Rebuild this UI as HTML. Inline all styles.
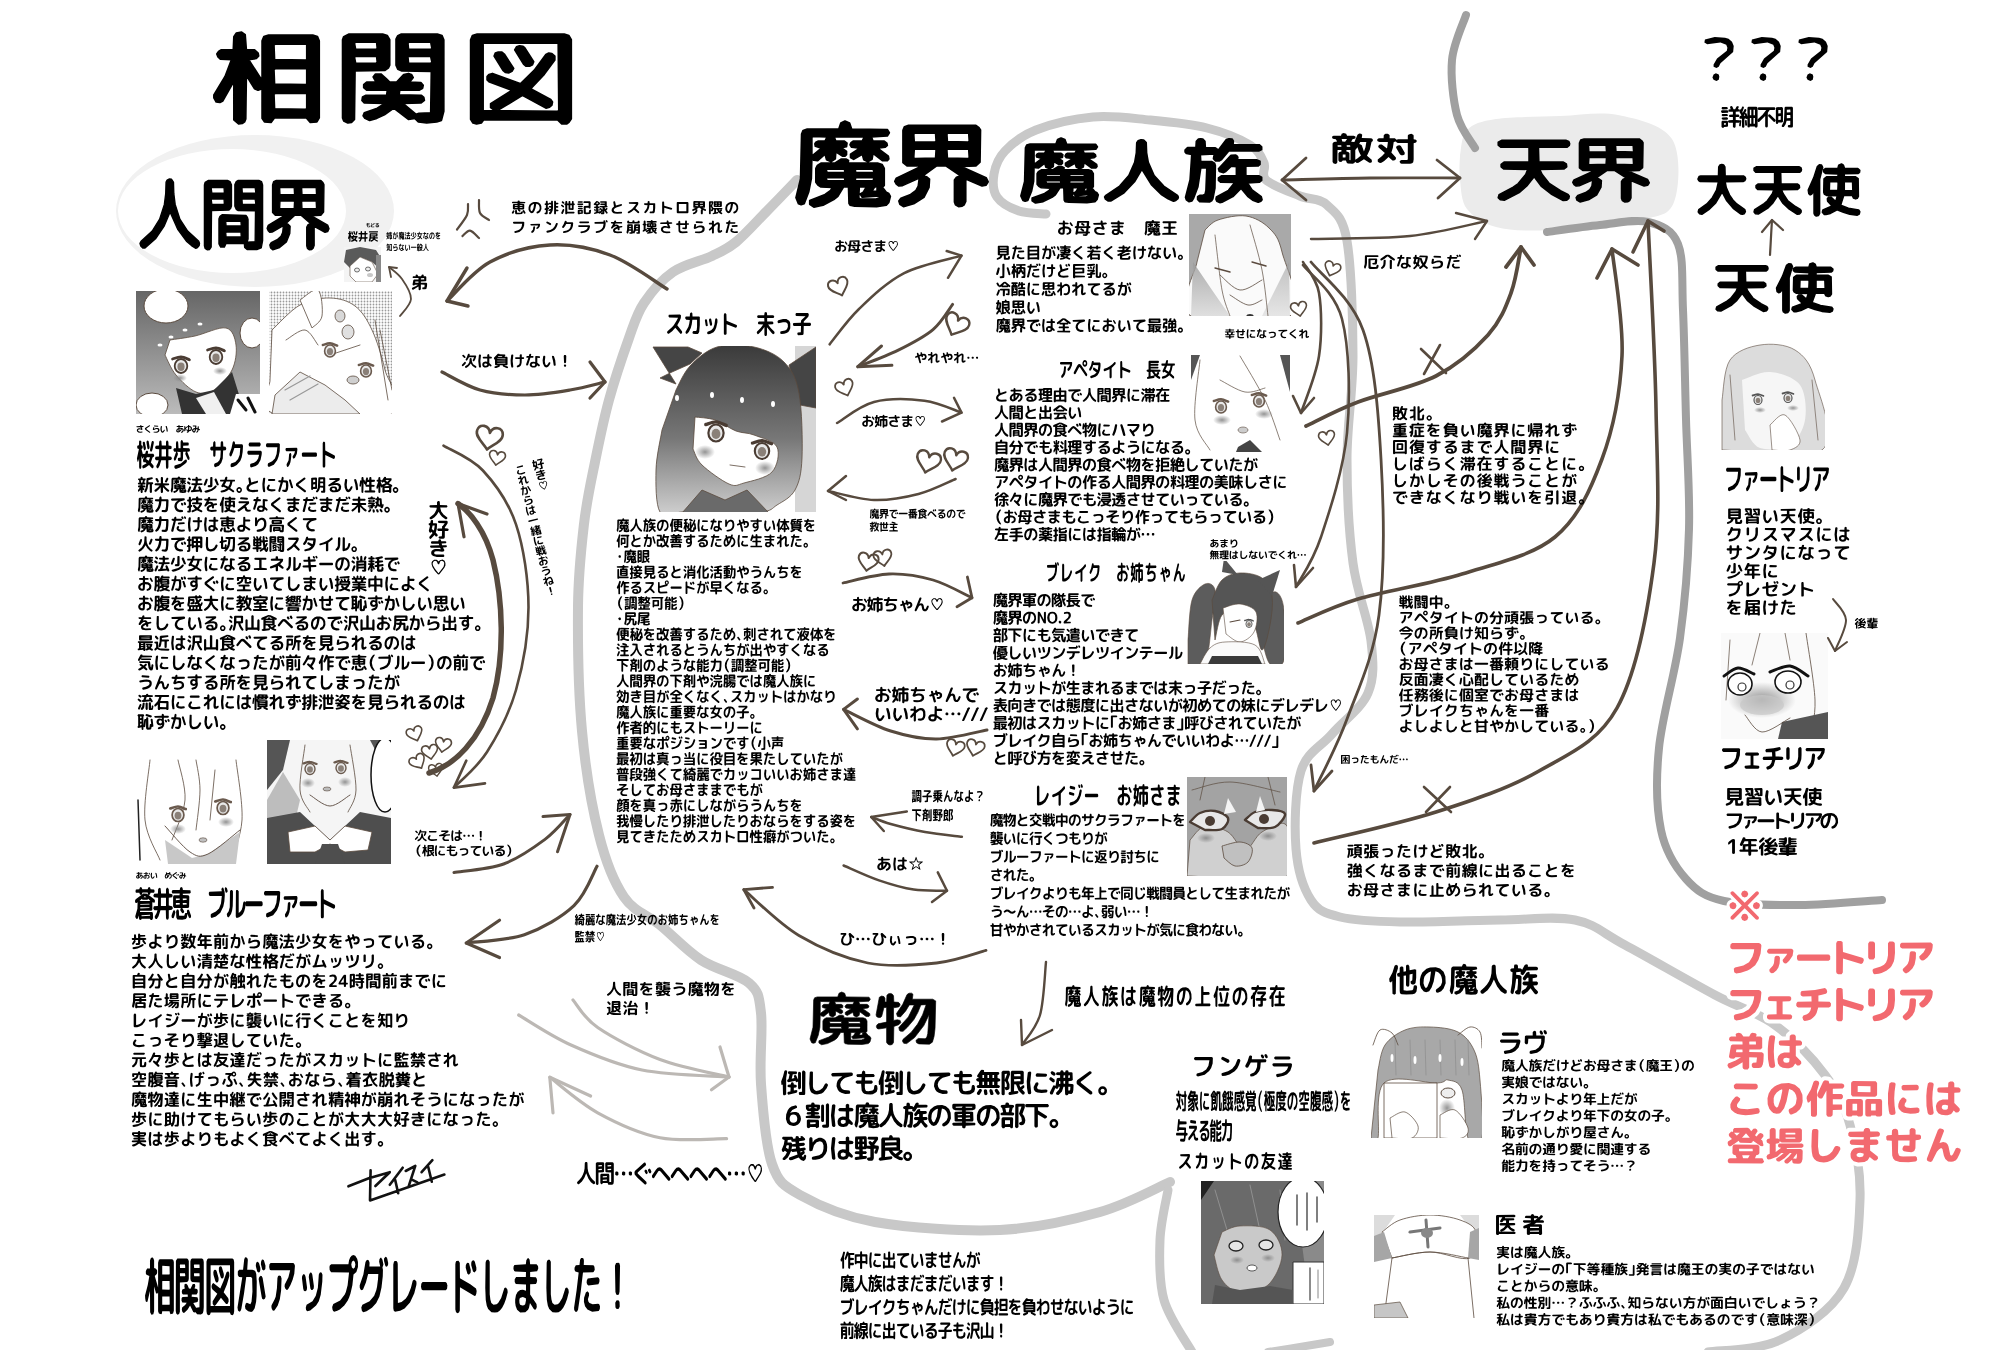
<!DOCTYPE html>
<html><head><meta charset="utf-8"><style>
html,body{margin:0;padding:0;background:#fff;width:2000px;height:1350px;overflow:hidden}
svg{display:block}
body{font-family:"Liberation Sans",sans-serif}
</style></head><body>
<svg width="2000" height="1350" viewBox="0 0 2000 1350">
<defs><path id="a" d="m27 145-5 3-6-1-4-8 0-6 19-36 11-33-19-1-4-4-2-6 3-5 4-3 21 0 1-26 4-7 9-2 6 5 2 30 14 0 6 6 1 6-4 5-13 2 23 41 0-78 3-8 8-3 75 0 8 3 3 8 0 151-4 8-11 1-7-9-54 0-6 9-11-1-4-7 0-58-7 3-6-3-14-26-1 85-2 6-4 3-6 1-8-8 0-76zm87-109 1 28 54 1 1-2 0-29-54 0zm0 48 1 28 54 1 1-2 0-29-54 0zm0 48 1 28 54 1 1-2 0-29-54 0z"/><path id="b" d="m14 178 0-153 2-6 9-5 57 0 8 3 4 8 0 50-2 5-6 5-51 1-1 95-5 6-6 1-7-4zm20-146 2 12 35 0 2-2-1-12-36 0zm0 27 2 12 35 0 2-2-1-11-36 0zm141-45 8 3 3 8 0 140-4 18-8 3-17 2-14-2-6-7-11 2-25-22-16 13-13 7-12 4-8-4-3-5 2-6 22-9 12-9-34-1-4-5 1-7 5-3 36 0 1-9-2-1-33 0-5-5 0-6 5-5 16 0-5-10 4-6 9 0 9 9 6 7 12 0 12-15 8-2 5 2 3 6-6 9 19 1 4 5-1 6-6 4-33 0-1 9 38 1 4 4 1 6-6 5-30 1 22 21 5-2 20-1 1-81-51-1-6-3-3-8 0-51 3-7 6-3zm-9 55-2-11-37 0-2 1 1 12 38 0zm0-27-2-12-37 0-2 2 1 12 38 0z"/><path id="c" d="m25 190-6-2-4-7 0-156 3-8 8-3 148 0 8 3 4 8 0 155-4 7-4 3-8 0-7-8-126 0-4 6zm11-157 0 131 127 1 2-2-1-131-127 0zm34 52-15-28 2-6 5-2 6 0 4 4 16 28-3 6-5 3-6-1zm35-12-15-28 3-6 5-2 6 1 3 3 15 27-2 6-5 3-6 0zm-58 35-4-4 0-7 3-4 6-2 48 20 23-26 20-31 5-3 5 1 5 5 0 8-18 28-23 28 34 21 3 5-1 6-4 4-6 2-40-25-40 28-8 1-6-5 0-8 36-26z"/><path id="d" d="m15 178-2-6 3-5 33-26 22-30 14-37 4-27 1-29 3-5 7-3 6 1 6 7 1 29 4 27 14 37 23 30 33 26 2 5-1 5-5 5-5 2-13-7-15-11-25-29-23-44-18 36-25 31-31 23-7 0z"/><path id="e" d="m14 178 0-153 2-6 9-5 57 0 8 3 4 8 0 53-2 5-6 5-51 1-1 92-5 6-6 1-7-4zm20-145 2 13 35 0 2-2-1-13-36 0zm0 28 2 13 35 0 2-2-1-12-36 0zm141-47 8 3 3 8 0 140-4 18-13 4-29 0-7-5-1-10-54 0-5 9-11 0-5-8 0-63 3-6 7-4 70 2 4 4 2 6 0 49-3 8 24-1 1-78-51-1-6-3-4-8 0-54 4-7 6-3zm-52 141-1-12-43 0-2 2 1 11 43 0zm0-28-1-11-43 0-2 2 1 10 43 0zm43-55-2-12-37 0-2 1 1 13 38 0zm0-28-2-13-37 0-2 2 1 13 38 0z"/><path id="f" d="m25 143-7 1-5-4-3-6 3-7 50-26-29 0-8-7 0-69 3-8 8-3 132 0 6 5 3 5-1 69-8 8-29 1 49 24 4 9-4 7-8 2-32-15 0 48-3 7-4 3-7 1-6-4-2-6 0-47 4-6 8-3-29-21-18 0-27 21 7 2 6 5-1 18-10 21-20 14-20 6-7-5-2-7 4-6 19-8 10-8 5-10 2-17zm87-110 1 16 41 1 2-2-1-17-41 0zm0 34 1 17 41 1 2-2-1-18-41 0zm-65-34 1 17 41 0 2-2-1-17-41 0zm0 50 2 2 41-1 1-17-2-2-41 0z"/><path id="g" d="m16 182-5-13 9-41 2-95 3-8 8-3 62 0 4-13 8-4 9 4 4 13 70 1 4 7-4 7-31 2 3 9 22 0 5 4 1 5-4 4-15 2 21 17 1 6-3 4-9 0-19-16-2 13-8 5-8-4-3-12-17 11-6-4 0-7 18-13-16-2-3-5 2-5 4-3 18 0 4-9-59 0 3 9 17 0 5 4-1 8-10 2 10 8 0 7-3 3-5 0-13-9-1 15-8 6-9-4-3-12-15 14-7-1-4-4-1 43-5 28-9 26-6 2zm28-144-2 2 0 40 19-17-12-4-1-5 2-4 4-2 14 0 4-9zm144 119 5 3 3 6-3 13-5 6-19 3-43-1-9-2-2-4-1-35-10 0-11 20-8 7-21 12-18 4-8-6 0-8 30-13 11-9 3-6-22-1-6-4-4-6 0-30 3-6 7-5 27 0 13-9 9 0 5 3-1 6 59 0 8 3 4 8 0 37-4 3zm-81-26-1-5-34 0-2 2 2 5 33 0zm0-18-1-5-34 0-2 1 2 6 33 0zm20-4 1 6 34 0 2-2-2-5-33 0zm0 22 2 2 33 0 2-5-2-2-34 0zm50 37-2-3-34 3-4-7 6-4 6-11-14 0-1 23 3 3 30 0zm0-22-12 0-5 9 10 0 0-6z"/><path id="h" d="m94 66-5 4-9 0-5-6 1-8 30-47 6-2 7 1 3 5 0 6-1 5 63 0 6 6 0 8-7 4-72 0zm1 121-5 1-7-4-2-6 1-6 29-19 15-22-34-1-5-5 0-7 7-6 36 0 0-26-13-1-13 15-5 3-10-3-2-8 30-38 11-1 4 4 1 4-2 6 48 0 7 4 0 9-4 4-30 1 0 25 2 2 29 0 7 4 0 9-5 5-29 2 11 20 22 19 2 9-3 4-6 3-13-6-12-11-16-23-20 24zm-45-20 5-3 2-11 2-61-1-2-14 0-7 54-10 31-4 8-7 2-6-5-2-7 11-50 4-71-13-3-3-4 0-6 6-7 20 0 1-18 5-6 5-1 5 1 5 6 1 18 24 1 4 3 1 5-1 6-5 3-35 2 1 20 27 0 6 4 2 7-1 64-5 30-3 6-5 3-23-1-5-6 0-8 5-4z"/><path id="i" d="m113 37-2 2 1 39 59 0 7 5 1 8-7 6-58 1 6 14 17 25 27 20 18 10 3 5-1 6-5 5-8 1-29-18-24-22-17-26-18 26-17 17-36 22-10-1-5-6 2-8 34-21 12-10 18-25 5-14-58-1-6-6 0-7 7-6 60 0 0-39-2-2-66 0-6-6 0-8 8-5 155 0 6 3 2 6-1 5-5 5z"/><path id="j" d="m17 40-5-1-4-5 0-7 3-5 5-2 33 0 3-11 9-5 12 4 4 12 31 0 8 5 0 10-5 4-9 2-6 16 15 2 14-44 8-8 9 1 5 6-2 20 40 1 7 2 4 6 0 10-6 5-8 47-13 36 22 24 1 12-4 6-8 0-25-21-25 21-8 1-8-7-3 8-8 4-23-1-5-6-3-13-15 0-5 8-9 1-6-8 0-44 5-7 9-3 0-9-17-1-1 1-1 75-6 8-11-2-5-9 0-112 6-8 15-3-6-15zm116 30 7 3 5 5 10 37 7-25 4-32-28 0zm-14 30-4 6 0 59 11-9 15-16-9-23-7-27zm-49 49 0-16-12 0-1 1 0 17 12 0zm23 14 0-56-19-1 0 10 9 3 5 7 0 41 4 1zm-2-85-16 0 1 9 16 0zm-39-38 3 16 13 1 9-17zm-19 39 1 8 16 0 1-1-1-8-16 0z"/><path id="k" d="m128 138-8 0-6-4-18-41 1-8 7-6 8-1 6 4 18 41-1 10zm-109-80-6-2-4-4 0-11 7-5 22-1 1-19 8-8 10 0 6 5 3 5 0 17 24 1 8 9 7-3 45-1 0-22 4-6 12-4 9 5 2 5 0 22 11 3 4 9-4 9-11 4 0 98-2 16-5 6-9 3-39 0-5-2-4-7-1-5 4-6 5-2 25 0 4-3 0-99-46-1-5-3-4-6-10 3-4 35-7 29 21 30 0 10-8 8-8 0-18-22-20 24-13 11-6 1-6-3-5-6 0-11 20-21 13-18-29-33-2-10 7-8 10-1 24 24 4-37-1-2z"/><path id="l" d="m186 60-3 6-5 3-66 1 4 21 12 26 12 17 14 14 29 20 2 7-4 7-7 2-5-1-28-20-23-26-17-31-23 38-25 24-25 16-8-2-5-6 2-8 29-20 20-22 15-26 7-30-67-1-4-3-3-5 4-9 6-2 64 0 1-32 4-6 7-2 7 2 4 6 1 32 66 0 6 4z"/><path id="m" d="m140 42-1 1 0 10 41 0 9 6 1 62-4 7-6 2-8-3-4-9-31 0-11 34 28 11 37 6 4 6-2 8-7 4-27-3-23-7-23-9-24 13-16 4-6 0-7-8 2-8 33-14-16-17-1-8 5-6 8 0 17 16 6-21-39-1-8-5-2-6 1-47 9-7 41 0 1-10-46-2-6-5 0-8 7-4 44 0 3-12 10-4 7 4 4 12 48 0 7 6-1 7-5 4zm-23 34-1-6-30 0-1 31 31 0zm23-6-1 1 0 30 29 1 2-2-1-30zm-110 110 0-78-9 12-5 2-5-4-2-13 20-43 13-39 7-6 8 1 4 8-11 42 0 119-4 7-8 2-6-4z"/><path id="n" d="m15 94-5-3-2-6 10-62 7-4 7 2 3 6 0 13 5 0 1-24 5-5 6-1 5 2 4 6 1 22 14 1 5 6-1 6-3 4-16 3 0 44 12-2 8 2 2 8-6 7-15 6-1 56-4 7-7 2-6-3-4-6 0-51-24 4-5-2-2-6 1-5 4-5 26-6 0-51-8 0-7 31-4 4zm142 74 5-5 3-13 4-66-16 38-28 42-24 21-9-1-4-8 2-6 25-25 19-28 15-32 11-36-16 1-9 26-12 25-20 27-13 14-7 0-4-3-2-10 29-37 18-42-15 0-11 21-16 21-9-2-3-10 19-32 13-34 6-5 8 0 4 4-2 17 62 0 9 6-2 96-3 28-5 20-9 7-32-1-7-4-2-8 7-7z"/><path id="o" d="m7 56-1-9 11-19 7-20 5-3 6 3 0 8-6 17-1 59-5 3-6-3-1-39-4 5zm87 10 4 2 1 5-2 12-5 6-8 2-21 1-16-1-5-3-1-7 0-42-7-1-2-7 2-3 7-2 0-14 4-4 5 0 3 2 1 14 8-2 0-16 3-3 5 0 3 4 1 12 17-3 5 2 0 24-2 15-2 3-4 2-6 0-4-3-1-6 6-4 1-19-10 2-1 33-3 4-5-1-3-4 0-29-8 1 0 43 11 2 18-2 3-3 2-10 3-2z"/><path id="p" d="m44 25-7 2-9 6-6 8-2 7-1 12 3 9 5 6 5-4 8-18zm-16 62-8-2-9-10-4-11 0-15 3-11 5-10 14-11 12-4 19-1 14 4 12 10 6 14 1 20-7 16-8 8-11 5-6-2-1-6 2-3 7-4 8-7 4-10 0-7-2-9-4-8-7-6-9-3-6 31-7 18-8 11z"/><path id="q" d="m9 91-4-8 4-19 1-48 2-4 4-2 30 0 2-5 4-3 7 2 2 6 33 1 3 4-2 4-14 2 1 3 10 0 3 2-1 6-7 1 9 7 1 3-2 2-5 1-7-7-2 5-3 2-5-1-2-5-6 4-4 0-2-2 0-3 9-6-5-1-3-2 1-4 2-2 8 0 1-3-27 0 1 3 8 0 3 2-1 5-4 2 3 3 0 3-4 2-5-3-1 6-5 2-4-2-2-4-5 5-4 1-2-3 0-3 8-7-5-2-1-4 3-3 7 0 1-3-14 0-2 51-5 19-3 2zm67 4-18-2-2-20-3 1-5 9-8 7-13 5-6-3 0-6 14-5 5-7-10-1-4-3 0-20 4-2 13-1 4-2 11-1 1 3 29 0 4 3 1 23 2 5 4 3-1 8-2 3-4 2zm11-12-18 1 13 2zm-18-6 3 1 2-5-5 0zm12 0 5 0 1-2 3-2-7 0zm-16-22 1 2 14-1-1-2zm0 9 1 2 14-1-1-2zm-12 1-1-2-14 1 1 2zm0-9-1-2-14 1 1 2z"/><path id="r" d="m8 90-2-4 1-3 12-10 9-9 7-10 5-11 3-13 1-21 2-3 3-1 5 0 3 3 1 22 3 13 5 11 7 10 9 9 12 9 0 6-2 3-5 1-13-8-12-14-11-21-9 17-12 15-15 11-3 0z"/><path id="s" d="m91 11 4 1 2 3-1 4-2 2-36 1-8 11-4 3-7-3 0-7-15 1 0 8 13 1 5 4-1 37-3 15-4 2-9-1-5-4 1-5 7-4 2-18 0-15-6 0-4 26-5 18-5 2-5-6 5-26 2-34-6-2-2-5 4-4 9-1 0-7 2-4 8 0 3 4 0 7 10 1 4 4 8-14 5-3 6 2 0 6zm-46 71 11-6 6-9-13-1-4-4 1-4 3-3 16 0 0-11-4 0-7 8-5-1-3-4 1-4 12-15 7-2 3 2 0 5 21 0 4 3 0 4-2 3-13 2 0 10 14 0 4 4-1 4-3 3-12 1 5 8 10 9 1 4-3 4-4 2-5-3-13-16-10 11-13 8-4-1-3-4 0-4z"/><path id="t" d="m31 24-5-3 1-5 17-4 18 1 6 2 6 5 3 7-1 10-22 19-3 6-4 2-5-2 0-4 6-10 17-13 1-5-2-5-10-4zm15 49 5 2 1 4-1 5-4 2-5-2-2-4 2-5z"/><path id="u" d="m68 95-3-1-3-3 0-17-20 0-4-4 0 17-3 4-17 1-3 4-5-1-4-3 0-22 3-4 24-1 5 4 1-4 3-2 20-1 0-12-16 0-4-4 1-3 3-3 16-1 0-11-18 0-4-4 0-4 2-2 9-1-3-8 2-4 6-1 4 3 5 10 8 0 7-11 8-2 3 4-4 8 6 2 3 3-1 3-3 3-16 1 0 11 14 0 4 6-1 3-3 2-14 0 0 12 18 1 3 3 0 4-5 4-16 0-1 18-3 3zm-57-77-5-4 1-3 2-3 23 0 5 3 0 3-3 3zm-2 15-3-2-2-2 0-4 3-3 28 0 5 4 0 3-3 3zm3 14-5-4 0-3 3-3 23 0 5 4-1 3-2 2zm0 14-5-4 0-3 3-2 23-1 5 4-1 3-2 3zm15 21 0-7-9 1 0 6z"/><path id="v" d="m4 85 3-21 4-2 4 4-3 22-6 1zm35 1-3 0-2-3-1-18 4-4 4 2 2 19-1 3zm50-79 4 2 2 4 0 76-3 5-8 0-3-4-24 0-3 4-7-1-2-4 0-32-5 1-3-2-7 1 0 35-4 3-5 0-3-5 0-33-10 0-3-4 2-6 8-3 0-2-9-13-1-5 3-7 5 1 7-12 5 0 3 4-8 19 2 3 9-15 4-1 3 1 2 5-6 11 7 2 4 13 0-35 1-4 4-2zm-55 38-2-8-5 8zm30 33 0-24-7 0 0 24zm0-36 0-23-7 0 0 23zm18 36 0-24-7 0 0 24zm0-36 0-23-7 0 0 23z"/><path id="w" d="m68 39 27 22 1 5-3 3-4 2-3-1-27-23-1-4 3-4 3-1zm-61 30-2-5 1-4 25-20 18-19-38-1-4-5 2-5 4-1 76 0 3 1 2 4-1 3-3 3-24 0-9 12 0 57-2 4-7 1-4-4 0-44-30 25-4 0z"/><path id="x" d="m87 7 3 1 2 4 0 76-1 4-3 2-17 0-4-3 0-5 3-3 5 0 4-1 0-16-18-1-5 15-9 12-7 0-3-2 0-4 8-13 3-9 3-54 4-3zm-7 47-1-13-17 0 0 9 0 5zm0-24-1-12-17 1 0 12zm-67 49-3-1-2-4 0-62 4-3 26-1 3 2 2 3 0 57-5 3-18 0-2 5zm7-58 0 14 12-1 0-14zm0 26 0 15 12-1 0-15z"/><path id="y" d="m8 71-3-9 11-30-8-1-2-6 3-4 7-1 1-12 3-3 3 0 6 3 0 12 6 1 2 4-1 5-6 2 7 16 13-1 4-8 6-2 6 3-2 7 30 0 4 3 1 3-1 3-8 3-9 16 14 9 1 5-4 4-5 0-16-10-19 8-14 3-4-5 2-5 22-7-9-4-5 2-4-2-2-6 5-8-3-1-3 4-3 0-5-8 0 36-2 4-5 1-3-1-2-4 0-28-5 10-2 1zm47-7 14 5 5-7 2-4-17 0zm-14-55 4 0 3 2 6 17-1 5-5 3-3 0-3-3-5-17 0-5zm21-4 4 1 3 2 5 18-1 5-4 2-4 0-3-3-5-18 1-4zm31 2 4 2 0 4-7 21-4 6-7 0-2-2-1-3 9-25 3-3z"/><path id="z" d="m10 68-3-2-3-3 3-6 19-1 1-23-18-1-4-3 0-3 4-4 17-1 1-12 3-3 5-1 4 2 2 14 23 0 0-12 4-4 4 0 5 4 1 12 15 2 2 4-2 5-16 1 0 22 15 2 3 3 1 3-5 4-14 1 0 22-3 4-6 1-4-4-1-23-25 0-9 17-8 8-5 0-4-3-1-4 9-10 4-8zm30-34 0 22 24 0 0-23-23 0z"/><path id="A" d="m10 41-4-3-1-5 4-3 10 0 0-17 3-5 6 0 3 4 2 18 11 0 0-21 4-5 7 1 3 7 28 0 3 4-2 5-29 1 0 7 32 1 4 2 1 5-3 3-12 1 13 19-1 5-4 2-5-2-13-16 0-4 4-4-16 0-1 21-2 6-6 3-17-1-3-4 1-5 14-2 0-17-20-1 5 4 0 5-12 18-6 1-3-3-1-4 13-21zm59 25 6-1 4 4-2 5-8 5-28 12-23 4-7-3-1-4 2-4 34-6z"/><path id="B" d="m12 37-5-3 0-6 4-3 11-1 1-12 5-4 4 0 3 3 1 14 27 0 1-14 4-3 6 0 3 4 1 12 12 1 4 5-1 4-3 2-13 1-2 25-8 14-13 9-20 5-6-3 0-6 3-3 16-4 10-6 5-10 2-21-28 0-1 16-2 3-5 1-3-1-2-3 0-16z"/><path id="C" d="m14 54-2-3 0-4 11-17 7-19 3-3 8 1 2 8 39 0 4 5-2 20-5 16-8 12-19 13-17 5-12 2-4-2-1-5 3-5 23-5 15-9 9-14 3-21-32 0-7 13-9 12-4 2z"/><path id="D" d="m16 50-4-2-2-4 1-4 4-2 68 0 4 1 2 4-1 7-6 17-13 13-13 6-26 5-4-3-1-6 3-3 19-3 13-6 9-8 5-12zm7-38 55 0 4 3 1 4-3 4-3 1-55 0-4-3-1-4 3-4z"/><path id="E" d="m18 27-4-2-2-4 1-4 4-3 66 0 5 3-1 22-6 17-8 12-18 14-27 7-6-3 0-6 2-3 22-6 15-9 9-14 4-21z"/><path id="F" d="m24 39-3-1-2-4 1-3 3-2 57-1 3 2 1 4-3 13-10 13-8 3-4-3-1-4 9-9 4-8zm20 6 5 1 2 4-2 14-3 10-5 8-7 6-5 1-3-3-1-6 11-12 3-20z"/><path id="G" d="m14 57-4-2-1-4 0-5 5-3 72 0 4 2 1 4 0 5-5 3z"/><path id="H" d="m28 91-4-1-1-4 0-72 3-5 6 0 4 3 1 25 51 16 2 3-1 5-3 2-3 1-46-13 0 36-3 4z"/><path id="I" d="m69 25-4-1-2-6-24 0-3 6-4 1-5-1-3-5-16 0-2-4 2-5 16-1 2-4 4-2 5 1 3 5 25 0 3-5 5-1 4 2 2 4 16 1 3 4-3 5-16 0-3 5zm-58 23-4 0-3-3 0-4 3-4 36-16 17 1 34 15 3 3 0 4-2 3-10-1 0 21-4 3-53 0-1 3 56 0 3 1 2 4 0 13-4 5-7 0-3-4-39 0-2 3-7 1-4-5 0-8-6 9-5 1-5-4-1-4 10-21 1-18zm23 34 1 3 40-1-1-3zm38-20-1-2-43 0 1 3zm0-10-1-2-43 1 1 2zm-28-20 13 0-3-2-4-2zm-19 10 51 0-11-6-2 3-24 0-3-3z"/><path id="J" d="m42 26 1-5-34 0-3-3 0-4 4-3 33 0 2-6 6-2 5 2 2 6 35 1 2 6-4 3-34 1 1 3 25 1 4 2 1 3-1 28-4 3-28 0 9 9-2 4-4 2-4-1-8-7 0-4 3-3-32 0-5-4 0-27 2-4 4-1zm1 26 0-4-18 0 0 5zm0-13 0-4-18 0 0 5zm14-4 1 5 18-1-1-4zm0 13 1 5 18-1-1-4zm-50 42-2-3 0-5 8-13 6-1 4 6-4 9-5 8zm89-7 0 5-5 3-5-2-7-11-2 10-5 5-17 2-23-1-5-5-1-18 4-5 6 0 3 4 1 12 1 2 23 0 5-8 8 0 0-7 5-3 5 2z"/><path id="K" d="m14 28-3-1-2-4 0-4 3-3 58-1-2-5 1-3 4-3 4 1 6 11 1 9-2 18-5 15-14 17-21 11-20 4-4-3 0-7 3-2 21-6 15-9 9-14 4-21zm80-22 3 7 0 3-4 3-5-1-4-8 0-4 4-3z"/><path id="L" d="m55 90-3-1-2-4 1-71 2-3 6 0 5 4 0 61 8-4 6-5 4-8 3-12 4-4 6 2 2 4-3 13-4 9-6 8-8 5-10 4zm-45-4-2-7 9-8 5-11 1-45 4-4 6 0 4 4 0 16-1 25-3 14-5 9-8 7-5 3z"/><path id="M" d="m13 84-1-3 2-4 23-15 9-8 15-18 7-10-45-1-4-5 2-6 57-1 5 4-1 10-6 11-12 16 24 23 1 5-3 4-4 2-3-2-25-22-16 13-17 10-4 0z"/><path id="N" d="m17 33-5-4 0-6 4-2 19 0 1-11 5-4 4 0 3 3 1 12 33 0 4 2 0 30-3 26-3 5-4 4-14 0-11-1-2-3 0-4 4-4 13 0 4-3 2-13 0-27-24 0-3 18-5 14-10 15-10 8-6-3-1-5 15-20 4-11 3-15z"/><path id="O" d="m78 28 5 4 0 11-6 20-6 10-8 8-18 7-10 1-3-2-2-3 3-5 18-6 11-8 6-13 4-21 2-2zm-55 26-4-19 5-4 4 1 2 3 4 20-2 2-4 1-3-1zm28 2-3 0-3-3-5-17 1-5 4-2 3 0 3 2 5 18-1 5z"/><path id="P" d="m7 86-2-4 2-4 18-13 13-13-24-1-3-4 1-4 4-3 28 0-1-13-32 0-4-4 1-5 4-2 31 0 2-10 7-2 5 3 1 9 31 0 5 4-1 4-3 3-32 0 0 13 27 0 4 3 1 5-4 3-23 1 13 13 18 13 2 5-2 4-6 2-7-5-24-22 0 28-3 5-7 0-3-4 0-30-14 14-16 13-4 1z"/><path id="Q" d="m18 42 1-4 3-3 24-4 17 0 14 6 4 5 2 6 0 18-4 7-6 7-9 4-12 3-14 1-6-2 0-7 4-2 21-3 9-4 5-10-1-10-5-5-7-2-12 0-23 4-3-2z"/><path id="R" d="m10 57-4-1-2-4 0-3 3-3 37-1 2-10 22-15-47-1-3-2-1-3 1-4 3-2 58 0 3 1 3 5-3 8-23 18 0 5 33 0 3 3 1 4-2 3-3 2-32 0-1 29-1 4-4 2-22 1-3-2-2-3 1-4 2-2 15-1 1-24z"/><path id="S" d="m34 55-9 5-5 6 1 8 7 4 4 0 3-2zm-3 35-9-2-8-4-5-7-2-8 2-9 5-7 9-6 12-4 0-14-20-1-3-3 0-5 4-2 19 0 1-10 3-2 4-1 4 4 1 8 18 1 4 4-1 4-4 2-17 0 0 12 19 2 13 8 6 11-2 16-8 8-12 5-5 0-2-4 0-4 14-8 2-6 0-6-3-4-6-4-16-1-2 30-5 5zm54-72 10 16-1 4-3 2-6-3-10-16 4-5 3 0z"/><path id="T" d="m8 50-4-2-1-5 3-4 8-1 3-25 3-4 66-1 3 5-2 25 7 2 3 4-3 5-9 2-2 19 9 2 1 4-1 4-10 2-4 11-8 4-16-1-4-5 3-4 14-1 1-4-47 0-3 6-8 1-3-5 6-33zm22-31-2 20 45 0 2-21zm-4 32-3 20 47-1 2-20zm17-21-3-6 6-4 3 0 11 7 2 6-5 5-3-1zm-4 31-3-3 0-3 6-4 15 9 2 6-5 4-4-1z"/><path id="U" d="m15 30-3-1-2-3 0-4 3-2 40-2 1-10 2-2 5 0 4 3 1 9 19-1 5 4 0 5-4 2-18 2 9 21 0 4-3 3-6 2-17-6-13 1-8 4-2 6 3 8 8 5 14 2 22-1 3 5-2 5-23 2-21-3-10-7-6-9-1-11 3-8 7-6 10-4 12 0 14 3-6-16z"/><path id="V" d="m39 81 9-3 3-6-1-3-10-2-7 1-4 4 3 7zm-22-54-4-1-2-3 0-4 3-3 36 0 1-7 5-3 6 2 2 8 23 1 2 5-4 5-22 0 1 9 17 0 3 2 1 3-1 4-3 2-17 0 0 16 20 15 0 4-2 4-6 1-13-11-6 11-9 4-16 0-10-4-4-6-2-5 3-12 5-5 8-3 18 1 1-10-32 0-4-4 0-4 4-3 31 0 1-8z"/><path id="W" d="m12 90-4-1-2-3 1-4 3-3 33-1 0-24-24-1-3-2-1-3 1-4 3-2 24 0 0-20-31-1-4-4 2-6 4-1 72 0 4 1 2 3-1 4-3 3-31 1 0 20 24 0 3 2 1 4-1 3-3 2-24 1 0 24 33 1 4 4-2 6-4 1z"/><path id="X" d="m17 25-3-1-3-4 1-4 4-3 71 0 4 2 1 3-2 12-11 18-9 7-3 1-5-2-2-7 12-11 6-11zm26 8 5 1 3 4-2 19-4 13-7 10-10 8-4 1-4-3-1-6 13-14 4-13 2-16 2-3z"/><path id="Y" d="m7 69-2-2 1-5 22-31 8-7 7-1 6 1 6 5 39 41 1 5-4 6-6-1-38-40-5-3-25 33-5 2zm67-44 5 2 5-2 2-5-2-5-5-2-5 2-2 5zm-6-16 5-4 6-1 6 1 6 4 3 5 1 6-1 6-3 5-6 4-6 1-6-1-5-4-4-5-1-6 1-6z"/><path id="Z" d="m13 54-2-3 0-4 12-17 6-19 3-3 8 0 1 8 41 0 4 4 0 12-3 18-7 15-10 11-13 8-28 7-4-1-2-3-1-4 2-3 25-7 15-10-22-12-2-3 0-3 3-5 4 0 25 11 4-22-35-1-6 14-9 11-4 2z"/><path id="ab" d="m10 53 0-4 3-3 20-5 17-7 16-9 16-12 4 0 3 3 0 7-26 19 0 44-4 5-7 0-3-4 0-39-32 9-5-1z"/><path id="bb" d="m10 60-5-2-1-5 3-3 10-1 0-37 2-4 3-1 60 0 4 4 0 4-4 3-51 0 0 4 49 0 3 4-3 5-49 0 0 5 49 0 3 4-3 4-49 0 0 5 62 1 3 3 0 4-4 3-10 0 5 4 0 4-8 10 15 7 0 6-5 3-13-5-19-10 0 6-4 4-44 5-2-4 0-4 10-4 0-21zm45 0 12 12 11-12zm-25 1 1 20 24-4-16-17z"/><path id="cb" d="m10 31-3-1-2-3 2-6 25-1 5-13 4-3 5 0 3 3-2 13 46 1 2 4-2 5-13 1-6 21-8 15 23 16 1 6-3 3-5 0-24-16-12 8-14 6-17 3-4-1-3-4 3-5 21-5 14-9-20-9-6 3-6-2-1-6 15-24zm56 0-23 0-11 19 22 10 8-12z"/><path id="db" d="m23 90-4-2-2-4 0-68 3-5 7-1 5 5 0 61 11-1 14-6 7-5 9-11 6-11 4-3 6 3 1 6-7 13-13 15-17 9-14 4z"/><path id="eb" d="m8 31-4-3-1-4 3-4 6-1 1-11 4-3 5 0 2 3 0 12 11 0 2-4 3-3 20 0 1-6 5-3 6 2 1 7 19 0 4 3 1 4-3 4-21 2 0 9 17 0 4 4 1 37-2 8-5 3-15 0-2 8-4 1-5-1-2-4 0-45-8 1-1 37-2 3-5 0-3-2-1-3 0-43 5-4 15 0 0-10-21 0-2 21-5 19 6 11 0 5-3 4-4 0-5-7-9 11-7 5-4-1-1-7 14-19-4-5-3 3-3 0-4-6 5-28zm65 16 0 28 9 0 0-28zm-55 1 5 6 2-4 2-19-5 0z"/><path id="fb" d="m15 29-5-3 1-6 4-2 16 0 3-9 4-3 4 0 3 3 0 9 41 0 3 2 1 4-1 3-3 2-44 1-6 16 14-4 11 0 11 3 10 8 3 12-1 8-3 6-10 7-12 4-14 1-17-2-4-5 2-5 26 1 9-2 9-7 1-10-3-5-12-3-11 2-14 5-8-1-3-6 9-23z"/><path id="gb" d="m22 59-5-1-2-5 2-3 11-5-3-12 2-4 4-2 4 2 5 12 9-3-1-10 3-3 4-1 4 3 2 7 10 0 7 2 6 5 3 6 0 11-4 7-8 6-9 2-7-1-2-6 3-4 9-1 5-3 1-9-5-4-6 0 1 7-4 4-6-2-3-6-9 3 10 34-1 4-3 2-4 1-4-3-9-33z"/><path id="hb" d="m13 90-3-3 0-5 28-70 3-3 7 0 2 5-12 31 10-3 9 3 5 8 4 21 4 4 2 0 4-4 6-14 2-3 5-1 3 3 1 4-6 16-10 10-12 1-7-5-4-7-4-20-5-4-5 2-5 5-15 27-3 2z"/><path id="ib" d="m87 26 3 2 1 4-5 17-8 14-9 10-13 8-24 8-12 1-3-2-2-4 1-3 3-3 24-5 17-9 11-14 8-22 3-2zm-8-6-5 0-4-7-1-4 3-3 6 1 4 7 0 4zm15-13 4 7-1 3-4 3-4-1-5-8 1-4 4-3zm-78 40-3-2-2-3 2-4 3-3 24 5 4 1 1 4-1 4-3 2zm30-32 3 2 2 3-2 5-2 2-26-4-3-2-2-4 2-4 3-2z"/><path id="jb" d="m77 10 3 1 2 4 0 23-1 15-7 17-7 9-17 9-16 3-4-2-1-4 2-5 19-6 7-5 6-6 3-8 2-11 0-29 4-4zm-54 45-3-1-2-4 0-34 3-5 5-1 3 1 3 4 0 35-3 5z"/><path id="kb" d="m24 87-5-4 0-4 2-3 23-1 0-34-20-1-3-4 1-4 4-3 48 0 5 4 0 4-3 3-20 1 0 34 22 1 3 4-1 4-4 3z"/><path id="lb" d="m13 56-4-1-2-4 1-4 3-3 36-1-1-15-25 0-3-5 3-6 31-3 26-4 4 3 0 6-15 6-7 1 1 17 28 1 4 3 0 5-5 4-28 0-7 20-11 10-14 5-4-3-2-5 2-3 10-4 6-5 4-6 2-9z"/><path id="mb" d="m19 25-3-2 0-4 2-4 4-2 24 11 2 3 1 4-3 4-4 2zm69-3 3 2 2 4-6 17-7 13-10 11-21 12-16 5-12 1-3-2-1-4 0-4 3-2 23-6 17-10 12-14 9-21 3-2z"/><path id="nb" d="m72 5 6 1 4 6 0 5-3 3-5-1-4-7-1-4zm22 1 3 7 0 3-4 3-4-1-5-8 0-4 5-3zm-85 47-2-3 0-3 9-17 6-18 3-4 5 0 4 3-1 12 56 0 3 5-3 6-20 1-2 22-4 11-10 12-14 8-10 1-2-2-1-5 2-3 14-6 7-8 5-13 1-17-26 0-11 19-5 1z"/><path id="ob" d="m16 55-3-1-3-4 1-24 4-3 26 0 0-12 4-4 5-1 4 3 1 14 28 0 4 2 1 4-1 18-5 19-12 13-12 7-24 5-5-3 0-5 3-4 20-4 12-8 8-11 2-10 0-11-50 0-1 16-3 4zm54-50 6 1 4 6 1 5-3 3-6-1-4-7 0-4zm23 1 3 7 0 3-4 3-5-1-4-8 0-4 4-3z"/><path id="pb" d="m14 95-4-1-2-4 0-78 3-5 77-1 5 4 0 4-4 3-42 0 1 5 36 0 4 2 0 4-2 3-21 1 0 10 23 1 4 2 0 5-3 2-22 1 7 10 15 8 1 3-1 4-6 2-7-3-7-5-10-11-15 14-12 5-5-2-1-5 16-10 8-10-23 0-3-3 0-4 4-3 24-1 0-10-10 0-7 7-7 0-2-2 0-4 10-16-15 0 0 63 69 1 3 2 1 4-4 4-69 0-2 4z"/><path id="qb" d="m9 41-5-4 0-3 3-3 32-1-1-8-23-1-3-3 2-5 3-2 21 0 2-5 4-3 7 2 2 6 16 1 4 6 9-9 5 0 4 3 0 4-14 14 15 1 4 4 0 4-3 2-30 0-10 7 30 0 4 3 1 39-2 3-3 2-7 0-2-4-39 0-3 4-9-1-2-4 0-26-12 3-3-3-1-5 3-4 32-14zm65 40 0-6-40 1 1 5zm-22-59 1 8 4 1 11-9zm22 37-39 0 0 6 39 0z"/><path id="rb" d="m15 147-3-8-1-10 17-33 10-28-18-4-4-4 0-8 8-8 18 0 0-25 5-7 9-3 8 4 4 6 0 24 12 2 7 6 0 6-2 5-13 6 21 36 0-78 5-9 7-2 77 0 7 3 3 6 0 153-5 9-15 2-4-3-3-6-46 0-2 7-4 2-15-2-5-7 0-59-6 4-7-2-12-21 0 78-5 9-12 2-8-8-1-67-16 34-6 1zm104-109 0 25 45 0 2-2-1-24-45-1zm0 48 0 24 45 1 2-2-1-25-45 0zm0 47 0 25 45 0 2-1-1-25-45 0z"/><path id="sb" d="m23 190-8-4-3-8 1-158 9-7 61 0 6 2 5 6 0 55-2 6-8 5-46 1 0 92-5 7zm15-156 1 9 31 0 2-2-2-9-31 0zm0 27 1 8 31 0 2-2-2-8-31 0zm139-48 8 3 3 8 0 142-2 12-4 7-12 4-24-1-9-6-8 1-7-2-20-20-15 12-19 10-6 1-8-3-4-7 2-7 19-8 10-7-28-1-5-6 1-8 6-3 33-1-1-7-30 0-6-4-1-6 3-6 16-3-3-6 2-8 10-1 8 4 9 11 10 1 14-15 13 0 3 6-5 8 16 2 4 4 0 7-7 6-30 0-1 7 36 2 5 7-4 8-27 3 18 15 21-2 1-78-48-1-8-5-2-6 0-54 3-6 7-3zm-15 54-1-8-33 0-2 2 2 8 33 0zm0-26-1-9-33 0-2 2 2 9 33 0z"/><path id="tb" d="m24 191-8-4-3-8 0-157 5-7 6-2 152 0 8 3 3 8 0 155-3 8-7 4-11-1-6-7-120 0-5 7zm15-156 0 127 121 0 1-1 0-127-121 0zm29 48-11-19-1-8 3-5 6-3 8 1 4 4 12 21 0 7-3 5-7 3-7-2zm34-12-11-19 0-9 3-4 7-2 7 2 4 5 10 18 0 7-4 5-5 2-7-1zm-51 39-5-4-1-7 4-6 7-3 44 17 20-23 19-28 10-3 7 5 1 10-16 27-20 24 17 11 11 7 3 5 0 7-7 7-9 0-32-20-34 24-9 2-9-6 0-9 29-23z"/><path id="ub" d="m132 39-1-5 2-6 4-4 6-1 8 4 8 14 1 6-2 6-4 3-6 1-8-3zm37-22 6-1 7 2 10 18-1 10-9 5-10-3-9-17 1-8zm-142 54-5-2-4-4 0-11 8-6 25 0 7-32 5-6 6-1 8 2 4 6-4 31 32 0 14 3 6 3 5 8 3 23-1 45-3 19-9 20-12 10-10 2-19-2-17-7-3-9 5-9 7-2 22 5 7-8 6-32-2-42-7-4-30 0-14 52-17 49-5 6-7 2-9-4-3-9 30-95zm147 3 19 58-4 7-8 3-9-2-4-6-19-57 4-6 9-4 7 2z"/><path id="vb" d="m34 50-7-2-4-8 2-9 7-4 143 0 6 3 4 6-4 25-10 18-14 17-16 14-8 2-9-5-4-6 1-6 23-23 11-22zm52 16 10 2 5 8-3 38-8 27-13 20-21 15-9 1-7-5-3-7 1-5 19-18 7-9 8-27 3-32 4-6z"/><path id="wb" d="m155 56 6 2 5 6-1 21-10 42-12 20-17 14-37 15-19 3-7-4-2-7 5-10 37-11 21-17 13-25 6-42 5-5zm-110 52-8-33 1-6 5-5 6-2 7 3 4 6 9 33-1 6-5 5-7 1-7-2zm58 4-7 0-6-5-10-36 2-8 7-6 8 1 5 5 10 36-1 8z"/><path id="xb" d="m159 41 9 4 9-4 4-9-4-9-9-4-9 4-4 9zm9-39 12 2 12 10 5 10 0 16-10 15-18 8-7 34-12 26-8 12-9 10-22 16-28 12-16 4-19 3-7-2-4-5-2-8 7-9 43-11 29-19 7-8 11-21 9-40-113-1-9-7-1-9 2-5 9-4 108 0 4-13 7-8 9-6z"/><path id="yb" d="m189 13 6 14-1 6-7 6-9-2-9-16 0-8 9-6 7 2zm-168 97-5-6 0-7 23-34 13-38 5-6 11-2 6 3 4 6-1 12 68 0-7-15 2-8 5-4 5-1 9 7 6 15-6 9 3 7-1 21-8 35-13 28-20 21-27 15-34 11-20 3-9-4-4-11 7-9 45-11 29-17 13-17 5-11 6-24 2-16-64 0-14 26-18 22-8 3z"/><path id="zb" d="m46 180-8-3-3-8 0-137 4-9 5-2 11 0 6 4 2 5 1 123 23-3 27-11 14-11 18-23 11-22 9-4 13 5 2 6-1 6-13 26-27 29-34 19-28 7z"/><path id="Ab" d="m29 113-8-3-4-8 2-10 8-5 144 0 8 3 4 8-2 10-8 5z"/><path id="Bb" d="m114 27 6-1 7 2 11 21-1 9-11 6-9-3-11-19 1-9zm50-3 9 17 0 9-11 7-10-3-11-20 0-8 4-5 8-3 7 2zm-111 161-8-4-4-8 0-142 2-6 4-4 14-1 8 6 1 49 65 19 36 13 4 8-2 8-4 6-7 2-92-28-1 73-5 7z"/><path id="Cb" d="m97 183-21-1-21-10-9-11-6-18-3-37 2-80 3-6 7-3 9 0 7 6 0 102 4 17 6 11 14 5 19-1 10-4 19-16 20-31 10-2 9 6 2 9-11 21-11 15-13 13-14 8-15 6z"/><path id="Db" d="m78 161 11-1 7-3 5-13-1-6-19-4-15 2-5 3-2 5 1 9 4 5zm-45-107-6-2-5-6 1-8 5-5 72-2 3-13 8-6 7 0 6 5 3 14 40 0 6 3 4 4 1 6-7 9-44 2 0 16 36 1 5 4 3 6-3 7-5 4-36 1 0 32 40 30 2 9-6 8-11 0-26-20-6 15-6 6-17 8-32 1-20-9-9-12-3-10 0-10 5-14 10-10 16-6 18-1 19 3 0-19-64-2-7-6 0-9 9-7 61 0 1-16z"/><path id="Eb" d="m109 98-7-3-4-6 1-7 6-6 63-4 7 2 4 6-1 7-6 7zm61 57 7 2 5 6-1 9-7 6-41 2-30-7-15-10-7-14 1-13 11-16 10-4 10 5 0 8-7 12 3 7 7 5 20 4zm-143 25-7-5-1-7 16-55 13-56-21-3-5-5 0-7 8-8 23-1 4-16 6-6 10 0 6 3 2 6-1 13 61 1 6 5 2 9-5 6-5 2-64 1-14 60-17 57-7 6z"/><path id="Fb" d="m99 128-7-2-5-8-3-82 7-9 15-1 6 2 4 8-3 81-4 9zm5 16 5 2 4 4 1 14-6 7-11 1-6-2-4-4-1-14 7-7z"/><path id="Gb" d="m55 65-6 1-3 2-1 4 1 4 3 3 6 1 8-3 1-9zm1 26-10-1-8-4-4-6-1-11 4-9 6-4 9-3 12 1 0-19-24-1-4-3 0-4 5-4 23 0 0-11 2-3 6-2 5 4 0 11 12 1 4 4 0 3-3 4-13 1 0 27 13 13 1 5-2 3-4 1-9-6-7 10zm-37 0-4-1-3-4-4-36 4-37 3-3 5-1 3 2 2 3-4 36 4 36-2 4z"/><path id="Hb" d="m3 41 4-29 4-3 4 1 2 3 0 6 2 1 1-11 4-4 7 1 1 4 0 9 6 1 3 3-2 6-7 2 0 22 7 0 3 5 11-14 8-18-6 0-12 20-4 0-3-4 0-5 15-32 5-1 4 1 2 3-2 7 33 0 3 5-3 55-2 15-5 4-18 0-4-6 3-5 10 0 2-2 3-30-13 23-10 13-10 6-4-1-2-4 1-4 12-12 9-13 8-16 6-17-6 0-11 24-14 19-6 1-4-7-6 2 0 25-4 5-5 0-3-4-1-23-11 2-4-4 3-6 12-4 0-25-3 0-2 13-3 3-5 0z"/><path id="Ib" d="m11 92-4-1-2-4 1-4 3-2 31-1 0-68 2-5 7-1 4 4 1 22 30 0 3 1 3 4-1 4-3 2-33 1 0 36 38 0 4 5-2 6-4 1z"/><path id="Jb" d="m6 56-2-10 11-18 6-20 6-3 5 3 0 7-5 17-1 60-5 3-6-3-1-40-5 6zm60-53 5 4 1 8 23 1 2 5-2 4-3 1-53 0-4-1-2-3 2-6 23-1 1-9 3-3zm-22 29 3 1 3 3 7 32-1 5-5 2-3 0-3-4-7-32 1-5zm49 49 4 2 1 4-1 4-4 2-58 0-3-3-1-4 2-4 4-1 28 0 8-21 6-25 5-3 6 2 2 4-6 22-7 21z"/><path id="Kb" d="m58 83 3-2 0-12-24 0-4-4 0-4 5-4 23 0 2-7 13-9-31 0-4-4 1-5 4-2 44 0 3 4 0 5-9 9-9 7 0 2 18 1 3 4-1 5-4 2-16 0 0 19-3 5-13 1-9-1-3-4 1-4 3-2zm-53-23-1-5 2-5 9-8 2-7 8-2 7-10-22-1-3-4 1-5 3-2 26 0 3-6 4-3 6 1 2 3 0 5 39 0 4 4-2 5-4 2-43 0-17 26 0 42-3 5-7 0-3-4 0-32-7 3z"/><path id="Lb" d="m5 60-1-5 2-5 9-8 2-7 8-2 6-10-21 0-3-4 1-5 3-2 26 0 3-7 4-3 6 1 2 3 0 6 40 0 3 4-2 5-4 2-43 0-17 25 0 42-3 5-7 0-3-4 0-32-7 3zm53 20 0-23-18 0-3-4 1-5 3-2 17 0 1-14 2-3 3-1 4 1 3 3 1 14 19 1 2 5-3 4-18 1 0 23 21 1 3 4-2 5-4 2-53 0-4-5 2-6z"/><path id="Mb" d="m64 69-4 0-3-2-9-21 1-4 3-3 4 0 3 2 9 21-1 5zm-55-40-4-3 0-5 3-3 11-1 1-9 4-4 5 0 3 2 1 12 12 0 4 4 4-1 22 0 0-11 2-4 6-1 4 2 2 13 5 2 2 4-2 5-5 2-2 57-2 3-4 1-20 1-5-5 2-6 17-2 0-50-23 0-4-5-6 2-1 18-4 14 10 15 1 5-4 4-5 0-8-11-11 12-9 6-6-5 0-5 11-10 6-9-14-17-1-5 3-4 5 0 12 12 2-19z"/><path id="Nb" d="m6 40-1-5 1-4 24-27 9 0 2 4 30 0 3 5-3 9 17 0 4 4 0 17-2 3-3 2-18 0 6 11 10-8 4 0 3 2 0 6-10 10 13 12 1 5-3 4-4 2-9-7-13-17-10-20-5 0 9 14 3 19-2 9-3 3-5 2-15-1-3-3-2-6-19 8-5 0-3-5 2-5 23-8 17-10-2-3-26 12-7 3-4-1-3-4 2-4 18-7 14-7-3-3-19 8-8 2-3-4 1-4 16-5-9-1-3-5-5 0zm41 44 4-1 0-8-14 9zm13-52-1 6 19 0 1-6zm-28-11 22 1 5-4-24 0zm-7 12 1 5 20 0-1-6z"/><path id="Ob" d="m50 16 34 1 3 2 1 4-3 4-3 1-34 0-3-3 0-4 2-4zm-28 75-5-1-2-4-3-17-1-25 4-31 4-3 5-1 3 2 1 3-4 36 4 36-2 4zm45-4-16-2-7-3-6-7-1-10 8-15 6-2 4 3 0 5-4 7-1 6 4 4 13 2 17-1 5 2 0 5-3 4z"/><path id="Pb" d="m4 30-1-5 2-4 20-16 12 0 15 12 1-6 4-3 28 1 2 4 0 68 3 0 1-24 5-2 3 5-1 26-2 5-3 2-14 0-4-4-2-70-8 1-3 49-3 12-5 10-3 2-5-3-4 0-5-4-26 7-4-1-2-6 5-4 0-49-4 0zm45 28-2 4-3 2-21 0 0 15 10-3-1-4 1-4 3-1 4 0 6 10 3-8 3-14 0-29-1 2-2 0zm-26-4 13 0 1-4-14-1zm14-34 1 6 8 0zm0 16-14-1 0 5 13 1zm-11-19 10 0-5-4zm-8 9 7 0-1-7z"/><path id="Qb" d="m4 31-1-6 2-5 14-14 6-2 7 2 10 9 4-5 15-4 4 1 2 4-5 6 0 14 7 1 0-23 3-4 4 0 5 5 0 22 12 0 4 4 0 4-3 3-12 0 1 15 3-7 2-3 3-1 4 2 1 4-5 11 6 5 1 5-3 15-4 5-6-1-7-9-9 6-4-1-3-5-2 8-4 2-9-1-4-4-5 1-4-4-26 8-3-2-1-4 4-5 0-50-3 0zm82 42 1 6 2 1 1-14zm-24 5 0 3 12-10-4-28-8 0 0 10 5 0 3 4-2 5-6 4zm-30-57 1 5 6 0zm-10-3 8 0-4-4zm-2 18 1 5 9-1 0-5zm0 14 1 4 9 0 0-5zm0 15 1 14 9-3-1-7 5-3 4 3 7 15 4-1 1-13-5-1-2-4 2-5 3-2 2-1 0-13-5-2-2-4 2-5 5-1 0-11-6-2-3 9-1 33-4 3zm-5-39 5 0 0-5zm71-18 5 1 3 7 2 7-3 5-5-2-5-11 0-4z"/><path id="Rb" d="m54 33-26-1-2-5 4-3 26 0 2 5zm-32 37 3 3 1 4-5 10-5 5-7-1-1-6 7-13 3-2zm35 8-8-6-1-3 3-5 6 1 8 6 1 4-3 4zm-47-12-4-8 4-18 1-25 2-4 45-1 2-5 4-2 4 2 2 5 6 0 2-6 5-1 11 9 1 6-4 2-20 0 1 6 2 9 8-11 5 0 3 3 0 5-11 16 6 7 6-10 4 0 3 3-2 11-4 5-5 3 6 7 6 12-3 4-6 1-8-10-2 9-6 4-32 1-8-1-3-3-1-19 4-5 5 0 3 3 1 14 3 1 20-1 3-1 4-7 6-1 0-5 3-3-6-4-6-7-9 5-5-2-18 1-3 3-6 0-3-3-1-19 4-4 25-1 4 4 0 9 6-4-6-25-34 1-1 22-3 12-4 12-3 1zm37-15 0-7-10 1 1 7z"/><path id="Sb" d="m11 40-3-1-2-4 0-15 1-4 4-1 8 0-1-8 6-3 5 2 5 8 9 1-2-9 6-3 5 2 6 10 9-1 7-10 8 0 1 4-2 7 9 0 4 3 0 19-4 3-6 0 0 30 8 2 2 3 1 11-4 7-9 2-25-2-2-3-1-16-9 0-6 10-9 7-16 5-5-2-2-4 1-4 16-5 7-7-11 0-3-3-1-31zm19 25 40 0 0-5-40 1zm0-16 0 4 40 0 0-4zm-1-8 41 1 1-4-41-1zm48 44 5-2 1-9-15 0 0 10zm-57-61-1 5 59-1 3 1-1-5z"/><path id="Tb" d="m83 97-8-3-11-13-7-15-2-16 2-16 7-14 11-14 9-3 2 3-13 21-5 23 5 23 13 21 0 2z"/><path id="Ub" d="m93 82 3 1 2 3-1 4-3 3-58 0-5-3-1-4 3-4 15 0 2-8 9-2 3-36-5-1-2 33-4 3-16-1-3-3 0-5-6-11 0 40-4 4-5-1-2-4 0-28-5 10-3-1-3-6 11-33-8-1-2-6 4-4 6-1 0-10 1-4 4-1 4 0 2 4 1 11 5 1 4 4-2 5-6 2 4 8 2-9 11-2 1-10-13-2-2-5 3-4 60 0 3 5-3 5-35 0-2 6 14 3 2 3 0 12 6-1 4 8 2-12-8-2-1-6 3-3 11 0 5 3 0 12-5 19 6 8 0 6-5 2-7-6-8 6-3-1-2-3-3 9zm-21-31-1 17 4-4 2-3zm-26 9 0-21-4 1 0 21z"/><path id="Vb" d="m45 79-10-8 1-3 4-3-9 0-3-3 0-5 4-2 54 1 3 3-2 7-13 12 21 6 1 6-6 4-31-8-19 5-14 3-4-5 1-5zm1-14 13 9 8-4 6-5zm-36 26-5-8 5-23 1-44 1-4 4-2 31 0 3-6 7-2 3 3 2 5 33 2 2 3-2 5-3 1-11 0 2 2 1 3 10 1 3 5-3 4-11 1 0 10-4 4-40 0-4-4 0-10-11-1-1 21-3 22-5 13-3 1zm60-49-1-5-21 1 0 4zm1-21-25 0 3 5 20 0zm-47 0 0 6 10-1 3-5z"/><path id="Wb" d="m13 93-3-1-2-3 0-4 3-3 33-1-1-15-23 0-3-5 3-5 59-1 5 4 0 4-3 2-24 1 0 15 32 1 4 4-3 6zm2-38-6-2-1-7 20-10 5-6 1-7-13 0-1 10-3 2-6 0-3-5 0-14 3-4 32 0 2-8 7-2 4 3 2 7 33 1 2 5 0 7-2 3-3 2-5 0-2-3-1-4-13 0 0 17 12 0 6-6 5 0 4 6-1 6-3 3-18 1-16-1-2-5 0-21-6-1-5 15-5 6-14 9z"/><path id="Xb" d="m9 92-5-7 4-27 0-46 2-3 3-3 22 1 2 4 0 14 10-19 4-3 7 1 1 5 33 0 4 2 1 5-3 4-39 0-2 3 37 0 4 4 1 23-2 4-4 2-26 0-3 3 30 0 3 1 1 5-2 5-12 10 17 5 1 5-4 4-27-7-18 6-8 1-4-5 1-4 17-5-9-7-9 4-1 13-1 4-12 1-3-3-2-4 2-3 6-2 0-17-6-1-6 26-3 2zm69-24-22 0 11 7zm-25-36 1 4 28-1-1-3zm0 12 0 4 29-1-1-4zm-13-3-3-2 0 27 11-10-7-3zm-20-23 0 12 6 0 0-12zm0 31 0 5 5 1 1-14-6 0z"/><path id="Yb" d="m17 97-3-3 14-21 4-23-4-23-14-21 1-2 2-1 9 3 11 14 6 14 2 16-2 16-6 15-11 13z"/><path id="Zb" d="m14 26-5-3 1-6 3-1 16 0 4-8 4-2 7 2 0 8 38 0 3 6-3 4-42 0-5 9 9-2 9 1 6 4 5 7 16-3 4 1 2 4-2 4-17 4 0 5 0 7-3 4-5 0-3-2-3-10-15 8-1 4 0 4 5 3 9 2 29-1 4 4-2 6-29 2-21-4-5-4-3-7 0-8 2-5 9-8 16-7-5-4-7 0-10 6-10 10-6 0-3-2 0-4 15-27z"/><path id="ac" d="m9 69-3-1-2-3 1-4 3-3 61 0 1-11-42 0-6 6-8-2-1-4 8-40 4-3 6 0 3 4 0 5 52 1 3 6-4 4-53 1-2 8 0 3 51 1 3 4-1 17 11 1 2 3 0 4-4 3-10 1-5 19-5 4-8 1-23-1-4-2-1-4 4-5 24 0 3-4 1-9z"/><path id="bc" d="m13 86-1-4 1-4 50-36-42 0-3-3-1-3 1-3 3-3 55 0 4 2 1 6-2 6-19 15 5 4 4 11 5 4 12 0 3 1 2 6-5 4-13 1-10-3-5-5-4-12-3-2-30 20-5 0zm20-78 37 3 3 3 1 3-2 4-4 1-38-3-3-3 0-4 2-3z"/><path id="cc" d="m53 80 1-6-2-4-7-2-8 1-4 3 2 6 10 3zm-33-23-4 1-3-2-1-4 2-3 43-27-36 0-4-5 2-5 56-1 4 1 2 3-2 8-31 18 17-2 11 3 8 5 5 12-2 16-8 9-12 6-17 2-13-1-12-5-5-9 2-9 4-5 8-4 20 0 9 6 2 13 6-3 3-5 1-9-3-7-8-4-15 0-18 3z"/><path id="dc" d="m9 35-5-2-1-5 6-4 7-16 4-3 6 0 3 3-6 16 13-1-3-7 0-4 5-3 5 2 10 18-1 3-3 3-4 1-4-3zm25 49 2-1 0-6-15 0-1 13-2 3-6 2-4-4 0-48 1-3 3-2 31 0 5 3-1 50-4 4-12-1-3-2 0-4 2-3zm-14-36 1 5 15 0 0-5zm15 20 1-6-15 0 0 6zm30-21-9-1-2-3 0-31 1-4 4-2 6 1 2 3 0 7 22-8 4 2 1 4-3 5-24 8 0 8 2 1 13 0 3-8 5-1 5 3 0 8-2 5-4 3zm0 47-9-1-2-3 1-37 4-2 5 1 3 3 1 6 22-8 4 3 0 4-3 4-24 8 0 11 15 0 3-8 5-2 4 1 2 3-1 9-2 5-4 3z"/><path id="ec" d="m14 31-5-4 1-6 3-2 21 0 2-12 4-3 5 0 3 3 1 12 35 0 4 2 2 4-1 30-3 26-6 9-10 3-18-2-3-3 0-4 3-4 16 0 4-3 3-17 1-29-28 0-3 20-5 16-11 17-11 8-5-2-3-6 11-12 6-11 4-13 3-16z"/><path id="fc" d="m8 89-3-3 0-4 14-28 8-29-19-1-3-4 2-6 21-1 3-8 6-2 5 3 1 7 47 0 5 4-1 4-4 3-49 0-1 9 43 0 4 2 1 5-2 9-8 12-9 11 25 10 2 3-1 5-3 3-4 0-30-13-14 7-18 6-4-2-4-7-5 6zm26-39 7-2 3 1 14 15 9-9 7-11-37 0zm-15 32 16-4 12-7-14-18z"/><path id="gc" d="m10 11 3-2 4 1 10 10 2 5-3 4-6 0-11-11-1-4zm0 42-5-4 0-4 3-3 17 0 3 5 0 26 2 3 9 6 18 1-1-5-21 0-4-3 0-4 4-3 21 0 0-4-19 0-3-2 0-4 2-2 20-1 0-3-19-1-3-1-2-4 2-3 10-2-2-8-10-1-3-5 4-5 23 0 0-3-20-1-3-3 0-3 3-3 20 0 2-4 3-1 7 0 2 5 17 0 5 3-2 5-19 1-1 4 19 0 3 2 1 6-3 2-5 1-3 8 9 1 1 6-4 3-17 0-1 4 19 1 2 2 1 3-4 3-17 0-1 4 21 0 3 3 0 3-4 4-19 0-3 5 24 1 3 4-3 5-49 0-10-3-10-5-10 8-5 0-2-4 0-4 10-10 0-22zm48-12 10 0 3-9-16 0z"/><path id="hc" d="m12 95-4-2-2-4 0-79 5-4 30 0 4 1 2 4-1 32-4 2-23 1 0 44-2 4zm7-78 0 5 17-1-1-5zm0 15 0 5 17-1-1-5zm69-26 4 2 2 4 0 70-2 9-6 3-16 0-4-1-2-6-24 0-2 4-6 1-4-5 0-31 1-3 4-2 36 0 3 5 0 27 9 0 0-37-24-1-4-2-1-32 2-3 3-2zm-28 72 0-5-20 1 0 5zm0-14 0-4-20 1 0 4zm21-28 0-5-18 1 1 5zm0-15 0-5-18 1 1 5z"/><path id="ic" d="m81 58-5-3-1-9 4-4 7 0 5 3 0 9-3 4zm-33 0-6-3 0-9 4-4 6 0 6 3 0 9-4 4zm-34 0-5-3 0-9 3-4 7 0 5 3 1 9-4 4z"/><path id="jc" d="m72 37 4 9-1 4-6 3-5-5-4-7 1-4 6-3zm17-4 5 9-1 4-5 4-5-2-6-10 1-4 6-4zm-62 34-15-13-1-8 2-6 46-33 6 1 3 7-2 3-31 22-8 6 0 4 42 32 2 6-4 5-5 0z"/><path id="kc" d="m8 67-3-4 0-5 19-23 9-8 10-2 6 2 5 3 40 37 1 4-1 4-4 3-5 0-38-36-6-3-5 2-21 26-4 1z"/><path id="lc" d="m34 18-6 2-4 5-2 7 2 8 9 16 17 21 14-17 10-14 3-11 0-9-5-6-9-2-5 4-5 12-4 1-2-2-5-11zm20 64-3 1-4-1-15-17-11-17-4-14 0-8 3-6 9-7 12 0 5 4 4 5 7-7 12-3 10 6 4 11 0 11-5 11z"/><path id="mc" d="m12 18-4-1-2-3 1-4 4-3 78 0 3 1 2 4-1 4-4 2zm-4 72-3-3 0-4 6-20 2-35 4-5 67 0 4 2 2 4-2 19-3 2-22 0 0 6 26 1 4 3 0 4-4 3-23 0 1 4 7 5 18 7 1 5-4 5-15-5-17-12-17 13-11 4-5 0-4-5 0-5 18-7 9-8-22-2-4 13-5 10-4 3zm17-56 1 7 51-1-1-7zm1 16-1 7 2 0 22 0 1-6z"/><path id="nc" d="m12 36-3-1-2-4 0-4 3-2 33-1 0-15 5-4 5 0 3 3 1 16 33 1 3 6-4 5-31 0 5 19 11 14 18 14 0 5-4 4-5 0-16-12-8-10-8-14-9 14-11 12-14 10-6 0-4-5 1-4 18-14 6-7 8-16 2-9z"/><path id="oc" d="m93 45 5 3 0 5-4 4-14 0 0 30-2 5-5 2-17 0-4-2-2-5 3-4 13-1 1-25-18 0-4-3-1-5 3-4 20 0 0-10 3-2 10-13-29-1-3-3-1-3 2-3 3-2 36 0 4 2 2 4-1 7-13 19 0 4zm-85-14-4-3-1-5 3-3 5-1 2-11 4-3 5 0 2 3 0 12 15 0 4 3-1 23-5 18 9 11 0 5-4 3-5 0-6-7-17 18-4 1-3-3-1-6 16-19-7-6-2 4-4 0-4-5-1-5 6-24zm10 17 9 7 2-4 3-20-10 0z"/><path id="pc" d="m15 46-3-1-2-3 0-4 3-2 41-1-3-8-33 0-3-2-1-3 1-4 3-2 31 0 1-7 4-3 7 1 2 8 20 0 4 3 0 4-2 3-20 1 2 8 19 0 4 3 0 4-3 3-16 1 7 12-2 6-9 3-16-3-13 0-7 3-2 6 4 5 6 2 36 0 3 6-1 3-3 2-32 1-17-5-5-4-4-5-1-7 2-8 4-4 8-4 7-2 12 0 14 2-5-8z"/><path id="qc" d="m27 13 49 0 3 3 1 4-2 4-4 1-49 0-3-3-1-4 2-4zm23 78-11-1-13-3-9-7-4-5-1-9 5-11 8-9 4-1 4 3 1 5-6 9-2 5 4 8 10 3 19 0 20-3 4 2 2 6-4 4z"/><path id="rc" d="m11 33-5-4 1-5 4-3 16 0 0-10 5-5 4 1 4 4 0 21 19-13 7-2 8 2 4 5 2 11-2 35 3 5 9-5 4 1 2 6-5 6-8 4-6 1-6-1-4-4-2-6-1-11 3-29-2-5-2-1-7 4-16 14 0 39-4 4-6 0-3-4 0-26-13 11-5 0-3-4 1-5 20-20 0-11z"/><path id="sc" d="m13 35-5-3 0-6 4-2 13 0 4-17 4-3 5 2 2 4-2 14 22 1 6 5 2 23-2 21-5 10-6 6-12 0-11-4-1-6 3-3 14 1 2-1 4-15-1-25-4-1-13-1-17 52-4 3-5-1-2-6 14-47zm71 29-13-41 2-3 4-2 4 1 2 3 13 41-1 4-5 2-4-2z"/><path id="tc" d="m20 62-4-2-1-4 3-21 3-5 5 0 4 1 1 3-2 15 13-6 13-3 13 0 11 3 5 4 4 9-1 15-6 10-12 7-17 3-25-1-5-4 3-6 24 0 14-3 9-7 1-11-1-3-6-4-9-1-12 2-18 8zm14-51 38 2 3 4 1 3-3 3-3 1-39-2-3-4 0-3 2-3z"/><path id="uc" d="m10 54-4-1-1-4 0-5 5-3 80 0 4 2 1 4 0 4-5 3z"/><path id="vc" d="m93 31 3 1 2 3-2 5-19 2-6 6 19 0 4 4 1 38-2 4-8 1-4-3-21 0-3 3-7-1-2-4-1-25-5 0-2-7-4 0-2-2-6 0 0 34-2 4-5 1-3-1-2-4 0-33-9 0-3-4 1-5 7-2 2-3-10-17 3-8 4 0 7-12 4-1 4 2 0 4-8 17 3 4 8-15 4-1 4 1 1 6-6 11 4 0 3 2 4 17 17-11-15-1-3-2-1-3 3-5 12-1 0-8-10-1-2-5 3-4 9-1 1-4 3-4 7 1 3 7 15 0 5-3 4 2 2 6-9 14zm-62 14-1-7-5 7zm51 36-1-6-21 1 0 6zm-1-23-21 1 1 6 20 0zm-3-36-9 0 0 8 3 0zm-75 62 3-20 5-2 3 4-3 22-5 1zm33 3-3-1-1-3-2-19 4-3 4 2 1 15 0 6z"/><path id="wc" d="m83 7 6 2 5 10-3 5-6-2-5-10zm-75 72-5-4 0-3 3-3 19-2 0-5-14 0-4-4 0-34 4-4-4-9 2-5 7 1 6 13 6 1-4-13 3-3 5 0 3 3 5 13 7-14 3-2 4 1 3 5-4 9 3 3 1 7 6-1 1-22 2-2 5-1 4 4 1 20 15-1 4 2 1 4-2 4-17 3 2 15 7-11 5 0 3 4-2 7-10 16 4 9 3-13 4-1 4 5-2 15-6 8-5 0-6-3-6-10-18 11-4 1-3-3-1-3 1-3 21-15-4-28-8-1 0 17-2 4-16 2 1 5 15 0 4 3 0 3-4 5-16 0 0 11-2 4-6 1-3-2-2-14zm30-48 0 6 8-1-1-6zm0 16 0 6 8-1-1-6zm-20-16 0 6 8-1-1-6zm7 22 1-7-7 0-1 7z"/><path id="xc" d="m14 46 0-4 3-3 23-4 18-2 17 3 6 3 6 7 1 9-1 9-4 8-7 7-10 5-13 4-16 3-5-3-1-5 3-4 19-4 15-7 6-7 1-8-4-5-8-2-16 0-28 5-3-2zm19-37 38 3 2 2 1 4-2 4-3 1-39-3-3-3 0-4 3-4z"/><path id="yc" d="m77 71-7-6-6-1-4 2-2 3 0 4 4 5 9-1zm-69-10 17-20 1-8-16-1-3-3 0-4 4-4 14 0 1-11 3-3 4 0 4 4 1 18 13-9 13-4 14 2 8 7 5 16 1 15-1 13 4 8-3 6-6-2-10 6-13 2-10-3-6-10 0-12 6-7 13-4 13 4-2-21-2-4-5-3-6 0-8 2-18 15-1 41-2 5-6 0-3-4-1-28-9 9-3 2-6-4z"/><path id="zc" d="m49 64-3-1-2-4-2-41 3-5 8 0 3 1 2 4-1 40-3 5zm3 8 5 3 0 7-3 4-6 0-4-3-1-7 3-4z"/><path id="Ac" d="m66 20 0-6 5-3 5 2 4 8-1 5-5 3-4-2zm19-11 6 0 5 9 0 5-5 3-5-2-4-8 0-5zm-71 26-5-3 0-5 4-3 12 0 4-16 5-4 4 2 2 3-2 15 24 1 5 6 1 12 0 22-2 9-4 10-6 6-5 1-18-5-2-5 3-4 3-1 12 2 3-4 3-16-1-21-4-2-14 1-16 50-3 3-3 1-5-2-1-4 15-48zm73 2 9 29-2 4-4 1-4-1-2-3-9-28 1-4 5-1 3 0z"/><path id="Bc" d="m11 18-2-6 5-4 4 0 8 7 2 6-5 4-4-1zm-5 22-1-3 0-4 5-4 14 9 1 7-5 4-3-1zm18 19 4 2 1 4-5 13-7 13-3 2-4-1-3-4 0-4 11-23 3-3zm67-19 4 1 2 4-1 4-3 2-29 1-10 26 22-1-5-14 3-4 6-1 4 4 11 24-2 6-7 1-5-6-50 4-3-2-1-4 2-4 5-1 5-1 11-27-17-1-3-3 0-5 4-3 21 0 0-14-19-1-3-5 3-5 19 0 1-8 5-3 6 3 2 8 20 0 3 4-2 6-21 1-1 14z"/><path id="Cc" d="m29 57 3-5 12-1 1-43 4-3 5 0 3 2 1 3 0 43-2 7-6 3-16 0-3-2zm-20-4-3-2 0-4 12-29 4-3 4 0 3 2 1 4-7 21-7 11-3 1zm74-36 13 31-1 3-4 2-4-1-3-2-14-30 2-4 4-2 4 0zm-72 71 0-3 3-2 20-5 16-5 13-8 12-12 6 0 3 4-2 5-7 8-19 13-23 8-14 3-5-2z"/><path id="Dc" d="m64 69-6-4-8 0-6 3-2 5 1 3 3 3 11 2 5-3zm26-49 4 3-1 6-3 2-13-1 0 31 15 13 1 5-2 3-4 2-7-5-4-3-4 9-8 5-18 1-5-2-7-4-4-7 0-8 4-9 6-5 13-2 11 2 0-33 2-4 4-1zm-80 58-2-2-1-5 14-41-11-1-2-3 0-3 4-5 12 0 3-10 5-3 5 1 2 2-2 10 13 1 3 3 1 3-4 5-16 0-15 45-4 3z"/><path id="Ec" d="m10 51-3-1-2-3 2-6 18-2 0-16-5 0-6 13-5 0-3-4 7-25 3-4 6 2 2 7 20 0 4 1 1 4-1 4-10 2 0 16 11 1 4 3 0-28 3-4 33-1 3 2 2 3 0 73-3 5-7 0-3-5-15 0-2 3-3 2-7-2-1-43-4 3-11 0-1 4 14 22-1 7-4 2-4-1-10-15-12 18-5 4-5-1-3-4 0-4 12-15 5-16zm55-29 0 54 17 0-1-54z"/><path id="Fc" d="m79 74-4-26-7-26 2-4 4-1 4 1 3 2 8 26 3 29-3 4-5 1-4-2zm-46 17-8-3-5-5-8-17-2-20 4-25 3-4 6 0 4 5-3 29 3 19 4 5 4 2 6-5 9-14 6 0 3 3-2 8-8 12-7 7z"/><path id="Gc" d="m6 59-3-2-1-4 1-4 4-2 0-31 4-4 6 0 2-6 3-3 7 1 2 8 9 0 3 3 1 29 3 3 0 6-3 2 0 34-5 6-11 0-4-4-1-7-2-2-1-25-2 1-1 19-4 14-3 2-5-2-2-6 3-12zm27 20 0-22-3-1 0 28 3 0zm-15-56 0 23 15-2 0-22zm5 16-4-8 1-4 6-1 4 6 2 5-1 4-4 1zm71-18 3 1 1 4 0 8-3 6-6 2-11 0-4-1-2-3 0-20-9 0-3 16-7 11 36 1 3 1 2 4-2 9-11 16 14 7 2 4-1 3-3 3-4 0-18-9-15 7-7 2-4-4 0-4 15-9-9-10 0-5 5-4-6-3-1-7 2-1-5-8 4-13 2-15 4-3 25 1 3 4 1 20 3-1 1-8zm-34 35 4 7 7 6 9-13z"/><path id="Hc" d="m15 53-6-4 1-5 4-2 17 0 1-12-17-1-3-5 2-5 18-1 2-9 5-3 6 3 1 9 31 0 4 5 0 3-3 3-33 1 0 12 25 0 3 2 1 3-1 4-4 2-25 0 0 15 2 8 3 3 8 1 16-2 5-5 2-12 3-3 5 0 3 4 1 10-3 10-5 4-10 5-9 1-15-1-8-2-5-3-5-8-2-25z"/><path id="Ic" d="m64 8 7 1 4 8 0 5-3 2-6-1-5-8 1-4zm16-3 7 0 5 9-1 5-5 3-4-2-5-8 0-5zm-31 87-20-3-8-3-5-4-3-6-1-7 2-9 6-7 9-7-6-26 0-7 2-3 5-1 5 3 7 28 32-9 5 1 2 5-2 5-36 11-11 6-5 5 0 8 7 6 15 2 28-2 4 2 1 6-3 4z"/><path id="Jc" d="m6 88-1-3 2-4 20-9 14-9-18 0-5 4-7-1-2-4 5-26 5-3 25-1 0-8-31 0-4-4 2-5 3-2 14 0-1-7 5-3 6 2 5 8 16 0 5-8 4-2 6 2 1 5-1 3 13 0 3 4 0 23-4 3-28 1 0 8 32 0 4 2 1 4-1 16-4 14-8 2-14-1-2-5 1-4 12-2 1-15-22-1 0 28-4 4-6 1-3-3-1-18-31 18-4 0zm52-63 0 8 20-1-1-8zm-33 27 19-1 0-7-19 0z"/><path id="Kc" d="m9 33-4-3-1-4 3-4 6-1 0-12 4-4 5 0 3 2 1 14 5 2 4-5 13-1 0-8 3-4 5 0 4 3 1 45-3 18-8 16-7 7-5 0-4-4-1-4 12-15-11 2-3-2-1-4 3-4 14-5 1-7-13-2-3-3 1-5 4-2 11 0 0-10-12-1-3-1-2 5-5 1 0 17 6 0 3 4-2 5-7 3-1 29-4 3-12 0-4-2-1-5 3-3 6-1 0-17-7 0-2-6 2-4 7-3 0-20zm64 62-3-1-2-4 0-81 3-4 6 0 3 4 1 8 11 0 4 2 1 5-3 4-13 1 0 11 10 0 5 3 0 5-4 3-11 0 0 12 13 1 3 3 1 3-4 4-13 1-1 17-2 3z"/><path id="Lc" d="m26 15 1 5-4 5-4-1-8-7-2-5 4-4 4 0zm-19 25-2-3 0-4 6-3 13 9 1 7-5 3-3-1zm16 20 3 3 1 3-6 17-5 9-3 1-4-2-2-2-1-4 10-22 3-3zm69-38 4 2 1 4-2 5-6 1 0 27-4 5-28-1-2-4 0-27-9 0 1 43 44 0 3 3 1 4-2 3-3 2-43 0-4 6-8-1-2-4 0-56-2-1-4-3 0-4 2-3 4-1 1-12 4-4 5 0 3 3 1 13 8 0 0-13 5-3 4 0 3 3 0 13 10 0 1-13 3-3 4 0 4 3 0 12zm-15 33 0-21-10 0 0 21z"/><path id="Mc" d="m51 20-4-1-2-4 1-4 3-3 38 0 5 3 1 3-1 40-3 2-5 0-3-2-2-3-19 0 1 31 19 0 3-15 6-3 4 1 3 3-2 16-3 7-8 2-16 1-15-1-4-3-1-8 0-40 4-3 29-1-1-18zm-39-12 26 0 2 3 1 3-5 4-26-1-3-3 0-3zm-2 25-4-2-2-2 1-4 3-3 30 0 4 1 2 3-1 3-2 3zm3 14-5-4 0-3 3-3 25 0 5 4-1 3-2 2zm0 14-5-4 0-3 3-2 25-1 5 4-1 3-2 3zm28 10 0 16-2 4-20 1-2 4-6-1-4-5 0-20 2-4 27-1 4 3zm-10 11-1-7-11 1 0 6z"/><path id="Nc" d="m15 76-4-2-2-5-2-8 4-3 4 1 2 7 1 7zm21-16 4-4 4 3-2 12-3 1-4-1zm-31-29-1-5 3-4 12-13 4-3 9 1 13 11 1 5-5 9-9 3 0 7 9 1 3 5-3 5-9 1 1 22 9-2 3 2 9-7-4-2-5-7-1-4 3-3 6 1 5 6 1 4 4-3 0-11-17-2-3-3 2-5 33-2-1-5-25 0-3-2-2-4 4-4 27-1-1-4-28-1-2-5 2-5 36 0 4 1 2 4 0 26 2 1 4 4-2 5-19 2 5 10 8-7 4 0 3 3-1 5-8 9 10 12 0 4-3 4-3 1-3-2-13-18 0 18-5 5-15 0-3-3-1-5-9 5-3-1-4-4-25 7-4-3 1-6 13-5 0-25-10-1-3-2-1-4 4-4 10-1 0-7-6-1-2-3-4 3zm49 52 8 0 0-8zm-34-59 16 0-9-10z"/><path id="Oc" d="m51 91-16-2-8-2-6-4-6-9-1-7 2-9 5-7 9-8-5-31 4-4 5 0 3 2 6 26 36-10 3 1 1 4-2 6-36 12-11 7-6 8 1 6 2 3 7 5 13 1 28-2 4 2 1 6-3 4z"/><path id="Pc" d="m25 26 0 48 50 0 0-48zm-9 61-4-2-1-4 0-62 1-4 4-2 68 0 4 3 1 3 0 62-1 4-4 2z"/><path id="Qc" d="m5 69 0-4 2-4 21-10-12 0-4-4 0-35 2-5 3-1 69 1 4 4 0 36-4 4-13 0 22 10 2 6-2 4-4 2-15-7-1 25-3 3-7 0-3-4 0-23 2-4 4-1-13-11-8 0-14 10 5 2 2 2-2 12-6 9-11 7-9 1-3-4 0-4 2-2 13-7 4-12-17 7-3 0zm52-51 1 6 19-1-1-6zm0 16 1 7 19-1-1-6zm-32-16 1 6 18-1 0-6zm0 22 19 1 0-7-18 0z"/><path id="Rc" d="m13 95-4-2-2-4 0-77 1-3 4-2 21 0 3 2 0 11-8 19 8 14 4-1 52 0 4 1 0 6-2 3-5 0 4 4 1 4-8 9 10 7-1 6-6 2-11-6-9-9 0 7-4 4-31 5-2-3 0-5 10-4 0-20-5-2-2 7-6 6-6 0-4-6 0 23-3 3zm61-33 4 9 8-9zm-20 1 1 18 13-4-8-15zm-35-45 0 18 4-9 3-10zm0 25 0 21 6-1 0-9zm68-36 4 1 2 4 0 29-2 4-4 1-42 0-3-1-3-3 0-30 2-4 4-1zm-27 29 0-5-9 1 0 5zm0-14 0-5-9 1 0 5zm21 14 0-5-10 1 1 5zm0-14 0-5-10 1 1 5z"/><path id="Sc" d="m17 6 4 3 2 7 20 0 1-9 5-3 7 2 2 10 21-1 0-5 3-3 5 0 4 2 1 13-5 4-73 0-5-4 0-11 3-4zm-9 86-3-4-1-4 4-18 1-30 2-4 3-1 28 0 4 3 1 48 6-15 2-31 1-4 4-1 29 0 4 1 1 4-1 56-5 3-15 0-4-5 2-5 10-1 1-10-17 0-9 19-4-1-5-5-3 7-16 1-5-3 0-5 3-3 9 0 0-10-15 0-5 17-3 2zm59-50 0 5 15 0-1-6zm0 16 0 6 15 0-1-7zm-46-16 1 5 13 0 0-6zm0 16 0 6 14 0 0-7z"/><path id="Tc" d="m7 38-4-2-1-5 3-3 4-1 0-16 3-4 4-1 3 1 3 4 0 16 5 2 2 3-2 5-5 2 0 24 7-1 1 6-4 5-20 8-3-1-1-4 2-5 5-3 0-29zm84 26 2 4 1 4-7 8 9 6 1 4-3 4-4 0-5-2-15-12 0 6-4 4-30 5-4-3 0-4 3-3 9-2 0-5-16 7-4-2-1-5 2-3 19-11-14-1-2-4 2-4 25-1 0-4-19 0-3-2-2-3 0-15 4-6 20 0 1-3-24-1-3-3 0-5 4-2 22 0 4-6 5-1 4 3 2 4 22 0 4 3 0 4-3 3-24 1 1 3 19 0 4 4 1 16-2 4-3 2-20 1 1 3 24 1 3 2 0 4-3 3zm-16-31 1 8 6-1 0-7zm-26 7 0-7-6 0 0 8zm10-7 0 8 7-1-1-7zm9 46-7-14-4 0-1 16zm18-14-12 0 5 7z"/><path id="Uc" d="m12 36-5-2 0-5 4-4 10 0 1-12 3-4 5-1 4 3 1 14 31-1 1-14 3-4 5 0 4 4 0 14 11 0 3 5-3 5-11 1 0 21-3 6-5 3-20-2-4-5 3-6 16 0 1-16-33 0 0 32 3 8 12 3 30-1 3 2 2 4-3 5-7 1-24 1-16-2-7-4-4-7-1-41z"/><path id="Vc" d="m55 49-4-1-2-3 0-4 3-3 32-2 3 1 2 3 0 4-3 3zm30 29 3 0 3 4-1 4-3 3-21 1-14-4-8-5-3-6 0-7 5-8 5-2 5 3 1 3-4 7 1 3 4 2 10 3zm-72 12-3-2-1-4 15-55-10-2-3-3 0-3 4-4 11-1 2-7 4-3 5-1 3 2 0 10 30 0 4 3 0 4-4 4-33 0-15 59-3 3z"/><path id="Wc" d="m31 46-2-2 0-4 8-15 6-17 3-3 5 0 3 2 0 8 36 0 4 2 1 5-5 16-6 11-2 3-7-1-2-5 9-20-32 0-11 20-4 2zm62 36 3 3 0 4-4 4-4-1-16-10-11-16-8 11-9 9-12 7-5-1-2-4 1-5 17-11 8-13 2-8 1-15 5-4 4 0 3 3 2 16 5 15 5 6zm-75-70 11 13-3 6-4 1-3-2-12-13 3-5 4-1zm-11 69-2-4 1-4 16-17 3-1 4 1 2 6-5 8-12 12-4 1z"/><path id="Xc" d="m12 40-6-1 0-9 24-26 9 0 2 4 34 1 2 3 0 4-5 8 15 0 4 4 0 42-1 4-3 2-17 0 24 10 0 6-6 3-25-10-2-3 0-6-19 0 1 6-3 4-19 7-9 1-3-4 1-5 24-9-17 0-4-3zm66 25-1-4-51 1 1 4zm0-13-1-4-51 0 1 4zm0-17-51-1-1 4 51 1zm-44-16-4 5 24 0 4-3 2-3z"/><path id="Yc" d="m43 38-5-4 1-6 3-2 25 0 0-14 3-3 3-1 4 0 3 3 0 15 12 1 3 4-2 5-3 2-10 0-1 23-4 16-7 7-14 6-4-2-2-5 2-4 11-5 4-5 2-8 0-23zm-22 53-5-1-2-4-3-17-1-25 4-31 4-3 4-1 4 2 1 3-4 36 4 36-2 4z"/><path id="Zc" d="m31 66-15-12-1-8 3-6 46-32 6 1 2 4 0 3-32 24-9 6 0 4 43 32 1 6-4 4-5 0z"/><path id="ad" d="m32 52-8 7-3 9 3 8 7 1 2-1zm24-5-11 1 1 21 8-9 6-12zm-28 42-8-2-8-5-3-7-1-9 3-9 6-8 16-10 0-11-18-1-2-4 1-5 3-1 15 0 1-9 6-3 5 3 2 9 37 0 3 2 1 4-4 4-38 1 0 8 16 0 10 2 8 3 9 8 3 7 1 11-3 9-4 5-7 7-10 4-3 0-4-3 1-6 12-8 5-8-1-9-6-7-9 16-11 12-12 7z"/><path id="bd" d="m81 45-4-11-7-5-6-1 0 34 6-1 7-4zm-67 30-3-1-3-4 1-51 5-3 6 3 1 18 12-13 17-7 1-7 2-4 7-1 4 4 0 7 13 3 12 8 4 10 1 13-4 11-4 5-10 6-14 3-4 7-5 6-9 4-6-2-2-3 0-3 12-11-13-6-5-6 2-5 4-2 15 7-1-32-11 5-9 9-7 12-3 17z"/><path id="cd" d="m37 52-10 3-7 5 0 9 5 7 5 0 3-5zm-8 38-8-2-10-9-4-8-1-9 4-9 8-6 7-4 14-3 2-17-24-1-4-4 1-5 5-2 33 1 3 5-2 23 14 2 2-20 6-3 6 3 0 24 12 7 1 4-1 4-5 2-8-3-6 19-7 8-8 4-5-3-1-5 11-12 3-16-16-3-5 21-5 10-4 5z"/><path id="dd" d="m26 42-7 12 0 15 3 5 4 1 9-5zm26-10-15 3 8 22 11-24zm-27 56-8-2-5-5-3-5-3-11 1-10 2-9 6-11 7-7-2-15 3-3 6 0 5 12 12-3 14 0 3-10 5-3 4 1 3 3-3 13 12 8 8 14 2 14-5 16-5 6-9 7-10 3-5-3 0-4 1-3 12-7 4-4 4-9 0-8-2-8-5-6-6-4-10 23-11 17-11 9z"/><path id="ed" d="m13 55-4-1-2-3 0-4 2-3 25-7 24-15-32-1-3-3-1-3 2-3 3-2 49 0 4 6-4 7-30 18 39-3 5 1 1 5-2 4-26 3-11 7-6 10 2 7 7 4 26 1 3 6-5 4-28 0-8-2-7-6-4-8 1-8 3-6 8-8z"/><path id="fd" d="m77 80 0 5-4 4-28 5-6-3 1-5 6-4 1-72 5-3 38 0 4 2 2 4 0 37-2 4-3 1-13 1 4 10 10-7 3 0 2 2 0 6-8 8 9 8 0 6-3 3-4 0zm-18-61 0 7 24-1-1-7zm15 59-8-22-6-1-1 25zm-14-33 23 0-1-9-23 0zm-52 28-2-7 13-32-9-2-2-3 1-4 3-3 8 0 1-14 3-3 4 0 4 4 0 13 7 1 3 3-1 6-6 2 11 24-3 4-4 1-7-11-1 40-5 3-5-3-1-31-6 13-3 1z"/><path id="gd" d="m14 27-3-2-2-4 1-4 4-2 71-2 5 2 1 5-2 5-27 7-8 5-8 9-3 10 2 9 5 7 8 4 20 2 3 5-2 6-17 1-15-4-8-5-5-6-5-13 1-10 3-9 6-8 12-9z"/><path id="hd" d="m94 42 4 2 0 5-2 3-4 2 0 32-3 7-5 2-14-1-4-3-1-7-9 0-1 4-3 2-6-2-2-4 0-22 2-3 4-2 22 1 3 4 0 21 3 1 2-3 0-27-36-1-4 5-3 0-2-2-5 0-1 35-3 4-5 0-4-5 0-33-9 0-3-4 1-5 6-2 2-4-9-14 1-7 3-4 3 1 7-12 6 0 2 6-8 17 2 2 9-14 6 0 2 5-6 12 6 1 3 7 2 0 0-8 9-6 5-6-13-1-3-3 1-5 4-2 14 0 3-7 7-1 3 3 1 5 17 0 4 3 0 5-3 3-20 0 22 12 1 3zm-62 3-2-8-5 8zm32 29 0-7-9 0 0 7zm22-32-20-11-15 11zm-82 43 3-21 5-2 3 4-3 22-6 1zm33 4-3-1-1-3-2-20 4-4 4 3 1 11 1 11z"/><path id="id" d="m10 92-4-9 4-13 1-29 4-3 30 0 1-2-6-3-2-7-4 0 1 6-3 3-5-1-5-8-2 8-6 1-4-4 2-11 4-1 29 0 4 4 0 9 7 0 0-9 3-4 32 0 4 5 0 7-3 4-3 0-4-1-2-8-4 0 1 7-3 2-3 0-7-9-2 7-6 3 1 2 33 0 3 2 0 4-3 3-22 1 1 2 17 0 4 3 1 10-2 4-18 2 2 5 16-5 4 2 1 5-7 2 5 2 3 2-2 9-10 3-21-1-2-5 1-20-22 0 1 3 13 1 3 1 0 3-2 3-15 1 1 3 14-1 2 3-1 4-3 2-32 3-3-2-1-3 3-3 8-1 1-16-7-1-3 13-4 10-4 2zm65-10 1 3 2 0 7-1 2-1 0-4zm-4-24 1 3 11-1-1-2zm-12 2-1-2-11 0 1 3zm-1-13-10 0 0 3 10 0zm-35 1 1 2 11 0-1-3zm0 10 1 3 11-1-1-2zm-10-52 34 0 3 3 0 3-1 3-3 1-34 0-3-2 0-4 1-3zm79 0 3 1 1 3 0 4-3 2-34 0-3-1-1-3 0-3 3-3z"/><path id="jd" d="m41 17-1 4 5 1 2 3 1 10-3 4-5 2 0 4 11 2 1 4-3 3-29 1-3 4-6-1-3-3 0-43 1-3 4-2 34 0 4 3-1 4-3 3zm-21 1 0 3 8-1 0-3zm8 26 0-3-8 0 0 4zm8-12-1-3-15 1 1 3zm29-7-8 13 31 0 4 5-3 5-30 1-3-3-1-8-7-5 0-4 10-20 3-4 5 0 4 3 0 5 20 0 4 4 0 4-3 3zm-55 69-4-2-1-5 3-4 6 0 0-18 3-4 64-1 3 1 2 3 0 19 6 0 3 3 0 4-3 3zm55-23 0 12 9-1 0-12zm-19 0 0 12 8-1 0-12zm-20 0 0 12 9-1 0-12z"/><path id="kd" d="m95 42-3 2-3 0-11-11-1 9-4 2-4 0-4-4 0-9-9 10-3 1-4-1-3-4-6 1-7-6 0 8-5 4-7-3-1-9-8 11-4 1-3-4 0-4 10-13-7-1-2-2-1-4 3-4 12 0 3-7 7-1 3 3 1 5 8 0 3 2 0 6-7 3 11 9 9-9-7-3-1-4 1-3 3-1 11 0 2-7 7-1 3 3 1 5 13 0 4 2 0 4-2 3-9 2 11 12zm-14 15-63 0-3-2-1-4 2-3 3-1 63 0 3 2 1 3-2 4zm-6 14 17 12 1 5-4 3-4 0-17-11-2-4 1-5-8 1-1 15-3 6-12 1-12-1-2-4 2-4 13-1 1-12-14-1 2 6-1 4-17 10-5 0-3-4 1-4 18-11-17-1-3-6 3-4 81 0 4 4-2 5z"/><path id="ld" d="m7 25-3-2 1-3 7-2-6-5 0-4 14-1 3-4 8 0 3 4 14 1 1 4-7 5 6 1 0 5-2 1zm15-10 3 4 5-1 2-3zm11 36 2-1 0-2-15 0-3 8-3 1-5-1-2-4 0-21 5-4 30 0 3 2 2 3-1 23-3 2-14 0-2-2 0-3zm-14-17 1 2 15-1-1-2zm15 9 1-2-15-1 0 3zm59 0 4 1 1 4-1 4-3 3-12 2-24 0 1 3 32 0 3 2 1 3-1 3-10 1 4 2 1 4-7 6 13 6 0 4-5 4-12-3-15-9-1 5-4 3-44 4-3-4 1-4 3-1 12-2 0-5-18 4-4-2 0-5 2-2 20-5-19 0-3-4 3-4 36-1 3-5 5-1 0-26 2-4 3-1 23-1 0-1-26-2-2-3 0-8 4-4 8 0 2 3 28 1 1 3-2 3-27 0 0 2 24 0 3 2 1 4-1 3-3 2-24 0 0 2 26 1 3 2-3 2-26 1 0 2 26 0 3 2-3 3-26 0 0 2zm-29 26 7 7 9-7zm-5 11-10-11-8 4 0 10zm25-30-18-1 0 1 13 1z"/><path id="md" d="m10 10 4-1 3 1 11 11 1 4-2 4-3 2-4-1-10-11-2-4zm0 43-5-4 2-6 18-1 3 5 0 26 4 5 5 3 12 1 42 1 4 3-1 5-5 3-42-1-14-3-10-5-10 8-5 0-3-4 1-4 10-10-1-22zm57 14-2 5-3 3-25 4-5-3-1-5 4-3 1-57 4-4 44 0 4 2 2 4 0 32-4 3 4 3 0 4-9 9 10 6 1 5-3 4-4 0-10-5zm15-19-15 0 6 9zm-34-30 1 5 27-1 0-5zm15 45-8-15-6 0 0 18zm-14-25 27 0 0-6-27 0z"/><path id="nd" d="m27 15 2 6-4 4-5-1-8-6-2-6 5-4 4 0zm-19 25-2-3 0-4 6-4 13 9 2 7-6 4-3-1zm18 19 3 2 1 4-5 13-7 13-3 2-3-1-4-4 0-4 11-23 3-3zm59-41 12 22 0 4-3 3-6 0-5-6-49 5-3-3-1-5 3-3 5-1 10-26 3-3 3-1 5 1 3 3-9 25 24-2-4-9 1-4 6-3zm-44 77-4-1-2-4 0-33 2-4 4-1 49 1 2 4 0 33-2 4-8 1-4-4-29 0-3 4zm7-31 1 16 29-1 0-16z"/><path id="od" d="m7 48-1-4 2-4 16-6-4-15 2-6 5-1 4 1 6 16 13-5-2-13 3-3 6 0 3 3 3 10 14-1 11 4 5 7 3 9-2 13-7 10-12 5-14-2-3-5 2-5 15-1 7-6 0-10-6-6-9 0 1 9-2 3-4 2-5-2-3-9-13 5 12 45-2 4-4 2-4 0-3-3-12-43-15 5-4-1z"/><path id="pd" d="m69 39 7 1 4 8 0 5-3 2-6-1-5-8 1-4zm24-1 4 8-1 4-6 3-5-5-3-6 1-5 5-2zm-81-11-3-2-2-4 1-4 4-2 71-2 5 2 1 5-2 5-27 7-8 5-8 9-3 11 2 10 5 7 8 4 20 2 3 5-2 6-17 1-15-4-8-5-5-7-5-13 1-11 3-9 6-8 12-9z"/><path id="qd" d="m5 63 0-5 2-3 23-13-20-1-4-3 0-4 3-3 14-1-3-6 4-5-7 0-3-2-1-4 3-4 68-4 4 4 0 5-13 2 6 4-2 7-1 4 14 0 4 5-4 5-20 0 22 14 3 4-3 6-8-1 0 26-3 4-7 1-3-4-44 0-3 4-7-1-3-4-1-26-5 2zm40-11-1-10-6 5-6 6zm-1 30 0-6-16 1 1 6zm0-15 0-5-16 1 1 5zm29 15 0-6-16 1 1 6zm0-15 0-5-16 1 1 5zm-16-48 0 11 6 1 8-13zm0 23 0 11 12 0zm-26-23 6 12 7-1 0-11z"/><path id="rd" d="m4 28 0-4 3-4 39-16 14 1 35 16 2 4-1 5-4 2-8-2 0 30 5 0 3 4 0 3-14 12 11 4 4 2 1 3-2 4-5 2-17-6-13-8-1 6-4 4-33 4-10-1-2-3 0-4 10-4 0-52-9 2zm50 51-13-15-11 0 0 18zm-23-25 39 0 0-6-39 0zm-1-16 40 1 0-5-39-1zm50 26-24 0 11 9zm-30-52-21 12 15 0 3-7 6-1 3 3 1 5 15 0z"/><path id="sd" d="m63 12 6 0 6 10 0 5-6 3-5-2-5-9 0-4zm17-4 5-1 3 3 5 9-2 6-6 2-4-3-5-10 1-4zm-72 60-3-4 0-5 19-23 9-8 10-2 6 2 5 3 40 37 1 4-1 4-4 3-5 0-38-36-6-3-5 2-21 26-4 1z"/><path id="td" d="m9 26-5-2 0-6 4-2 14-1 0-8 3-3 5-1 3 2 3 11 9-1-3-5 0-4 4-3 4 2 6 8 0 3-6 10-15 1 0 20 9-15 5-1 4 4 9-27 3-4 5 0 3 2-1 11 24 1 2 4 0 3-5 4-4 24-7 17 13 12 0 7-2 3-4 0-15-12-19 12-7-1-2-4 1-4 15-9 5-6-7-21-5 5-3-2-3-5-5 6-9-1 0 10 5-3 5 0 10 10 0 5-3 3-4 0-13-12-1 22-2 7-6 2-13-1-3-3 0-4 3-3 9-1 0-12-14 6-4-2 0-5 2-3 16-10 0-5-6 2-4-2-7-15 3-4 6 1 8 15 0-21zm59 4-2 5 4 3 4 20 5-13 2-16z"/><path id="ud" d="m9 33-5-3-1-4 4-4 8 0 0-12 5-4 5 0 2 3 2 13 12 0 1-13 5-3 4 0 3 3 1 13 15 0 1-13 2-3 5 0 5 3 0 13 8 0 5 2 1 5-4 4-10 1 0 27-4 5-35-1-2-4-1-27-13 0 0 43 59 0 4 3 1 3-1 3-4 3-58 0-4 6-8-1-2-4 0-56zm45 1 0 21 16 0 0-21z"/><path id="vd" d="m12 93-4-1-2-4 1-4 3-2 33-1 0-19-24-1-3-2-1-3 1-3 3-3 24 0 0-16-31-1-4-4 1-5 5-2 51 0-33-8-3-5 4-5 9 0 25 6 3 4-1 8 18 0 4 2 1 5-4 4-31 1 0 16 24 0 3 3 1 3-1 3-3 2-24 1 0 18 33 1 3 3 1 4-2 4-4 1z"/><path id="wd" d="m8 62 19-21 0-8-17-1-2-3 0-4 4-4 15 0 0-10 3-4 5 0 3 3 1 19 19-11 8-1 12 2 8 7 5 11 1 22-3 13-7 10-10 5-8 1-9-1-4-2-2-4 4-6 16 0 8-7 2-8 0-15-2-8-5-6-6-1-8 1-19 15 0 41-4 5-5 0-3-4 0-29-10 11-4 2-6-4z"/><path id="xd" d="m36 64-10 2-2 3 0 5 2 4 4 2 11 0 3-6 1-9zm0 28-11-1-8-5-5-6-2-11 5-10 7-5 10-2 13 0 1-43 4-3 6 2 2 3 0 11 25 0 4 3 1 3-1 3-3 3-26 0 0 23 28 18 2 4-2 4-4 2-3 0-21-15-2 10-4 7-7 4z"/><path id="yd" d="m7 90-3-2 0-3 30-67 4-4 5-1 3 1 1 4-30 67-4 4z"/><path id="zd" d="m90 6 4 2 1 4 0 71-1 9-5 3-10 0-4-3-2-8-9 0-1 4-3 1-3-1-3-3 0-25 2-4 4-1 15 0 4 2 1 27 3 0 0-66-10-1 0 6 5 1 2 4-2 4-5 2 0 6 5 1 3 2-1 6-4 1-20 0-2-3 0-3 2-3 5-1 1-6-6-3-1-3 2-4 4-1 0-5-10 0-1 55-3 18-5 2-4-4-2-4 3-26 1-49 5-4zm-20 69 0-11-6 1 0 10zm-59-67 22 0 3 6-5 4-23-1-2-6zm-2 25-5-4 0-4 3-3 25 0 5 4 0 3-3 3zm3 14-5-4 2-5 22-1 4 4-2 5zm0 14-5-4 2-5 22-1 4 4-2 5zm24 10 0 16-2 3-3 2-14 0-2 4-6-1-3-5 0-20 2-3 3-2 20 0 4 3zm-10 11 0-7-9 1 0 6z"/><path id="Ad" d="m9 81 26-13-21-1-4-2 1-6 7-2 0-6-10-1-2-3 0-3 3-4 9-1 0-5-8-2-1-3 0-3 4-3 31-1-1-4-27 1-3-5 3-4 69-5 4 5-3 5-28 3 0 5 31 0 4 4-2 5-8 2 0 5 9 1 4 4 0 3-3 3-10 1 0 6 8 2 0 6-3 2-22 1 29 14 1 5-3 4-4 1-7-3-24-14-1 16-4 4-6 0-3-3 0-17-14 9-18 8-4-1-3-4 1-3zm49-47 0 5 13 0-1-6zm0 17 0 6 13-1-1-5zm-27-17 0 5 13 0 0-6zm1 23 12 0-1-7-12 1z"/><path id="Bd" d="m24 21 1-3 3-3 23-3 15 2 5 3 5 5 2 8-2 8-18 15-7 9-8 1-3-2 0-3 6-10 16-12 2-5-2-4-5-3-8-1-20 3zm20 51 6 0 3 4 0 7-5 3-6 0-3-4 1-7z"/><path id="Cd" d="m11 20-4-1-2-4 1-5 4-2 81 0 4 6-1 3-3 3-38 0 1 12 33 19 1 4-2 3-6 3-27-15 0 43-3 4-7 0-3-5 0-68z"/><path id="Dd" d="m62 68 0-54 3-3 4-1 4 2 1 4 0 53-3 4-4 0-4-2zm26-62 4 2 1 4 0 76-2 4-4 2-18 0-3-5 1-5 13-2 1-71 2-4zm-83 41 0-4 2-3 13-5-7-7 1-6-5-1-2-2 0-5 2-2 17-1 2-7 7-1 3 3 1 5 16 0 3 2 1 5-5 5-1 3-10 9 15 5 3 4-1 5-5 2 0 38-4 5-4 0-4-3-1-13-20 0-6 14-4 1-4-2-2-6 5-17 1-17-5-1zm37 21 0-8-18 0-1 3 1 5zm0-18 0-3-10-5-5 2-3 2 0 4zm-2-28-17 1 9 7z"/><path id="Ed" d="m11 92-5-2 0-6 3-3 14-2 0-8-14-1-3-3 0-3 4-4 13 0 0-6-12-1-4-4 0-37 2-5 37-1 3 1 2 4 1 29 14 0-8-9 1-6 6-2 7 6 9-10-23-1-4-4 3-6 34 0 3 3 0 7-14 19 1 2 14 1 2 4 0 5-6 18-4 2-5-1-2-4 6-13-8 0 0 34-3 8-5 1-12 0-5-3-1-4 2-3 11-2 0-30-14-2-4 3-11 0 0 7 12 0 4 5-4 5-12 0 0 7 14 0 2 4-1 4-3 2zm24-74 1 8 5-1 0-8zm0 17 1 8 5 0 0-9zm-17-17 0 8 5-1 0-8zm4 26 1-9-4-1-1 9z"/><path id="Fd" d="m3 87 1-4 4-3 0-62 4-5 10 0 1-6 3-3 8 1 2 8 10 0 4 4 0 37-1 4-4 1-24 0 0 19 12-3-3-6 1-4 3-3 5 1 3 2 11 20-1 4-3 3-5 0-5-7-31 7-3-2zm18-63 0 7 17 0 0-7zm0 18 0 7 17-1 0-7zm41 53-4-2-2-4 0-76 3-5 33-1 4 4-1 10-9 22 6 8 4 8 0 16-6 8-12 1-4-3-1-4 3-3 7-2 1-8-10-22 9-24-14 0 0 72-2 4z"/><path id="Gd" d="m64 59 1-8 15-11-18 0-4-2-2-3-5-16-6 16-3 3-4 2-17 0 16 14 0 4-5 17 14-10 4-1 4 1 15 10zm29-21-24 18 9 28-1 2-2 0-25-17-25 18-2-3 9-28-25-19 2-2 30-1 10-28 1-2 2 2 10 28 30 1z"/><path id="Hd" d="m15 24-3-1-3-4 1-3 4-3 28 0 4 3-1 8-10 11-6 11-3 8 0 9 2 8 5 5 9 4 10-1 9-5 5-11 0-19-6-24 2-6 5-2 4 1 23 22 2 5-3 4-5 1-12-10 4 20-2 17-4 8-7 5-12 5-10 1-13-2-8-3-8-9-3-12 1-14 7-16 9-11z"/><path id="Id" d="m72 76-3-19-5-21 1-4 4-1 4 1 2 3 6 20 3 22-2 4-5 1-4-2zm-35 15-7-3-4-4-7-13-1-16 3-19 2-4 5-1 3 2 2 3-3 23 3 14 2 4 3 1 11-14 5 0 4 4-2 6-7 10-7 6z"/><path id="Jd" d="m10 38-5-4 0-3 3-3 35-1 0-7-30-1-3-5 3-4 30 0 1-5 5-2 6 1 2 6 29 0 4 4-3 6-30 1 0 7 33 0 4 2 1 4-3 4-13 0-5 15 17 1 3 3-2 5-3 2-32 0 0 8 30 1 4 3-1 4-3 2-30 1-1 11-3 2-6 0-4-4 0-9-30-1-3-2-1-4 4-3 30-1 0-8-32 0-3-2-2-5 3-3 17-1-4-15zm55 0-29 0 4 15 19 0z"/><path id="Kd" d="m23 60-4-1-1-4 0-40 3-5 5 0 4 3 1 16 8-10 15-7 9 0 7 2 6 4 5 5 4 12 1 10-1 14-5 11-11 13-12 5-15 3-11 0-3-3 0-5 3-3 25-5 10-7 4-8 2-10 0-11-4-10-4-3-6-2-12 4-10 11-6 19z"/><path id="Ld" d="m10 45-5-3-1-5 4-3 7-1-7-5 0-4 13-18 4-3 8 1 1 3 0 4 54 0 4 4-2 5-5 2 0 11 8 2 3 5-3 4-8 2 0 12 6 1 3 3-1 4-3 3-80 0-3-3-1-4 3-3 6-1 0-12zm56-23 0 11 6 0 0-11zm0 24 0 12 6 0 0-12zm-19-24 0 11 6 0 0-11zm0 24 0 12 6 0 0-12zm-19-24 0 11 6 0 0-11zm0 24 0 12 6 0 0-12zm-5 26 3 5-2 5-7 11-4 1-3-1-3-3 0-4 9-13 3-1zm16 1 3 1 3 2 2 13-2 4-4 2-6-3-2-13 1-4zm19-1 7 3 5 13-1 4-4 2-4 0-3-2-4-13 1-4zm20 0 3-1 4 2 8 12 0 4-3 4-3 0-4-1-8-12-1-4z"/><path id="Md" d="m9 22-3-2-2-3 1-5 4-2 20 0 3 1 6-5 49 0 4 1 2 4 0 40-5 4-18 0-1 7 22 1 3 3 0 4-4 3-20 0-1 8 23 1 4 4-1 5-5 2-59 0-3-4 2-6 26-1 0-9-22-1-1 4-3 4-20 5-5-1-1-4 1-3 8-5 0-21-6-2-2-4 1-5 7-2 0-16zm60-4 1 8 11-1 0-8zm0 18 1 9 11-1 0-9zm-24-18 0 8 11-1 0-8zm0 18 0 9 11-1 0-9zm-20-14 0 16 7 2 1-20zm0 29 1 19 6-1 1-4 3-2 20 0 0-8-19 0-3-3-2-4z"/><path id="Nd" d="m48 92-10-1-11-5-4-6-3-8-2-19 2-40 1-3 4-1 4 0 3 2 0 52 2 8 4 5 6 3 10-1 5-2 10-7 9-16 5-1 5 3 1 4-5 11-12 14-7 4z"/><path id="Od" d="m12 95-4-1-2-4 0-79 3-4 3-1 76 0 4 2 2 4 0 78-2 4-9 1-3-4-60 0-3 4zm7-77 0 63 62-1 0-63zm3 53-2-4 1-3 20-23-16-1-2-5 2-5 19 0 1-9 7-2 4 4 0 7 17 0 3 1 1 6-4 3-14 1 20 23 1 5-3 3-7-1-14-17 0 20-4 5-4 0-4-4 0-21-15 18-4 1z"/><path id="Pd" d="m72 17-4-6 1-4 5-3 4 3 4 7-1 4-5 2zm22-11 3 7-1 3-3 3-5-1-4-8 0-4 4-3zm-41 33 32-2 3 3 1 3-3 4-3 1-31 2-4-3 0-4 2-3zm-13 34 1-6 4-6 7-2 4 5-4 7 1 4 7 4 10 1 17-1 3 4-2 6-16 2-15-1-6-3-8-5zm-28 18-3-2-1-4 15-55-10-2-3-3 0-3 4-4 11 0 2-8 4-3 5-1 2 2 1 10 31 0 3 3 1 4-5 4-33 0-15 59-3 3z"/><path id="Qd" d="m10 90-4-8 5-20 1-49 2-4 4-1 73 0 4 1 2 4-1 4-4 2-67 0 0 36-2 16-7 19-2 1zm83-23 4 4 0 8-3 9-5 4-21 2-25-1-6-2-3-5 0-53 1-3 5-2 44 0 4 3 1 6-2 22-5 7-19 0-5-4 1-4 2-2 12-1 2-17-28 1 1 41 13 2 20-1 2-2 3-10z"/><path id="Rd" d="m6 38-1-4 2-4 33-23 8-2 9 0 5 2 32 23 3 6-3 5-6 0-19-12-18-15-19 15-19 12-4 0zm25-2 5 0 3 5-1 21-3 13-6 9-10 8-4 1-4-3-2-3 1-3 8-8 6-11 2-26zm39 0 5 1 3 4-1 48-2 4-3 1-6-1-2-5 0-47 2-4z"/><path id="Sd" d="m9 30-5-2 0-6 3-2 6-1 3-13 7-1 3 4 0 10 16 1 4 3 0 5 5-4 6 2 6 18 6 13 9-17 4-19-36 0-4-4 1-5 5-2 45 1 2 3 1 7-4 17-6 16-8 14 18 16-1 7-6 2-20-15-19 15-4 0-3-3-2-3 1-4 19-15-9-17-6-19-3 16-4 15 6 8 0 6-6 3-7-5-8 10-10 9-3 1-4-1-2-4 1-4 10-10 7-10-6-6-2 4-3 1-6-5-1-5 6-24zm11 17 8 7 2-4 3-19-9 0z"/><path id="Td" d="m6 28-1-4 3-4 15-14 7 0 2 3 0 4-9 10-11 8-3 0zm-1 33 0-10 19-21 5-1 5 3 0 5-8 11 0 42-1 4-7 1-4-4 0-32-6 5zm56-9-2 3 28 1 3 1 2 8-15 14 18 5 2 4-1 3-6 3-25-9-27 9-6-1-2-5 1-4 22-6-10-8-7 4-4-1-2-4 2-5 14-11-13-1-3-3 0-4 3-2 11-2 4-3-14-13-1-5 3-4 4-1 4 2 14-12 7 1 2 2 0 4-14 13 5 5 21-19 7 0 3 3-1 5-25 22 18-1-1-8 2-3 5-1 3 3 5 9 3 7-1 3-6 3-5-3zm16 13-23 0 11 9z"/><path id="Ud" d="m8 40-4-3 2-5 27-3-23-1-3-3 1-3 25-2 1-2-25-1-3-2 1-4 3-2 23 0 2-4 3-1 5 0 3 3 1 13-2 14-9 10 7 0 3-5 7 0 0-30 1-3 4-2 6 0 3 5 26 1 2 4-4 3-25 1 1 2 24 1 2 3-1 3-25 1-1 2 27 1 3 4-3 4-26 0-2 3-8 0 1 2 33 0 3 1 1 5-4 2-34 0 1 3 27 0 3 5 0 14-1 3-3 2-26 0-1 2 36 1 3 2-1 5-3 1-34 1-3 4-3 2-6-1-3-5-34-1-4-1 0-5 3-2 35-1-1-2-25 0-4-2-1-17 2-4 29-1 0-2-35-1-2-4 2-4 23 0-9-5zm35 32-1-2-17 1 1 1zm0-9-1-2-17 1 1 2zm14-1 1 2 18-1-1-2zm0 9 1 1 18 0-1-2z"/><path id="Vd" d="m82 95-3-1-3-4 0-44-9 1-4 25-9 19-3 1-4-1-3-3 0-4 6-14 4-12 3-44 4-3 28-5 5 3 0 5-2 3-24 6 0 12 24 0 3 1 2 4-2 5-6 2 0 43-2 4zm-76-9 0-7 11-15-9-1-2-3 0-4 3-3 12-1 0-5-12 0-4-3 2-6 7-1-2-13-6-4 1-5 3-2 11 0 1-8 7-2 4 3 1 7 14 0 3 1 1 5-2 4-3 1-4 12 7 2 1 7-3 2-14 1 0 5 13 0 3 3 0 4-2 3-13 1 9 8 0 6-5 2-5-3 0 14-4 5-5-1-3-3-1-15-9 10-3 1zm19-53 0 4 6 0 3-8 2-5-14 0z"/><path id="Wd" d="m17 11 7 1 8 16 0 5-4 3-4 0-3-2-9-17 1-4zm68-1 3 2 1 4-7 15-4 5-7-1-2-2-1-3 9-17 3-3zm-77 77-2-4 1-4 17-13 13-13-26-1-4-3 0-4 5-4 32 0 0-31 3-5 6 0 4 4 0 32 33 1 3 2 1 4-2 3-3 1-25 1 12 13 18 14 0 4-4 5-4 0-7-4-22-22 0 27-4 5-6 0-3-4-1-28-12 13-15 12-4 1z"/><path id="Xd" d="m27 73-5-2-6 2-2 5 2 6 6 2 5-2 2-6zm-5-11 6 1 5 4 4 5 1 6-1 7-4 5-5 4-6 1-7-1-5-4-4-5-1-7 1-6 4-5 5-4z"/><path id="Yd" d="m6 60-3-2-1-3 4-28 3-3 5 1 0-16 4-4 4 0 4 3 1 13 3 0 3 2 3 10 7-24 4-2 4 2 2 3-1 9 8 0 1-13 5-3 4 0 3 3 1 13 17 0 3 2 1 5-4 4-17 1 0 16 15 1 3 2 1 3-1 3-3 3-15 0 0 19 20 2 3 6-4 5-55 0-4-2-2-5 4-4 24-1 0-20-19-1-3-4 0-6-9-8-2-9-2 60-6 2-5-4 0-54-3 20-2 2zm38-11 16 0 0-16-11 0z"/><path id="Zd" d="m7 71-2-9 11-30-8-1-2-6 3-4 7-1 1-11 4-4 7 2 1 13 6 2 2 4 14-19 4-3 7 1 1 7 31 0 2 4-1 7-16 18 14 6 5 3 2 5-1 4-5 2 0 29-4 5-7-1-3-4-25 0-3 4-8 0-3-4 0-29-3 4-4 0-5-9 0 34-2 4-6 1-4-4 0-29-5 10-3 0zm74 8-1-12-26 1 1 12zm3-23-16-8-17 9zm-25-34 10 11 12-11zm-29 10 8 17 21-8-9-9-8 5-4-2-2-5z"/><path id="ae" d="m10 32-5-3 0-5 3-3 7 0 0-12 4-4 5 0 3 3 1 13 5 0 1-4 3-3 21 0 0-7 5-3 4 0 4 2 1 8 21 1 3 5-3 5-21 1 0 11 17 0 5 4-1 8-4 7-14 18 19 9 2 5-3 4-5 1-24-12-25 12-5-1-3-5 2-4 21-9-14-16 0-4 2-2 4-1 4 1 15 14 8-8 6-11-40 0-4-1-1-5 3-4 21-1 0-11-22 0-2 6-6 1 0 19 6 1 2 4-2 5-6 3-1 26-5 4-14 0-2-4 0-4 2-2 6 0 1-3 0-14-7 1-3-4 2-6 8-3 0-23z"/><path id="be" d="m5 57-1-11 9-18 6-20 6-3 6 3 0 4-5 19 0 61-6 3-6-3-1-39-4 6zm66-35 0 5 19 0 4 3 1 31-3 4-4 1-4-2-2-4-13 0-5 16 13 5 18 2 3 4-2 5-3 2-8 0-12-3-16-6-15 7-8 1-4-5 1-4 14-6-7-9 0-5 4-3 3 0 8 8 3-8-18-1-4-2 0-28 4-3 19 0 0-5-22-1-3-3 1-5 4-2 19 0 3-6 7-1 4 3 1 4 22 0 5 4-1 4-3 3zm-25 28 10 0 1-13-12 0zm36-13-11 0-1 13 12 0z"/><path id="ce" d="m7 86-2-4 2-4 18-13 13-13-27-1-4-4 1-4 4-3 32 0-1-13-28 0-4-4 1-5 4-2 27 0 2-10 3-2 5 0 4 3 1 9 27 0 5 4-1 4-3 3-28 0 0 13 31 0 4 3 0 5-3 3-27 1 13 13 18 13 2 5-2 4-6 2-7-5-24-22 0 28-3 5-7 0-3-4 0-30-14 14-16 13-4 1z"/><path id="de" d="m46 18-39-1-2-4 2-3 14-1 2-4 3-2 6 1 3 5 13 1 2 5zm-5 2 3 1 3 4-1 7-2 4-30 1-4-1-2-4 0-8 3-3zm-5 10-1-4-16 1 1 3zm-28 32-4-3 2-5 17-2 1-2 8-3-23 0-3-3 2-5 37 0 2 3 0 3-6 6 7 1 2 5-3 2-11 2-1 7-2 4-20 0-3-4 1-3 11-1 1-3zm87-17 4 4 0 5-3 10-4 6-7 0-4-4-3-7-3 3-3 1-7-7-10 14-6 1-3-3-1-3 11-18-7-9 1-4 3-2 5 0 1-8-8-1-2-3 1-4 3-3 6 0 1-8 6-2 4 4 1 6 12 0 4 3 3 38 2-8zm-18 7-1-28-5 0-2 19zm-67 41-3-3 0-4 9-11 7-1 3 5-3 6-7 8zm31 2-6-3-2-11 1-4 4-2 7 3 2 11-2 4zm24-1-6-2-5-11 1-5 6-1 5 2 4 11-1 4zm25-1-6-1-8-10-1-5 3-3 3-1 4 1 8 11 0 4z"/><path id="ee" d="m72 94-4-2-3-5-26 0-2 4-7-1-3-4 1-18 4-3 37 0 4 4 0 13 3 1 4-2-1-20-58 0-1 29-3 4-6 0-4-5 1-35 5-3 77 1 3 5-2 33-5 4zm-10-16-1-4-23 0 1 5zm-52-57-3-1-2-3 0-3 3-3 35-1 2-6 6-1 5 2 1 5 35 1 3 5-3 5zm22 26-9 0-4-3 0-14 3-5 54 0 3 1 2 4 0 12-3 5zm0-13 1 5 35-1-1-4z"/><path id="fe" d="m51 56-11 18-15 14-11 5-5-4-1-4 21-18 11-18 3-11 2-31 7-2 5 3 0 20 2 14 8 19 14 15 11 7 1 4-2 4-5 2-9-5-15-14zm37-36 4 2 1 3-7 18-5 9-4 1-4-1-2-2 0-4 10-23 3-3zm-63 1 4 2 1 3-2 11-8 17-3 2-4 0-3-3-1-4 10-25 2-2z"/><path id="ge" d="m8 32-4-2-1-4 3-4 6-1 0-12 4-4 4 0 3 2 1 14 5 1 3 3 0-13 5-5 53 0 4 3 2 3 0 55-2 3-3 3-4 0-3-2-2-4-11 0-1 23-2 3-4 1-4 0-3-4 0-23-12 0-2 4-3 2-4-1-3-3-1-12-8 5 0 23-2 6-9 3-5 0-3-2-1-6 3-2 4-1 1-2 0-16-6 0-3-4 2-5 7-3 0-21zm62-13 0 13 13 0-1-13zm0 25 0 13 13-1-1-13zm-25-25 0 13 12 0 0-13zm0 25 0 13 12-1 0-13zm-21-11 0 18 5-1 3 2 0-23z"/><path id="he" d="m8 44-4-1-2-4 3-5 6-2 0-21 4-5 6 1 2 4 1 19 18-4 3 2 1 3 0 4-3 2-19 4 0 26 8 0 3-14 2-3 3 0 5 5-2 16 9-20 3-29-15-2-3-3 1-5 5-2 48 0 3 2 1 3-1 51-3 18-3 4-4 4-18 0-4-3-1-3 2-5 13-1 3-4 3-22 0-33-14 0-3 25-4 18-8 14-13 14-6 0-4-4 1-4 7-7-18 1-7-2-2-6 0-26z"/><path id="ie" d="m26 44 23 1 3 4-4 3-23 0-3-5zm0 47-4-2 1-5 12-2 6-10-8 0 2 5-1 2-4 2-4-1-1-3 0-3 6-2-4-1-3-2 0-11 4-3 16 0 4 1 2 4-1 9-6 3 5 3-1 5 5 2-1 4-3 2zm14-25 1-5-7 0-1 4zm-28 29-4-2-2-4 0-79 5-4 30 0 4 1 2 4-1 29-4 2-24 0 0 48-2 4zm7-78 1 4 16-1-1-4zm0 12 1 4 16-1-1-3zm69-23 4 2 2 4 0 69-1 9-6 4-13 0-3-1-3-3-11-2-2-6 3-2 8 0 0-6-5 2-4-2-5-11 2-3 3 0 6 6 3 6 0-14-12-1-3-3 1-3 3-2 10 0 4-5 6 1 6 7-1 4-3 2 0 25 4 0 1-41-25 0-4-2-1-30 5-4zm-7 26-1-3-17 0 1 4zm0-12-1-4-17 1 1 4z"/><path id="je" d="m16 85-3-1-2-4 0-4 3-2 29-1 0-45-26-2-3-4 1-6 4-1 62 0 3 1 2 3 0 4-3 3-26 1 0 45 29 2 3 4-1 6-4 1z"/><path id="ke" d="m9 71 0-4 2-3 36-14 17-11 8-7-53 0-4-2-1-5 3-5 26-1 0-9 4-4 6 0 3 2 2 12 26 0 4 3-2 12-16 17 19 15 2 6-4 4-5 1-25-18 0 27-4 5-6 0-3-3-1-22-28 9-4-2z"/><path id="le" d="m71 5 6 1 4 6 1 5-3 3-6-1-4-7 0-4zm23 1 3 7 0 3-4 3-5-1-4-8 0-4 5-3zm-80 64-4-1-2-3 0-4 3-3 31-2-1-19-25 0-4-5 2-6 25-1 0-14 3-3 5-1 5 3 2 14 26-1 4 1 2 4 0 4-3 3-28 1 2 19 29 0 4 3 0 5-4 4-28 1 1 20-2 4-7 1-4-3-3-21z"/><path id="me" d="m38 25-4-11 0-3 5-4 6 3 5 12 0 3-6 4zm53-18 3 2 1 4-5 12-4 4-5-1-3-5 5-14 4-3zm-64 8 2 6-5 4-4-1-8-6-2-6 5-4 3 0zm-20 25-2-3 1-4 5-4 13 9 2 7-5 4-3-1zm19 19 3 2 1 4-7 17-6 10-3 1-4-2-2-7 10-23 4-3zm8-22 1-3 4-3 18 0 1-22 2-4 3-1 5 1 2 4 1 22 18 0 4 3 1 3-1 51-3 5-10 1-10-1-2-5 3-5 9 0 0-7-32 0-2 16-4 3-7-3-1-3zm13 6 1 6 33-1-1-6zm0 17 1 6 33-1-1-6z"/><path id="ne" d="m27 95-4-1-2-3 0-21-9 17-4 0-3-5 1-6 11-20-9-1-2-2 0-4 3-3 12 0-1-6-9 0-3-5 3-4 10-1 0-5-11-1-3-6 3-4 11 0 0-6 3-3 6 0 3 3 0 6 10 0 4 4-3 6-11 1 0 5 10 1 3 4-3 5-10 0 0 5 9 1 4 3-2 6-8 1 11 20-3 5-4 0-7-11 0 21-3 4zm47-30-1 13 1 4 11-1 2-10 2-3 5 0 3 2 2 5-2 13-4 4-6 2-19 0-6-2-2-6 0-19-12 1-4-5 3-6 13-2-1-10-8 1-4-4 0-3 2-3 11-3 0-9-7 0-3-3-1-4 2-3 38-7 5 2 1 5-3 4-19 4 0 9 20-1 3 3 0 5-3 3-20 2 0 10 22-2 4 3 0 5-4 4z"/><path id="oe" d="m52 56 3-6-3-6-7-3-7 3-3 6 3 6 7 3zm-40-30-5-4 0-3 3-3 43-1 2-8 4-3 7 3 1 8 22 0 3 2 1 5-3 4-23 0 0 19 2 12-1 11-4 10-8 8-19 6-5-3-1-3 1-4 19-7 3-4 3-5-11 4-13-3-8-7-2-10 1-8 7-8 10-4 13 3 0-7z"/><path id="pe" d="m9 32-4-2-1-4 3-4 7-1 0-12 3-4 5 0 3 2 1 14 5 1 3 4-2 5-6 2 1 17 4-1 1-12 3-3 5 0-2-6 3-5 3 0 4 1 5 10 6 0-2-9 3-3 4 0 4 3 4 9 4 0 6-15-44 2-5-4 0-4 2-2 53-5 4 1 1 4-2 5-7 2 6 2 2 3-3 11 4 1 3 3 0 15-5 3-4 9-12 12 19 6 2 5-2 4-3 2-7-2-22-8-21 8-9 1-3-5 1-4 20-7-9-9 1-4 4-4-7-1-2-3-3-1-2 4-6 3-1 29-3 3-7 1-8-1-2-5 2-4 6-1 1-2-1-17-6 1-3-5 2-5 8-3 0-20zm67 28-27 0 14 11zm-33-15 1 4 40-1-1-4z"/><path id="qe" d="m6 90 0-4 2-3 27-9-24 0-3-4 2-5 34-1-1-4-27 0-3-2-1-4 3-3 29-1-1-3-30 0-3-2-1-4 3-3 16-1-4-9-13 0-4-3 0-4 2-3 8-1-2-5 1-4 7-1 7 10 5 0 1-10 3-3 4 0 4 4 0 9 7 0 1-10 6-3 5 4 1 9 5 0 2-3 4-6 6-1 3 4-2 6 6 0 3 3 1 4-2 3-15 1-4 9 16 1 2 2 0 4-3 3-31 0 0 3 28 1 3 2 0 4-3 3-28 0 0 4 34 1 2 5-3 4-24 0 27 9 2 4-2 4-3 2-4 0-29-13-1 12-4 3-6 0-2-3-1-12-30 13-5-1zm36-53 18 0 4-9-26 0z"/><path id="re" d="m13 72-3-1-2-4 0-44 4-3 31 0 1-13 5-3 4 0 3 3 1 13 31 0 4 3 0 43-1 4-7 2-5-6-22 0 0 26-2 3-4 1-5 0-3-4 0-26-22 0-3 5zm66-41-22 0 1 24 22 0zm-59 1 0 23 23-1 0-23z"/><path id="se" d="m9 67-3-10 4-18 1-24 3-4 38-1 2-5 4-2 5 2 2 5 9 0 2-6 5-1 7 7 6 2 0 6-3 2-25 1 4 13 12-10 6 1 2 5-14 15 8 9 7-10 4 0 3 4-4 12-6 6 0 17 6 0 3 4 0 3-2 3-84 1-4-3 0-4 3-4 6 0 0-16-4 1zm28 15 0-13-9 1 0 13zm19 0 0-13-9 1 1 13zm20 0 0-13-9 1 0 13zm-53-61 1 4 20 0 4 2 1 3 0 17 10-6-6-20zm1 14-5 25 52-1-6-7-10 4-7-5-6 4-15-1-3-3 1-4 2-2 10-1 1-8z"/><path id="te" d="m93 29-4 24-7 17 13 13 1 5-3 3-5 0-14-11-19 12-4 0-3-2-2-3 2-4 19-13-7-22-3 5-3 1-5-4-1-5 8-18 7-19 3-4 5 0 3 2-1 11 22 1 3 4 0 4zm-18 28 4-12 2-16-12 0-3 7 4 2zm-66-18-5-3 1-6 14-2 0-8-8 0-3-2-1-4 2-3 9-1 2-5 4-2 6 2 2 5 8 1 3 5 5-7 7 0 2 6-8 13 4 3-1 6-3 2-10 0-6 6 12 1 3 2-1 8-6 7 13 0 3 3-1 5-3 1-15 2-1 14-2 5-11 1-10-1-2-4 0-3 3-3 9 0 1-8-18 0-3-3 0-4 4-3 17-1 2-4 8-5-14 0-9 5-5-1-2-4 1-4 16-12zm22-18 1 8 5-4 3-5z"/><path id="ue" d="m42 82 1-8-27 0-3-3-1-4 4-3 27 0 1-8-30 1-3-2-1-4 1-3 13-2 6-9-15-1-3-4-5-2-2-4 1-13 4-2 33-1 2-6 6-2 5 3 1 5 33 1 4 2 0 16-6 3-3 4-6 0 11 15-1 5-5 2-4-1-4-4-21 2 2 9 25 0 5 4-1 3-3 3-26 0 0 8 34 0 4 3-1 6-4 2-81 0-4-5 1-3 3-3zm-23-56 62 0 0-5-62 0zm20 19 29-2-1-2-4-5-19 0z"/><path id="ve" d="m8 36-4-2-1-5 11-5-9-6-1-4 3-3 4 1 8-7 5 0 1 3-7 8 3 2 7-5 5 1 1-5 4-3 24 1 3 4 0 15-5 4 7 9 1-31 4-2 22 0 3 1 0 4-6 13 6 8 0 10-7 3-8-1-2-4 6-4 0-3-7-7-1 18-4 3-5-1-1-2-7 1-4-3-27 4-2-5 1-2 5-1-1-5-9 9-11 7 30 0 3-4 8 0 2 1 2 3 33 0 2 3-1 3-13 1-4 4 19 1 2 3-2 4-86 0-4-3 3-4 19-1-5-4-13-1 1-5-4-3 0-4 15-9zm30 20 4 5 17 0 5-5zm41-42 0 9 3-4 4-6zm-34-1 1 2 8-1 0-2zm0 8 1 2 8 0 0-2zm0 9 0 6 7-2 0-3 5-1zm-21-4 7-1 2 1 0-7zm-3 44 61 1 4 4-1 17-5 4-6 0-2-3-43 0-2 3-8-1-4-4 0-16 2-4zm51 16-1-2-42 1 1 2zm0-8-1-2-42 1 1 2z"/><path id="we" d="m9 84-5-2-1-5 4-5 0-53-3-2-1-4 2-3 2-3 31 0 4 4 1 5-5 3 1 52 4-34 4-3 7 0 1-8 3-3 6 0 3 4 1 55 4 1 2-2 3-18 8-2-4-23 2-4 6-2 4 3 5 39-3 3-8 2-2 10-4 4-17 1-7-2-3-8 0-47-5 40-5 3-5-3-1 14-1 3-5 1-4-2-1-13zm9-65 1 10 8-1 0-9zm0 20 1 10 8 0 0-10zm0 21 1 10 8-2 0-9zm33-50 3-3 4-2 14 4 14 5 2 3 0 4-3 3-4 1-28-9-2-3z"/><path id="xe" d="m70 37 6 1 5 8 0 5-4 2-5-1-5-8 0-4zm24-1 3 8 0 4-7 3-4-5-3-6 1-5 5-2zm-46 20 3-6-3-6-7-3-7 3-3 6 3 6 7 3zm-38-30-5-4 0-3 3-3 41-1 1-8 5-3 6 3 2 8 24 0 4 2 1 5-4 4-26 0 0 19 3 12-1 11-4 10-8 8-19 6-5-2-2-4 2-4 18-7 4-4 2-5-10 4-14-3-7-7-3-10 2-8 6-8 10-4 14 3 0-7z"/><path id="ye" d="m7 88-2-3 0-4 8-16 3-3 4 1 3 2 1 4-5 13-6 7zm41-30 7 0 6 6 3 5-2 6-4 1-4-2-8-10zm45 31-6-1-7-12-2 13-5 4-22 2-20-2-3-5-1-24 3-4 6-1 5 5 0 19 5 1 20-1 4-10 8 0-2-6 2-4 4-2 4 1 11 20-1 4zm-81-77 2-3 3-2 68 0 3 5 0 37-2 4-3 1-67 0-4-5zm45 6 0 8 18-1 0-8zm0 18 0 8 18-1 0-8zm-31-18 0 8 18-1 0-8zm0 18 0 8 18-1 0-8z"/><path id="ze" d="m13 18-2-6 5-4 4 0 8 7 2 6-4 4-5-1zm-4 22-2-3 0-4 6-4 13 9 2 7-6 4-3-1zm17 19 3 3 1 4-5 13-6 12-3 2-4-1-3-4 0-4 11-23 3-2zm49-7 7 16 12 16 1 4-3 4-6 1-8-9-10-17-6-16-10 0-8 34-4 7-6 1-3-3-1-4 7-27 1-45 2-4 4-2 42 0 5 2 1 4 0 33-4 4zm-23-12 27-1 0-20-27 0z"/><path id="Ae" d="m14 94-4-1-2-4 0-57 3-3 4-1 4 1 2 4 0 42 22 0 0-65 4-5 6 1 4 4 0 65 21 0 1-42 4-5 6 1 3 4 0 55-2 4-3 2-4-1-5-6-56 0-3 6z"/><path id="Be" d="m12 90-4-4-1-5 6-23 1-46 1-3 3-2 69 0 3 1 3 5 0 20-2 3-4 2-30 0 2 10 17 0 4 3 1 31 5-1 1-14 5-4 4 1 3 3 0 12-2 9-4 4-11 2-11-2-3-6 0-26-10-1-6 15-6 9-11 8-8 3-5-4 0-5 16-11 6-14-14-1-4-2-6 28-3 6zm14-71 1 8 53 0-1-9zm0 20 1 11 3-2 14 0 1-3 2-7z"/><path id="Ce" d="m14 95-3-1-2-4 0-33 5-3 4 1 3 2 1 21 21 0 0-30-25-1-4-2-1-3 1-27 6-2 5 3 1 20 17 0 0-27 4-4 6 0 4 4 1 27 16 0 1-20 5-3 6 3 1 28-5 3-25 1 0 29 21 1 1-20 4-4 5 1 3 4-1 33-3 3-5 0-4-6-56 0-2 5z"/><path id="De" d="m83 6 4 1 2 4 0 20-4 4-68 1-3-1-2-4 0-20 3-4zm-7 22-1-3-50 1 1 2zm0-10-1-3-50 1 1 2zm-66 74-4-1-2-4 1-4 7-3 0-30-5-1-2-2 0-4 2-3 86 0 3 5-4 5-42 0 0 41-3 4-7 0-3-7zm13-41 1 3 14 0-1-4zm0 12 1 4 14-1-1-4zm0 12 1 5 14-3-1-3zm72 15-2 3-4 1-16-7-14 6-5-1-3-3 1-4 10-6-6-8 0-4 4-4-4 0-3-4 1-4 3-2 33 1 2 4-2 5 0 4-8 12 12 5zm-31-26 8 8 7-8z"/><path id="Ee" d="m72 79-4-1-2-4 0-32-17 0-3 18-5 13-5 2-6-3 0-5 7-24 1-29 5-4 40-4 4 1 3 5-4 5-36 5 1 9 37 0 5 3 0 4-3 3-10 1-1 33-2 3zm-61-69 3-1 4 1 10 11 2 4-2 4-4 2-3-1-11-11-1-4zm-1 43-5-4 2-6 18-1 3 5 0 26 4 5 6 3 11 1 42 1 4 3-1 5-5 3-42-1-14-3-10-5-10 8-5 0-2-4 0-4 10-10 0-22z"/><path id="Fe" d="m12 19-3-1-3-4 1-3 4-3 34 0 4 1 2 4-1 3-3 3zm-3 73-3-6 4-20 1-36 5-3 28 0 4 2 1 3-1 29-4 3-21 0-5 27-5 3zm14-40 1 2 14-1 0-15-15 0zm68-17 5 2 1 5-3 4-6 1-1 45-6 2-5-4-1-44-8 1-3 18-5 13-8 12-6 0-3-2 0-4 7-14 4-12 4-44 4-3 30-4 3 4-1 5-25 6 0 12z"/><path id="Ge" d="m8 90 1-6 17-7 6-10-13-1-4-4 0-50 1-4 4-1 61 0 5 2 1 3 0 50-5 4-15 1 1 15 9 1 4-1 3-10 8-1 3 6-1 9-3 6-8 2-21 0-6-2-1-2-1-23-7 0-6 12-10 9-17 6-4-1zm20-72 1 6 44-1 0-5zm0 16 1 6 44-1 0-5zm1 22 44 0-1-7-43 0z"/><path id="He" d="m93 58 3 2 2 4-3 22-4 7-9 1-7-4-6-10-5-29-47 0-4-3 1-6 4-1 57 1 3 4 3 25 3 8 3-17 3-3zm-85-19-2-3 0-4 15-27 3-2 7 1 2 5 54 1 3 3-1 6-61 1-1 2-2 4 56 0 3 3-1 5-54 1-4-2-2-5-8 11-4 1zm2 45 19-11-13-9 0-5 3-3 5 0 15 10 11-10 4-1 4 3 1 5-10 10 13 12 0 4-3 3-6 0-14-11-19 11-8 2-5-4 1-4z"/><path id="Ie" d="m10 24-5-4 1-6 3-1 18 0-1-6 3-4 7 1 6 9 16 0 6-9 8-1 3 4-2 6 18 0 3 1 1 6-4 3zm26 60 2-1 0-9-15 0-2 18-7 3-4-3-1-59 5-4 31 0 3 1 2 3 0 57-1 3-4 1-13 0-3-3-1-5 3-2zm-14-44 0 7 17-1-1-7zm16 24 0-7-15 0-1 7zm32 6-1 3-4 2-4 0-3-3 0-36 1-4 3-2 4 0 3 4zm-1 24-5-2-1-5 3-4 12-1 1-49 2-4 3-1 5 1 2 4 0 55-2 4-3 2z"/><path id="Je" d="m10 63-2-3 1-3 15-22 12-25 4-3 5 0 4 4-3 10 33 0 5 4 0 8-3 10-6 11-11 16 10 11 1 4-4 5-6 0-29-27-2-3 3-5 4-2 13 8 10-14 6-15-29 0-21 31-5 2z"/><path id="Ke" d="m94 13 3 1 2 3 0 4-3 2-25 1 0 14 21 1 3 2 1 3-1 3-3 2-21 1 0 14 21 0 3 3 1 4-5 5-20 0-1 17-3 2-5 0-5-5 0-66-1 1-13 23-4 1-3-2-2-3 0-4 14-32 4-3 7 1 2 7zm-86 43-2-9 11-19 7-20 5-3 6 3 1 4-6 19 0 61-6 3-4 0-2-3-1-40-5 6z"/><path id="Le" d="m9 10 6-2 8 5 4 5-2 5-3 2-4-1-9-8zm-3 30-2-3 0-4 6-3 14 9 0 7-4 3-4-1zm2 51-2-3 0-3 10-22 3-3 4 0 3 3 1 3-7 17-5 9-3 1zm82-70-32 0-6 16 22-2-3-5 1-3 3-3 5 0 3 3 11 16 0 4-4 3-5 0-4-5-41 4-11-1-3-3 1-4 3-2 7-1 7-16-15-2-2-5 3-4 23-1 3-6 6-1 4 2 2 5 24 1 3 3 0 3-2 3zm-50 31 4 1 2 4-3 23-4 7-6 6-4 1-5-2-2-3 1-3 8-12 3-18zm17 0 5 1 2 4 0 32-2 4-4 1-4-1-3-5 0-31 3-4zm36 16 3 2 2 3-3 19-7 3-16-1-2-6 0-32 2-4 3-1 5 0 3 3 1 30 3-1 1-13z"/><path id="Me" d="m6 73-1-4 1-4 19-20 10-24-25-1-3-2 0-4 4-5 80 1 2 2 1 4-4 5-41 0-8 22 43 0 4 2 2 4 0 40-3 5-8 0-3-4-36 0-3 4-8 0-3-5 0-26-13 12-4 0zm71-17-37-1-1 23 37 1z"/><path id="Ne" d="m2 56 4-29 6-2 2 5-4 29-2 2-3 0zm18 39-4-1-1-4 0-80 2-4 5-1 4 2 1 11 6-1 2-7 4-4 51 1 3 3-1 7 5 1 1 4-2 3-5 1-1 6-3 3-52 1 1 3 51 0 4 1 2 4 0 31-4 4-10 0 15 7 2 3-2 4-6 1-18-8-2-2 0-5-11 0 0 5-2 3-18 7-5-1-2-4 1-3 17-7-12 0-3-3-1-25-3-2-2-7 0 48-2 4zm25-47 1 2 34-1-1-2zm0 10 1 2 34-1-1-2zm0 10 1 2 34-1-1-2zm24-54 1 3 9 0 1-3zm-1 12 0 3 9 0 1-2 0-1zm-22-12 0 3 12-1-1-2zm-2 12 0 3 12-1 0-2zm-14 0-3-2 0 5 2 0 3 0 0-3z"/><path id="Oe" d="m11 62-5-4 0-3 3-3 25 0 3-3-7 0-6-7-10 5-4-1-4-4 2-5 20-9 3 2 1 3-3 6 15-5 9-7 1-7-6 0-9 8-5 0-3-3 0-5 14-15 9 0 1 4 35 1 3 3-1 7-7 10-5 1-4-2 0-5 3-4-12 0 1 8 9 9 15 6 2 3-3 4-5 2-11-4-15-11-12 8 3 3-1 4 39 0 4 2 1 4-2 3-13 1-11 13 21 9 1 4-3 4-6 1-25-10-25 8-18 2-4-5 2-5 29-6-12-3-7 2-5-1-2-5 9-8zm26 4 17 5 11-8-23-1zm-20-58 9 4 2 4-3 5-6 0-9-5-2-2 3-6z"/><path id="Pe" d="m92 17 5 3 0 5-5 4-4 24-6 18 13 12 1 5-4 4-5-1-13-10-14 11-7-1-2-3 0-5 16-13-8-22-3 4-4 0-4-3-1-3-6 1-5-6-3 8-3 1-4-1-3-3 0-6-10 10-6-1-2-3 1-3 12-11-10-1-3-4 3-5 15 0 0-14 4-3 4-1 4 3 1 15 12 0 3 2 1 4-2 3-10 1 7 6 2 3 7-15 5-18 3-4 5 0 4 2-1 11zm-17 41 5-29-12 0-3 7 4 2zm-66 8-4-3 1-5 11-2 5-5 8 1 1 4 21 1 3 2 0 4-7 3-6 12 7 5 0 5-3 2-13-4-13 6-11 2-3-4 0-4 14-5-10-5-1-3 4-7zm15 4 7 4 4-5 1-3-9 0zm-14-52-3-6 1-4 5-1 4 2 3 6-1 5-5 1zm39 0-4 3-5-2-1-3 3-7 4-3 5 2 1 3z"/><path id="Qe" d="m10 76-5-3-1-4 4-4 13 0 0-22 1-4 4-1 22-1 0-13-18 0-12 22-5 1-6-3 0-5 15-33 4-2 6 1 2 3 0 5 52 0 4 2 2 5-4 4-26 0 1 14 22 0 4 5-4 6-23 0 0 15 30 1 4 4 0 4-5 3-28 0-1 15-2 3-4 1-4 0-3-3-1-16zm24-26 0 15 14-1 0-15z"/><path id="Re" d="m27 15 1 6-4 4-4-1-9-6-2-6 6-4 3 0zm-20 25-2-3 0-4 6-4 13 9 2 7-5 4-4-1zm18 19 3 2 1 4-6 17-6 10-3 1-4-2-3-7 11-23 3-3zm11-15-5-3 0-3 3-3 24-1-1-3-19 0-2-3 1-4 20-1 1-3-22-1-2-3 0-4 3-2 20 0 3-6 6 0 4 1 2 5 19 0 3 2 1 4-3 3-20 1 0 3 19 0 2 3-1 4-20 1 0 3 22 1 2 3 0 4-4 2zm44 38-1-2-30 0-2 12-4 3-6-1-2-5 0-38 5-3 47 0 4 1 2 3-1 38-2 2-4 2-17-1-2-3 1-4 2-2 9 0zm-32-25 1 3 31 0-1-4zm31 15 0-4-30 0 0 4z"/><path id="Se" d="m14 42-5 2-4-5 1-4 10-12-10-3-1-4 2-3 13-1 2-6 6-2 4 3 1 5 10 1 2 6-3 3-6 1 8 7 0 3-2 4-4 0-5-4-1 11-3 2-4 1-4-4-1-9zm32-6 12-13-8-2-2-3 1-4 4-2 10 0 1-5 4-3 6 1 3 7 13 0 4 2 1 4-2 3-12 1 2 3 11 12 0 4-3 3-5-1-10-11-1 11-4 4-4-1-2-2-1-12-12 12-7-2 0-4zm-16 33-1 5 15 6 0-20-34-1-4-5 4-5 80 0 3 3 0 6-7 12-4 1-4-1-2 4-3 1-15 0 0 7 33 2 3 5-4 5-43-2-13-4-10-5-5 9-6 2-5-2-1-4 11-23 4-3 5 1 3 2zm28-9 0 6 15 0 4-4 2-2z"/><path id="Te" d="m13 87-5-3-1-5 3-4 7-1 18-60 4-4 8 2 2 5-17 56 40-4-8-20 1-4 5-3 4 0 3 3 16 35-2 6-8 2-5-8z"/><path id="Ue" d="m86 13 4 2 1 3-2 22-5 16-8 13-11 9-23 9-13 2-3-5 0-5 3-2 23-6 12-9 9-16 5-30 3-3zm-69 33-6-25 2-3 5-1 3 1 3 3 6 25-3 4-5 1-3-2zm34 2-4 0-3-3-6-25 1-5 5-1 4 0 3 3 6 24-1 5z"/><path id="Ve" d="m16 94-3-1-2-4 0-71 5-3 22 0 4-10 5-3 5 1 3 2-2 9 31 1 5 3 0 73-3 3-6 0-3-1-2-3-50 0-3 4zm8-68 1 11 51-1-1-10zm0 22 1 10 51-1-1-10zm0 21 1 10 51-1-1-10z"/><path id="We" d="m7 48-3-4 1-4 13-15 10-15 4-3 6 2 2 5-13 22 46 0-13-23 4-5 7 1 25 33-2 4-4 3-4 0-4-4-2 32-2 10-3 5-6 2-11 0-7 0-4-3-1-5 3-3 13 0 4-3 2-12 0-20-22-1-5 20-5 11-15 15-7 0-3-4 0-3 15-17 4-9 2-12-16-1-5 2z"/><path id="Xe" d="m55 93-4-2-2-6 4-3 13-2 0-20-4-1-2 4-3 2-4-1-2-3 0-40 4-4 11 0 1-9 4-4 5 1 3 2 1 10 11 0 4 2 1 3 0 33-4 4-13 0 0 19 6-1-2-7 2-4 4-1 4 1 4 13 1 13-2 3-5 0-3-2-2-5zm24-64 0 19 6 0 0-19zm-13 19 1-19-4-1-1 20zm-57 44-4-6 4-35 0-14-3-6 10-25 3-3 5-1 3 2 1 4 13 1 2 6-3 10 3 0 3 3 1 3 0 53-1 9-4 2-11 0-5-3 0-4 2-3 8-1 0-10-17 0-4 17-3 2zm23-55 1 7 4 0 0-8zm0 18 1 8 4 0 0-8zm-10-30 5 0 3-5 0-2-6 0zm-2 12 0 7 4 0 0-8zm0 18-1 8 5 0 0-8z"/><path id="Ye" d="m56 33-1 10-5 8-23 24 26 0 3 5-2 5-42 1-3-2-1-4 1-5 3-4 24-21 4-8 2-7-2-6-7-5-22 3-1-6 2-5 17-4 16 2 8 8z"/><path id="Ze" d="m14 60 20-1 0-28zm-7 11-3-1-3-3 3-10 27-39 7-5 6 0 4 4 0 43 8 0 3 4 0 4-3 2-8 1-1 11-4 4-5 0-3-3-1-12z"/><path id="af" d="m60 72 0 6-5 4-4-2-7-7-1-6 5-4 4 1zm-48 20-4-1-2-4 0-73 3-5 23-1 4 2 2 4 0 23 4-5 19 0 0-9-16-1-3-2 0-4 4-4 15 0 2-8 8-1 3 3 1 6 13 0 4 3 0 5-2 2-16 1 0 8 19 2 3 4-2 5-7 1 0 7 7 2 2 5-3 4-6 1 0 24-3 7-6 2-14 0-5-5 0-3 2-3 13-1 0-21-32-1-3-2-1-3-1 28-4 3-14 0-3 4zm6-72 0 21 8-1 0-20zm0 33 0 22 8 0 0-22zm20 3 1-3 3-2 31 0 1-7-32-1-3-2-1-4z"/><path id="bf" d="m11 90-4-8 6-28 1-42 4-5 69 0 3 1 3 5-1 19-4 2-22 0-1 6 27 1 3 3 0 5-4 3-25 0-1 7 22 1 4 5 0 25-3 4-8 1-3-4-37 0-4 4-6 0-4-5 1-27 4-3 21 0 0-7-25-1-4 21-3 12-4 6zm66-20-38 0 1 11 37 0zm-51-52 1 7 53-1-1-7zm0 17 1 6 25-1 0-6z"/><path id="cf" d="m9 40-4-2-1-5 2-3 6-1 1-19 3-3 4-1 5 5 0 18 6 1 3 4-2 5-7 2 0 27 6-1 1-5 11-8-7 0-3-2-1-4 4-3 58 1 2 5-3 3-36 0-3 3 35 1 4 3 0 19-3 11-7 4-9 0-3-2-2-4 1-3 8-2 2-2 1-15-15 19-12 9-5-3-1-4 15-14 5-7-6 0-11 12-16 10-6-1 0-6 20-15-6 0-7 2-3 6-9 4-15 5-3-1-2-3 1-4 7-5 0-30zm33-33 44 0 5 4 0 25-2 4-40 1-8 0-4-4 0-25 2-4zm36 26-1-4-28 1 1 3zm0-13-1-3-28 1 1 3z"/><path id="df" d="m24 12 53 0 4 3 0 4-2 4-3 1-53 0-4-3 0-4 2-4zm-11 39-4-2-2-4 1-4 4-2 75 0 4 1 2 4-1 4-3 2-29 1-2 14-5 11-9 9-15 6-5-3-1-6 19-14 3-7 1-10z"/><path id="ef" d="m10 79-2-2-1-4 12-26 4-3 5 0 3 3 0 4-11 26-4 3zm78 1-5 0-3-2-11-27 0-5 4-2 5 0 2 2 12 27 0 5zm-8-59 5 1 4-1 2-5-2-5-4-1-5 1-2 5zm20-5-2 8-9 10-31 0 0 49-2 5-3 3-21 0-4-5 0-4 3-2 13-1-1-45-30 0-4-3 0-4 1-3 3-2 31 0 0-11 4-4 6 0 3 3 1 12 13 0-1-8 2-5 5-6 6-2 6 0 5 3 5 6z"/><path id="ff" d="m31 6 3 3-1 4-9 10-11 8-4-1-2-2 1-7 16-14 4-2zm-26 56 1-10 18-20 5-2 5 2 1 5-7 11 0 44-5 3-6-2-2-34-6 5zm83-43-43 0-3-3-1-3 2-4 4-1 43 0 3 3 1 3-2 4zm5 14 5 4-1 5-3 3-11 0 0 38-2 8-3 2-7 1-14 0-4-2-1-6 2-3 15-2 0-36-26 0-4-4 0-5 5-3z"/><path id="gf" d="m7 84-4-4 3-5 39 0-1-3-33 0-2-3 1-4 34-1 1-2-29 0-3-2 0-4 2-2 8 0-2-4-14 0-3-2 0-3 2-3 15-1-1-2-10 0-4-3 1-15 4-2 9 0 1-2-15-1-2-3 1-4 15-1 3-3 8-1 4 4 12 0 3 2 0 4-2 2-14 1 1 2 9 0 4 2 1 13-4 5-10 0-1 2 14 1 2 2 0 3-3 3-13 0-2 4 48-2-8-3-14 4-4 0-3-3 0-4 9-2-4-5 2-4-5 0-2-3 1-4 4-1-4-3-1-3 6-15 24 0 3 3 1 8 3 0 4-6 5 2 1 3-2 7-10 2-12-1-2-10-7 0-2 7-3 6 32 1 2 3-1 5-9 8 10 2 3 4-4 5-5-1 0 4-2 2-28 2 1 2 31 1 1 4-2 3-30 0 0 3 35 0 3 3-2 5-36 1-3 11-13 1-14 0-3-2-1-3 3-4 16 0 0-3zm65-44 9-5-17 0zm-39-15 1 2 5-1-1-2zm0 7 1 2 5-1-1-2zm-11 1-1-2-5 1 1 2zm0-7-1-2-5 1 1 2z"/><path id="hf" d="m20 8 61 0 4 2 1 4-3 4-3 1-61 0-4-2-1-4 3-4zm-8 37-3-1-3-4 1-4 4-2 79 0 4 5-4 6-22 0 0 34 2 3 10-1 3-16 4-4 4 1 3 2 1 10-2 11-4 6-15 2-16-2-2-3-1-4-1-39-11 0-4 20-5 11-13 13-6 3-4 0-4-4 0-4 12-10 5-7 4-9 2-12z"/><path id="if" d="m21 49 58 0 3 1 2 4 0 37-2 3-3 1-6 0-3-4-40 0-3 4-9-1-2-5 0-35 2-4zm50 31-1-5-41 1 1 5zm0-16-1-5-41 1 1 5zm-62-20-5-4 3-6 20-1-7-11-9-1-3-2-1-4 1-3 4-1 31 0 2-7 6-2 5 3 1 6 31 0 4 1 1 3-1 4-3 2-10 1-6 11 20 1 3 3-2 5-3 2zm27-23 5 12 18 0 6-11z"/><path id="jf" d="m21 89-13-16 1-4 4-3 3 0 3 2 13 17-1 3-3 3-4 0z"/><path id="kf" d="m94 6 4 7-1 3-4 3-4-1-5-8 1-4 4-3zm-75 86-5-1-2-4-3-17-1-25 4-31 3-3 5-1 3 2 2 3-4 36 4 36-2 4zm22-52-6-3 2-6 3-2 22 0 0-17 10-6 6 2 4 8-1 4-6 1 0 7 14 1 3 4 0 4-4 3-13 1-1 21-3 13-6 8-15 8-5-1-2-6 2-4 10-5 5-5 2-8 0-21z"/><path id="lf" d="m81 13-5-1-4 1-2 5 2 5 4 1 5-1 2-5zm-53-2 34 0 8-7 8-1 6 2 4 4 3 9-2 7-7 7-11 0-8-6-8 4-3 5 1 8 13 16 3 8 0 11-4 7-7 5-6 2-11 1-9-3-3-5 2-5 4-1 9 2 5-1 5-3 2-6-3-7-12-14-3-9 0-8 9-10-22-1-2-3 0-3 2-4zm50 33 4 0 3 2 8 17 4 11-2 4-3 2-4-1-2-2-12-26 0-4zm-70 35-2-2-1-4 10-25 3-3 5 0 3 2 1 3-6 18-5 11-4 1z"/><path id="mf" d="m12 54-3-1-2-4 2-5 5-1-4-4-1-4 13-25 3-3 7 1 2 3-1 5 10 0 3-10 8-2 3 4 1 8 27 1 2 5-3 5-26 0 0 15 30 1 5 3 0 5-4 3-29 1 11 15 20 13 0 5-4 4-8-2-12-7-16-19-9 11-11 10-13 7-6 0-3-5 1-4 20-13 11-15zm7-12 24 1 1-2 0-14-15 0z"/><path id="nf" d="m37 46 0 3 46 0 4 2 1 3-1 40-3 2-6 0-4-4-37 0-3 4-7 0-4-5 0-19-10 11-6 0-2-4 0-5 12-14 7-14-17-1-2-3 0-4 3-2 37 0-1-3-28 0-4-4 4-5 28 0 0-3-33 0-4-4 1-3 3-2 16-1 0-5 6-2 5 2 4 5 17 0 5-6 5-1 5 2 0 5 15 0 3 2 1 4-3 4-32 0 1 3 27 1 2 3-2 4-27 1-1 3 35 1 3 3-2 5zm-1 13 1 3 38-1-1-3zm0 11 1 3 38-1-1-3zm0 11 1 3 38-1-1-3z"/><path id="of" d="m6 61-1-3 1-4 20-13 13-15-29 0-4-5 1-4 4-3 32 0 2-8 7-3 5 3 1 8 33 0 4 4 0 4-4 4-31 0 8 24 16-13 4 0 4 3-1 6-17 15 9 11 12 9 1 5-2 5-5 1-18-15-13-20-9-23-11 13 0 31 23-4 4 3-1 5-3 3-7 2-38 6-4-2-1-5 3-3 11-2 0-23-13 6-3 0z"/><path id="pf" d="m9 92-4-7 4-27 1-47 4-4 20 0 4 2 1 3 0 77-4 6-13-2-2-3 0-4 8-3-1-18-7 1-5 25-2 2zm11-74 1 12 7 0 0-12zm0 31 1 6 7 0 0-13-7-1zm64 45-9-1-3-3-2-33-5 0-3 18-8 13-8 6-4-2-2-5 0-3 10-12 3-12 0-3-7-1-3-4 0-28 3-3 5-1-3-7 0-4 3-3 6 0 3 3 4 11 8 0 7-12 5-3 6 2 1 5-4 8 6 1 3 5-1 27-4 4-8 0 0 26 5-1 1-11 2-3 5-1 3 5 0 12-2 7-5 3zm-28-48 26 0 0-15-26 0z"/><path id="qf" d="m11 43-6-2 0-4 1-3 24-9-20 0-4-3 0-4 2-3 12 0-3-5 2-3 8-1 10 9 6 0 2-9 3-3 5 0 4 4 1 7 6 1 10-9 7 0 3 3-3 6 12 0 2 3 0 4-4 3-20 0 23 8 3 5-2 4-5 1 0 12-2 3-3 1-9 1 0 2 13 0 2 3-2 4-13 1 0 2 17 1 3 2-2 4-19 2 16 6 1 4-2 4-6 0-24-9-2-2 0-3-15-1 1 4-2 2-16 7-12 3-5-4 1-5 20-6-21-1-3-1 0-4 2-2 18-1-1-2-12-1-3-1 0-4 2-2 14-1-1-1-8-1-4-2zm15-1 0 2 17 0 1-2zm0 11 18 0-1-3-17 0zm36 19-1-2-22 0 1 2zm0-11-1-1-22 0 1 2zm14-9 0-2-19 1 1 2zm0-8 0-2-19 0 1 2zm-19-14-1 5 13 0-11-7zm-14-2-11 7 14 0z"/><path id="rf" d="m10 50-3-3-1-3 13-35 4-2 5 2 2 3-1 7 16 0 1-12 3-2 5-1 5 4 1 11 27 0 4 3 0 5-4 4-28 0 1 17 22 0 4 3 0 3-1 4-3 1-22 0-1 22 32 1 4 4-3 6-80 0-3-1-2-3 1-4 2-2 36-1-1-22-20 0-3-2-2-3 2-4 3-2 20 0 1-16-20-1-8 18-4 2z"/><path id="sf" d="m92 80 3 1 2 4-1 3-3 3-38 0-3 4-7 0-3-5 0-33-5 1-3-2-5 0-1 35-4 4-6-1-2-4 0-32-9-1-4-4 2-5 7-2 2-4-9-13-1-7 3-5 4 1 6-12 6-1 2 2 1 4-8 18 3 3 8-15 6-2 3 2 0 4-6 13 6 1 4 12 0-36 3-4 7 0 3 4 5-1 3 1 6 16 1-17 2-4 5-1 4 4 0 17 6-15 4-2 3 1 2 4-4 14-5 3-6-1 0 3 11 1 4 3 0 4-2 3-9 1 10 18-1 7-2 2-4-1-7-13-1 16-3 3-4 0-3-3 0-15-8 12-4 0-4-4 1 13zm-38-66 0 47 12-16-9-2-1-4 2-4 11-1 0-4-5 1-4-2zm-23 31-1-7-5 7zm-28 39 2-20 6-2 3 4-3 22-6 1zm33 3-3-1-1-3-2-19 4-3 4 3 1 16 0 4z"/><path id="tf" d="m8 50-2-4 1-4 12-14 10-16 4-2 3 0 4 2 1 4-11 18-14 16-4 1zm64-37 9 14 13 16 0 4-3 4-4 0-3-1-14-16-11-18 1-4 4-2 4 0zm-35 27 3-3 3-1 5 2 2 5-12 36 35-3-8-16 1-4 6-2 5 3 16 29-1 5-5 3-5-2-4-5-43 4-24 0-3-5 2-4 13-3z"/><path id="uf" d="m12 95-4-2-2-4 0-79 5-4 30 0 4 1 2 4-1 32-4 2-23 1 0 44-2 4zm7-78 0 5 17-1-1-5zm0 15 0 5 17-1-1-5zm69-26 4 1 2 4-1 77-2 4-7 2-12 0-4-5 3-5 10-2 0-36-24-1-4-2-1-32 5-5zm-7 30 0-5-18 1 1 5zm0-15 0-5-18 1 1 5zm-54 62 6-8-7-1-2-5 3-3 8-1-1-5-6-1-2-2 0-4 2-2 43 0 3 2 0 4-3 2-5 1 0 5 7 2 2 4-2 3-7 1-1 13-3 4-4 0-3-3-2-14-8 0-5 10-6 6-4 0-4-2 0-3zm19-19 0 2 8 0 0-6-8-1z"/><path id="vf" d="m7 80-2-9 12-23-9-2-2-5 3-4 9-1 0-3-5 0-4-2-4-15 2-5 4-1 3 2 4 16 0-18 5-5 4 0 3 4 0 19 4-16 3-3 24 1 3-6 7 0 3 2 2 4 17 0 4 3 0 4-3 2-19 1 1 3 16 0 2 1 1 4-2 3-17 0-1 3 21 1 3 4-2 4-54 1-4-2-2 4-5 2 9 21-3 4-3 0-5-9-1 29-6 2-4-3-1-23-6 12-3 1zm23-47 0 4 6 0 3 2 3-4 19 0 0-4-16 0-3-4 3-4 17-1-1-3-19 0-4 13-3 1zm49 51 3 0-1-4-27 0-2 13-4 2-5-2-2-4 0-36 2-4 3-1 44 0 4 1 1 4-1 37-1 2-4 2-16 0-3-3 0-5 3-2zm-25-27 1 3 27 0-1-4zm27 15 0-4-26 0-1 4z"/><path id="wf" d="m4 67 0-9 13-13 7-13-16-1-4-4 2-7 8-1 0-9 2-4 4-1 5 1 2 4 0 9 7 1 3 3-1 10-6 13 11 13 1-40 4-3 16 0 2-9 6-2 5 3 1 8 17 0 4 3 1 53-2 4-4 2-5-1-2-5-9 1-1 19-3 3-5 0-4-4-1-18-9-1-3 5-5 1-4-4 0-8-4 2-3 0-7-8 0 31-3 4-4 0-3-1-3-4 0-24-6 4zm72-39 0 10 9 0 0-11zm0 22 0 11 9 0 0-12zm-23-22 0 10 9 0 0-11zm0 22 0 11 9 0 0-12z"/><path id="xf" d="m4 87 0-4 4-3 0-65 4-5 28-1 4 3 1 59 4 1 1 4 5-17 3-23-8-1-3-6 4-4 8-1 0-15 3-4 6-1 3 3 1 17 18 0 4 3 1 18-2 39-2 5-3 4-17 0-3-2-2-4 3-5 9 0 2-3 2-20 0-24-11 1-4 32-6 16-6 8-5 1-5-2-1-4 3-6-38 11-3-1zm17-67 0 12 13-1-1-11zm0 23 0 11 13 0-1-12zm0 22 0 13 12-3 0-10z"/><path id="yf" d="m11 69-4-1-2-3 1-3 3-3 34-1 0-5-24 0-3-2-1-3 1-3 3-2 24-1 0-4-27-2-2-6-4-1-3-3 0-10 3-5 33 0 1-5 5-3 6 1 2 7 32 0 4 4 0 10-2 4-5 2-1 3-3 3-25 0 0 5 24 1 3 2 1 3-1 3-3 2-24 0 0 4 33 1 3 2 2 5-4 4-31 0 11 8 20 6 2 5-4 5-4 1-14-5-11-6-9-7-16 11-12 5-11 2-5-6 1-4 21-7 11-8zm46-47 0 5 24-1-1-5zm-15 5 1-6-23 0 0 6z"/><path id="zf" d="m5 57-1-11 9-18 6-20 3-2 5 0 4 3 4-2 61 1 2 5-3 4-25 1 1 5 19 0 4 3 1 38-4 3-4 1-3-2-2-4-13 0-5 14 13 5 18 2 2 4 0 4-4 3-8 0-12-3-17-5-8 4-11 3-4-1-2-3 1-6 12-5-8-9 1-4 3-3-5-1-3-3 0-30 4-5 21 0 0-5-23 0-4-2-4 14 0 60-2 4-6 1-4-4-1-38-4 6zm48 13 3-8-11 0zm4-18 0-5-13 0 0 6zm0-15 0-4-12-1-1 6 12 0zm13 0 1 1 11 0 1-5-12 0zm0 11 0 5 12 0 0-6z"/><path id="Af" d="m7 76-1-9 10-26-6-1-3-4 2-5 7-2 0-9-5-1-3-2 1-6 23-5 6 2 0 3-1 3-9 4 0 11 8 1 3 4-2 5-8 2 7 13 4-17 6-1 4 3-5 34 7-7 0-40 7-3 5 4 1 23 9-16 10-22 5-1 4 4 0 4-6 17 6 0 2 3 5 33-3 5-8 2-1 9-4 4-8 2-19-1-4-2-2-8-11 8-5 0-3-4 0-3 9-8-6-4-1-6-3-2-3-4 0 30-2 4-6 1-4-3 0-24-4 9-3 1zm58-5 0 11 9 0 3-4 1-13 3-3 6 0-4-19zm-9-65 18 8 1 3-2 4-3 2-4 0-18-8-1-3 2-4z"/><path id="Bf" d="m5 57-1-11 9-18 7-21 7-1 4 5-5 20 0 40 14-20 10-19-18-1-3-3 0-5 4-2 23-1 1-12 3-3 5 0 4 4 1 11 23 1 5 3 0 4-3 3-19 1 9 18 13 17 0 8-4 5-4-1-4-6-4 6-12 0-1 13-5 3-4 0-3-3-1-13-12 0-4-6-5 6-4 2-5-6-1 17-3 3-4 0-3-1-2-4 0-37-5 6zm65-14 0 25 13 0zm-27 25 13 1 0-26z"/><path id="Cf" d="m85 32-2 4 5 5 0 34-4 3-9 1 18 7 1 5-5 4-26-10-2-2-1-4-19 0-1 5-5 3-21 8-5-2-3-3 2-4 20-7-11 0-3-4-1-30-6-5 1-7 3-9 2-11 3-4 29-4 6 4 0 3-2 2-24 4-1 1 24 1 3 3 1 4 3-14 3-4 32-3 3 4-2 5-24 3 0 2 28 1 2 3-2 4-10 1zm-22 1-3 3 15 0-3-7-7 0zm-20-1-2 4 15 0-4-2-1-5-8 0zm-22 4 11 0-2-7-7 0zm53 33-1-2-46 1 1 2zm0-10-1-3-46 1 1 2zm0-11-1-3-46 1 1 3z"/><path id="Df" d="m93 8 4 2 2 4-2 5-5 1-1 70-4 4-4 1-19 0-4-3-1-5 3-3 14-1 2-1 1-62-39 0-3-4 0-4 5-4zm-53 70-3-1-2-4 1-41 4-3 26 0 3 1 2 4 0 33-5 3-19 0-1 6zm7-38 0 20 13 0 0-20zm-41 16-1-10 10-18 7-20 5-3 6 3 0 7-5 17-1 60-5 3-7-3 0-40-5 6z"/><path id="Ef" d="m10 19-3-1-2-3 0-4 4-3 31 1 3 4 0 23 10-28 4-4 5 0 3 3 0 9 30 1 2 3 0 4-5 4-2 18-4 14-6 12 15 12 0 5-4 4-5 0-15-12-11 7-14 6-5-1-3-5-18 1-12-2-3-8 1-36 4-4 20-1 0-18zm47 17 7 3 7 22 6-14 3-19-19 0zm-18 13-21 1 0 26 5 2 9-1 2-11 5-3 6 3 0 8 0 8 13-7 5-4-6-12-4-14-6 8-3-1z"/><path id="Ff" d="m19 54 2-6 7-2-20 0-3-3 1-5 3-2 33 0 0-3-24 0-4-4 3-5 25 0 1-3-31 0-4-4 2-5 3-1 13-1 1-5 5-2 5 1 4 6 17 0 7-6 7 0 2 3 0 3 16 2 2 3-1 4-4 2-29 0-1 3 26 0 3 3 0 3-4 3-24 0-1 3 37 2 1 4-3 4-21 0 8 2 1 6 13 1 2 3-1 5-4 1-81 0-4-3 1-6 3-1zm38-7 0 7 8 0 4-7zm-25-1 2 7 9 1 0-7zm-13 22 64 0 4 5 0 19-4 3-7 0-4-3-44 0-3 3-8 0-4-5 0-17 2-4zm54 14-1-5-45 1 1 4z"/><path id="Gf" d="m47 59-5-4-1-9 4-4 8-1 5 4 1 9-4 4z"/><path id="Hf" d="m12 92-3-1-3-4 0-75 5-4 21 0 4 1 2 3 0 70-4 4-15 1-2 4zm6-72 1 10 8 0 0-11zm0 22 1 11 8-1 0-10zm0 22 1 11 8 0 0-11zm56 16 0 5-4 4-28 5-6-3 1-5 6-4 1-72 5-3 38 0 4 2 2 4 0 37-2 4-3 1-13 1 4 10 10-7 3 0 3 2-1 6-8 8 9 8 0 6-3 3-4 0zm-18-61 0 7 24-1-1-7zm16 59-9-22-6-1-1 25zm-15-33 23 0-1-9-23 0z"/><path id="If" d="m11 21-5-4 0-4 3-2 39-1 3-5 5-3 5 2 2 6 28 1 3 5-3 4-30 1-1 3 0 2 22 0 4 3 1 42-3 4-3 1-48-1-3-5 0-40 5-4 11 0 1-5zm62 45 0-4-30 1 1 4zm0-13 0-4-30 1 1 4zm-1-17-28 0 0 4 29 0zm-54-7 3 1 2 4 1 46 66 0 4 5-1 4-3 2-66 0-3 4-5 0-4-1-2-4 0-56 3-4z"/><path id="Jf" d="m8 34-4-2-1-5 3-3 6-1 1-15 3-2 5 1 3 3 0 13 6 1 3 4-2 5-7 2 0 15 6-1 3 3 14-1 5-7-18 0-4-3 0-4 2-3 13-1-5-10-7-2-1-6 4-3 20-1 3-6 7-1 3 2 1 5 21 1 3 2 0 6-3 2-5 1-4 10 12 1 3 6-5 4-29 0-1 7 30 1 4 2 0 6-3 2-6 1-9 13 15 8 1 4-3 4-5 1-19-9-20 8-17 1-3-4 3-5 23-6-9-3-5 2-4-2-2-5 6-8-6 0-3-2-6 2 0 25-1 7-5 2-10 0-4-3 0-3 2-4 6-1 0-19-6 0-3-5 2-5 7-3 0-18zm65-12-20 0 5 12 10 0zm-21 44 13 5 6-5 2-4-17 0z"/><path id="Kf" d="m6 57-1-9 13-19 9-21 5-3 5 2 2 5-7 20 0 58-1 3-4 2-6 0-2-4-1-40-7 8-3 0zm55 37-10-3-3-7 0-72 1-4 7-2 5 4 1 25 24-17 4 1 4 4-2 6-31 20 0 32 11 2 9-2 2-21 4-2 5 0 3 2 1 4-2 18-3 8-9 3z"/><path id="Lf" d="m27 15 1 6-4 4-4-1-9-6-2-6 6-4 3 0zm-20 25-2-3 0-4 6-4 13 9 2 7-5 4-4-1zm18 19 3 2 1 4-6 17-6 10-3 1-4-2-3-7 11-23 3-3zm12-16-4-1-2-3 1-4 2-2 23-2-1-8-15 0-4-1-2-4 2-4 49-8 5 3 1 6-4 3-17 3 0 10 21 1 3 2 1 3-1 4-3 2-21 0 0 10 16 0 4 5 1 32-2 3-3 2-6-1-3-4-29 0-4 5-8-2-1-4 0-32 5-4 15 0 1-9zm41 20-29 1 0 16 29 0z"/><path id="Mf" d="m10 94-5-3 1-5 3-2 15-1 0-4-16-1-2-2 0-4 4-3 14 0 0-3-13-1-3-2-1-24 4-4 13 0 0-3-16-1-3-3 0-3 4-3 15 0 0-3-14-1-3-2 0-5 4-2 39-4 3 4-1 5-15 4 1 4 12 0 4 3 8-1 1-16 3-3 3-1 5 5 0 15 17 0 4 3 0 44-4 18-4 4-9 0-6-1-3-4 1-6 9-1 3-6 1-39-9-1-5 33-9 24-4 1-5-3zm27-62 1 3 13 1 3 5-1 22-4 2-12 1 1 3 13 1 2 2 0 4-3 2-12 1-1 2 15 1 7-19 3-27-7-2-3-3zm0 12 0 3 6-1 0-3zm0 10 0 4 6-1 0-4zm-19-10 0 3 6-1 0-3zm6 14 0-4-5-1-1 4z"/><path id="Nf" d="m75 22 5 2 5-2 1-5-1-5-5-2-5 2-1 5zm20-5-2 7-8 7 0 5-3 3-55 14 0 17 3 6 9 1 41-1 4 4-1 7-4 1-46 2-12-4-6-9-1-12 1-51 7-2 4 3 2 25 43-11-5-7-1-9 4-7 7-4 8 0 5 3 5 6z"/><path id="Of" d="m57 14 6 0 6 10-1 5-5 3-5-2-5-9 0-4zm25-2 5 9-1 4-5 4-5-2-6-10 1-4 6-4zm-56 80-4-1-1-4 0-72 3-5 6 0 4 3 1 25 51 16 2 3-1 5-3 2-3 1-46-13 0 36-3 4z"/><path id="Pf" d="m10 77-3-1-2-3 0-4 3-3 35-1 0-8-26 0-5-4 0-41 4-5 69 1 3 5 0 38-2 5-29 1 0 9 33 0 4 2 1 4-1 3-4 2-33 0 0 14-4 5-6 0-3-3-1-16zm15-58 1 8 49-1-1-8zm1 28 48 0 0-10-48 0z"/><path id="Qf" d="m9 18-5-4 2-5 16-1 4-4 7 0 3 4 16 1 2 5-2 3-17 1 1 2 11 1 3 3 12-17 4-3 6 1 1 5 22 2 2 2 0 4-4 3-4 11-5 9 11 6 1 3-1 3-6 2-14-7-17 7-5-1-2-5 2-3 13-6-6-9-4 4-6-2-2 5-7 2 9 4 0 5-3 2-3 0-8-4-2 7-6 1-4-2-2-5-11 7-4-1-3-3 1-4 12-7-6-1-3-2 0-13 3-4 12-1-1-1zm14 14-1-4-5 0 1 4zm47-11 1 5 4 7 6-12zm-35 7 1 5 5-1 0-4zm-8 42 5 3 1 10 10 0 1-16-32 0-4-4 3-5 77-1 3 2 1 2 0 3-3 3-31 0 0 3 25 0 3 2 1 4-3 3-26 0 0 4 34 1 3 4-3 5-82 0-4-3 0-5 3-2 10 0 1-10 3-3z"/><path id="Rf" d="m10 19-3-1-2-4 1-4 4-2 80 0 4 2 1 3-1 3-7 4 0 62-3 10-6 2-18 0-4-2-2-3 0-4 3-2 14 0 2-1 0-63zm52 45-1 4-3 2-31 0-3 7-7 1-3-5 0-39 1-3 3-2 39 0 3 1 2 4zm-12-5-1-20-22 1 0 20z"/><path id="Sf" d="m10 90-4-8 6-28 1-42 2-3 3-2 70 0 4 1 2 4 0 17-3 4-4 1 2 3-1 4-3 2-21 4-1 4 27-2 3 3 0 4-3 3-27 3 0 4 30-2 4 3 0 4-4 3-30 3 0 5 2 2 16 0 3-1 4-6 8 1 2 8-4 6-18 3-24-2-3-4 0-10-21 1-2-5 2-4 21-3 0-5-16 2-3-2-1-4 3-3 17-4 0-4-17 0-3-4 2-4 49-6-54 0-1 29-3 14-6 14-3 1zm16-72 0 6 55-1-1-6z"/><path id="Tf" d="m68 73-4-1-2-4 0-52 2-4 4-2 3 1 3 4 0 53-2 4zm20-67 4 2 1 4 0 76-2 4-4 2-18 0-3-5 1-5 14-2 0-71 2-4zm-32 67 2 3 1 4-2 3-3 1-16-12 0 18-4 5-6 0-3-3 0-18-14 13-6-1-1-4 1-4 12-10 8-10 0-19-6-1-2 23-5 3-5-4 0-27 1-3 4-2 12 0 1-6-18 0-3-3 0-5 4-3 16 0 2-4 2-3 8 1 2 6 15 0 3 2 2 4-3 4-17 2 0 5 14 0 4 4-1 27-4 2-9 1zm-16-17 5-6 0-11-7-1 0 19 3 4z"/><path id="Uf" d="m91 10 3 1 2 4 0 3-3 3-67-1-2 4-4 1-12-10 0-4 2-3 6 0 8 6 5-4 25 0 2-6 6-2 5 3 1 5zm-78 36-7-7-1-4 4-5 7 3 6 5 0 4-3 5zm8 16 0-10 14-27 3-2 6 0 2 4-6 19 0 9 8-14 6-15 3-3 8 1 1 4 25 1 3 4-3 16-4 11-10 14 17 9 2 3-1 3-3 4-4 0-20-10-18 10-6 0-4-4-3 5-6 1-3-5-1-26-2 1 0 4-8 21-6 2-4-3 0-5 8-20 2-2zm36-12 4 9 7 7 4-6-9-10 1-4 3-3 5 0 6 6 3-11-18 0zm-17 15 0 19 18-10-8-11-5 4z"/><path id="Vf" d="m11 18-2-6 5-4 4 0 9 7 1 6-4 4-4-1zm-4 22-2-3 0-4 6-4 13 9 2 7-5 4-4-1zm18 19 3 2 1 4-5 13-6 13-4 2-3-1-3-4 0-4 10-23 3-3zm66 22 3 1 2 4-1 4-4 3-56 0-5-5 0-4 4-3 22-1 0-18-18-1-3-2-1-3 1-3 3-3 18 0 0-16-22-1-3-3 1-5 4-3 39 0-26-7-3-4 1-4 4-3 18 4 11 4 1 4-1 6 11 0 3 3 1 5-3 3-22 1 0 16 18 0 4 6-4 5-18 1 0 19z"/><path id="Wf" d="m8 90-1-3 1-4 12-9 13-14 10-16 3-11 1-13-23-1-3-4 2-6 3-1 33 1 2 4 1 17 2 13 11 22 19 19 0 4-2 3-7 1-13-11-10-14-8-18-13 21-13 14-13 9-4 0z"/><path id="Xf" d="m11 10 6-2 9 6 3 5-2 4-6 2-10-7-2-4zm-4 30-2-3 0-4 6-4 13 9 2 7-5 4-4-1zm3 51-3-7 11-23 3-3 4 1 3 2 1 4-6 17-6 10-3 1zm52-88 5 3 1 7 22 0 3 1 1 4 0 15-3 2-5 1-3 4-41 0-3-1-1-3-5-1-2-3 0-16 4-3 19 0 2-8zm19 21-38 0 1 6 37 0zm10 44 5 4 0 13-3 7-6 2-16-1-6-2-2-32-5 0-3 15-7 10-12 9-6 0-3-5 0-3 11-8 4-5 4-13-14-2-2-6 5-3 56 0 4 5-2 5-16 2 0 23 6 0 2-12z"/><path id="Yf" d="m9 92-4-7 3-27 1-47 5-4 18 0 4 1 2 4 0 51 11-9-6 0-3-2 0-4 3-3 49 0 5 3-1 4-2 2-31 0-3 3 30 1 5 4-1 20-4 10-8 3-9 0-4-3-1-6-10 9-5-1-3-4 1-2 17-17 3-4-3-1-18 16-12 7-3 5-13 0-3-3 0-4 2-3 5-1 0-18-6 1-5 25-3 2zm73-24-11 16 10-1zm-40 4-4 1 1 6 15-12-4 0zm-22-54 0 12 7 0 0-12zm0 31 0 6 7 0 0-13-7-1zm28-42 40 0 5 4 0 25-3 4-35 1-9 0-4-4 0-25 2-4zm31 26 0-4-24 1 0 3zm0-13 0-3-24 1 0 3z"/><path id="Zf" d="m9 25-5-4 1-5 3-2 12 0 1-7 4-3 7 1 2 9 13 0 4 2 1 4-2 4-10 1 12 16 0 5-4 5-5-2-6 15 10 14 9-18 3-27-7-2-2-6 3-4 7 0 1-14 5-3 5 3 2 14 17 0 3 2 2 4 0 30-4 30-5 6-14 0-5-3-1-5 3-3 9-1 2-3 2-46-10 0-5 36-5 13-7 11-5 1-6-7-6 0-8-10-11 11-9 6-5-4 0-5 17-18-6-9 0-5 6-3 7 5 4-10 6-2-7-11 1-3 3-3-17 0 5 4 0 5-11 17-6 0-2-3 0-4 11-19z"/><path id="ag" d="m17 94-4-1-1-4 0-77 2-4 3-1 66 0 4 3 1 3 0 76-1 4-9 1-3-4-50 0-2 4zm8-75 0 12 50 0 0-13zm0 24 0 12 50-1 0-12zm0 24 0 12 50-1 0-12z"/><path id="bg" d="m6 38-1-4 1-3 34-24 6-2 14 1 34 24 3 6-4 5-4 0-9-5 0 4-3 3-19 1 0 12 23 0 4 6-4 5-23 0 0 15 33 0 2 3 1 3-4 5-81-1-2-5 4-5 33 0 0-15-24 0-4-5 4-6 24 0 0-12-19-1-3-3 0-4-10 6-4-1zm44-24-23 19 47 0z"/><path id="cg" d="m10 93-5-4 0-3 3-3 35-1 0-3-29-1-4-2 0-4 3-3 30-1 0-2-25 0-4-3-1-22 2-4 4-2 24 0 0-3-32-1-3-2 0-4 3-3 32 0 0-3-27 0-3-3 0-5 4-2 35-1 31-3 5 3 0 4-3 3-28 4 0 3 32 0 3 3 0 4-3 2-32 1 0 3 24 0 4 2 2 4-1 22-4 3-25 0 0 2 30 1 3 3 0 4-4 2-29 1 0 3 34 1 4 3 0 4-5 3zm47-49 0 3 17-1 0-3zm0 10 0 3 17 0 0-3zm-31-10 0 3 17-1 0-3zm16 14 1-4-17 0 0 3z"/><path id="dg" d="m32 54 2-3-19 0-4-2-1-4 1-20 4-2 16-1 0-4-22 0-3-5 2-5 81-1 5 4 0 4-3 2-23 2 1 3 16 1 4 2 1 20-2 4-4 2-34 0-3 4 44 0 3 4-2 6-13 0-10 12 20 8 1 4-4 4-5 0-24-9-19 6-24 4-5-5 2-5 28-5-12-3-6 2-5-2-2-4 7-7-13 0-2-3 0-4 4-3zm0-14-1-8-9 0 0 9zm36-8 1 9 9-1 0-8zm-24-13 1 3 11 0-1-4zm0 13 1 9 11-1-1-8zm-8 36 18 5 4-1 7-7-26 0z"/><path id="eg" d="m12 94-4-2-2-3 0-67 3-5 8-1 4-10 5-2 4 0 2 3-2 9 9 1 4 3 1 12 11-25 5-3 5 0 2 2-1 9 25 0 4 3 0 47-4 24-2 4-3 1-22-1-3-5 2-4 15-1 2-3 3-53-21-1-9 15 7-3 4 2 11 18-1 5-4 2-5-1-13-21-4 3-4-1-1 38-4 3-20 0-2 6zm6-66 0 18 13-1 0-17zm0 30 1 17 12 0 0-18z"/><path id="fg" d="m88 24 3 2 2 4-6 17-7 14-10 11-12 8-25 8-12 1-3-2-2-4 1-3 3-3 25-5 16-9 11-14 9-23 2-2zm-71 22-3-2-2-3 2-4 3-3 24 4 4 2 1 4-1 4-3 2zm30-32 3 2 2 3-2 5-2 2-26-4-3-2-2-4 2-4 3-2z"/><path id="gg" d="m66 76 0-14-38 0-3-2-1-3 1-4 3-2 38 0 0-11-42-1-4-2-1-3 1-3 4-2 50 0 4 1 2 4 0 48-3 4-3 1-50 0-4-2 0-4 4-4z"/><path id="hg" d="m53 5 4 1 2 4-1 78-2 5-4 1-20 1-5-5 1-5 17-3 0-72 3-5zm-45 70-3-2-1-4 11-38 3-3 5 0 3 2 2 4-6 26-6 14-4 2zm77-3-12-40 2-3 4-2 5 1 2 3 12 40-2 4-5 2-4-2z"/><path id="ig" d="m10 21-5-4 0-4 3-2 35-1 2-5 4-2 6 1 2 6 35 1 3 4-2 5-36 1 0 4 31 1 3 5-2 3-3 1-72 0-5-4 3-5 31-1 0-4zm72 19 3 1 2 4 0 26-3 4-6 1-4-5-49 0-3 11-5 9-6 1-4-5 5-19 1-24 3-4zm-39 19 0-10-16 0-1 8 1 3zm32 0-1-10-18 1 1 10z"/><path id="jg" d="m20 95-3-1-2-4 0-24-8 4-3-2-1-6 2-5 12-12 8-14-17 0-3-4 0-3 3-4 7-1 0-11 5-3 4 0 3 3 0 11 8 1 3 3-1 10-6 14 3 2 6-9 3-1 4 2 1 4-8 13 2 6-2 4-6 1-7-9 0 30-2 4zm69-85 4 1 2 4 0 45-4 24-6 7-9 2-12-2-3-2-1-5 4-4 11 1 3-2 2-7 1-14 1-36-11-1-4 31-8 22-15 17-5 2-5-3 0-5 11-12 7-13 5-30 1-9-14 0-3-3-1-3 2-4 3-1z"/><path id="kg" d="m57 20 0 4 25 0 4 3 0 31-1 4-4 1-62 0-3-1-2-4 0-31 4-3 24 0 1-3-34-1-3-6 3-4 33 0 3-6 6 0 4 1 2 5 32 0 5 3 0 4-4 3zm16 34-1-2-45 1 1 2zm0-10-1-2-45 1 1 2zm-1-12-44 0 0 3 44 0zm-63 45-3-1-2-4 1-4 3-2 84 0 4 5-3 5-24 1 22 8 1 5-2 4-5 0-24-9-3-3 1-5-18 0 1 4-2 4-27 10-5-4 1-5 23-9z"/><path id="lg" d="m76 80 0-9-60 0-4-3 0-5 4-2 61 0-1-9-61 0-5-3 0-4 3-4 30 0 0-31 4-5 6 0 4 4 0 32 28 0 5 3 0 47-3 3-7 1-3-4-63 0-5-3 1-5 3-2zm-59-69 7 2 8 17 0 4-4 3-3 0-4-2-8-17 0-4zm67 0 3 2 1 3-8 18-4 3-5-1-3-2-1-3 9-18 3-3z"/><path id="mg" d="m7 29 0-5 2-4 16-13 6 0 2 3 0 3-9 10-11 9-3-1zm73 13-8-1-2-2-1-21-13 0-4 16-9 11 44 1 4 1 1 4-2 9-13 16 18 8 1 6-5 3-25-9-25 9-6-1-2-4 1-5 20-7-11-12 1-4 4-4-9 0-4-2-1-6 5-3-4-7-3 6-5 7 0 40-2 3-4 1-4 0-3-4 0-29-4 4-4-1-1-9 20-24 7 1 3 5 6-11 3-18 4-2 31 1 3 4 1 20 4-1 4-10 6 1 2 4-3 13-5 3zm-28 14 6 7 8 6 12-13z"/><path id="ng" d="m7 89-2-4 2-4 27-17-24 0-3-4 1-5 4-2 32 0-1-5-25 0-5-3 0-34 3-4 70 0 3 5-1 33-4 3-26 0 0 5 33 1 4 5-4 5-23 0 27 18 1 5-4 5-4 0-7-4-23-18-1 20-3 5-6 0-4-3 0-23-14 12-15 10-5 1zm51-71 0 5 18-1-1-5zm0 15 0 5 18 0-1-6zm-32-15 0 5 18-1-1-5zm17 20 1-6-18 0 0 6z"/><path id="og" d="m21 54 58 0 3 2 2 4 0 31-2 4-3 1-6-1-3-3-40 0-3 4-9-1-2-4 0-32 2-3zm50 28-1-5-41 1 1 5zm0-14-1-4-41 0 1 5zm-62-18-5-3 1-6 13-2-6-11 4-6-6-1-3-3 2-6 18-1-1-6 5-2 5 1 6 7 18 0 4-6 6-2 5 2-1 6 15 0 3 2 1 3-1 4-9 2 4 2 1 3-6 12 12 2 2 4-2 4zm57-28 0 17 7 1-2-4 6-14zm-20 0 0 17 8 0 0-17zm-22 0 5 11-1 5-2 2 8-1 0-17z"/><path id="pg" d="m7 81-4-1-1-4 2-4 4-2 0-54 5-4 24-6 6 3 1 4-3 4-20 6 0 5 19 1 3 3-1 4-3 2-17 0-1 10 18 0 4 5-4 5-18 0 0 10 20-3 3 2 0 5-4 4-19 3 0 12-4 4-5 0-3-3zm86-60 4 2 1 3-1 9-3 6-8 1-14-1-1-4 0-19-9 0-4 18-4 7-4 1-4-2-2-4 5-12 1-15 3-3 24-1 3 1 2 4 1 20 4-1 2-8zm-55 68-1-3 2-3 18-8-8-10 1-3 2-3 6-1 10 9 10-10-29-1-4-3 2-6 3-1 37 0 3 1 2 3-2 10-11 15 16 8 1 5-2 4-6 1-20-10-23 10-5-1z"/><path id="qg" d="m10 69-3-1-2-4 3-30 4-4 11 0 1-11-15-1-3-3 0-4 5-4 19 0 4 1 2 4 0 25-4 4-13 0-1 11 14 1 4 3-1 22-3 13-5 3-14 0-4-2-1-4 1-4 12-2 2-18-6-1-2 5zm74 0 4 0 3 4 5 17-3 5-6-1-4-6-40 5-5-2-1-5 3-4 20-2 0-13-8 0-2 3-3 2-4-1-3-4 1-30 4-3 15 0 0-4-16 1-3-2-2-6 5-3 6-13 4-3 7 0 2 3-4 12 18-1-2-6 1-4 5-2 5 3 9 18-1 4-6 3 4 1 2 4 0 23-4 4-17 1 0 12 7-2 0-5zm-11-39 0 4 12 0-2-6zm0 15 0 12 9-1 0-12zm-13 11 0-12-8 1 0 12z"/><path id="rg" d="m19 85-3-1-3-4 1-4 4-3 54 0 0-45-53-1-4-2-2-6 5-4 62 0 4 1 1 4 0 60-1 4-4 1z"/><path id="sg" d="m9 92-4-8 3-17 1-29 2-4 5-2-3-10-5-3 0-4 3-4 12 0 1-4 4-3 6 1 3 6 10 0 3 2 2-4 3-2 38 0 4 1 1 5-2 4-15 1-2 5 13 0 4 4 0 43-1 3-4 3-31 0-5-3 0-46 3-3 8-1 1-3 0-2-12 0-3-2-1 4-3 2-3 10 6 2 1 5-2 3-4 1 2 4-1 3-6 4-12 4-4 0-3-4 1-4 16-7-18 0-1 25 24-10 4 1 1 5-5 5-17 7-4 0-3-3-5 18-3 2zm75-27-1-5-16 1 0 5zm0-14-1-4-16 0 0 5zm-16-18-1 5 16 0 0-5zm-42-12 2 12 5-1 3-10zm32 72-6 0-2-6 2-3 10-6 7 0 2 6-2 3zm38-9 2 5-4 5-3-1-12-7-2-2 0-3 5-5zm-45-8 1 4-1 2-12 7-15 6-6-4 0-3 3-3 25-11z"/><path id="tg" d="m12 43-3-1-3-4 1-3 3-3 34-1 0-8-27 0-4-4 2-6 4-1 25 0 2-7 4-2 6 1 3 8 25 0 4 1 1 6-4 4-26 0-1 8 35 1 3 3 0 3-1 4-4 1-20 1-1 45-3 5-11 1-9-1-4-6 4-4 11-1 0-39-10 0-1 19-5 11-11 13-10 7-5-3-2-6 12-10 5-7 3-9 1-15zm-3 34-3-5 9-20 3-3 6 1 2 6-7 17-4 5zm78-26 10 25-3 4-7 1-12-26 2-4 3-2z"/><path id="ug" d="m10 43-5-3 0-5 4-3 13 0 0-9-13-1-2-4 2-5 31-7 4 0 3 3 0 4-2 3-9 3 0 13 18 0-1-23 4-4 5 0 4 4 1 23 24 0 4 4 0 4-4 3-22 0 3 16 9-12 5-1 4 4-5 10-9 12 1 2 4 5 2 1 4-13 3-2 4 2 3 4-1 9-4 10-5 4-5 1-5-3-11-11-17 10-5 0-4-4 1-5 20-13-6-26-19 0 0 11 13-2 3 3 0 5-3 3-13 3-1 20-2 6-5 2-13 0-3-3-1-4 3-3 8-1 0-14-13 1-3-3-1-3 3-5 14-2 0-13zm64-35 4-1 4 1 7 10 2 6-3 4-3 1-4-2-9-13 0-4z"/><path id="vg" d="m87 7 4 1 2 4 0 18-3 5-47 0-4-1-2-4 0-18 3-5zm-7 20-1-2-29 1 1 2zm0-9-1-2-29 0 1 3zm16 72-6 4-26-6-30 6-4-4 2-5 17-4-8-5 2-5 1-1-6 0-4-3 0-4 4-3 52 1 3 3-2 7-12 10 15 3 2 3zm-19-20-25 0 12 7zm-75-14 4-28 3-3 5 0 1-16 2-3 3-1 4 0 2 4 1 16 6 1 5 12 55 0 4 4 0 13-5 3-58-1-4-4 0-11-3-8-1 56-2 4-3 1-4-1-3-4 0-60-4 29-2 2-3 0zm76-10 0 4 8 0 0-5zm-18 0 0 4 8 0 0-5zm-18 0 0 4 8 0-1-5z"/><path id="wg" d="m37 95-4-2-6-12 4-23 1-31 4-4 22 1 2 4 0 20-3 4-14 1 0 2 0 4 13 0 4 3 1 27-4 5-5 0-3-4-6 0-2 4zm6-25 0 10 7-1-1-10zm0-35 0 8 6-1 0-8zm-40 31 0-3 2-4 11-6 0-12-3 0-2-1-7-12 1-5 6-2 5 5 0-13 4-3 30-1 3-6 8 0 4 6 28 0 4 3-1 6-4 2-64 0-2 46-5 19-5 7-6-1-3-7 7-16-6 2zm85-4-1 7 8 2 2 3 0 3-3 3-7 1 0 9-3 4-7 1-3-4 0-10-8-1-3-3 2-6 9-2 0-7-10 0-4-4 2-6 6-2-2-13-3-4 1-5 9-1 2-4 4-2 5 1 3 5 8 0 2 6-3 4-2 13 5 3 1 5-4 3zm-7-12 3-13-8 1 2 12z"/><path id="xg" d="m10 30 0-5 4-3 30-5 22 0 9 3 8 4 5 6 3 8 1 10-1 12-5 9-8 8-12 6-15 3-18 2-6-3 1-7 3-3 27-3 13-6 4-6 3-7-1-13-5-6-11-4-17 0-29 5-3-1z"/><path id="yg" d="m59 55 0 2 33 0 4 2 1 4-2 3-11 1-9 10 17 7 2 4-1 3-6 3-22-10-15 6-20 4-5-3 0-4 2-2 23-6-8-3-6 2-6-2 0-4 4-5-7-2-1-2 1-4 3-2 12 0 3-2-13-1-3-3 0-3 3-2 20-1 0-3-25 0-3-1-1-4 3-3 26-1 0-3-21 0-2-3 1-4 2-1 20 0 0-2-24-1-4-3 1-4 3-3 24 0 3-5 7-1 3 2 2 4 25 0 4 2 1 4-3 4-27 0 0 2 22 2 2 3 1 7 4 1 2 4-2 4-4 1-1 7-3 4zm7-24 1 2 12 0-1-3zm0 12 1 3 12-1-1-3zm4 24-19 0-2 3 14 3zm-58-35-7-17 4-5 4 0 3 2 7 17-5 6-3-1zm-5 57-2-3-1-3 9-23 3-3 4 1 3 2 1 4-5 17-5 9z"/><path id="zg" d="m70 31-4-3-2-5-27 0-2 6-6 2-4-3-2-5-15-1-2-4 2-5 15-1 2-6 6-2 4 3 2 5 27 0 2-6 6-2 4 3 2 5 15 1 2 4-2 5-15 1-2 6zm-64 49-1-4 1-4 14-12 9-13-21-1-2-5 3-4 24-1 5-7 7-1 4 2 0 6 43 1 3 5-3 5-48 0-5 9 48 1 2 4 0 29-4 5-7 0-3-4-37 0-3 4-7 0-3-5 0-18-12 10-4 0zm32-13 0 13 38 0-1-13z"/><path id="Ag" d="m9 44-3-1-2-3 0-4 3-2 31-1 0-10-21 0-3-2-2-5 4-3 22-1 2-7 7-2 4 3 2 6 15 0 3 3 2 4 9-10 5 0 4 3 0 4-16 17 18 1 3 4-1 5-4 1-30 1-25 15 0 3 43-13 5 1 3 5-3 5-48 13 0 6 1 2 5 1 30 0 4-2 4-9 6-1 3 2 2 3-2 12-4 4-11 2-35 0-14-2-3-6 0-19-13 3-3-3-1-5 3-3 31-14zm43-20 0 9 3 1 13-10z"/><path id="Bg" d="m7 71-2-9 11-30-7-1-3-6 3-4 7-1 0-10 2-4 5-1 3 1 2 4 0 10 6 1 3 3-1 6-7 2 8 18 0-19 2-3 3-1 18-1-1-8-22-1-2-4 2-5 58-1 4 4-2 6-23 1-1 8 20 1 4 4 0 50-2 10-3 3-6 0-11 0-4-2-1-5 2-3 12-2 0-12-4 1-3-2-9-14-11 15-3 1-4-2-1 21-4 4-4 0-4-3 0-29-6-1-3-6 0 35-2 4-6 1-4-4 0-28-4 9-3 1zm65-31 12 19 0-21-11-1zm-22-2 0 21 6-10 4-11z"/><path id="Cg" d="m18 95-4-1-2-4 0-78 2-4 4-1 68 0 3 3 1 3-2 3-3 2-59 1 0 11 56 0 4 5 0 26-2 3-58 2 0 13 60 1 5 4-2 6-63 1-2 4zm8-53 0 13 48-1-1-13z"/><path id="Dg" d="m79 94-12-1-5-5 0-77 3-4 4-1 4 1 2 4 0 70 6 2 3-2 2-14 0-6 3-3 5 0 3 3-1 26-5 6zm-22-84 0 4-3 2-21 3-22 1-3-1-2-4 1-4 3-2 41-3 4 1zm-46 13 6 1 3 7 1 5-3 4-6-2-4-8 0-4zm16-2 5 1 3 3 2 8-3 5-4 0-3-3-3-9zm26 40 5 2 0 6-4 3-15 1-2 19-5 2-16 0-4-3-1-5 3-2 11-1 1-8-18 0-3-2-1-4 4-4 17-1 1-5 13-6-28 0-4-3 0-5 4-2 36 0-5-3-1-5 5-13 5-3 4 2 1 3-6 18 5 3 1 6-4 5-13 7z"/><path id="Eg" d="m78 77 3-1-1-17-18-1-1 33-4 4-6 0-3-5 0-31-16-1-3-3 0-4 5-4 54 0 3 1 2 4-1 31-1 3-5 2-15-1-3-3 0-5 4-2zm-62-45-10-16 1-4 3-2 3-1 4 2 10 16 26-21 11-2 6 3 26 21 1 3-1 4-3 3-3-1-6-4-2 3-3 2-37 0-4-4-9 5-3-1-2-4-5 0zm31-5 29 0-15-13zm-39 62-2-3 0-3 12-27 3-3 4 0 3 3 1 4-7 19-6 10-4 2z"/><path id="Fg" d="m92 50-38 0-5-2-1-5 4-3 16-1-1-13-7 0-2 7-4 2-5 0-2-4 7-24 4-2 3 1 3 3-1 4 0 2 4 0 2-8 7-2 4 3 1 7 10 0 3 2 1 5-2 3-12 1 0 13 12 0 4 4-1 5zm-36 6 33 0 4 3 1 3 0 29-3 3-6 0-4-4-18 0-4 4-4 0-4-2-1-31 3-4zm26 23-1-12-18 1 0 11zm-73-61-3-1-2-4 1-3 3-3 35 0 4 4 0 4-3 3-7 0 0 6 6 2 3 4 0 57-5 3-25 0-2 4-5 0-4-5 0-59 3-4 6-1 0-6zm25 18 0 11 2 0 0-11zm-10-17 1 6 2-1 0-6zm-8 17 0 15 2-15zm0 25 0 3 20 0 0-7-8-1-1-20-1-1-4 22-2 4zm0 14 0 5 20-1 0-5z"/><path id="Gg" d="m8 31-4-3-1-5 3-3 6-1 1-11 4-3 4 0 3 3 0 11 10 1 4 3-1 24-5 19 4 8 1 4-3 4-4 2-5-6-13 16-4 0-3-3 0-6 13-18-4-4-2 2-3 0-5-6 6-28zm10 18 5 5 1-3 2-20-4 0zm21 34 2-1 1-68 3-3 15 0 2-7 5-2 5 3 1 6 15 0 4 3 1 42 2 6-11 13 12 9 0 5-4 4-3 0-7-4-13-13-10-18-5 0 0 22 13-1 3 3-1 5-4 2-27 5-3-2-1-4 2-4zm46-25-13 0 5 9zm-31-36 1 7 25-1-1-7zm0 18 1 7 25-1-1-7z"/><path id="Hg" d="m14 95-4-1-2-4 1-66 4-3 30 0 1-14 5-4 5 1 2 3 1 14 30 0 4 3 0 68-3 3-5 0-3-1-2-4-56 0-3 5zm42-63 1 17 21-1 0-16zm0 29 1 18 21-1 0-18zm-34-29 0 17 22-1-1-16zm0 29 0 18 22-1-1-18z"/><path id="Ig" d="m6 40-1-6 5-5 3 1 10 8 1 6-5 4-3-1zm86-28 4 2 1 4-2 4-4 1-1 12-5 4-49-1-4-3 0-12-4-2-3 4-5 0-11-10 0-5 5-2 3 0 7 5 3 2 5-3 2-6 4-1 4 2 3 5 9 0 2-5 4-3 6 2 2 6 10 0 2-5 5-2 3 1 3 5zm-37 16-1-6-10 1 1 6zm24 0-1-6-10 1 0 6zm-2 52 1-9-11 0 0 22-3 3-6 0-4-5 0-20-8 0-1 17-4 3-4 0-4-5 0-20-5-2-11 26-2 2-4 0-4-3 0-5 10-24 4-2 5 1 0-11 5-5 60 0 3 1 3 4 0 12-3 4-4 2-1 22-5 3-10-1-2-6 2-3zm-23-20 0-6-16 1 1 5zm14 0 16 0 0-6-16 0z"/><path id="Jg" d="m48 63-8 17 33-3-2-9 2-2 5-1 4 2 10 20-1 6-7 1-6-6-61 5-5-3-1-5 3-3 11-1 9-19-23 0-3-4 1-5 4-2 77 0 3 2 1 3-1 4-3 2zm-42-25-1-4 2-4 33-23 8-2 12 1 35 25 2 5-4 5-4 0-9-5-3 5-4 2-46 0-3-3-2-4-10 6-4-1zm22-6 45 0-22-18z"/><path id="Kg" d="m79 83-19-63 2-4 5-2 4 1 3 3 11 30 9 33-2 5-6 2-4-1zm-68 2-3-3 0-3 11-30 7-31 3-3 5-1 4 2 2 4-4 22-6 21-10 22-4 2z"/><path id="Lg" d="m15 26-4-2-1-4 1-4 4-3 70 0 4 3 1 10-8 16-12 14-18 12 8 14 0 3-2 3-5 2-5-2-24-35 0-4 5-4 4-1 11 13 19-14 12-17z"/><path id="Mg" d="m64 32-10-11-2-3 4-6 7 1 11 13-3 7-4 0zm-15 5 5-2 5 4 12 11 0 4-2 3-3 2-5-2-13-13-1-3zm45 23 5 2 1 5-3 4-6 2 0 17-3 5-6 0-3-3-1-17-29 6-3 0-3-3 0-4 3-3 32-8 0-53 4-5 6 0 3 4 0 51zm-87 20-1-9 11-23-8-2-3-2 0-4 3-3 11-1 0-4-6 1-3-3-5-14 1-4 4-2 4 2 5 15 0-17 3-5 5 0 3 3 1 18 5-16 6 0 3 5-6 16-3 2-5-1 0 4 8 1 3 3-1 6-6 2 8 17-2 5-4 2-2-2-4-8-1 30-6 3-5-3 0-26-8 15-3 1z"/><path id="Ng" d="m9 31-4-2-1-5 3-3 7-1 1-13 6-2 5 3 1 12 6 1 2 5-2 4-6 2 0 17 6 1 2 4-2 5-5 2-1 1-1 25-1 5-3 2-8 1-5-1-4-2-1-4 2-3 7-1 1-2 0-16-7 0-3-4 2-6 8-3 0-21zm35 64-4-1-2-4 1-81 5-2 48 0 3 3 1 3-5 5-39 1 0 11 35 0 5 5 0 25-1 4-4 2-35 0 0 13 40 1 5 4-1 5-5 2-39 0-2 4zm8-53 0 13 28-1-1-13z"/><path id="Og" d="m93 70 4 2 1 4-2 12-4 4-21 3-22-1-4-3-2-4-1-29-4 1-3-3-5 0-1 35-3 4-6 0-3-5 0-33-9 0-4-5 2-4 6-2 2-4-9-14 2-10 3-1 2 1 7-12 3-1 4 1 1 6-8 17 2 2 9-14 3-1 4 1 1 6-6 12 7 2 3 12 0-14-2-3-1-3 14-24 3-2 4 0 4 2 0 4 20 1 3 3 0 5-5 9 9 1 4 4 0 30-3 3-6 1-4-4-27 0 0 18 1 2 4 1 21 0 3-2 2-9zm-18-31 0 13 8-1-1-13zm-20-12 11 0 3-3 3-5-12 0zm0 12 0 13 8-1 0-13zm-23 6-2-8-5 8zm-28 40 3-21 5-2 3 4-3 22-6 1zm33 2-3-1-1-3-2-18 4-4 5 3 1 17 0 4z"/><path id="Pg" d="m10 54-3-1-2-4 0-3 3-2 35-1 0-5-26 0-3-1-1-5 3-3 27-1 0-5-32 0-3-5 2-5 17-1 0-6 5-2 5 2 5 6 17 0 5-7 8-1 3 3-1 5 15 1 3 2 0 5-4 3-31 0 0 5 26 0 3 2 2 3-2 3-3 2-26 0 0 6 34 0 4 3 0 4-4 3-34 0 0 5 33 0 4 2 1 6-4 3-30 0 11 7 19 6 2 5-4 5-4 1-14-5-11-6-9-7-10 7-12 6-14 5-4-1-4-5 2-5 19-6 11-7-30 0-4-3 1-6 4-2 33 0 0-5z"/><path id="Qg" d="m12 91-4-1-2-4 0-71 3-5 23-1 4 3 2 31 3-2 19-1 0-13-17 0-3-3 0-4 4-4 15 0 2-10 3-2 5 0 4 4 0 8 17 0 4 5 0 3-4 3-17 0 0 13 20 1 3 4-2 6-15 1 16 25 1 6-4 5-5-1-14-23-1 29-3 3-7-1-2-4 0-27-17 24-4 1-4-4-16 1-2 4zm30-39-4-3 0 27 16-24zm-23-30 0 52 7 0 0-53z"/><path id="Rg" d="m31 5 2 3 0 4-9 10-11 8-3 0-3-3 0-4 2-4 16-14zm-26 51 0-9 19-21 5-1 5 3 2-4 22-18 13 0 23 18 3 6-1 5-4 1-5-3-2 4-13 0 0 9 21 1 3 3-1 5-3 2-20 1 0 28-2 7-8 2-13-2-2-4 1-4 3-2 8-1 0-24-22-1-4-2 0-4 4-4 21 0 1-10-13 0-3-4-5 3-4-2-7 10-1 46-3 5-6 0-3-4 0-36-5 4zm47-30 25 0-12-12zm-11 62-7 2-4-6 11-18 6-3 4 2 1 3zm45-23 11 18-1 4-3 2-4 0-3-2-10-18 0-4 4-2 3 0z"/><path id="Sg" d="m11 18-2-6 5-5 4 1 9 7 1 6-4 5-4-1zm-4 22-2-3 0-4 6-4 13 9 2 7-6 4-3-1zm18 18 3 2 1 4-5 14-7 13-3 1-4 0-3-4 0-4 11-24 3-2zm54-26 0-4-41 0-3-4 3-3 41-1 0-3-42 0-3-2-1-3 1-3 3-2 53 0 3 5 0 24-3 4-53 0-4-2 0-3 4-3zm13 12 3 1 2 3 0 12-3 3-5 1-2 5-11 10 18 5 2 4-2 4-6 2-26-8-27 8-6-2-2-4 2-4 19-5-7-6 0-4 4-2-7 0-2-3-5-1-2-2-1-12 2-4 4-1zm-18 23-23 0 12 8zm11-11-1-2-44 0 1 3z"/><path id="Tg" d="m18 11 11 13-3 6-4 0-3-1-11-13 0-4 3-3zm-8 42-5-4 2-6 17-1 3 5 1 26 5 6 15 3 43 1 4 3-1 5-5 3-42-1-14-3-10-5-10 8-5 0-3-4 0-4 10-10 0-22zm64 17 4 0 1-5-10-1-3-3 1-5-5-1-7 14-7 7-7 4-4-1-3-3 0-4 10-8 5-8-9-1-2-3-5 1-4-2 0-4 1-3 15-10-12-1-3-2 0-3 4-4 21 0 0-5-3 0-15-1-2-5 3-4 47-3 5 3 0 3-3 3-19 3 0 6 22 0 4 4-3 5-13 1 14 9 2 4-5 28-2 3-4 2-17 0-3-3 0-5 3-2zm-19-25 0-8-8 8zm21 1-8-9-1 8zm3 8 11 1-9-6z"/><path id="Ug" d="m7 83-2-3 0-4 14-24 9-26-17-1-4-4 1-4 4-3 18 0 2-8 5-3 7 3 0 8 47 1 2 6-4 5-47 0-4 13 0 3 48 0 3 2 2 5-3 4-20 1 0 26 23 1 3 4-1 5-4 2-61 0-4-2-1-5 4-4 27 0-1-28-20 1-17 29-4 2z"/><path id="Vg" d="m10 68-4-1-2-4 1-3 3-3 37-1 0-11-31 0-4-3-1-5 4-3 32-1 0-10-29 0-3-5 3-5 36-2 32-4 4 4-2 6-27 5 0 11 28 1 4 4-2 6-30 1 0 11 33 1 4 3-1 5-4 3-32 0-1 19-1 4-3 3-24 0-4-4 0-3 2-3 16-1 1-15z"/><path id="Wg" d="m91 10 5 3-2 6-18 1-2 3-3 2-7-1-3-4-21 0-2 4-3 1-6-1-3-4-15 0-5-3 2-6 18-2 2-3 3-2 6 0 3 5 22 0 2-4 6-1 4 1 2 4zm-78 83-3 0-4-3-1-3 2-3 28-10-24 0-4-4 1-4 4-2 31 0 1-2-12-2-4-5-14 5-6-2-1-4 3-4 13-5 5 3 0-13-4 4-5 0-10-7-1-3 2-3 6-2 12 8 3-4 10 0 3-5 5-1 5 1 2 5 14 0 3 2 1 2 13-8 5 2 2 4-1 3-10 6-5 0-4-4 0 12 5-3 13 5 2 3 0 4-2 3-4 1-14-6-3 6-13 1 0 3 35 1 2 5-3 4-25 0 27 10 2 4-1 4-7 1-30-13-1 13-3 2-6 0-4-4 0-11zm28-56 1 3 19 0-1-4zm1 15 18 0 0-4-18 0z"/><path id="Xg" d="m10 32-4-2-1-5 3-4 7-1 1-12 5-3 6 2 1 13 6 2 3 4-2 5-7 1 0 17 6 0 3 4-1 4-3 3-5 2 0 24-2 6-3 2-7 1-6-1-3-2-1-6 9-2 0-2 0-17-7 1-3-5 2-5 8-3 0-21zm45 11-11-2-3-3-1-27 3-4 3-1 5 1 3 8 32-8 5 2 1 4-3 4-35 8 0 6 3 1 23-1 4-8 5-2 6 4 0 8-2 6-6 3zm33 4 3 2 2 3-1 41-3 2-6 0-3-4-25 0-3 4-5 0-4-1-2-3 1-41 5-3zm-8 33-1-6-25 1 1 6zm0-16-1-6-25 1 1 5z"/><path id="Yg" d="m17 75 1-6-9-1-4-4 0-30 4-5 9-1 0-5-12-1-3-3 1-5 3-2 11 0 2-7 7 0 2 2 1 5 10 0 3 3 0 4-2 3-11 1 0 5 9 1 3-6 20-17 5-1 7 1 22 19 2 4-1 6-5 1-6-5-4 4-29 0-3-4-7 4 0 6 46 0 5 3 1 40-2 9-4 2-9-1-2-1-7-2-2-3-1-15-3 0-1 17-3 2-3 0-3-4 0-15-3 0-1 17-2 4-4 1-3-1-2-3-1-6-8 0-2 8-7 3-3-4-1-7-11 0-4-4 0-3 3-3zm61-23 1 10 4-1 0-9zm0 22 1 9 4 0 0-10zm-13-22 0 10 4-1 0-9zm-14 0 0 10 4-1 0-9zm8-28 19 0-10-10zm-20 44-9 1 0 6 9 0zm-10-30 0 6 5-1 0-5zm0 15 0 6 5-1 0-5zm-15-15 1 6 4-1 0-5zm1 21 4 0-1-7-3 1z"/><path id="Zg" d="m11 86-3-1-2-4 0-3 3-2 34-1 0-4-24 0-4-2-1-28 1-3 3-2 25-1 0-3-26-1-8-4-3-5 0-10 2-4 4-1 78 0 4 5 0 11-2 4-9 4-26 1 0 3 24 1 4 2 1 27-1 4-3 2-25 0 0 4 34 1 3 3-2 6-35 1-1 7-5 3-7-2-1-8zm71-68-26 0 1 4 24 0zm-40 4 3-5-26 1 0 4zm32 39-1-4-16 1 0 4zm-1-17-16 0 1 5 15 0zm-47 1 1 4 16-1 0-4zm1 17 16 0-1-5-15 0z"/><path id="ah" d="m11 95-4-2-2-4 0-76 3-5 27-1 3 3 1 7 7 1-1-9 2-2 5-1 4 2 4 9 10 1 7-11 4-2 4 1 2 4-2 8 9 0 3 5-1 3-3 2-14 1 3 14 7-5 3 1 3 3-1 6-8 8 11 24-3 8-5 0-8-12-6-14-7-33-4-1-4 5 8 14 4 14 1 24-1 5-3 3-18 1-4-3-2-6-10 5-5-2-1-5 2-3 24-17 4-4-2-5-22 15-4 6-8 2-3-2-1-4 5-7 0-9-7-12 0 47-2 4zm49-24-12 12 10 1 2-2zm-31-31 7 16 16-10-3-5-11 5-4-2-1-6 15-10-13 0zm-12-22 0 21 6-11 4-11z"/><path id="bh" d="m14 86-4-1-2-4 1-65 2-3 5 0 7 3 26 47 0-45 3-4 5-1 3 1 2 4 0 65-3 3-4 0-8-3-25-47-1 45-3 4z"/><path id="ch" d="m56 50-2-15-3-5-8-6-6 0-11 2-4 4-4 12 0 8 2 14 2 5 9 6 6 1 6-1 8-6 3-5zm5 27-11 8-13 2-14-2-11-8-6-12-3-15 3-16 6-12 11-8 14-2 13 2 11 8 7 12 2 16-2 15z"/><path id="dh" d="m15 86-6-4 0-9 3-4 7 0 5 4 1 9-4 4z"/><path id="eh" d="m87 44 6 7 3 8 2 8-2 10-4 5-7 3-7-1-4-5 2-4 7-3 2-3-2-11-9-15 8-21 1-5-11 1 0 73-3 3-3 1-4-1-3-3 1-81 5-3 27 0 4 2 0 12zm-37-5 4 1 2 3-1 4-3 3-45-1-3-3 1-5 9-3-4-15-5-4 0-4 3-3 14-1 2-7 6-1 5 2 2 6 15 1 3 3 0 4-5 4-4 15zm-15-1 3-16-16 1 4 15zm-17 57-6 0-4-5 0-29 2-3 3-2 34 0 4 2 1 4-1 31-3 2-5 0-3-4-18 0zm3-28 0 14 19-1 0-13z"/><path id="fh" d="m26 21 1 3-1 4-6 2-12-11-2-4 1-3 6-3zm-16 32-6-3 0-4 2-3 17 0 3 4 1 26 5 6 15 4 44 0 4 4 0 4-5 3-44-1-14-2-10-6-9 8-5 0-3-4 0-4 9-9 0-22zm81-13-61 0-4-2 0-4 3-2 25-1 0-2-21-1-3-4 0-10 5-5 19 0 2-4 3-1 6 0 3 5 18 0 4 2 1 13-2 4-21 1 0 2 25 1 2 5zm-23-21 0 3 11-1-1-3zm-14 2 0-3-12 1 1 3zm-8 38 0 2 42 1 4 4-1 9-5 3-48 0-4-1-1-4 0-25 3-5 49 0 5 4-1 9-4 3zm0-9 0 2 31-1-1-2zm0 18 0 3 32 0 0-3z"/><path id="gh" d="m16 95-3-1-3-4 0-35-2 4-3 0-2-9 1-7 9-21 3-13 2-3 7 0 3 5-6 23 0 56-2 4zm76-53 4 1 2 4-1 7-4 4 3 6-2 4-6 0-6-8-5 4-20 1-2 1 30 1 2 3-1 5-10 7 19 3 3 3-3 5-9 1-24-6-19 5-13 1-3-3 0-5 3-2 18-2-4-5 1-3-2 0-12 5-5-2 0-5 6-3-3-5 2-6-4-4-1-8 2-3 4-2 2-20 3-2 15 0 1-2-20-1-3-4 2-4 63-1 2 5-3 4-26 1-1 2 20 0 3 2 1 3zm-46-17 1 2 31-1-1-2zm0 7 1 2 31 0-1-2zm0 8 1 2 31-1-1-2zm25 34-18 0 9 4zm-37-6 10-4-1-5zm48-16 4-1-1-2-16 0 1 4-5 3-8-3-1-4-17-1 0 4 3 1 2-3 5 0 3 2 3 5 11 1 4-1 5-4z"/><path id="hh" d="m93 6 3 7 0 3-4 3-5-1-4-8 0-4 4-3zm-74 12 1-3 4-2 44 0 0-6 4-3 4 2 3 4 1 7-9 8-47 0-4-3zm74 28-1 3-4 3-27 0-3 14-3 8-5 6-10 8-10 3-5-1-2-7 7-5 8-5 5-6 3-15-35 0-4-5 0-4 3-3 78 0 4 2z"/><path id="ih" d="m13 75-4 0-3-3-1-3 1-3 27-12-24-1-3-3 1-6 3-1 34-1-1-5-25 0-3-3 1-4 3-3 24 0 1-5-30-1-4-3 2-6 31-1 2-6 5-3 6 2 2 7 31 1 3 5-4 4-30 1 0 5 26 1 3 4-2 4-27 2 0 5 33 0 4 3 1 4-4 3-31 1 9 12 12-11 4-1 3 2 1 6-11 12 16 10 1 3-2 5-7 1-19-12-10-10-9-16-9 7 0 18 20-2 3 5-3 5-45 6-4-3 0-5 3-3 12-1 0-12z"/><path id="jh" d="m13 94-4-1-2-4 0-70 5-3 24 0 5-11 4-2 6 0 2 3-2 10 37 0 4 3 0 70-3 4-10 1-14-1-4-4 1-4 2-2 16-2 0-54-59 0-1 62-3 5zm58-28-1 3-3 2-25 1-3 6-6 1-4-4 0-33 1-4 3-2 36 1 2 4zm-12-5-1-15-17 0 1 16z"/><path id="kh" d="m9 26-4-2-1-5 7-3 8-11 7 0 3 2 0 2-4 7 10-1-1-4 2-3 4-1 4 1 8 11 0 4-3 2-4 1-4-2zm27 30-15-1-2 11-4 1-5-1-2-4 0-30 5-4 31 0 4 5 0 26-1 5-2 2-14 1-3-3 0-4 2-2 6 0zm-16-20 1 2 15 0-1-2zm0 11 15 1 1-2-15-1zm41-41 4 1 2 5 21-5 5 2 1 4-2 3-25 6 1 3 8 0 6 0 5-5 5 0 3 6-2 5-2 3-26 1-11-3 0-22 2-4zm-8 55 0-19 3-4 8-1 3 6 21-6 5 3 1 3-2 3-25 7 1 4 10 0 4-1 5-5 5 0 3 6-1 6-3 3-31 0-5-1zm-34 10 3 2 1 4-5 9-5 6-7-2-1-5 7-12 4-3zm27-3 6-2 5 2 6 5-1 5-4 2-4-1-8-6zm42 3 8 13-2 6-4 1-3-1-7-10-2 9-3 3-15 3-23 0-7-2-3-7 1-13 3-3 6 0 3 4 1 10 16 1 8-1 5-9 6 1 0-5 3-2 5-1z"/><path id="lh" d="m8 31-4-3-1-4 3-4 6-1 1-11 4-3 4 0 3 3 0 11 13 2 5-5 18 0 2-11 3-1 5 0 3 4 1 8 16 0 4 4 0 4-3 3-18 0 0 13 19 1 4 3 0 4-3 3-14 1 16 23 1 4 0 5-4 4-3 0-16-24 0 28-3 4-6 0-4-5 0-27-17 24-5 0-4-6-6 1-3-4-12 14-5 1-3-4 0-5 13-17-4-5-2 2-3 0-4-6 5-28zm35-4-4-1-1 15 22-1 0-13zm-11 39 4 12 18-26-14 0-3-2zm-14-16 5 6 1-4 3-21-5 0z"/><path id="mh" d="m58 80-4-1-2-4 0-68 5-4 31 0 6 4-1 4-3 3-25 0 0 61-3 4z"/><path id="nh" d="m12 97-6-4 1-4 3-3 25 0 1-63 3-2 4-1 3 2 2 3 0 67-5 5z"/><path id="oh" d="m12 91-4-1-2-4 0-71 4-5 23-1 4 3 1 43 24-3 0-29-18 0-4-5 1-5 51-6 3 5-2 5-19 4 0 31 22 2 2 6-4 4-19 1-1 23-4 6-19 0-5-4 0-3 3-3 12-1 0-18-20-1-3-1-1 18-1 3-3 2-14 0-2 4zm7-69 0 52 7 0 0-53zm34 27-6-2-5-13 0-4 3-3 7 2 3 8 2 8zm38-26 3 2 1 3-3 12-4 8-6 1-3-2-1-4 6-17 2-3z"/><path id="ph" d="m89 6 4 8-1 4-6 3-5-5-3-6 1-5 5-2zm-75 19-3-1-3-4 1-3 4-3 28 0 3 2 2 3-2 6-10 11-6 11-3 8 0 9 2 8 7 7 10 2 9-1 9-7 4-10-1-14-6-20 2-5 6-2-5-9 2-5 4-2 5 3 4 10-2 3-4 2 22 21 2 5-3 4-5 1-12-10 4 13-1 14-3 7-5 5-11 6-10 2-14-1-8-2-10-8-3-7-2-8 0-14 8-16 10-11z"/><path id="qh" d="m10 28-3-2-2-3 0-3 2-3 35-1 1-9 5-4 4 0 4 3 1 10 36 1 2 6-4 4-47 1 0 12 38 0 4 3 0 27-4 17-3 3-6 3-25-2-2-5 2-5 18 0 4-3 3-9 0-17-30-1-5 16-8 13-12 12-4 1-3-2-3-4 0-4 12-11 7-15 3-29z"/><path id="rh" d="m12 21-5-4 0-3 2-3 34-1 2-5 3-2 7 1 3 6 33 1 3 6-3 4-22 1-1 21-4 5-13 1-5-4 1-6 9-1 0-17-8 0-6 20-5 7-5 2-5-3-2-4 8-11 2-10zm-2 29-3-3 0-4 10-16 6-1 5 4-3 8-8 12-3 1zm84-8 0 3-1 3-8 1-12-16-1-3 1-3 5-1 3 0zm-57 36-7-6 0-3 3-4-19 9-5-2-2-4 2-4 15-6 14-8 4-2 5 2 1 5 29 0 4 3-2 9-13 11 25 5 3 5-5 5-15-1-23-7-17 5-22 4-5-5 2-6zm0-14 15 9 14-9z"/><path id="sh" d="m7 88 0-3 2-3 30-11-11-16-1-4 2-3 5-1 4 1 12 15 11-14 5-2 5 2 2 4-12 18 30 12 2 4-3 5-4 1-14-4-22-10-16 8-19 6-5-1zm5-63-3-1-3-3 1-4 2-2 34-1 1-9 5-3 7 3 1 9 34 1 3 5-4 5-21 0 22 18 0 6-5 4-4-1-22-18-1-4 2-5zm-3 25-1-4 2-3 22-17 3 0 4 1 2 4-1 3-10 11-14 8-4 0z"/><path id="th" d="m10 10 4-1 3 1 11 11 1 4-2 4-3 2-4-1-10-11-2-4zm0 43-5-4 0-4 3-3 17 0 3 5 0 17 5-17 1-35 3-4 51-1 4 5-3 5-42 1 0 8 37 0 4 2 2 3-2 10-12 20 15 9 1 6-3 3-5 0-17-9-15 9-5 0-4-4 0-5 15-9-9-13 0-5 5-3 4 1 9 12 6-8 3-9-29 0-2 20-6 16-5 2-6-6 0 5 5 6 10 3 48 1 4 5-2 5-46 0-14-3-10-5-9 7-4 1-4-4 0-4 10-10-1-22z"/><path id="uh" d="m52 30-4-1-2-3 2-6 28-1 1-11 3-3 4 0 5 3 1 10 4 1 3 4-1 5-6 3-1 58-2 3-4 2-16 1-9-1-3-6 4-5 17-1 0-51zm13 38-4 0-3-2-9-21 0-4 4-3 4 0 3 2 9 20-1 6zm-52-60 26 0 3 3 0 3-5 4-26-1-3-3 0-3zm-3 25-5-4 0-4 3-3 30 0 3 1 2 3 0 3-3 3zm3 14-4-4 0-3 3-3 25 0 5 4-1 3-2 2zm0 14-4-4 0-3 3-2 25-1 5 4-1 3-2 3zm29 10 0 16-2 4-20 1-2 4-7-1-3-5 0-20 2-4 27-1 4 3zm-11 11 0-7-11 1 0 6z"/><path id="vh" d="m13 94-4-1-1-4 0-78 2-4 3-1 74 0 4 3 1 3 0 74-3 7-13 1-12-1-3-6 3-4 15-2 0-63-58-1-1 72-2 5zm56-59-40 0-3-2 0-4 2-3 3-1 40 0 3 3 0 3-2 3zm-34 52-4-2-2-3 0-32 2-4 4-2 31 0 5 4 0 25-2 4-4 2-23 0-2 5zm6-33 1 15 17-1-1-15z"/><path id="wh" d="m57 14 6 0 6 10-1 5-5 3-5-2-5-9 0-4zm25-2 5 9-1 4-5 4-5-2-6-10 1-4 6-4zm-36 80-10-1-11-5-4-6-3-8-2-19 2-40 1-3 4-1 4 0 3 2 0 52 2 8 4 5 6 3 10-1 5-2 10-7 9-16 5-1 5 3 1 4-5 11-12 14-7 4z"/><path id="xh" d="m15 95-7-3-1-3 1-3 20-7-12-1-4-4 0-37 4-5 69 0 3 1 2 5 0 36-4 4-11 1 19 7 0 5-4 3-3 0-24-9-2-2 0-4-20-1-2 7zm10-53 1 4 51-1-1-4zm0 12 1 4 51-1-1-4zm0 15 51 1 1-4-51 0zm-4-63 60 0 5 5 0 14-4 4-53 0-9 0-4-4 0-14 2-4zm52 14-1-4-43 1 1 4z"/><path id="yh" d="m9 55-2-4 1-4 11-8 9-3 16 2 15 10 7 3 9-2 10-7 7 3 2 4-2 4-7 6-12 5-16-2-16-10-7-3-9 2-10 7z"/><path id="zh" d="m57 85-6-2 0-6 16-8-12-7-1-6-3-3 3-23 5-4 21 0 1-7-26-1-3-5 3-5 33-1 4 3 2 3-2 20-3 2-22 0-2 7 27 1 2 4-1 14-2 22-3 9-5 2-19 0-4-5 2-5 16-2 3-29-17-1-1 3 8 6-2 7 7-1 2 2 1 4-3 4zm-48-29-3-5 4-23 4-2 20 0 0-7-24-1-3-4 1-5 4-2 30 0 4 2 2 4-2 20-3 2-21 0-2 7 23 0 5 4-2 32-4 14-5 2-17 0-5-3 0-5 2-2 14-1 2-9-20 11-5-2-2-4 2-3 13-7-11-7zm10-4-1 3 6 3 2 3-3 7 7-2 3 3 2-16z"/><path id="Ah" d="m10 29-5-3-1-5 4-3 8-1 0-9 5-3 7 2 2 11 40 0 2-11 3-2 5 0 4 3 1 10 8 0 3 6-3 4-9 1 0 61-2 4-3 1-6 0-3-5-40 0-5 5-7-1-2-4 0-61zm19 1 1 18 41-1-1-18zm0 29 1 20 41-1-1-20z"/><path id="Bh" d="m92 29-4 24-7 18 14 12 0 5-2 3-6 1-15-12-20 13-7-3-5 1-3-2-7-9 0-4 3-3-14 0 3 4 1 3-8 12-4 2-5-2-1-4 8-15-4-1-2-4 0-56 2-4 3-1 31 1 2 4 0 25 12-30 5-3 5 0 2 3-2 10 28 1 2 7zm-59 33 0-8-14 0 1 8zm0-18 0-8-14 0 1 8zm0-19 0-8-14 1 1 8zm31 46-8-25-5 6-6 0 0 15-2 5-5 1 7 9zm9-12 4-13 3-17-16 0-3 7 4 1 2 2z"/><path id="Ch" d="m28 63 1-26-19 0-3-3-1-4 5-4 18-1 0-15 3-5 7 0 3 5 0 81-5 4-7-2-1-18-17 6-5-3-1-4 2-4zm38 31-10-2-2-5 0-77 2-4 3-1 5 0 3 3 1 25 18-14 5 0 4 4-2 6-25 19 0 33 14 0 2-20 2-3 4-1 4 2 2 3-2 22-2 6-4 3z"/><path id="Dh" d="m44 46 3 1 2 4 1 31 10-1 0-42-23-1-4-5 3-5 57 0 3 5-3 5-20 1 0 13 15 0 3 2 2 4-3 4-17 2 0 17 21 1 4 4-3 6-63 1-4-3-1-4 3-4 6-1 1-30 2-4zm-41 20 0-3 2-4 11-6 0-12-3 0-2-1-7-12 1-5 6-2 5 5 0-11 3-5 31 0 3-7 9 0 3 7 29 0 3 4-1 4-4 3-63 0-2 49-4 12-6 10-6-1-4-5 7-18-6 2z"/><path id="Eh" d="m4 57 0-38 3-3 3-1 4 2 1 4-1 37-2 4-3 0-4-2zm21-52 4 1 2 4 1 36 59 0 6 4 0 12-4 5 0 16-2 5-6 2-10-1-2-5 3-3 4-1 1-8-12-1-1 22-5 3-4 0-3-3-1-22-10 0-1 17-4 2-6-1-2-3 0-19-2-1-5 14-9 12-5 1-4-4 0-5 7-9 4-11 1-54 3-4zm44 51 0 6 15 0 0-6zm-29 1 0 5 16-1-1-5zm38-23 1-4-38 0-3-4 3-5 38 0 0-3-39 0-3-3-1-3 1-3 3-2 50 0 2 5 0 25-2 5-51 0-3-2 0-4 3-2z"/><path id="Fh" d="m13 95-4-2-2-4 0-77 2-4 4-1 74 0 4 1 2 4 0 77-2 4-8 2-4-5-58 0-3 4zm7-76 0 60 60-1 0-60zm15 50-4-1-2-4 1-35 5-2 31 0 3 2 2 3-1 35-4 2zm6-31 0 21 18-1 0-20z"/><path id="Gh" d="m31 5 3 3-1 4-9 10-11 8-3 0-2-3-1-4 2-4 16-14zm-26 54 1-9 19-21 6-2 14-23 7-1 3 6 38 0 3 3 0 3-4 5-41 0-3 3 41 0 4 3 1 24-2 4-4 2-27 0-1 3 28 0 3 2 1 4-2 5-12 10 18 5 0 6-6 3-25-8-27 8-6-2-2-4 3-4 20-4-9-8-7 4-6-4 1-5 15-11-7 0-3-3-2-14-2 0-7 9 0 42-2 4-5 1-5-3 0-33-5 3zm72 9-23 0 11 7 7-3zm-29-36 1 4 32-1-1-3zm0 12 1 4 32-1-1-4z"/><path id="Hh" d="m94 6 3 7 0 3-4 3-5-1-4-8 0-4 4-3zm-32 65 0-3-11-2-5 2-3 5 3 6 9 2 6-3zm14-33-1 24 14 14 0 6-3 3-3 0-8-7-4 8-7 5-16 1-9-3-5-6-3-7 1-8 3-7 7-4 9-3 11 1 0-17-25 0-3-3-1-4 2-3 3-2 24 0 1-15 12-6 4 3 3 8-2 4-5 1 0 5 13 1 4 5-4 5zm-59 54-4-1-3-4-3-36 4-37 3-3 4-1 4 2 1 3-4 36 4 36-2 4z"/><path id="Ih" d="m81 94-3-1-3-4 0-78 3-4 5-1 4 1 2 4 0 78-2 4zm-69-23-3-1-2-4 5-33 4-3 26 0 0-11-30-1-4-5 4-5 38-1 4 2 1 4-1 25-4 3-26 0-2 11 31 1 3 4-3 24-3 9-4 4-26 0-4-2-1-3 0-4 4-2 20-1 3-19-21 0-3 7z"/><path id="Jh" d="m36 9 3 1 3 3-1 4-3 3-27 0-3-1-2-3 0-3 3-3zm-27 33-3-2-3-3 1-4 3-2 32 0 4 3 0 5-5 3 0 25 6 1 0 5-5 5-15 6-3-5 1-4 4-4 0-29-4 0-2 26-4 17-5 7-4 0-3-4 0-4 5-21 1-21zm67-24-1 5 15 0 4 4 0 44-4 5-11 0 15 8 2 6-3 3-5 1-15-9-1-4 2-5-12 0 2 5 0 3-10 8-8 2-4-2-1-3 2-4 15-9-8-1-3-4 0-43 3-4 11-1 2-5-16-1-3-3 0-3 5-4 44 0 4 4-2 5zm5 47 0-5-22 1 0 5zm0-14 0-4-22 0 0 5zm-1-18-21 0 1 5 21 0z"/><path id="Kh" d="m11 69-4-1-1-4 2-30 4-4 13 0 0-11-16-2-2-6 3-4 22 0 4 3 1 27-4 4-13 0-2 11 15 1 4 2 1-4 5-2 0-37 2-4 4-1 42 0 3 6-4 4-34 1 1 4 33 1 1 4-2 4-32 0-1 4 32 1 3 2 0 5-4 1-30 0-1 4 37 1 3 3 1 4-3 3-5 1 4 3 1 5-7 10 7 5 2 3-1 4-4 3-8-3-10-8-1 4-4 3-21 4-8 0-2-5 2-4 4-2 0-21-6-3-1 23-3 11-5 2-16 0-4-4 0-4 4-3 11-1 1-18-6-1-3 5zm61-9 7 11 7-11zm-16 1 0 20 13-3-10-17z"/><path id="Lh" d="m6 38-1-4 1-3 34-24 8-2 12 1 35 25 2 6-5 5-14-8-3 5-3 2-43 0-4-2-1-5-12 8-4-1zm44-24-19 16 39 0zm-8 69 17-11 14-12-56 0-5-4 2-6 3-1 69 0 4 5-2 7-19 19-23 14-3-1-4-3 0-4z"/><path id="Mh" d="m69 95-4-1-2-4 0-26-27 0-3-2-1-3 0-4 4-2 27-1 0-22-12 0-4-2-9 17-2 2-5 0-3-5 0-3 15-31 4-2 4 1 3 3-1 4-1 5 11 0 1-11 3-3 5 0 4 4 1 10 14 0 4 4 0 3-3 3-15 1-1 22 19 1 3 3 0 4-5 4-16 0-1 27-2 4zm-63-39-1-10 10-18 6-20 6-3 5 3 0 7-5 17 0 60-6 3-6-3-1-39-4 5z"/><path id="Nh" d="m4 81 1-6 7-4 0-59 3-4 5-1 4 3 1 3 0 54 25-10 4 2 1 5-2 3-9 5-33 13-4-1zm48-40-16-20 1-3 3-4 4 0 3 2 16 20 0 4-3 3-5 0zm-17 49-1-3 2-3 21-11 12-12 6-17 2-33 2-3 6-2 5 4-1 24-2 16-5 14 14 20-1 6-4 2-4-1-13-16-13 10-18 9-5 0z"/><path id="Oh" d="m12 95-4-2-2-4 0-76 3-5 28-1 3 4-1 9 19-16 7 1 1 4 23 0 4 3-2 10-12 12 15 6 2 3 0 3-5 4-11-3 0 5 12 2 2 2 1 4-4 3-11 1 0 8 14 2 3 3-1 5-4 2-12 0-1 8-5 3-7-2-1-9-30-1-2-4 1-4 9-3 0-8-4-4 1-5 3-2 22 0 3-6 8-1-10-4-18 7-8 1-4-4 1-5 18-7-7-6-7 3-5-5-7 15 7 14 0 15-3 4-5 2-4 1-4-3-1-5 5-4 1-9-2-6-6-8 0 48-2 4zm54-23 0-8-10 0 1 9zm-9-52 10 8 8-5 3-3zm-39-2 0 21 6-10 4-12z"/><path id="Ph" d="m78 18-1 5 13 0 4 4 0 44-4 5-8 0 13 8 1 6-2 3-5 0-13-8-1-4 2-5-11 0 3 5-1 4-12 8-5 0-4-4 2-5 13-8-7-1-4-4 0-43 4-4 8-1 2-5-13-1-3-3 0-3 4-4 40 0 4 4-2 5zm4 47-1-5-18 1 1 5zm0-14-1-4-18 0 1 5zm-1-18-17 0 0 5 17 0zm-73-11-5-3 1-6 4-2 13 0 1-4 3-3 7 1 2 6 10 0 4 2 1 4-2 3-3 2-10 0-1 6 11 1 4 4-1 24-3 4-8 0 10 8 3 5-2 4-4 1-10-6 0 17-4 5-4 0-3-3-1-16-11 11-5-1-2-4 1-4 16-17-10 0-3-4-1-23 4-5 11-1 0-5zm25 17 0 11 5 0 0-11zm-11 0-5 0 0 11 5 0z"/><path id="Qh" d="m11 90-4-9 8-24 1-45 2-3 3-2 67 0 5 3 1 5-5 3-60 1 1 11 54-1 5 3 0 8-3 10-15 21 23 11 2 4-1 4-4 3-4 0-26-13-27 13-7-2-2-4 1-4 25-12-13-16-2-8 5-4 5 1 15 19 9-10 6-13-46 0-2 22-4 15-6 13-4 1z"/><path id="Rh" d="m12 17-4-1-2-3 1-4 4-3 77 0 4 2 2 5-3 4-34 0-3 9 33 1 5 3 0 62-5 3-6 0-2-4-58 0-4 4-8-2-1-4 0-59 5-3 26 0 3-9zm17 64 0-44-9 1 1 43zm30 0-1-9-17 1 1 8zm0-19-1-7-17 0 1 8zm12-24 0 43 9 0-1-44zm-13-1-16 0 0 8 16 0z"/><path id="Sh" d="m33 17-4-2-1-4 2-3 4-2 38 9 3 3 1 3-2 4-4 2zm-25 65-3-2-1-3 6-36 2-3 5-1 3 2 2 4-3 25-4 13-3 2zm30-54 3 1 2 4 1 49 9 1 10-1 4-20 3-2 6 1 3 5-1 9-1 11-4 6-21 2-19-2-3-11 0-48 3-4zm45 7 4 0 3 3 7 31 1 9-6 4-4-1-2-3-8-37 1-4z"/><path id="Th" d="m60 19-3-1-2-4 1-4 3-3 30 0 5 4-1 41-3 3-5 0-3-2-2-3-12 0 0 31 13 1 2-4 1-10 2-3 6-1 4 4-1 19-5 6-26 1-6-2-1-2-1-48 5-4 20-1 0-18zm-50-1-3-1-2-4 1-4 3-2 38 0 4 3 0 4-2 3-8 2 0 6 7 0 3 5 0 59-2 4-6 1-3-4-22 0-4 4-4 0-3-2-1-62 3-4 8-2 0-6zm28 18 0 11 3 0 0-11zm-11-17 1 6 2-1 0-6zm-10 17 0 15 2-6 1-9zm0 24 1 4 23 0 0-7-10-1-1-21-2 1-1 14-3 9-3 2zm0 15 1 5 23-1-1-5z"/><path id="Uh" d="m18 95-3-1-2-4 0-36-4 4-3 0-3-9 13-27 6-16 7 0 3 5-6 22 0 57-3 4zm74-51 4 1 2 4-1 3-2 3-24 2 0 23 21 1 2 6-1 3-3 2-54-1-3-5 3-5 22-1 0-23-23-1-4-3 0-4 3-4 24-1 0-20-20 0-3-2 0-4 2-3 3-1 48-6 3 0 3 6-2 4-21 5 0 21z"/><path id="Vh" d="m8 67 11-18-10-1-3-3 0-4 3-3 11-1-7-8 0-6 6-2 8 7 7-10-23 0-2-3-1-3 4-5 31 0 4 2 1 4-1 6-13 17 13 2 3 3 0 4 3-3 10-4-6-8-7 5-4-2-2-3 13-25 7-1 3 2 0 4 29 1 2 3-1 4-3 3-10 16 12 6 1 3-1 4-6 3-16-7-8 3 4 1 4 2 1 5 15 0 5 3-2 26-2 5-4 2-16 0-4-4 3-6 10-1 1-14-9 0-6 11-13 12-7 3-7-4 1-5 12-8 7-9-11-1-2-3 1-4 3-3 11 0 1-6-8 2-4-5-7 17-4 2-5-1-1 22-1 4-3 2-11 0-5-2-1-3 1-4 8-2 1-16-9 12-2 2-3-1-2-5zm58-47 7 11 4-3 4-8zm-32 30 0 9 2-5 2-5z"/><path id="Wh" d="m16 95-3-1-2-4 0-35-3 3-3 0-2-9 10-28 2-12 3-3 6 0 3 5-4 22 0 57-3 4zm18 0-4-1-1-4 0-79 2-4 3-1 56 0 5 3 1 81-2 4-7 1-4-4-42 0-2 4zm7-77 0 63 42-1 0-63zm8 20-5-3 1-5 3-2 8 0 1-6 5-3 5 2 1 7 8 0 3 2 1 4-3 3-9 1 0 8 7 1 3 4 0 21-2 3-4 1-21 0-4-3-1-22 3-4 7-1 0-8zm8 18 0 11 10-1 0-10z"/><path id="Xh" d="m13 45 1-3-9-13-1-5 3-7 5 1 7-13 5 1 3 4-8 19 2 3 8-14 4-2 3 1 2 5-6 12 7 2 2 8 0-29 3-4 15-1 3-5 5-2 5 2 1 5 18 1 3 4 0 33-4 3-15 1 6 11 8-8 4 0 3 3-1 5-7 9 8 9 1 5-3 5-5 0-14-19-1 14-2 6-7 3-11-2-2-3 1-4 9-4 0-30-16-1-4-2 1 7 11 0 4 2 2 7-2 6-14 19-3 1-4-1-2-2 0-5 14-17-10-2 1 13-2 3-4 0-2-3-1-13 3-3 4 1 0-3-4-3-5 0 0 35-4 4-6 0-3-5 0-32-9-1-3-4 2-6zm40-24 1 5 27 0 0-5zm0 15 1 6 27-1 0-5zm-27 8 6 1-1-4-1-3zm-23 40 3-20 5-2 3 4-3 22-5 1z"/><path id="Yh" d="m11 92-5-2-1-5 4-4 8-1 0-54 4-5 6 1 3 4 0 54 17 0 0-69 3-4 5-1 3 1 2 4 1 19 26 1 3 1 2 3-1 4-4 3-27 0 0 38 31 0 4 4-1 5-5 3z"/><path id="Zh" d="m21 31-11-9 1-5-4-4 1-5 4-2 30 0 4 2 2 4 0 31 6 3 2 6 27 0 4 3 1 35-2 3-3 2-6 0-3-4-46 0-4 4-8-2-2-4 1-34 4-3 21 0 2-4-15-1-3-2-2-4-10 4-4-2-1-4 2-3zm54 50-1-5-46 1 0 5zm-1-19-46 0 0 5 46 0zm-55-45 7 6-3 7 8-1 2 2 0 4-3 3 5-1 0-20zm47 14-10-9 1-5-5-4 2-5 35-1 3 2 1 3 0 29-1 5-20 1-3-2-2-4-9 3-4-1-2-4 2-3zm-1-14 7 6-3 7 5-2 4 2 0 4-2 3-1 1 6-1 0-20z"/><path id="ai" d="m12 20-3-1-2-4 1-4 4-2 76-1 4 2 1 6-4 4-32 1 0 18 28 0 5 3 0 4-4 4-27 1 3 6 8 11 22 15 1 4-3 4-6 1-14-8-11-10-8-13-9 13-12 10-14 8-7-1-2-4 1-4 22-15 8-11 3-6-27-1-4-4 1-4 4-3 28-1 0-18z"/><path id="bi" d="m79 21 5 1 5-1 1-5-1-5-5-1-5 1-1 5zm5-20 6 1 6 5 3 5 0 8-5 8-10 3-3 17-10 19-16 14-22 8-9 1-4-1-2-7 3-4 22-6 14-9 9-14 4-20-56-1-5-4 1-6 5-3 53 0 6-10z"/><path id="ci" d="m5 42 0-3 3-4 18-3 0-19 3-3 3-1 4 0 3 3 1 18 46-7 5 3 0 10-6 12-14 16-3 1-4-1-3-4 0-4 14-15 1-4-36 6 0 27 3 6 11 2 31-2 4 3 0 5-3 3-30 3-14-1-11-4-4-11-1-29-16 2-4-1zm74-35 3 6-1 4-5 2-4-2-3-7 0-4 5-2zm15-1 3 7 0 3-4 3-4-1-5-8 0-4 5-3z"/><path id="di" d="m10 90-4-8 6-28 1-42 2-4 3-1 70 0 4 2 2 4-1 19-4 2-24 0 0 7 23 1 4 3 1 45-2 4-3 1-6 0-2-5-42 0-3 5-7 0-3-5-1-31-2 16-5 15-3 2zm42-10 0-10-15 1 0 9zm0-20 0-8-15 1 0 8zm28 20 0-10-15 1 0 9zm-14-28-1 9 14 0 1-9zm-40-34 0 7 55-1-1-7zm1 16 0 9 25-1 0-7z"/><path id="ei" d="m15 40-3 0-2-2 1-8 4-5 15-11 9-1 5 3 0 64-2 5-8 1-4-4 0-54z"/><path id="fi" d="m22 5 3 1 2 4-4 23 0 58-3 3-3 1-4 0-2-4-1-36-2 3-3-1-1-12 7-18 5-19 2-2zm46 34 0-25 3-4 5 1 3 4 0 53-2 3-2 2-5 0-2-4 0-24-5 3-3-1-2-4-26 5-5-3 0-5 5-4 4-17-4-1-2-3 0-4 3-3 29 1 2 3-1 5-3 2-12 0-4 16 10-2-2-8 2-2 4-1 3 2zm22-33 4 2 2 4-1 77-1 4-4 1-17 0-2-5 0-4 3-2 9-1 0-71 2-4zm-51 75 1-14-11-2-1-4 2-4 10-1 2-7 6-1 3 3 1 5 10 2 1 6-3 3-8 1 0 10 9-2 4 2 0 4-3 4-31 7-3-4 0-4 3-3z"/><path id="gi" d="m14 95-4-1-2-4 0-79 5-4 23 0 3 2 1 11-8 21 6 14 0 15-4 5-8 2-4-3-2-6 0 23-2 3zm6-77 0 21 5-11 4-11zm0 25 0 23 7-1 1-8-3-8zm14 46 2-5 7-2 0-69 1-4 3-2 40 0 5 3 0 42-4 3-13 1 4 10 10-7 3 0 2 2 0 6-8 7 9 9 1 4-3 5-6 0-15-14-9-22-7-1-1 25 14-1 3 3-1 5-4 2-27 5-4-1zm21-70 1 7 24 0-1-8zm0 18 1 8 24-1-1-8z"/><path id="hi" d="m11 18-2-6 4-4 4 0 9 6 2 6-4 5-5-1zm-5 22-2-3 1-4 5-4 14 9 1 7-5 4-3-1zm84 14 4 1 2 3-1 19-2 9-5 4-11-1-2 4-3 2-5 0-3-4-1-27-5 0-6 17-13 13-7-1-3-6 12-13 3-10-5 0-1 5-3 2-5 0-3-2-10 22-3 1-4 0-3-3-1-4 10-19 4-7 8 2 4-26 3-2 10-1 0-9-13-1-2-3 0-4 4-3 11 0 2-5 3-2 6 1 3 6 5 0 2-6 6-1 4 2 1 5 11 0 4 2 1 26-4 3-12 1 0 9zm-44-6-1-5-4 1 0 4 0 6 5-1zm18 5 0-10-6 1 0 6 1 3zm0-21 0-9-6 1 0 9zm12-8 0 9 6-1 0-9zm5 54 2-2 1-12-8 0 0 14z"/><path id="ii" d="m50 46-6 1-4 3-3 5-1 6 1 7 3 4 4 3 6 1 6-1 5-3 3-4 1-7-1-6-3-5-5-3zm0 41-15-3-8-7-5-15 1-16 6-15 6-8 8-6 17-4 4 4 0 5-18 8-8 11 7-3 9-1 7 0 9 4 7 10 2 10-1 7-3 7-7 7-10 4z"/><path id="ji" d="m68 73-3-1-2-4 0-52 1-4 5-2 3 1 2 4 0 53-1 4zm20-67 3 1 2 4 0 77-2 4-3 2-16 0-5-3 0-6 3-2 11-1 0-71 3-4zm-33 44 3 1 2 3-1 4-4 2-49-1-2-5 3-3 18-2 0-3-13 0-4-3 2-5 15-1 0-3-13-1-3-4-3-2-1-12 3-4 17-1 2-6 6-1 4 2 2 5 18 1 2 4-1 12-4 2-2 4-14 1 1 3 14 1 3 4-4 4-13 0 0 4zm-29-27-1-3-9 1 1 3zm12 0 9 1 0-3-9-1zm-24 72-4-2-1-4 0-21 2-3 3-1 39 1 2 5 0 20-2 3-8 2-3-4-20 0-2 3zm7-20 1 6 20-1 0-6z"/><path id="ki" d="m8 61-2-6 8-19 3-16-6-2-3-3 0-4 3-3 34 0 3 3 2 4 8-1 1-6 3-3 7 1 3 7 6 0-1-5 2-3 6 1 5 5 4 3 1 5-4 3-19 2 0 7 18-1 3 2 1 4-4 4-17 2 2 7 17-2 5 3-1 6-7 2 4 4 0 5-11 9 5 6 5-9 4 0 3 3-2 12-3 4-5 3-10-3-9-9-24 9-6 1-4-1-3-4 2-5 31-11-3-11-16 2-3-2-2-3-6 13-7 12-11 9-5 0-4-3 1-4 10-10 6-11-8-6-5 5zm69-1 0 5 3-1 6-5zm-17-16-15-1-1 6-1 5 3-2 14-2zm-31-24-1 9 13 0 3 2 2 4 13-2-1-7-12 0-3-2-1-5zm-7 27 9 6 2-9 0-5-8 0z"/><path id="li" d="m10 94-5-2-1-4 3-4 7-2 0-66 4-5 25 0 2-7 6-2 5 3 2 6 24 0 3 5 0 40 7 0 3 4-1 4-16 13 17 7 1 5-4 4-10-1-18-9-14-13-8-12-13 0-1 23 24-3 4 3-1 5-4 3zm73-36-28 0 7 8 6 4zm-55-36 0 7 44-1-1-7zm0 18 0 7 44-1-1-7z"/><path id="mi" d="m52 70-9 0-4-4 0-56 5-3 43 0 4 1 2 4-1 56-4 2zm0-51 0 15 28-1-1-15zm0 26 0 15 28-1-1-15zm39 37 3 1 3 3-1 4-3 3-54 0-4-1-2-4 1-3 3-3zm-81-50-4-3-1-4 3-4 7-1 1-13 6-2 5 3 1 12 6 2 2 4-2 4-6 2 0 18 6 0 2 4-2 5-4 3-2 1 0 23-2 6-3 2-8 1-5-1-4-2-1-4 2-3 7-1 1-2 0-16-7 1-3-5 2-6 8-3 0-21z"/><path id="ni" d="m10 90-4-8 6-28 0-42 2-3 3-2 70 0 4 2 1 3 0 15-3 4-64 1 1 4 67 1 2 3-2 4-10 2 9 12-1 5-6 2-6-4-15 2 1 5 23 1 2 5-2 3-23 1-1 5 29 1 3 5-4 5-71-1-3-5 3-4 30-1-1-5-20 0-3-2-1-4 3-3 21-1 1-4-22 0-2-3 0-3 7-3 4-9-13 0-2 24-4 14-4 7zm38-36 24-2 0-1-5-5-14 0zm-23-36 1 4 53 0-1-5z"/><path id="oi" d="m13 69-4 0-3-2-1-4 2-4 32-12-7-10 1-6 4-2 4 1 10 10 11-9 8-9-31-1-22 16-7-1-2-4 2-5 15-10 13-12 8-1 3 2 1 4 30 0 4 3 0 9-5 8-7 9-14 11 30 1 4 2 1 3 0 35-3 3-6 0-3-1-1-3-36 0-3 4-6 0-5-5 0-25zm67-7-36-1-1 17 37 1z"/><path id="pi" d="m10 10 3-1 4 1 11 11 1 4-2 4-3 2-4-1-11-11-1-4zm0 43-5-4 2-6 17-1 4 5 0 26 5 6 15 4 43 0 4 4-1 4-5 3-42-1-14-3-10-5-10 8-5 0-3-4 0-4 10-10 0-22zm82-41-3 7-11 6 10 0 4 5-1 46-8 3-9-2-2-5 3-3 4 0 0-6-11 0 0 11-4 4-5 0-3-5 0-10-10 0 0 11-2 3-6 2-4-4-1-45 5-5 9 0-4-4 2-4-11-1-2-3 0-4 5-3 50 0 3 2zm-36 42 0-5-10 1 0 5zm0-14 0-5-10 0 0 5zm23 14 0-5-11 1 1 5zm0-19-11 0 0 5 11 0zm-26-18 9 6 11-6z"/><path id="qi" d="m7 73 0-4 2-2 23-12-4-7-10 11-4 0-3-3 1-5 5-6-6 1-3-3-1-14 4-4 12 0-3-5-5-1-3-3 0-4 3-3 72-3 3 3-1 4-10 4 3 3-2 5 10 0 4 4 0 13-3 3-4 1 3 7-3 5-6-1-6-8-5 6-23 1-3 3 35 1 1 4-1 5-13 10 26 5 2 5-4 5-16-2-24-6-23 6-15 2-5-5 2-5 25-5-5-4 2-7-17 8-4-1zm56-5-25 0 13 7zm18-33-27 0 6 5-2 7 4-1 4-4 10-4 5 1zm-25-17 3 7 7 0 4-8zm-22 1 2 6 10 0-3-6zm-5 23 2-4 6 0 3 3 1 6 13 0-9-5-1-6 0-1-24 0-1 7 5-2z"/><path id="ri" d="m12 95-4-2-2-4 0-79 5-4 30 0 4 1 2 4-1 30-4 2-23 1 0 46-2 4zm7-78 0 4 17-1-1-4zm0 13 0 5 17-1-1-5zm69-24 4 2 2 4 0 71-3 9-6 2-12 0-5-3-7-1-10-9-17 10-7-1-2-3 1-3 15-8-15-1-2-2 1-4 2-2 17-1-1-3-14 0-3-2-1-3 2-3 8-1-2-4 1-3 5-1 4 2 4 6 5 0 8-8 6 1 1 3-2 4 8 0 2 3 0 3-4 3-15 0 0 4 18 0 2 4-1 4-14 1 9 8 10-1 1-39-24-1-4-2-1-30 2-3 3-2zm-7 28 0-5-18 1 1 5zm0-14 0-4-18 1 1 4z"/><path id="si" d="m18 11 10 10 1 3-1 4-3 2-4 0-3-3-9-9-1-3 3-6zm-8 42-5-4 2-6 17-1 3 5 1 26 5 6 15 3 43 1 4 3-1 5-5 3-42-1-14-3-10-5-10 8-5 0-3-4 0-4 10-10 0-22zm60-33 0 4 17 0 4 3 1 27-1 3-4 2-18 1 0 4 22 0 3 3 1 3-5 4-20 0-3 6-6 1-4-2-1-5-22 0-4-4 1-3 3-3 21 0 1-4-18 0-4-3-1-27 4-5 19-1 0-4-23 0-3-3 0-4 4-3 22-1 3-5 6 0 3 2 2 3 20 1 5 3-1 4-3 3zm-14 30 0-4-11 1 0 4zm0-13 0-4-11 1 0 4zm24 13 0-4-11 1 1 4zm-10-17-1 5 10 0 1-5z"/><path id="ti" d="m29 32-1 16 6 1 3 5-3 5-6 2-1 30-4 3-7 1-7-1-3-3 0-4 2-2 7-2 0-18-7 0-3-3 2-6 8-4 0-20-8-1-2-3 0-4 3-3 7 0 1-13 4-3 4 0 4 4 0 11 6 2 3 4-2 5zm45 19 0-8-31 0-3-2-2-3 1-3 3-3 18-1 0-8-17-1-2-4 1-4 3-2 15 0 2-8 8-1 3 3 1 6 14 0 4 3 0 5-2 2-16 1 0 8 18 1 3 2 1 5-3 3-5 1 0 7 7 2 1 6-3 3-5 1-1 24-2 6-6 3-16-1-4-4 1-5 14-2 0-21-25 0 11 13-2 5-5 2-11-10 0-5 5-5-7-2-2-5 5-4z"/><path id="ui" d="m64 62 1-5-58-1-2-6 4-4 34 0 0-5-28 0-3-4 2-5 29-1 2-5 7-2-4-4-9 0-1 6-6 2-4-2-3-6-2 0-8 8-4 1-5-3-1-4 12-16 3-3 7 1 2 5 19 1 4 6 10-11 6-2 4 2 0 4 19 0 4 4-2 6-10 1-1 6-7 2-3-2-3-6-4 0-9 7 1 4 27 0 4 4-2 4-3 2-26 0 0 5 33 0 4 2 1 4-3 5-13 0 0 5 13 0 3 6-4 4-12 0 0 15-3 6-7 2-20 0-5-4 0-4 3-3 17 0 1-12-36 0 11 9-1 6-5 2-15-8-1-4 2-5-12 0-3-3 0-3 4-4z"/><path id="vi" d="m7 76-1-9 10-26-7-1-2-6 3-4 6-1 0-9-7-1-1-6 4-3 20-4 4 1 3 3 3-1 48-4 5 3 0 4-2 3-20 3 0 4 22 1 3 3-1 4-3 2-20 0-1 2 18 1 3 2 1 25-4 4-18 0 0 3 23 1 1 5-3 3-21 1 1 4 23 0 2 6-4 4-61-1-2-5 4-4 23-1 0-3-21-1-2-4 1-4 3-1 19 0 0-3-17 0-3-2-5 4-3-2-3-5 0 29-4 5-5 0-2-4-1-24-4 10-3 1zm66-32 1 3 9-1-1-3zm0 10 1 3 9 0-1-3zm-14 3 0-3-10 0 1 3zm0-11 0-3-10 1 1 3zm-31-28 0 11 6 2 2 4-2 5-5 1 8 16 0-17 2-3 3-2 17 0 0-3-21-1-4-4 1-3 3-2 21 0 0-3-18 0-4-4z"/><path id="wi" d="m6 48-1-3 2-4 11-7-8-9 1-6 7-1 10 9 10-10-17-1-2-3 0-4 5-3 29 0 5 2 6 8 6-7 6-1 3 3 0 3-7 11 5 4 9-9 3-1 4 2 1 5-8 10 9 6-1 8-5 2-10-7-4 3-4 0-1 10 20 1 4 3 0 4-3 3-21 1 1 14 10-1 2-7 3-2 7 1 2 7-4 10-11 2-20-1-3-4 0-19-13 0-10 15-12 7-8 3-6-3 0-6 14-8 7-8-19-1-3-3 0-4 5-3 18-1 0-9-7-4-11 7-3-1zm51 10-1-10-12 1 0 9zm-7-39-16 19 34-1z"/><path id="xi" d="m20 17-3-1-2-3 1-4 3-2 61 0 3 1 2 3-1 4-3 2zm-9 15-4-1-2-4 1-4 4-2 79 0 4 1 2 4-1 4-4 2zm10 14-3-1-2-3 1-4 4-1 58-1 3 2 2 3-1 3-4 2zm0 14-3-1-2-3 1-3 4-2 58 0 3 1 2 3-1 3-4 2zm-6 10 1-3 4-2 62 0 3 5 0 21-4 4-8-1-2-2-42 0-3 3-8 0-3-5zm13 6 1 6 43-1-1-6z"/><path id="yi" d="m25 26-3-6-9 0-4-2 0-5 3-3 31 0 3-7 6-1 4 3 2 5 32 1 2 3-1 5-3 1-10 0-3 6 18 1 2 5-3 4-82 0-5-3 3-6zm39-6-26 0 3 6 19 0zm-44 48-4-1-2-4 0-19 4-4 63-1 3 1 2 4-1 22-3 2-25 1 5 4 2 3-2 4-4 1-12-7 0-6zm8-20 1 2 44-1-1-2zm0 10 1 2 44 0-1-3zm-21 33-2-6 7-10 4-3 4 1 3 5-6 10-4 4zm33 4-9-2-4-3 0-13 3-5 8 1 2 3 0 8 4 1 20-1 5-6 9 0-1-2 0-3 3-2 4-1 4 2 8 13 0 4-3 2-7-1-6-10-3 9-3 4-12 2z"/><path id="zi" d="m26 95-3-1-3-4 0-25-8 15-5 0-3-5 1-5 8-13 5-13-11-1-2-3 0-4 3-3 12-1 0-12-11 0-2-3-1-3 4-4 33-4 3 2 1 5-3 2-11 3 0 14 12 1 3 3 0 4-2 3-10 1 10 16 0 4-2 4-4 1-7-10 0 31-3 4zm53-49 5 1 2 3 12 36-2 6-8 1-5-7-42 5-4-3 1-6 5-3 22-71 3-2 5 1 3 5-19 66 24-3-7-22 1-5z"/><path id="Ai" d="m64 73-3-1-3-4 0-52 3-5 4-1 3 1 2 4 0 53-2 4zm24-67 4 2 1 4-1 77-1 4-5 1-18 0-3-5 2-5 13-2 1-71 2-4zm-81 85-3-7 9-19 2-23-6-1-2-4 0-25 2-4 37-1 4 3 1 3-1 26-4 3-18 0-1 6 22 2 2 4 0 14-2 20-4 6-16 0-3-1-2-4 3-6 10-1 1-22-12 0-4 18-5 10-5 5zm12-72 0 13 20-1 0-13z"/><path id="Bi" d="m71 22-14 6-4 4-1 4 2 7 16 22 1 9-3 8-9 7-13 3-14-3-2-2 0-4 1-3 4-2 15 1 6-5-1-10-13-15-4-9 1-8 8-10-20 0-3-3-1-4 5-5 44 0 4 3 1 4-2 3zm7 21 4 0 3 2 8 17 4 11-2 4-3 1-4 0-2-2-12-26 0-4zm-70 35-2-2-1-4 10-25 3-3 5 0 3 2 1 3-6 18-5 11-4 1z"/><path id="Ci" d="m16 94-4-1-2-4 0-70 5-3 23 0 4-11 5-2 5 0 3 3-2 9 32 1 5 3 0 71-4 3-4 1-4-2-2-4-52 0-3 5zm7-66 1 18 53-1-1-18zm0 30 1 19 53 0-1-20z"/><path id="Di" d="m39 69-8 2 0 8 8 3 5-3 1-9zm0 23-9-1-7-4-4-5-1-10 2-6 5-5 7-2 13-1 1-33 4-2 6 2 2 10 18 1 4 2 0 5-2 2-21 1 1 17 20 13 2 4-1 3-3 2-4 0-14-10-3 10-3 3-4 2z"/><path id="Ei" d="m8 40-4-4 3-5 36 0-1-2-29-1-2-5 0-9 2-4 29-1 3-5 8 0 3 1 2 4 26 0 4 1 1 4 0 11-3 3-28 1-1 2 36 0 3 4-1 4zm49-21 1 3 18-1-1-3zm-15 3 0-4-17 0 0 4zm20 64-2-3 0-4-20 0 0 4-1 2-27 10-6-4 1-5 20-7-11 0-3-5 0-26 3-5 66-1 3 2 2 3 0 27-4 5-8 1 17 6 2 5-3 3-4 1zm-35-35 1 1 45 0-1-2zm0 9 1 2 45-1-1-2zm1 11 44 0 0-3-44 0z"/><path id="Fi" d="m10 18-2-6 6-4 3 0 9 7 1 6-4 4-4-1zm-4 22-2-3 1-4 5-4 14 9 1 7-5 4-3-1zm17 19 4 3 1 3-5 14-7 12-3 2-3-1-4-4 0-4 11-23 3-2zm70 19 3 3 0 5-3 4-4 0-20-21-1 23-3 3-6 0-4-5-1-21-19 21-3 1-4-2-2-4 1-5 20-18-17-1-3-3 1-5 4-2 22 0 2-9 9-2-1-22-4-1-3 14-7 9-12 7-7-2 0-6 8-5 6-6 3-10-6 0 0 8-2 3-4 1-4-1-3-4 0-13 2-4 3-1 55 0 5 2 1 3-1 11-3 2-4 0-4-3-1-5-5 0-1 14 1 3 5 0 6-5 4 0 3 4-1 8-6 3-20 1 1 6 22 0 4 2 0 5-3 3-16 1z"/><path id="Gi" d="m20 100 1-7 4-6 13-6 14 6 5 13-5 13-6 4-8 2-13-6zm61 62 6-14 6-4 7-1 7 1 6 4 6 14-6 13-13 5-13-5zm62-62 5-13 14-6 13 6 4 6 1 7-5 13-13 6-14-6zm-62-62 6-13 13-5 13 5 6 13-6 13-13 6-13-6zm77 133-58-57-59 58-7 2-7-4-2-6 2-7 58-58-59-60-1-8 4-5 7-2 6 3 58 57 59-58 7-2 7 4 2 6-2 6-58 59 59 60 1 7-4 6-7 2z"/><path id="Hi" d="m34 58-8-3-3-8 2-14 8-6 134 0 9 5 3 7-4 40-11 33-16 26-24 19-14 8-34 11-23 3-10-6-2-17 6-6 42-10 28-17 17-27 7-23 2-15z"/><path id="Ii" d="m49 81-7-3-5-7 2-9 7-6 113 0 7 3 3 7-4 25-17 25-13 12-7 1-6-2-5-6-2-9 18-22 5-9zm37 10 11 1 5 9-2 28-6 21-10 14-15 13-9 1-8-5-3-6 0-7 18-21 5-12 3-29 5-6z"/><path id="Ji" d="m28 116-7-2-4-8 0-15 8-7 147 0 7 2 4 8 0 15-8 7z"/><path id="Ki" d="m54 183-8-3-3-8 0-144 4-9 5-2 15 0 8 5 2 50 96 29 7 5 1 8-5 13-8 5-91-27-1 70-6 8z"/><path id="Li" d="m155 19 7 3 4 6 1 48-3 30-3 13-11 23-7 9-19 15-24 11-14 4-22 2-6-5-3-11 0-6 5-5 36-11 16-9 10-11 6-16 4-21 0-60 7-8zm-110 91-7-2-5-8 0-71 7-9 16-1 7 3 4 7 0 71-7 10z"/><path id="Mi" d="m33 54-7-3-4-7 1-12 7-6 146-1 6 4 4 6-1 15-3 14-10 19-13 16-17 14-7 2-7-2-8-9-2-9 22-22 10-19zm49 14 14 1 6 7-1 29-6 29-11 21-18 17-14 7-10-6-6-9 0-7 18-17 7-9 6-17 4-38 4-6z"/><path id="Ni" d="m48 174-7-2-4-6 0-9 4-6 5-2 39-1 0-63-1-2-37-1-6-9 3-11 9-4 94 0 7 2 4 6 0 9-4 6-5 2-34 1 0 64 41 2 7 7-2 13-9 4z"/><path id="Oi" d="m24 115-6-3-5-7 1-12 6-7 70-2-1-26-43 1-8-3-3-5 0-11 5-8 67-5 50-10 8 8 3 9-2 8-5 4-24 6-13 3 0 30 56 1 7 8-1 14-9 7-54 0-8 27-7 13-10 10-12 9-16 6-15 2-7-5-4-14 5-8 18-7 10-7 7-11 4-15z"/><path id="Pi" d="m13 178-4-10 4-8 37-16 27-16-28 0-4 5-6 3-13-1-6-3-3-7 10-55 8-5 49 0 1-2-1-13-61-2-6-8 2-11 8-4 26 0-3-9 2-5 4-3 10-2 12 4 11 15 29-1 8-14 8-4 15 2 5 4 1 5-3 8 23 0 8 7 0 50-9 7-55 0-1 13 63 1 8 5 2 6-2 34-3 16-6 13-6 4-10 1-24 0-5-3-4-6 0-11 6-6 17-2 3-25-37-1-2 1 0 51-7 10-16 0-7-4-3-6 0-27-27 17-31 15-8 0zm105-126 1 13 32 0 1-2-1-13-31 0zm-64 51 30 0 1-2-1-12-30 1-2 12z"/><path id="Qi" d="m110 131-10 1-5 4-2 7 2 7 5 5 10 1 9-2 4-3 2-16zm2 52-21-2-15-8-9-13-3-23 5-15 11-11 18-6 27-1 0-32-47-2-6-6-1-12 4-6 6-2 44-1 1-22 9-7 13 1 6 4 2 5 0 19 23 1 8 8 0 11-5 6-25 2-1 2 0 49 26 26 2 10-8 10-7 2-6-1-10-9-9 13-6 5-16 5zm-75-1-9-2-5-8-6-35-1-50 3-36 5-26 8-7 12 1 6 3 3 6-5 36-2 36 2 36 5 36-5 8z"/><path id="Ri" d="m52 25 101 1 7 6 1 12-5 7-6 3-101-1-7-7-1-11 5-7zm48 158-22-2-19-4-15-7-16-14-4-12 0-16 9-18 14-17 5-3 8 0 13 10-1 8-12 16-3 7 0 9 7 7 12 4 33 2 50-6 9 4 3 15-6 9-35 6z"/><path id="Si" d="m85 53-12 5-15 11-11 16-4 12 0 22 4 16 9 10 4-1 5-5 13-38 8-40zm-28 123-16-4-10-9-10-12-8-23-1-30 6-23 12-20 17-16 11-6 23-9 38-2 30 9 24 20 13 28 3 21-2 20-5 18-8 15-18 17-23 9-6 0-5-4-4-12 0-6 3-5 15-7 14-13 4-9 4-23-3-17-7-14-12-11-16-6-13 63-12 33-16 21-8 5z"/><path id="Ti" d="m142 51-1 2 0 24 43 0 7 6 1 9-2 6-6 5-43 0 0 26 44 1 6 6 1 10-2 6-6 4-43 1-1 26-8 8-16 0-7-9 0-123-19 37-4 3-10 0-9-7-4-7 1-8 29-62 8-7 18 3 3 6 1 8 64 0 8 3 3 5 0 8-7 9zm-128 64-4-15 1-11 21-36 13-37 4-4 7-2 11 2 4 4 2 9-11 36 0 119-4 8-6 3-12 0-8-5-1-76-9 9-6 0z"/><path id="Ui" d="m165 80-2 6-8 5-113-1-7-9 0-57 2-7 8-5 113 1 7 9zm-33-14 0-28-63-1-1 2 0 28 63 1zm-111 124-8-3-3-8 0-68 4-7 7-2 63 0 8 4 2 7 0 66-3 8-7 3-14 0-6-6-22 0-5 6zm21-62 0 32 21 0 2-2 0-32-22 0zm148 51-2 7-8 4-17 0-5-6-22 0-3 5-19 1-6-4-2-6 0-69 3-6 7-3 63 0 8 3 3 8zm-32-21 0-32-21 0-2 2 0 31 22 1z"/><path id="Vi" d="m165 31 7 2 4 8-1 11-6 6-68 1-7-2-4-8 0-11 7-6zm-123 151-6-1-6-4-4-16-4-36 0-50 7-50 9-7 14 1 6 3 2 6-5 36-2 36 2 36 5 36-4 8zm92-6-33-5-12-6-13-14-3-10 1-14 6-16 11-14 5-2 6 0 12 9 0 9-8 13-1 11 9 7 20 3 35-3 9 5 2 13-5 9-16 3z"/><path id="Wi" d="m53 163 2-1-5-14-10-2-6-8 1-35 4-6 5-2 118 1 7 9 0 33-6 8-10 2-6 15 36 0 7 5 3 5-1 9-9 7-164-1-6-4-2-5 0-7 4-6 7-3zm67-14-1-1-36 0 4 14 2 1 23 0zm-53-31 1 10 67 0 1-2-1-10-67 0zm-54-20-3-11 2-7 20-13-15-15-1-10 11-11 5-1 5 2 1-14 6-6 65-1 9 4 10 13 11-12 10-2 8 5 3 9-13 20 8 7 8-10 5-6 8-2 10 5 3 5 0 8-12 15 12 8 4 6-3 14-6 5-9-1-38-26-4 8-8 3-50-1-6-3-3-7-40 27-8 0zm88-59-19 22 39 0-18-22zm-59-3 13 14 2 0 14-14z"/><path id="Xi" d="m18 90-9-5-2-11 5-7 11-3 0-42 7-9 13-1 8 4 2 7 0 41 12 1 6 5 1-48 5-8 98-1 6 4 3 5 0 50-4 8-8 4-89 0-10-6-2 6-4 4-14 3 0 41 28-21-11-1-5-6 0-8 6-6 113 0 8 6-1 10-7 5-74 1-3 5 70 0 9 4 2 7-1 40-4 14-7 7-11 2-22-1-6-6-2-13-21 18-10 0-6-4-2-5 2-7 20-17 15-19-9 0-27 26-25 16-8 0-6-3-3-5 1-6 27-19 10-9-12 0-9 7-10 11-35 13-12 2-5-4-3-11 5-9 11-5 0-49zm122 75 16 1 3-10 0-16zm-38-127 1 6 47 0 2-2-2-6-47 0zm0 22 1 6 47 0 2-1-2-6-47 0z"/><path id="Yi" d="m96 184-21-2-15-5-12-10-8-14-4-21-2-27 2-65 2-18 7-5 14 0 5 1 5 6-2 81 5 35 7 9 12 4 21-3 13-8 13-13 12-22 6-5 8 0 11 4 3 5 1 7-11 21-11 16-13 13-14 8-16 6z"/><path id="Zi" d="m78 158 12-2 5-3 3-9-1-5-16-3-10 1-6 4-3 5 2 7 5 3zm-46-101-6-2-5-6 0-11 6-7 70-1 3-12 8-6 12 0 5 2 4 5 2 11 37 0 6 2 5 6 0 8-2 5-4 4-43 3 0 11 33 1 6 4 2 7 0 8-7 7-34 1 0 27 38 30 2 10-9 10-11 1-22-18-10 16-16 9-31 3-23-7-11-11-4-9-1-17 5-14 10-11 11-4 20-3 20 2 1-13-62-2-8-7 0-12 9-7 59 0 2-12z"/><path id="aj" d="m24 75-6-1-4-5-1-14 7-7 21-1 1-22 7-8 13-1 8 5 2 5 2 21 54-1 2-1 0-23 3-5 7-5 14 2 6 8 0 22 22 2 5 6 0 12-8 7-19 2-1 40-5 13-5 4-10 3-23-2-14-3-5-3-3-7 2-9 2-5 6-4 25 1 1-27-57 1-1 60 5 14 8 4 13 2 62-2 6 5 2 13-4 6-5 3-34 3-44-1-24-8-9-9-5-15-2-74z"/><path id="bj" d="m25 178-6-5 0-9 55-142 8-7 6-1 12 4 5 8-23 61 18-5 15 4 8 9 4 10 9 42 4 3 4-1 6-7 14-29 8-2 13 5 3 5 0 6-7 18-10 20-7 8-13 7-11 1-15-2-14-12-7-16-7-33-4-5-5 0-9 6-10 12-24 47-8 4z"/><linearGradient id="gS" x1="0" y1="0" x2="0" y2="1"><stop offset="0" stop-color="#3a3a3a"/><stop offset="0.55" stop-color="#777"/><stop offset="1" stop-color="#d0d0d0"/></linearGradient>
<linearGradient id="gA" x1="0" y1="0" x2="0" y2="1"><stop offset="0" stop-color="#666"/><stop offset="1" stop-color="#bbb"/></linearGradient>
<linearGradient id="gM" x1="0" y1="0" x2="0" y2="1"><stop offset="0" stop-color="#9a9a9a"/><stop offset="1" stop-color="#d8d8d8"/></linearGradient>
<radialGradient id="gB"><stop offset="0" stop-color="#888" stop-opacity=".9"/><stop offset="1" stop-color="#888" stop-opacity="0"/></radialGradient>
<pattern id="pD" width="3" height="3" patternUnits="userSpaceOnUse"><rect width="3" height="3" fill="#fff"/><circle cx="1.5" cy="1.5" r=".9" fill="#9a9a9a"/></pattern>
</defs>
<rect width="2000" height="1350" fill="#fff"/>
<ellipse cx="255" cy="211" rx="139" ry="76" fill="#f1f1f1"/>
<ellipse cx="232" cy="211" rx="114" ry="62" fill="#fff"/>
<path d="M1460 155C1461.2 150.8 1461 136 1467 130C1473 124 1480.5 121.3 1496 119C1511.5 116.7 1539.7 116.7 1560 116C1580.3 115.3 1599.3 111.2 1618 115C1636.7 118.8 1662.7 124.5 1672 139C1681.3 153.5 1679.3 188.5 1674 202C1668.7 215.5 1660.7 215.3 1640 220C1619.3 224.7 1574 228.8 1550 230C1526 231.2 1509.8 230.5 1496 227C1482.2 223.5 1473 216.8 1467 209C1461 201.2 1461.2 189 1460 180C1458.8 171 1460 159.2 1460 155Z" fill="#ebebeb"/>
<path d="M797 180C792 185.2 777.2 200.7 767 211C756.8 221.3 745.2 234.5 736 242C726.8 249.5 722.5 251 712 256C701.5 261 684.3 264.2 673 272C661.7 279.8 651.3 292 644 303C636.7 314 634.8 321.8 629 338C623.2 354.2 614.7 379.3 609 400C603.3 420.7 599.2 441.3 595 462C590.8 482.7 586.8 499.8 584 524C581.2 548.2 578.3 572.5 578 607C577.7 641.5 578.5 693 582 731C585.5 769 592 807.3 599 835C606 862.7 613.8 882 624 897C634.2 912 647.2 914.5 660 925C672.8 935.5 686.2 950.3 701 960C715.8 969.7 739 974.2 749 983C759 991.8 759 996.2 761 1013C763 1029.8 759.2 1058.8 761 1084C762.8 1109.2 765.5 1145.5 772 1164C778.5 1182.5 782.8 1185.3 800 1195C817.2 1204.7 841.7 1216.2 875 1222C908.3 1227.8 962.5 1231.7 1000 1230C1037.5 1228.3 1071.7 1220 1100 1212C1128.3 1204 1158.3 1187 1170 1182" fill="none" stroke="#c8c8c8" stroke-width="10" stroke-linecap="round" stroke-linejoin="round"/>
<path d="M1046 214C1041.5 213.5 1027.2 213.8 1019 211C1010.8 208.2 1001.2 203.2 997 197C992.8 190.8 992.7 181.7 994 174C995.3 166.3 998 158.3 1005 151C1012 143.7 1021.3 135.7 1036 130C1050.7 124.3 1074 118.7 1093 117C1112 115.3 1131 118.2 1150 120C1169 121.8 1190.3 123.8 1207 128C1223.7 132.2 1240.5 139.2 1250 145C1259.5 150.8 1261.3 157.2 1264 163C1266.7 168.8 1260 174.5 1266 180C1272 185.5 1289.8 191.8 1300 196C1310.2 200.2 1319.2 197.5 1327 205C1334.8 212.5 1342.7 215.8 1347 241C1351.3 266.2 1353 319.7 1353 356C1353 392.3 1347 424.5 1347 459C1347 493.5 1349 532.7 1353 563C1357 593.3 1368.5 619.3 1371 641C1373.5 662.7 1374.5 677.5 1368 693C1361.5 708.5 1343.2 721 1332 734C1320.8 747 1307 751.8 1301 771C1295 790.2 1294.3 827.5 1296 849C1297.7 870.5 1303.7 888.7 1311 900C1318.3 911.3 1325.2 913.3 1340 917C1354.8 920.7 1373.3 921.5 1400 922C1426.7 922.5 1470.8 920.3 1500 920C1529.2 919.7 1554.2 915.8 1575 920C1595.8 924.2 1601.7 932.5 1625 945C1648.3 957.5 1690 981.7 1715 995C1740 1008.3 1756.7 1011.7 1775 1025C1793.3 1038.3 1812.5 1058.3 1825 1075C1837.5 1091.7 1844.2 1104.2 1850 1125C1855.8 1145.8 1861 1172.8 1860 1200C1859 1227.2 1857.3 1264.7 1844 1288C1830.7 1311.3 1802.7 1329.3 1780 1340C1757.3 1350.7 1720 1350 1708 1352" fill="none" stroke="#c8c8c8" stroke-width="9" stroke-linecap="round" stroke-linejoin="round"/>
<path d="M1168 1190C1166.7 1198.3 1160.7 1221.7 1160 1240C1159.3 1258.3 1158.7 1281.3 1164 1300C1169.3 1318.7 1187.3 1343.3 1192 1352" fill="none" stroke="#c8c8c8" stroke-width="9" stroke-linecap="round" stroke-linejoin="round"/>
<path d="M1268 1352C1275.3 1350.8 1301.7 1346.7 1312 1345C1322.3 1343.3 1327 1342.5 1330 1342" fill="none" stroke="#c8c8c8" stroke-width="8" stroke-linecap="round" stroke-linejoin="round"/>
<path d="M1466 15C1463.7 22.5 1453.5 43.3 1452 60C1450.5 76.7 1453.2 100.3 1457 115C1460.8 129.7 1472 142.5 1475 148" fill="none" stroke="#a0a0a0" stroke-width="8" stroke-linecap="round" stroke-linejoin="round"/>
<path d="M1547 232C1555.8 230.8 1583.2 226.7 1600 225C1616.8 223.3 1635 218.8 1648 222C1661 225.2 1672.2 229.3 1678 244C1683.8 258.7 1681.7 280.8 1683 310C1684.3 339.2 1685 382.5 1686 419C1687 455.5 1690 492.5 1689 529C1688 565.5 1685 601.5 1680 638C1675 674.5 1662.2 716 1659 748C1655.8 780 1656.5 808.2 1661 830C1665.5 851.8 1675.5 867.2 1686 879C1696.5 890.8 1705 896.7 1724 901C1743 905.3 1773.7 905.2 1800 905C1826.3 904.8 1868.3 900.8 1882 900" fill="none" stroke="#a0a0a0" stroke-width="8" stroke-linecap="round" stroke-linejoin="round"/>
<path d="M429 773 C455 765 480 740 493 698 C505 655 503 600 493 560 C485 530 470 512 458 503.6" fill="none" stroke="#574a3e" stroke-width="5.5" stroke-linecap="round"/>
<clipPath id="c1"><rect x="344" y="247" width="37" height="35"/></clipPath><g clip-path="url(#c1)"><rect x="344" y="247" width="37" height="35" fill="#f4f4f4"/><path d="M344 262L346 250L360 247L376 250L381 258L381 270L372 262L360 257L350 268Z" fill="#5a5a5a"/><path d="M350 266L360 257L372 262L378 274L372 282L356 282L350 276Z" fill="#fff" stroke="#5a4a3e" stroke-width="0.6" stroke-linejoin="round"/><ellipse cx="357" cy="270" rx="2.5" ry="2" fill="#eee" stroke="#333" stroke-width="0.7"/><ellipse cx="368" cy="269" rx="2.5" ry="2" fill="#eee" stroke="#333" stroke-width="0.7"/><ellipse cx="370" cy="275" rx="3" ry="2" fill="#c8c8c8"/><rect x="376" y="255" width="5" height="27" fill="#888"/></g>
<clipPath id="c2"><rect x="136" y="291" width="124" height="123"/></clipPath><g clip-path="url(#c2)"><path d="M136 291L260 291L260 414L136 414Z" fill="url(#gA)"/><path d="M170 340C174.2 339.3 185.7 338 195 336C204.3 334 219.2 326.5 226 328C232.8 329.5 235 338 236 345C237 352 235.7 362.5 232 370C228.3 377.5 220 386.3 214 390C208 393.7 202.3 394.5 196 392C189.7 389.5 181.2 381.2 176 375C170.8 368.8 166.8 358.3 165 355Z" fill="#fff" stroke="#5a4a3e" stroke-width="0.8" stroke-linejoin="round"/><path d="M176 388L196 394L214 390L232 372L245 414L182 414Z" fill="#333"/><path d="M196 398L214 392L226 414L206 414Z" fill="#f0f0f0"/><ellipse cx="166" cy="306" rx="22" ry="17" fill="#fff" stroke="#5a4a3e" stroke-width="1"/><ellipse cx="252" cy="333" rx="12" ry="15" fill="#fff" stroke="#5a4a3e" stroke-width="1"/><ellipse cx="152" cy="405" rx="16" ry="12" fill="#fff" stroke="#5a4a3e" stroke-width="1"/><path d="M236 394L262 394L262 414L230 414Z" fill="#fff"/><path d="M238 400L246 410" fill="none" stroke="#111" stroke-width="3" stroke-linecap="round"/><path d="M248 398L255 412" fill="none" stroke="#111" stroke-width="3" stroke-linecap="round"/><ellipse cx="181" cy="366" rx="6.3" ry="7" fill="#e8e8e8" stroke="#4a3c33" stroke-width="1.8"/><ellipse cx="181" cy="366.7" rx="3.6" ry="4.2" fill="#8a8078"/><path d="M172.6 359C174 358.6 178.2 356.8 181 356.9C183.8 357 188 359.2 189.4 359.7" fill="none" stroke="#4a3c33" stroke-width="2.8" stroke-linecap="round"/><ellipse cx="216" cy="357" rx="6.3" ry="7" fill="#e8e8e8" stroke="#4a3c33" stroke-width="1.8"/><ellipse cx="216" cy="357.7" rx="3.6" ry="4.2" fill="#8a8078"/><path d="M207.6 350C209 349.6 213.2 347.8 216 347.9C218.8 348 223 350.2 224.4 350.7" fill="none" stroke="#4a3c33" stroke-width="2.8" stroke-linecap="round"/><ellipse cx="180" cy="378" rx="7" ry="4" fill="url(#gB)"/><ellipse cx="220" cy="371" rx="7" ry="4" fill="url(#gB)"/><ellipse cx="160" cy="345" rx="2.5" ry="1.6" fill="#fff"/><ellipse cx="171" cy="337" rx="2.5" ry="1.6" fill="#fff"/><ellipse cx="185" cy="330" rx="2.5" ry="1.6" fill="#fff"/><ellipse cx="200" cy="324" rx="2.5" ry="1.6" fill="#fff"/></g>
<clipPath id="c3"><rect x="269" y="291" width="123" height="123"/></clipPath><g clip-path="url(#c3)"><rect x="269" y="291" width="123" height="123" fill="url(#pD)"/><path d="M272 330C276.7 325.8 290.3 310.3 300 305C309.7 299.7 320.8 297.8 330 298C339.2 298.2 348 300.7 355 306C362 311.3 367 319.3 372 330C377 340.7 381.7 356 385 370C388.3 384 410.3 406.7 392 414C373.7 421.3 295.3 419.7 275 414C254.7 408.3 270.8 385.7 270 380Z" fill="#fff" stroke="#5a4a3e" stroke-width="0.8" stroke-linejoin="round"/><path d="M300 300C303 298.3 314.3 287.3 318 290C321.7 292.7 323 309.7 322 316C321 322.3 313.7 326 312 328Z" fill="#fff" stroke="#5a4a3e" stroke-width="0.8" stroke-linejoin="round"/><ellipse cx="348" cy="332" rx="6" ry="7" fill="#e0e0e0" stroke="#5a4a3e" stroke-width="0.8"/><ellipse cx="340" cy="316" rx="5" ry="6" fill="#d8d8d8" stroke="#5a4a3e" stroke-width="0.8"/><path d="M286 340C289.2 338.3 299.7 329.2 305 330C310.3 330.8 315.8 342.5 318 345" fill="none" stroke="#5a4a3e" stroke-width="0.8" stroke-linecap="round"/><path d="M330 355L360 345" fill="none" stroke="#5a4a3e" stroke-width="0.8" stroke-linecap="round"/><ellipse cx="330" cy="351" rx="5.4" ry="6" fill="#e8e8e8" stroke="#6a5a4e" stroke-width="1.6"/><ellipse cx="330" cy="351.6" rx="3.1" ry="3.6" fill="#8a8078"/><path d="M322.8 345C324 344.7 327.6 343.1 330 343.2C332.4 343.3 336 345.2 337.2 345.6" fill="none" stroke="#6a5a4e" stroke-width="2.4" stroke-linecap="round"/><ellipse cx="366" cy="371" rx="5.4" ry="6" fill="#e8e8e8" stroke="#6a5a4e" stroke-width="1.6"/><ellipse cx="366" cy="371.6" rx="3.1" ry="3.6" fill="#8a8078"/><path d="M358.8 365C360 364.7 363.6 363.1 366 363.2C368.4 363.3 372 365.2 373.2 365.6" fill="none" stroke="#6a5a4e" stroke-width="2.4" stroke-linecap="round"/><ellipse cx="353" cy="380" rx="6" ry="4" fill="#cfcfcf" stroke="#5a4a3e" stroke-width="0.8"/><path d="M275 395L300 372L325 385L345 400L360 414L272 414Z" fill="#ececec" stroke="#5a4a3e" stroke-width="0.8" stroke-linejoin="round"/><path d="M285 390L310 376" fill="none" stroke="#999" stroke-width="1.2" stroke-linecap="round"/><path d="M290 400L318 384" fill="none" stroke="#999" stroke-width="1.2" stroke-linecap="round"/><path d="M375 320L388 400" fill="none" stroke="#5a4a3e" stroke-width="0.8" stroke-linecap="round"/><path d="M380 330L392 390" fill="none" stroke="#5a4a3e" stroke-width="0.8" stroke-linecap="round"/></g>
<clipPath id="c4"><rect x="134" y="740" width="122" height="124"/></clipPath><g clip-path="url(#c4)"><rect x="134" y="740" width="122" height="124" fill="#fff"/><path d="M150 760C149.2 770 143.3 803.3 145 820C146.7 836.7 157.5 853.3 160 860" fill="none" stroke="#5a4a3e" stroke-width="0.8" stroke-linecap="round"/><path d="M178 760C179.2 766.7 186 786.7 185 800C184 813.3 174.2 833.3 172 840" fill="none" stroke="#5a4a3e" stroke-width="0.8" stroke-linecap="round"/><path d="M215 770L210 820" fill="none" stroke="#5a4a3e" stroke-width="0.8" stroke-linecap="round"/><path d="M236 760C237 770 243 802.7 242 820C241 837.3 232 856.7 230 864" fill="none" stroke="#5a4a3e" stroke-width="0.8" stroke-linecap="round"/><path d="M196 760C196.7 765 200 778.3 200 790C200 801.7 196.7 823.3 196 830" fill="none" stroke="#5a4a3e" stroke-width="0.8" stroke-linecap="round"/><path d="M165 840L192 858L208 854L240 832L236 864L168 864Z" fill="#c8c8c8"/><path d="M165 826C169.2 830.3 182.8 847.3 190 852C197.2 856.7 199.7 857.7 208 854C216.3 850.3 234.7 834 240 830" fill="none" stroke="#5a4a3e" stroke-width="0.9" stroke-linecap="round"/><ellipse cx="178" cy="815" rx="5.9" ry="6.5" fill="#e8e8e8" stroke="#6a5a4e" stroke-width="1.7"/><ellipse cx="178" cy="815.6" rx="3.4" ry="3.9" fill="#8a8078"/><path d="M170.2 808.5C171.5 808.2 175.4 806.4 178 806.5C180.6 806.7 184.5 808.7 185.8 809.1" fill="none" stroke="#6a5a4e" stroke-width="2.6" stroke-linecap="round"/><ellipse cx="223" cy="808" rx="5.9" ry="6.5" fill="#e8e8e8" stroke="#6a5a4e" stroke-width="1.7"/><ellipse cx="223" cy="808.6" rx="3.4" ry="3.9" fill="#8a8078"/><path d="M215.2 801.5C216.5 801.2 220.4 799.4 223 799.5C225.6 799.7 229.5 801.7 230.8 802.1" fill="none" stroke="#6a5a4e" stroke-width="2.6" stroke-linecap="round"/><ellipse cx="178" cy="829" rx="8" ry="5" fill="url(#gB)"/><ellipse cx="226" cy="822" rx="8" ry="5" fill="url(#gB)"/><ellipse cx="203" cy="840" rx="4" ry="2.2" fill="#c0c0c0" stroke="#5a4a3e" stroke-width="0.6"/><path d="M138 800L140 860" fill="none" stroke="#222" stroke-width="1.5" stroke-linecap="round"/></g>
<clipPath id="c5"><rect x="267" y="740" width="124" height="124"/></clipPath><g clip-path="url(#c5)"><rect x="267" y="740" width="124" height="124" fill="#f5f5f5"/><path d="M267 740L290 740L283 770L267 790Z" fill="#555"/><path d="M370 740L391 740L391 780Z" fill="#555"/><path d="M267 800L283 772L300 800L285 864L267 864Z" fill="#bdbdbd"/><path d="M267 818L300 812L330 840L360 812L391 818L391 864L267 864Z" fill="#4e4e4e"/><path d="M315 826L330 840L345 826L372 832L368 850L345 852L330 844L315 852L290 852L288 832Z" fill="#fff" stroke="#5a4a3e" stroke-width="0.8" stroke-linejoin="round"/><path d="M322 844L338 844L345 864L315 864Z" fill="#4e4e4e"/><path d="M305 745C304.2 752.5 299.2 778.8 300 790C300.8 801.2 308.3 808.3 310 812" fill="none" stroke="#5a4a3e" stroke-width="0.8" stroke-linecap="round"/><path d="M350 745C351 752.5 356.3 778.8 356 790C355.7 801.2 349.3 808.3 348 812" fill="none" stroke="#5a4a3e" stroke-width="0.8" stroke-linecap="round"/><path d="M310 795C313.3 796.8 323.3 806 330 806C336.7 806 346.7 796.8 350 795" fill="none" stroke="#5a4a3e" stroke-width="0.9" stroke-linecap="round"/><ellipse cx="310" cy="769" rx="5" ry="5.5" fill="#e8e8e8" stroke="#6a5a4e" stroke-width="1.4"/><ellipse cx="310" cy="769.5" rx="2.9" ry="3.3" fill="#8a8078"/><path d="M303.4 763.5C304.5 763.2 307.8 761.8 310 761.9C312.2 761.9 315.5 763.7 316.6 764" fill="none" stroke="#6a5a4e" stroke-width="2.2" stroke-linecap="round"/><ellipse cx="341" cy="768" rx="5" ry="5.5" fill="#e8e8e8" stroke="#6a5a4e" stroke-width="1.4"/><ellipse cx="341" cy="768.5" rx="2.9" ry="3.3" fill="#8a8078"/><path d="M334.4 762.5C335.5 762.2 338.8 760.8 341 760.9C343.2 760.9 346.5 762.7 347.6 763" fill="none" stroke="#6a5a4e" stroke-width="2.2" stroke-linecap="round"/><ellipse cx="308" cy="783" rx="7" ry="5" fill="url(#gB)"/><ellipse cx="345" cy="782" rx="7" ry="5" fill="url(#gB)"/><ellipse cx="327" cy="789" rx="4" ry="2" fill="#bbb" stroke="#5a4a3e" stroke-width="0.6"/><ellipse cx="385" cy="775" rx="14" ry="37" fill="#fff" stroke="#111" stroke-width="1.5"/></g>
<clipPath id="c6"><rect x="652" y="346" width="164" height="166"/></clipPath><g clip-path="url(#c6)"><rect x="652" y="346" width="164" height="166" fill="#fff"/><rect x="795" y="346" width="21" height="166" fill="#d6d6d6"/><path d="M653 347L688 347L702 353L690 364L672 372L660 378L676 384Z" fill="#454545" stroke="#5a4a3e" stroke-width="0.8" stroke-linejoin="round"/><path d="M789 365L816 347L816 408L800 405Z" fill="#454545" stroke="#5a4a3e" stroke-width="0.8" stroke-linejoin="round"/><path d="M676 390C678.3 386 683.2 373.2 690 366C696.8 358.8 706.3 350.2 717 347C727.7 343.8 742.8 344.5 754 347C765.2 349.5 776.5 354.3 784 362C791.5 369.7 796 377 799 393C802 409 802.7 441.8 802 458C801.3 474.2 799.2 482.2 795 490C790.8 497.8 782.8 501.3 777 505C771.2 508.7 772.8 510.8 760 512C747.2 513.2 713 512 700 512C687 512 688.7 512 682 512C675.3 512 664.3 519 660 512C655.7 505 655.7 483.7 656 470C656.3 456.3 661 436.7 662 430Z" fill="url(#gS)" stroke="#5a4a3e" stroke-width="0.8" stroke-linejoin="round"/><path d="M695 417C698.3 417.5 708.2 417.7 715 420C721.8 422.3 729.5 428.5 736 431C742.5 433.5 747.2 432.3 754 435C760.8 437.7 774 440.8 777 447C780 453.2 777.5 466 772 472C766.5 478 751.2 481 744 483C736.8 485 736 487 729 484C722 481 708 470.8 702 465C696 459.2 694.5 451.7 693 449Z" fill="#fff" stroke="#5a4a3e" stroke-width="0.8" stroke-linejoin="round"/><path d="M682 513L702 490L725 500L747 490L769 513Z" fill="#6a6a6a" stroke="#5a4a3e" stroke-width="0.8" stroke-linejoin="round"/><ellipse cx="716" cy="433" rx="7.6" ry="8.5" fill="#e8e8e8" stroke="#4a3c33" stroke-width="2.2"/><ellipse cx="716" cy="433.9" rx="4.4" ry="5.1" fill="#8a8078"/><path d="M705.8 424.5C707.5 424.1 712.6 421.8 716 421.9C719.4 422.1 724.5 424.8 726.2 425.4" fill="none" stroke="#4a3c33" stroke-width="3.4" stroke-linecap="round"/><ellipse cx="762" cy="451" rx="7.2" ry="8" fill="#e8e8e8" stroke="#4a3c33" stroke-width="2.1"/><ellipse cx="762" cy="451.8" rx="4.2" ry="4.8" fill="#8a8078"/><path d="M752.4 443C754 442.6 758.8 440.5 762 440.6C765.2 440.7 770 443.3 771.6 443.8" fill="none" stroke="#4a3c33" stroke-width="3.2" stroke-linecap="round"/><ellipse cx="705" cy="452" rx="10" ry="7" fill="url(#gB)"/><ellipse cx="765" cy="468" rx="10" ry="7" fill="url(#gB)"/><path d="M730 465L745 467" fill="none" stroke="#5a4a3e" stroke-width="0.8" stroke-linecap="round"/><ellipse cx="677" cy="398" rx="2" ry="3" fill="#fff"/><ellipse cx="712" cy="395" rx="2" ry="3" fill="#fff"/><ellipse cx="742" cy="400" rx="2" ry="3" fill="#fff"/><ellipse cx="773" cy="404" rx="2" ry="3" fill="#fff"/></g>
<clipPath id="c7"><rect x="1189" y="214" width="102" height="102"/></clipPath><g clip-path="url(#c7)"><rect x="1189" y="214" width="102" height="102" fill="#a9a9a9"/><path d="M1205 230C1207.2 228.3 1211.2 222.3 1218 220C1224.8 217.7 1237.5 214.7 1246 216C1254.5 217.3 1263 222 1269 228C1275 234 1278.5 237.3 1282 252C1285.5 266.7 1305.2 305.3 1290 316C1274.8 326.7 1206.5 325 1191 316C1175.5 307 1196 271 1197 262Z" fill="#fafafa" stroke="#5a4a3e" stroke-width="0.8" stroke-linejoin="round"/><path d="M1193 262 L1212 290 L1230 316 L1191 316Z" fill="url(#gM)" opacity=".8"/><path d="M1289 262 L1270 300 L1262 316 L1290 316Z" fill="url(#gM)" opacity=".6"/><path d="M1215 235C1216.2 244.2 1219.5 276.5 1222 290C1224.5 303.5 1228.7 311.7 1230 316" fill="none" stroke="#5a4a3e" stroke-width="0.7" stroke-linecap="round"/><path d="M1250 225C1252 232.5 1259 254.8 1262 270C1265 285.2 1267 308.3 1268 316" fill="none" stroke="#5a4a3e" stroke-width="0.7" stroke-linecap="round"/><path d="M1220 275C1223.3 277.5 1233 289.2 1240 290C1247 290.8 1258.3 281.7 1262 280" fill="none" stroke="#5a4a3e" stroke-width="0.8" stroke-linecap="round"/><path d="M1230 295C1233 296.7 1242.7 304.2 1248 305C1253.3 305.8 1259.7 300.8 1262 300" fill="none" stroke="#5a4a3e" stroke-width="0.8" stroke-linecap="round"/><path d="M1215 268L1230 272" fill="none" stroke="#5a4a3e" stroke-width="1.4" stroke-linecap="round"/><path d="M1252 262L1266 266" fill="none" stroke="#5a4a3e" stroke-width="1.4" stroke-linecap="round"/><ellipse cx="1250" cy="317" rx="4" ry="3" fill="#333"/></g>
<clipPath id="c8"><rect x="1191" y="355" width="99" height="97"/></clipPath><g clip-path="url(#c8)"><rect x="1191" y="355" width="99" height="97" fill="#fff"/><path d="M1191 355L1200 355L1191 380Z" fill="#555"/><path d="M1280 355L1290 355L1290 392Z" fill="#555"/><path d="M1200 360C1199.2 370 1193.3 405 1195 420C1196.7 435 1207.5 445 1210 450" fill="none" stroke="#5a4a3e" stroke-width="0.7" stroke-linecap="round"/><path d="M1240 356C1244.2 363.3 1258.3 386 1265 400C1271.7 414 1277.5 433.3 1280 440" fill="none" stroke="#5a4a3e" stroke-width="0.7" stroke-linecap="round"/><path d="M1220 380C1224.2 382 1237.5 390.7 1245 392C1252.5 393.3 1261.7 388.7 1265 388" fill="none" stroke="#5a4a3e" stroke-width="0.7" stroke-linecap="round"/><ellipse cx="1221" cy="407" rx="5.4" ry="6" fill="#e8e8e8" stroke="#6a5a4e" stroke-width="1.6"/><ellipse cx="1221" cy="407.6" rx="3.1" ry="3.6" fill="#8a8078"/><path d="M1213.8 401C1215 400.7 1218.6 399.1 1221 399.2C1223.4 399.3 1227 401.2 1228.2 401.6" fill="none" stroke="#6a5a4e" stroke-width="2.4" stroke-linecap="round"/><ellipse cx="1259" cy="401" rx="5.4" ry="6" fill="#e8e8e8" stroke="#6a5a4e" stroke-width="1.6"/><ellipse cx="1259" cy="401.6" rx="3.1" ry="3.6" fill="#8a8078"/><path d="M1251.8 395C1253 394.7 1256.6 393.1 1259 393.2C1261.4 393.3 1265 395.2 1266.2 395.6" fill="none" stroke="#6a5a4e" stroke-width="2.4" stroke-linecap="round"/><ellipse cx="1222" cy="420" rx="9" ry="5" fill="url(#gB)"/><ellipse cx="1264" cy="414" rx="9" ry="5" fill="url(#gB)"/><ellipse cx="1243" cy="430" rx="5" ry="3" fill="#ccc" stroke="#5a4a3e" stroke-width="0.6"/><path d="M1238 447L1250 440L1262 452L1236 452Z" fill="#444"/></g>
<clipPath id="c9"><rect x="1186" y="561" width="98" height="103"/></clipPath><g clip-path="url(#c9)"><rect x="1186" y="561" width="98" height="103" fill="#fff"/><path d="M1188 640C1188.7 633.3 1189.2 609.3 1192 600C1194.8 590.7 1201.2 585.7 1205 584C1208.8 582.3 1213.8 584 1215 590C1216.2 596 1213.7 607.7 1212 620C1210.3 632.3 1209 656.7 1205 664C1201 671.3 1190.8 664 1188 664Z" fill="#5c5c5c" stroke="#5a4a3e" stroke-width="0.6" stroke-linejoin="round"/><path d="M1262 600C1264.3 598.7 1272.3 590.3 1276 592C1279.7 593.7 1282.7 598.7 1284 610C1285.3 621.3 1286.3 651 1284 660C1281.7 669 1273.7 667.3 1270 664C1266.3 660.7 1263.3 644 1262 640Z" fill="#5c5c5c" stroke="#5a4a3e" stroke-width="0.6" stroke-linejoin="round"/><path d="M1212 600C1213.7 596.7 1217.3 584.5 1222 580C1226.7 575.5 1233.3 573.3 1240 573C1246.7 572.7 1256.7 574.2 1262 578C1267.3 581.8 1270.7 588.2 1272 596C1273.3 603.8 1271.7 616 1270 625C1268.3 634 1264.7 650 1262 650C1259.3 650 1258 631.3 1254 625C1250 618.7 1243.3 613.7 1238 612C1232.7 610.3 1225.8 610.3 1222 615C1218.2 619.7 1216.2 635.8 1215 640Z" fill="#555" stroke="#5a4a3e" stroke-width="0.7" stroke-linejoin="round"/><path d="M1222 572L1224 558L1238 575Z" fill="#555"/><path d="M1258 580L1280 570L1272 596Z" fill="#555"/><path d="M1223 608C1225.8 607.3 1234.5 603.3 1240 604C1245.5 604.7 1253.7 607.3 1256 612C1258.3 616.7 1256.7 627 1254 632C1251.3 637 1244.7 641.7 1240 642C1235.3 642.3 1228.3 635.3 1226 634Z" fill="#fff" stroke="#5a4a3e" stroke-width="0.6" stroke-linejoin="round"/><path d="M1230 622L1240 620" fill="none" stroke="#5a4a3e" stroke-width="1.2" stroke-linecap="round"/><ellipse cx="1249" cy="624" rx="3.1" ry="3.5" fill="#e8e8e8" stroke="#555" stroke-width="0.9"/><ellipse cx="1249" cy="624.4" rx="1.8" ry="2.1" fill="#8a8078"/><path d="M1244.8 620.5C1245.5 620.3 1247.6 619.4 1249 619.5C1250.4 619.5 1252.5 620.6 1253.2 620.9" fill="none" stroke="#555" stroke-width="1.4" stroke-linecap="round"/><path d="M1200 664C1201.7 661.3 1205.8 651.7 1210 648C1214.2 644.3 1217.5 642.5 1225 642C1232.5 641.5 1248.3 641.3 1255 645C1261.7 648.7 1263.3 660.8 1265 664Z" fill="#fafafa" stroke="#5a4a3e" stroke-width="0.6" stroke-linejoin="round"/><path d="M1212 656L1258 656L1262 664L1208 664Z" fill="#3a3a3a"/></g>
<clipPath id="c10"><rect x="1187" y="777" width="100" height="99"/></clipPath><g clip-path="url(#c10)"><rect x="1187" y="777" width="100" height="99" fill="#a3a3a3"/><path d="M1190 840C1192.5 837.7 1198.7 827.3 1205 826C1211.3 824.7 1221.3 828 1228 832C1234.7 836 1239.3 850 1245 850C1250.7 850 1255 836 1262 832C1269 828 1282.8 818.7 1287 826C1291.2 833.3 1303.7 867.7 1287 876C1270.3 884.3 1203.7 876 1187 876Z" fill="#d0d0d0" stroke="#5a4a3e" stroke-width="0.7" stroke-linejoin="round"/><path d="M1192 790C1198.3 788.7 1215.3 781.7 1230 782C1244.7 782.3 1271.7 790.3 1280 792" fill="none" stroke="#5a4a3e" stroke-width="0.7" stroke-linecap="round"/><path d="M1205 777L1200 800" fill="none" stroke="#5a4a3e" stroke-width="0.7" stroke-linecap="round"/><path d="M1268 777L1275 805" fill="none" stroke="#5a4a3e" stroke-width="0.7" stroke-linecap="round"/><path d="M1190 822C1191.7 820.5 1195.8 814.8 1200 813C1204.2 811.2 1210.3 810.2 1215 811C1219.7 811.8 1226.8 815 1228 818C1229.2 821 1225.8 827 1222 829C1218.2 831 1207.8 829.8 1205 830Z" fill="#e8e8e8" stroke="#4a3c33" stroke-width="2.4" stroke-linejoin="round"/><path d="M1245 820C1246.7 818.7 1250.5 813.7 1255 812C1259.5 810.3 1267 809.7 1272 810C1277 810.3 1284.5 811.2 1285 814C1285.5 816.8 1279.5 824.7 1275 827C1270.5 829.3 1260.8 827.8 1258 828Z" fill="#e8e8e8" stroke="#4a3c33" stroke-width="2.4" stroke-linejoin="round"/><ellipse cx="1210" cy="821" rx="5" ry="5" fill="#4a3c33"/><ellipse cx="1264" cy="819" rx="5" ry="5" fill="#4a3c33"/><path d="M1222 846C1225 845.3 1235 841.7 1240 842C1245 842.3 1250.7 844.7 1252 848C1253.3 851.3 1250.8 859 1248 862C1245.2 865 1239 866.7 1235 866C1231 865.3 1225.8 859.3 1224 858Z" fill="#c0c0c0" stroke="#5a4a3e" stroke-width="0.8" stroke-linejoin="round"/><ellipse cx="1206" cy="838" rx="9" ry="5" fill="url(#gB)"/><ellipse cx="1268" cy="836" rx="9" ry="5" fill="url(#gB)"/><path d="M1228 798L1236 812L1224 814Z" fill="#f4f4f4"/><path d="M1260 796L1265 810L1256 812Z" fill="#f4f4f4"/></g>
<clipPath id="c11"><rect x="1716" y="343" width="109" height="107"/></clipPath><g clip-path="url(#c11)"><rect x="1716" y="343" width="109" height="107" fill="#fff"/><path d="M1722 400C1723.3 393.3 1723.7 369.2 1730 360C1736.3 350.8 1749.2 346.7 1760 345C1770.8 343.3 1785.8 344.2 1795 350C1804.2 355.8 1810.5 363.3 1815 380C1819.5 396.7 1837.5 438.3 1822 450C1806.5 461.7 1738.7 450 1722 450Z" fill="#dcdcdc" stroke="#5a4a3e" stroke-width="0.6" stroke-linejoin="round"/><path d="M1742 380C1746.7 378.7 1760.3 371.2 1770 372C1779.7 372.8 1794.2 377 1800 385C1805.8 393 1806.7 410 1805 420C1803.3 430 1797.5 440.3 1790 445C1782.5 449.7 1767.5 450.5 1760 448C1752.5 445.5 1747.5 433 1745 430Z" fill="#f6f6f6"/><ellipse cx="1758" cy="400" rx="4" ry="4.5" fill="#e8e8e8" stroke="#555" stroke-width="1.2"/><ellipse cx="1758" cy="400.4" rx="2.3" ry="2.7" fill="#8a8078"/><path d="M1752.6 395.5C1753.5 395.3 1756.2 394.1 1758 394.1C1759.8 394.2 1762.5 395.6 1763.4 395.9" fill="none" stroke="#555" stroke-width="1.8" stroke-linecap="round"/><ellipse cx="1788" cy="398" rx="4" ry="4.5" fill="#e8e8e8" stroke="#555" stroke-width="1.2"/><ellipse cx="1788" cy="398.4" rx="2.3" ry="2.7" fill="#8a8078"/><path d="M1782.6 393.5C1783.5 393.3 1786.2 392.1 1788 392.1C1789.8 392.2 1792.5 393.6 1793.4 393.9" fill="none" stroke="#555" stroke-width="1.8" stroke-linecap="round"/><ellipse cx="1760" cy="410" rx="6" ry="3" fill="url(#gB)"/><ellipse cx="1793" cy="408" rx="6" ry="3" fill="url(#gB)"/><path d="M1770 425C1772.5 423.3 1780 412.5 1785 415C1790 417.5 1799.2 434.2 1800 440C1800.8 445.8 1794.7 448.3 1790 450C1785.3 451.7 1775 450 1772 450Z" fill="#fff" stroke="#5a4a3e" stroke-width="0.6" stroke-linejoin="round"/><path d="M1730 375L1735 440" fill="none" stroke="#5a4a3e" stroke-width="0.6" stroke-linecap="round"/><path d="M1812 380L1818 440" fill="none" stroke="#5a4a3e" stroke-width="0.6" stroke-linecap="round"/></g>
<clipPath id="c12"><rect x="1721" y="633" width="107" height="106"/></clipPath><g clip-path="url(#c12)"><rect x="1721" y="633" width="107" height="106" fill="#fafafa"/><path d="M1730 640L1726 700" fill="none" stroke="#5a4a3e" stroke-width="0.7" stroke-linecap="round"/><path d="M1806 633C1807.5 644.2 1814.3 682.5 1815 700C1815.7 717.5 1810.8 731.7 1810 738" fill="none" stroke="#5a4a3e" stroke-width="0.8" stroke-linecap="round"/><path d="M1760 633L1752 665" fill="none" stroke="#5a4a3e" stroke-width="0.7" stroke-linecap="round"/><path d="M1785 633L1790 660" fill="none" stroke="#5a4a3e" stroke-width="0.7" stroke-linecap="round"/><ellipse cx="1762" cy="700" rx="34" ry="18" fill="url(#gB)"/><ellipse cx="1762" cy="705" rx="22" ry="10" fill="#c8c8c8" stroke="none" stroke-width="0" opacity=".7"/><ellipse cx="1740" cy="684" rx="12" ry="11" fill="#fff" stroke="#111" stroke-width="1.6"/><ellipse cx="1788" cy="682" rx="13" ry="11" fill="#fff" stroke="#111" stroke-width="1.6"/><path d="M1724 676C1726.3 674.7 1733 668.3 1738 668C1743 667.7 1751.3 673 1754 674" fill="none" stroke="#111" stroke-width="3" stroke-linecap="round"/><path d="M1770 672C1773.3 671 1783.7 665.3 1790 666C1796.3 666.7 1805 674.3 1808 676" fill="none" stroke="#111" stroke-width="3" stroke-linecap="round"/><ellipse cx="1742" cy="687" rx="4" ry="4" fill="none" stroke="#333" stroke-width="1.2"/><ellipse cx="1790" cy="685" rx="4" ry="4" fill="none" stroke="#333" stroke-width="1.2"/><path d="M1782 722L1828 712L1828 739L1778 739Z" fill="#555"/><path d="M1745 715C1747.8 717.8 1754.5 731.5 1762 732C1769.5 732.5 1785.3 720.3 1790 718" fill="none" stroke="#5a4a3e" stroke-width="0.8" stroke-linecap="round"/></g>
<clipPath id="c13"><rect x="1371" y="1025" width="111" height="113"/></clipPath><g clip-path="url(#c13)"><rect x="1371" y="1025" width="111" height="113" fill="#fff"/><path d="M1378 1070C1379.2 1065.8 1380.5 1051.7 1385 1045C1389.5 1038.3 1397.5 1033 1405 1030C1412.5 1027 1421.2 1026.7 1430 1027C1438.8 1027.3 1450.7 1028.2 1458 1032C1465.3 1035.8 1470.3 1042 1474 1050C1477.7 1058 1478.7 1065.3 1480 1080C1481.3 1094.7 1484 1128.3 1482 1138C1480 1147.7 1471.3 1146 1468 1138C1464.7 1130 1465.3 1099.7 1462 1090C1458.7 1080.3 1452.2 1081.2 1448 1080C1443.8 1078.8 1447.7 1082.5 1437 1083C1426.3 1083.5 1393.8 1073.8 1384 1083C1374.2 1092.2 1380.2 1128.8 1378 1138C1375.8 1147.2 1372.2 1138 1371 1138Z" fill="#a8a8a8" stroke="#5a4a3e" stroke-width="0.7" stroke-linejoin="round"/><path d="M1395 1040L1396 1075" fill="none" stroke="#888" stroke-width="0.6" stroke-linecap="round"/><path d="M1410 1040L1411 1075" fill="none" stroke="#888" stroke-width="0.6" stroke-linecap="round"/><path d="M1425 1040L1426 1075" fill="none" stroke="#888" stroke-width="0.6" stroke-linecap="round"/><path d="M1440 1040L1441 1075" fill="none" stroke="#888" stroke-width="0.6" stroke-linecap="round"/><path d="M1455 1040L1456 1075" fill="none" stroke="#888" stroke-width="0.6" stroke-linecap="round"/><path d="M1468 1040L1469 1075" fill="none" stroke="#888" stroke-width="0.6" stroke-linecap="round"/><ellipse cx="1392" cy="1058" rx="1.5" ry="4" fill="#fff"/><ellipse cx="1415" cy="1060" rx="1.5" ry="4" fill="#fff"/><ellipse cx="1440" cy="1058" rx="1.5" ry="4" fill="#fff"/><ellipse cx="1462" cy="1062" rx="1.5" ry="4" fill="#fff"/><path d="M1384 1083L1437 1083L1437 1138L1384 1138Z" fill="#fff" stroke="#5a4a3e" stroke-width="0.8" stroke-linejoin="round"/><ellipse cx="1448" cy="1093" rx="7" ry="5" fill="#eee" stroke="#5a4a3e" stroke-width="1"/><ellipse cx="1447" cy="1108" rx="8" ry="9" fill="url(#gB)"/><path d="M1373 1045C1374.2 1042.5 1376.8 1032 1380 1030C1383.2 1028 1389 1030.5 1392 1033C1395 1035.5 1397 1043 1398 1045" fill="none" stroke="#5a4a3e" stroke-width="0.8" stroke-linecap="round"/><path d="M1458 1035C1460 1033.7 1466.3 1027.5 1470 1027C1473.7 1026.5 1478 1028.5 1480 1032C1482 1035.5 1481.7 1045.3 1482 1048" fill="none" stroke="#5a4a3e" stroke-width="0.8" stroke-linecap="round"/><path d="M1390 1118C1392.5 1117 1400.3 1110.7 1405 1112C1409.7 1113.3 1416.8 1121.7 1418 1126C1419.2 1130.3 1416.3 1136 1412 1138C1407.7 1140 1395.3 1138 1392 1138Z" fill="#fff" stroke="#5a4a3e" stroke-width="0.7" stroke-linejoin="round"/><path d="M1440 1115C1442.5 1114.2 1450.3 1107.8 1455 1110C1459.7 1112.2 1466.8 1123.3 1468 1128C1469.2 1132.7 1466.7 1136.3 1462 1138C1457.3 1139.7 1443.7 1138 1440 1138Z" fill="#fff" stroke="#5a4a3e" stroke-width="0.7" stroke-linejoin="round"/></g>
<clipPath id="c14"><rect x="1201" y="1181" width="123" height="123"/></clipPath><g clip-path="url(#c14)"><rect x="1201" y="1181" width="123" height="123" fill="#8a8a8a"/><path d="M1201 1181L1290 1181L1300 1230L1310 1304L1201 1304Z" fill="#6a6a6a"/><path d="M1215 1190L1230 1240" fill="none" stroke="#999" stroke-width="0.8" stroke-linecap="round"/><path d="M1250 1185L1262 1240" fill="none" stroke="#999" stroke-width="0.8" stroke-linecap="round"/><path d="M1280 1190L1285 1240" fill="none" stroke="#999" stroke-width="0.8" stroke-linecap="round"/><path d="M1222 1232C1225 1231 1232 1226.3 1240 1226C1248 1225.7 1263 1225.2 1270 1230C1277 1234.8 1282.3 1245.8 1282 1255C1281.7 1264.2 1275 1278.8 1268 1285C1261 1291.2 1247.7 1292.8 1240 1292C1232.3 1291.2 1226.3 1286.2 1222 1280C1217.7 1273.8 1215.3 1259.2 1214 1255Z" fill="#c9c9c9" stroke="#5a4a3e" stroke-width="0.6" stroke-linejoin="round"/><ellipse cx="1236" cy="1246" rx="7" ry="5" fill="#e6e6e6" stroke="#222" stroke-width="1.3"/><ellipse cx="1266" cy="1245" rx="7" ry="5" fill="#e6e6e6" stroke="#222" stroke-width="1.3"/><ellipse cx="1252" cy="1268" rx="5" ry="3" fill="#fff" stroke="#333" stroke-width="0.8"/><ellipse cx="1237" cy="1260" rx="7" ry="4" fill="url(#gB)"/><ellipse cx="1268" cy="1258" rx="7" ry="4" fill="url(#gB)"/><ellipse cx="1303" cy="1212" rx="25" ry="35" fill="#fff" stroke="#222" stroke-width="1.2"/><path d="M1297 1195L1297 1225" fill="none" stroke="#555" stroke-width="1.5" stroke-linecap="round"/><path d="M1307 1193L1307 1230" fill="none" stroke="#555" stroke-width="1.5" stroke-linecap="round"/><path d="M1317 1197L1317 1222" fill="none" stroke="#555" stroke-width="1.5" stroke-linecap="round"/><path d="M1293 1262L1324 1262L1324 1304L1293 1304Z" fill="#fff" stroke="#333" stroke-width="1" stroke-linejoin="round"/><path d="M1310 1268L1310 1300" fill="none" stroke="#666" stroke-width="1.5" stroke-linecap="round"/><path d="M1318 1270L1318 1298" fill="none" stroke="#888" stroke-width="1" stroke-linecap="round"/><path d="M1215 1285L1240 1290L1270 1286L1293 1290L1293 1304L1212 1304Z" fill="#555"/><path d="M1201 1181L1214 1181L1201 1200Z" fill="#222"/></g>
<clipPath id="c15"><rect x="1374" y="1215" width="105" height="103"/></clipPath><g clip-path="url(#c15)"><rect x="1374" y="1215" width="105" height="103" fill="#fff"/><path d="M1374 1215L1395 1215L1386 1228L1374 1240Z" fill="#dcdcdc"/><path d="M1460 1215L1479 1215L1479 1240L1470 1228Z" fill="#dcdcdc"/><path d="M1382 1232C1385 1230 1392 1222.8 1400 1220C1408 1217.2 1420 1215 1430 1215C1440 1215 1452.3 1217.2 1460 1220C1467.7 1222.8 1474.3 1225.7 1476 1232C1477.7 1238.3 1477.7 1254.7 1470 1258C1462.3 1261.3 1443 1252 1430 1252C1417 1252 1398.3 1257 1392 1258Z" fill="#fff" stroke="#5a4a3e" stroke-width="0.8" stroke-linejoin="round"/><path d="M1374 1236L1384 1232L1392 1258L1374 1262Z" fill="#a6a6a6"/><path d="M1470 1232L1479 1228L1479 1260L1468 1258Z" fill="#a6a6a6"/><path d="M1410 1232L1440 1228" fill="none" stroke="#777" stroke-width="3" stroke-linecap="round"/><path d="M1426 1220L1428 1247" fill="none" stroke="#777" stroke-width="3" stroke-linecap="round"/><ellipse cx="1427" cy="1233" rx="6" ry="5" fill="#888"/><path d="M1392 1258L1384 1318" fill="none" stroke="#5a4a3e" stroke-width="0.8" stroke-linecap="round"/><path d="M1468 1258L1474 1318" fill="none" stroke="#5a4a3e" stroke-width="0.8" stroke-linecap="round"/><path d="M1392 1258C1398.3 1257 1417.3 1252 1430 1252C1442.7 1252 1461.7 1257 1468 1258" fill="none" stroke="#5a4a3e" stroke-width="0.8" stroke-linecap="round"/><path d="M1374 1305L1400 1302L1408 1318L1374 1318Z" fill="#c6c6c6" stroke="#5a4a3e" stroke-width="0.7" stroke-linejoin="round"/></g>
<path d="M667 289C657.5 283.3 629.5 262.3 610 255C590.5 247.7 570 243.8 550 245C530 246.2 507.2 252.7 490 262C472.8 271.3 454.2 294.5 447 301" fill="none" stroke="#574a3e" stroke-width="3.4" stroke-linecap="round" stroke-linejoin="round"/><path d="M467 268L447 301L468 306" fill="none" stroke="#574a3e" stroke-width="3.4" stroke-linecap="round" stroke-linejoin="round"/>
<path d="M442 372C448.3 375 466.2 386.2 480 390C493.8 393.8 510 395 525 395C540 395 556.7 392.2 570 390C583.3 387.8 599.2 383.3 605 382" fill="none" stroke="#574a3e" stroke-width="3.2" stroke-linecap="round" stroke-linejoin="round"/><path d="M590 362L605 382L590 398" fill="none" stroke="#574a3e" stroke-width="3.2" stroke-linecap="round" stroke-linejoin="round"/>
<path d="M1311 239C1327.5 238.5 1380.7 239 1410 236C1439.3 233 1474.2 223.5 1487 221" fill="none" stroke="#574a3e" stroke-width="2.4" stroke-linecap="round" stroke-linejoin="round"/><path d="M1456 213L1487 221L1475 239" fill="none" stroke="#574a3e" stroke-width="2.4" stroke-linecap="round" stroke-linejoin="round"/>
<path d="M1282 180C1296.7 179.7 1340.3 178.3 1370 178C1399.7 177.7 1445 178 1460 178" fill="none" stroke="#574a3e" stroke-width="2.8" stroke-linecap="round" stroke-linejoin="round"/><path d="M1437 160L1460 178L1438 198" fill="none" stroke="#574a3e" stroke-width="2.8" stroke-linecap="round" stroke-linejoin="round"/><path d="M1306 158L1282 180L1306 200" fill="none" stroke="#574a3e" stroke-width="2.8" stroke-linecap="round" stroke-linejoin="round"/>
<path d="M829.6 344.4C834.5 338.5 846.6 320.9 859 309C871.4 297.1 886.6 282.2 903.7 273.3C920.8 264.4 951.9 258.6 961.5 255.6" fill="none" stroke="#574a3e" stroke-width="2.5" stroke-linecap="round" stroke-linejoin="round"/><path d="M946.7 251L961.5 255.6L948 277.8" fill="none" stroke="#574a3e" stroke-width="2.5" stroke-linecap="round" stroke-linejoin="round"/>
<path d="M952.6 304.4C949.3 308.6 942.1 321.9 933 329.6C923.9 337.3 910.3 344.2 897.8 350.4C885.3 356.6 864.5 364 857.8 366.7" fill="none" stroke="#574a3e" stroke-width="3" stroke-linecap="round" stroke-linejoin="round"/><path d="M881.5 346L857.8 366.7L891.9 365.2" fill="none" stroke="#574a3e" stroke-width="3" stroke-linecap="round" stroke-linejoin="round"/>
<path d="M837 423C843.2 419.5 859.4 405.7 874 402C888.6 398.3 909.8 398.9 924.4 400.7C939 402.5 955.3 410.6 961.5 412.6" fill="none" stroke="#574a3e" stroke-width="2.5" stroke-linecap="round" stroke-linejoin="round"/><path d="M954 397.8L961.5 412.6L942 421.5" fill="none" stroke="#574a3e" stroke-width="2.5" stroke-linecap="round" stroke-linejoin="round"/>
<path d="M955.6 479C949.4 481.5 932.1 490.5 918.5 494C904.9 497.5 889.1 500.5 874 500C858.9 499.5 835.7 492.5 828 491" fill="none" stroke="#574a3e" stroke-width="2.5" stroke-linecap="round" stroke-linejoin="round"/><path d="M846 476L828 491L846 500" fill="none" stroke="#574a3e" stroke-width="2.5" stroke-linecap="round" stroke-linejoin="round"/>
<path d="M843 583C850.7 581.5 874 574.5 889 574C904 573.5 919.2 576 933 580C946.8 584 965.5 594.8 972 597.8" fill="none" stroke="#574a3e" stroke-width="2.8" stroke-linecap="round" stroke-linejoin="round"/><path d="M967.4 577L972 597.8L957 606.7" fill="none" stroke="#574a3e" stroke-width="2.8" stroke-linecap="round" stroke-linejoin="round"/>
<path d="M987 730C978.6 731.5 952.6 738.8 936.6 739C920.6 739.2 906.2 735.9 890.7 731C875.2 726.1 851.5 713 843.6 709.4" fill="none" stroke="#574a3e" stroke-width="3" stroke-linecap="round" stroke-linejoin="round"/><path d="M857.4 699L843.6 709.4L857.4 728.9" fill="none" stroke="#574a3e" stroke-width="3" stroke-linecap="round" stroke-linejoin="round"/>
<path d="M961.9 836.8C955.8 836 936.9 834.1 925 832C913.1 829.9 899.7 826.5 890.7 824C881.7 821.5 874.5 818.2 871.2 817" fill="none" stroke="#574a3e" stroke-width="2.5" stroke-linecap="round" stroke-linejoin="round"/><path d="M906.8 811.5L871.2 817L883.8 831" fill="none" stroke="#574a3e" stroke-width="2.5" stroke-linecap="round" stroke-linejoin="round"/>
<path d="M843.6 865.5C849.5 868 867.3 876.4 879 880.4C890.7 884.4 902.4 887.9 913.7 889.6C925 891.3 941.5 890.5 947 890.7" fill="none" stroke="#574a3e" stroke-width="2.5" stroke-linecap="round" stroke-linejoin="round"/><path d="M937.8 872.4L947 890.7L932 902" fill="none" stroke="#574a3e" stroke-width="2.5" stroke-linecap="round" stroke-linejoin="round"/>
<path d="M986 950.4C977.8 952.5 956.3 960.9 936.6 963C916.9 965.1 890.8 967.6 867.8 963C844.8 958.4 819.6 947.7 798.9 935.5C778.2 923.3 753 897.2 743.8 889.6" fill="none" stroke="#574a3e" stroke-width="2.8" stroke-linecap="round" stroke-linejoin="round"/><path d="M772.5 887.3L743.8 889.6L754 908" fill="none" stroke="#574a3e" stroke-width="2.8" stroke-linecap="round" stroke-linejoin="round"/>
<path d="M443.5 445.6C450.1 449.8 470.8 457.4 482.9 470.5C495 483.6 508.4 501.6 516 524.4C523.6 547.2 528.5 579.7 528.5 607.3C528.5 634.9 522.9 665.9 516 690C509.1 714.1 497.4 735.7 487 752C476.6 768.3 459.4 781.7 453.9 787.6" fill="none" stroke="#574a3e" stroke-width="2.6" stroke-linecap="round" stroke-linejoin="round"/><path d="M485 783.4L453.9 787.6L466.3 760.6" fill="none" stroke="#574a3e" stroke-width="2.6" stroke-linecap="round" stroke-linejoin="round"/>
<path d="M487 514L458 503.6L464 536.8" fill="none" stroke="#574a3e" stroke-width="3.2" stroke-linecap="round" stroke-linejoin="round"/>
<path d="M454 872.5C462.3 871.1 488.4 869.5 503.6 864C518.8 858.5 533.9 847.6 545 839.4C556.1 831.1 565.8 818.6 570 814.5" fill="none" stroke="#574a3e" stroke-width="3" stroke-linecap="round" stroke-linejoin="round"/><path d="M543 816.6L570 814.5L557.5 851.8" fill="none" stroke="#574a3e" stroke-width="3" stroke-linecap="round" stroke-linejoin="round"/>
<path d="M597 866.3C593.2 872.9 586.1 894.3 574 905.7C561.9 917.1 542.4 928.5 524.4 934.7C506.4 940.9 476 941.6 466.3 943" fill="none" stroke="#574a3e" stroke-width="3.2" stroke-linecap="round" stroke-linejoin="round"/><path d="M499.5 920.2L466.3 943L499.5 957.5" fill="none" stroke="#574a3e" stroke-width="3.2" stroke-linecap="round" stroke-linejoin="round"/>
<path d="M1303 262C1305.7 267.2 1316.3 277.3 1319 293C1321.7 308.7 1322 336 1319 356C1316 376 1304 403.5 1301 413" fill="none" stroke="#574a3e" stroke-width="2.6" stroke-linecap="round" stroke-linejoin="round"/><path d="M1293 396L1301 413L1314 398" fill="none" stroke="#574a3e" stroke-width="2.6" stroke-linecap="round" stroke-linejoin="round"/>
<path d="M1303 265C1309.5 274 1334.7 291 1342 319C1349.3 347 1350.5 396.7 1347 433C1343.5 469.3 1329.5 511.3 1321 537C1312.5 562.7 1300.2 578.7 1296 587" fill="none" stroke="#574a3e" stroke-width="2.6" stroke-linecap="round" stroke-linejoin="round"/><path d="M1294 565L1296 587L1313 568" fill="none" stroke="#574a3e" stroke-width="2.6" stroke-linecap="round" stroke-linejoin="round"/>
<path d="M1311 262C1319.7 273.3 1351.3 297.2 1363 330C1374.7 362.8 1378.3 411.5 1381 459C1383.7 506.5 1384.7 571.7 1379 615C1373.3 658.3 1357.8 689.7 1347 719C1336.2 748.3 1319.5 779 1314 791" fill="none" stroke="#574a3e" stroke-width="2.8" stroke-linecap="round" stroke-linejoin="round"/><path d="M1311 765L1314 791L1332 771" fill="none" stroke="#574a3e" stroke-width="2.8" stroke-linecap="round" stroke-linejoin="round"/>
<path d="M1306 426C1314.7 422 1336.3 410.3 1358 402C1379.7 393.7 1414.3 387.2 1436 376C1457.7 364.8 1475.5 348.8 1488 335C1500.5 321.2 1505.5 307.7 1511 293C1516.5 278.3 1519.3 254.7 1521 247" fill="none" stroke="#574a3e" stroke-width="3.8" stroke-linecap="round" stroke-linejoin="round"/><path d="M1506 267L1521 247L1534 265" fill="none" stroke="#574a3e" stroke-width="3.8" stroke-linecap="round" stroke-linejoin="round"/>
<path d="M1298 623C1308 619 1330.7 607.2 1358 599C1385.3 590.8 1429.2 584.3 1462 574C1494.8 563.7 1531.7 556.2 1555 537C1578.3 517.8 1590.8 489.2 1602 459C1613.2 428.8 1620.3 391 1622 356C1623.7 321 1613.7 266.8 1612 249" fill="none" stroke="#574a3e" stroke-width="3.6" stroke-linecap="round" stroke-linejoin="round"/><path d="M1597 278L1612 249L1638 265" fill="none" stroke="#574a3e" stroke-width="3.6" stroke-linecap="round" stroke-linejoin="round"/>
<path d="M1314 843C1334.3 837.8 1398.5 824 1436 812C1473.5 800 1508.8 788.3 1539 771C1569.2 753.7 1597.8 742.7 1617 708C1636.2 673.3 1647.5 613 1654 563C1660.5 513 1657 465 1656 408C1655 351 1649.3 252.2 1648 221" fill="none" stroke="#574a3e" stroke-width="3.6" stroke-linecap="round" stroke-linejoin="round"/><path d="M1633 252L1648 221L1664 231" fill="none" stroke="#574a3e" stroke-width="3.6" stroke-linecap="round" stroke-linejoin="round"/>
<path d="M1421 349 L1446 373 M1440 345 L1424 374" stroke="#574a3e" stroke-width="2.6" stroke-linecap="round"/>
<path d="M1424 787 L1451 812 M1450 787 L1426 812" stroke="#574a3e" stroke-width="2.6" stroke-linecap="round"/>
<path d="M1770 255C1770.2 252 1770.7 242.8 1771 237C1771.3 231.2 1771.8 222.8 1772 220" fill="none" stroke="#574a3e" stroke-width="2.2" stroke-linecap="round" stroke-linejoin="round"/><path d="M1762 232L1772 220L1783 230" fill="none" stroke="#574a3e" stroke-width="2.2" stroke-linecap="round" stroke-linejoin="round"/>
<path d="M1833 599C1835.2 602.5 1845.7 611.3 1846 620C1846.3 628.7 1836.8 645.8 1835 651" fill="none" stroke="#574a3e" stroke-width="2" stroke-linecap="round" stroke-linejoin="round"/><path d="M1828 638L1835 651L1847 642" fill="none" stroke="#574a3e" stroke-width="2" stroke-linecap="round" stroke-linejoin="round"/>
<path d="M1046 962C1045 970.8 1044 1001.2 1040 1015C1036 1028.8 1025 1040 1022 1045" fill="none" stroke="#574a3e" stroke-width="2.4" stroke-linecap="round" stroke-linejoin="round"/><path d="M1021 1020L1022 1045L1052 1030" fill="none" stroke="#574a3e" stroke-width="2.4" stroke-linecap="round" stroke-linejoin="round"/>
<path d="M400 316C401.8 313.2 410.7 305.2 411 299C411.3 292.8 405.7 284.3 402 279C398.3 273.7 391.2 269 389 267" fill="none" stroke="#574a3e" stroke-width="1.8" stroke-linecap="round" stroke-linejoin="round"/><path d="M397 268L389 267L391 277" fill="none" stroke="#574a3e" stroke-width="1.8" stroke-linecap="round" stroke-linejoin="round"/>
<path d="M518.7 1015C527.4 1020 550.5 1035.8 571 1045C591.5 1054.2 615.7 1064.7 642 1070C668.3 1075.3 714.5 1075.8 729 1077" fill="none" stroke="#bcb8b4" stroke-width="3.2" stroke-linecap="round" stroke-linejoin="round"/>
<path d="M573 1000C577.1 1004.6 583.2 1017.6 597.7 1027.5C612.2 1037.4 638.1 1051.2 660 1059.5C681.9 1067.8 717.5 1074.1 729 1077" fill="none" stroke="#bcb8b4" stroke-width="3.2" stroke-linecap="round" stroke-linejoin="round"/><path d="M720 1047L729 1077L711.5 1089.7" fill="none" stroke="#bcb8b4" stroke-width="3.2" stroke-linecap="round" stroke-linejoin="round"/>
<path d="M726.6 1138.6C715.5 1138.4 681.5 1142 660 1137.7C638.5 1133.4 616.1 1122.9 597.7 1112.8C579.3 1102.7 557.8 1083.2 549.8 1077.3" fill="none" stroke="#bcb8b4" stroke-width="3.2" stroke-linecap="round" stroke-linejoin="round"/><path d="M553 1112.8L549.8 1077.3L590.6 1096" fill="none" stroke="#bcb8b4" stroke-width="3.2" stroke-linecap="round" stroke-linejoin="round"/>
<path d="M348.4 1186.3L368.8 1178.2L389.8 1172.2L375.4 1186M370.6 1170.4L370 1200.4L444.4 1174.6M402.7 1167.7L389.8 1184.8M395.2 1180L398.2 1193.2M405.7 1171L415.3 1165.9L408.4 1187.2M411.4 1179.4L417.4 1182.4M432.4 1160.2L421.6 1172.2M428.2 1166.8L431.8 1181.8" fill="none" stroke="#111" stroke-width="2.6" stroke-linecap="round" stroke-linejoin="round"/>
<path d="M468 204C467.8 205.8 468.8 210.8 467 215C465.2 219.2 458.7 227.1 457 229.5" fill="none" stroke="#574a3e" stroke-width="2.2" stroke-linecap="round" stroke-linejoin="round"/>
<path d="M479 200C479.2 202.2 478.3 209.7 480 213C481.7 216.3 487.5 218.8 489 220" fill="none" stroke="#574a3e" stroke-width="2.2" stroke-linecap="round" stroke-linejoin="round"/>
<path d="M462.5 236C463.8 235.1 467.2 230.3 470 230.6C472.8 230.9 477.5 236.8 479 238" fill="none" stroke="#574a3e" stroke-width="2.2" stroke-linecap="round" stroke-linejoin="round"/>
<path transform="translate(839,287) rotate(-20) scale(20)" d="M0 0.45 C-0.15 0.25 -0.55 0.05 -0.5 -0.22 C-0.45 -0.5 -0.08 -0.5 0 -0.2 C0.08 -0.5 0.45 -0.5 0.5 -0.22 C0.55 0.05 0.15 0.25 0 0.45Z" fill="none" stroke="#574a3e" stroke-width="0.1" stroke-linejoin="round"/>
<path transform="translate(956,325) rotate(25) scale(24)" d="M0 0.45 C-0.15 0.25 -0.55 0.05 -0.5 -0.22 C-0.45 -0.5 -0.08 -0.5 0 -0.2 C0.08 -0.5 0.45 -0.5 0.5 -0.22 C0.55 0.05 0.15 0.25 0 0.45Z" fill="none" stroke="#574a3e" stroke-width="0.1" stroke-linejoin="round"/>
<path transform="translate(845,388) rotate(-20) scale(18)" d="M0 0.45 C-0.15 0.25 -0.55 0.05 -0.5 -0.22 C-0.45 -0.5 -0.08 -0.5 0 -0.2 C0.08 -0.5 0.45 -0.5 0.5 -0.22 C0.55 0.05 0.15 0.25 0 0.45Z" fill="none" stroke="#574a3e" stroke-width="0.1" stroke-linejoin="round"/>
<path transform="translate(928,462) rotate(15) scale(24)" d="M0 0.45 C-0.15 0.25 -0.55 0.05 -0.5 -0.22 C-0.45 -0.5 -0.08 -0.5 0 -0.2 C0.08 -0.5 0.45 -0.5 0.5 -0.22 C0.55 0.05 0.15 0.25 0 0.45Z" fill="none" stroke="#574a3e" stroke-width="0.1" stroke-linejoin="round"/>
<path transform="translate(955,460) rotate(15) scale(24)" d="M0 0.45 C-0.15 0.25 -0.55 0.05 -0.5 -0.22 C-0.45 -0.5 -0.08 -0.5 0 -0.2 C0.08 -0.5 0.45 -0.5 0.5 -0.22 C0.55 0.05 0.15 0.25 0 0.45Z" fill="none" stroke="#574a3e" stroke-width="0.1" stroke-linejoin="round"/>
<path transform="translate(868,562) rotate(10) scale(20)" d="M0 0.45 C-0.15 0.25 -0.55 0.05 -0.5 -0.22 C-0.45 -0.5 -0.08 -0.5 0 -0.2 C0.08 -0.5 0.45 -0.5 0.5 -0.22 C0.55 0.05 0.15 0.25 0 0.45Z" fill="none" stroke="#574a3e" stroke-width="0.1" stroke-linejoin="round"/>
<path transform="translate(883,558) rotate(-10) scale(18)" d="M0 0.45 C-0.15 0.25 -0.55 0.05 -0.5 -0.22 C-0.45 -0.5 -0.08 -0.5 0 -0.2 C0.08 -0.5 0.45 -0.5 0.5 -0.22 C0.55 0.05 0.15 0.25 0 0.45Z" fill="none" stroke="#574a3e" stroke-width="0.1" stroke-linejoin="round"/>
<path transform="translate(955,748) rotate(15) scale(18)" d="M0 0.45 C-0.15 0.25 -0.55 0.05 -0.5 -0.22 C-0.45 -0.5 -0.08 -0.5 0 -0.2 C0.08 -0.5 0.45 -0.5 0.5 -0.22 C0.55 0.05 0.15 0.25 0 0.45Z" fill="none" stroke="#574a3e" stroke-width="0.1" stroke-linejoin="round"/>
<path transform="translate(975,748) rotate(15) scale(18)" d="M0 0.45 C-0.15 0.25 -0.55 0.05 -0.5 -0.22 C-0.45 -0.5 -0.08 -0.5 0 -0.2 C0.08 -0.5 0.45 -0.5 0.5 -0.22 C0.55 0.05 0.15 0.25 0 0.45Z" fill="none" stroke="#574a3e" stroke-width="0.1" stroke-linejoin="round"/>
<path transform="translate(489,438) rotate(10) scale(26)" d="M0 0.45 C-0.15 0.25 -0.55 0.05 -0.5 -0.22 C-0.45 -0.5 -0.08 -0.5 0 -0.2 C0.08 -0.5 0.45 -0.5 0.5 -0.22 C0.55 0.05 0.15 0.25 0 0.45Z" fill="none" stroke="#574a3e" stroke-width="0.1" stroke-linejoin="round"/>
<path transform="translate(497,458) rotate(10) scale(16)" d="M0 0.45 C-0.15 0.25 -0.55 0.05 -0.5 -0.22 C-0.45 -0.5 -0.08 -0.5 0 -0.2 C0.08 -0.5 0.45 -0.5 0.5 -0.22 C0.55 0.05 0.15 0.25 0 0.45Z" fill="none" stroke="#574a3e" stroke-width="0.1" stroke-linejoin="round"/>
<path transform="translate(1332,269) rotate(20) scale(16)" d="M0 0.45 C-0.15 0.25 -0.55 0.05 -0.5 -0.22 C-0.45 -0.5 -0.08 -0.5 0 -0.2 C0.08 -0.5 0.45 -0.5 0.5 -0.22 C0.55 0.05 0.15 0.25 0 0.45Z" fill="none" stroke="#574a3e" stroke-width="0.1" stroke-linejoin="round"/>
<path transform="translate(1299,309) rotate(-10) scale(16)" d="M0 0.45 C-0.15 0.25 -0.55 0.05 -0.5 -0.22 C-0.45 -0.5 -0.08 -0.5 0 -0.2 C0.08 -0.5 0.45 -0.5 0.5 -0.22 C0.55 0.05 0.15 0.25 0 0.45Z" fill="none" stroke="#574a3e" stroke-width="0.1" stroke-linejoin="round"/>
<path transform="translate(1327,438) rotate(-10) scale(16)" d="M0 0.45 C-0.15 0.25 -0.55 0.05 -0.5 -0.22 C-0.45 -0.5 -0.08 -0.5 0 -0.2 C0.08 -0.5 0.45 -0.5 0.5 -0.22 C0.55 0.05 0.15 0.25 0 0.45Z" fill="none" stroke="#574a3e" stroke-width="0.1" stroke-linejoin="round"/>
<path transform="translate(415,734) rotate(-20) scale(16)" d="M0 0.45 C-0.15 0.25 -0.55 0.05 -0.5 -0.22 C-0.45 -0.5 -0.08 -0.5 0 -0.2 C0.08 -0.5 0.45 -0.5 0.5 -0.22 C0.55 0.05 0.15 0.25 0 0.45Z" fill="none" stroke="#574a3e" stroke-width="0.1" stroke-linejoin="round"/>
<path transform="translate(430,752) rotate(-10) scale(16)" d="M0 0.45 C-0.15 0.25 -0.55 0.05 -0.5 -0.22 C-0.45 -0.5 -0.08 -0.5 0 -0.2 C0.08 -0.5 0.45 -0.5 0.5 -0.22 C0.55 0.05 0.15 0.25 0 0.45Z" fill="none" stroke="#574a3e" stroke-width="0.1" stroke-linejoin="round"/>
<path transform="translate(418,762) rotate(-30) scale(16)" d="M0 0.45 C-0.15 0.25 -0.55 0.05 -0.5 -0.22 C-0.45 -0.5 -0.08 -0.5 0 -0.2 C0.08 -0.5 0.45 -0.5 0.5 -0.22 C0.55 0.05 0.15 0.25 0 0.45Z" fill="none" stroke="#574a3e" stroke-width="0.1" stroke-linejoin="round"/>
<path transform="translate(443,745) rotate(10) scale(16)" d="M0 0.45 C-0.15 0.25 -0.55 0.05 -0.5 -0.22 C-0.45 -0.5 -0.08 -0.5 0 -0.2 C0.08 -0.5 0.45 -0.5 0.5 -0.22 C0.55 0.05 0.15 0.25 0 0.45Z" fill="none" stroke="#574a3e" stroke-width="0.1" stroke-linejoin="round"/>
<path transform="translate(436,770) rotate(-10) scale(14)" d="M0 0.45 C-0.15 0.25 -0.55 0.05 -0.5 -0.22 C-0.45 -0.5 -0.08 -0.5 0 -0.2 C0.08 -0.5 0.45 -0.5 0.5 -0.22 C0.55 0.05 0.15 0.25 0 0.45Z" fill="none" stroke="#574a3e" stroke-width="0.1" stroke-linejoin="round"/>
<g transform="translate(206.9,26.9)" stroke="#000" stroke-width="3.1" stroke-linejoin="round" paint-order="stroke">
<g transform="translate(0,0) scale(0.5878,0.5111)"><use href="#a" x="0"/><use href="#b" x="216.9"/><use href="#c" x="433.8"/></g>
</g>
<g transform="translate(135.6,175)" stroke="#000" stroke-width="4" stroke-linejoin="round" paint-order="stroke">
<g transform="translate(0,0) scale(0.3383,0.398)"><use href="#d" x="0"/><use href="#e" x="189.4"/><use href="#f" x="378.8"/></g>
</g>
<g transform="translate(790.4,118.7)" stroke="#000" stroke-width="3.4" stroke-linejoin="round" paint-order="stroke">
<g transform="translate(0,0) scale(0.5099,0.4678)"><use href="#g" x="0"/><use href="#f" x="194.8"/></g>
</g>
<g transform="translate(1016.4,136.2)" stroke="#000" stroke-width="4.5" stroke-linejoin="round" paint-order="stroke">
<g transform="translate(0,0) scale(0.4172,0.3536)"><use href="#g" x="0"/><use href="#d" x="198.8"/><use href="#h" x="397.6"/></g>
</g>
<g transform="translate(1492.1,133.9)" stroke="#000" stroke-width="4.4" stroke-linejoin="round" paint-order="stroke">
<g transform="translate(0,0) scale(0.4164,0.3621)"><use href="#i" x="0"/><use href="#f" x="184.1"/></g>
</g>
<g transform="translate(1330.4,132.3)">
<g transform="translate(0,0) scale(0.2164,0.1665)"><use href="#j" x="0"/><use href="#k" x="207.7"/></g>
</g>
<g transform="translate(1694.1,161.7)" stroke="#000" stroke-width="5.6" stroke-linejoin="round" paint-order="stroke">
<g transform="translate(0,0) scale(0.2771,0.2857)"><use href="#l" x="0"/><use href="#i" x="201.5"/><use href="#m" x="402.9"/></g>
</g>
<g transform="translate(1711.7,260.8)" stroke="#000" stroke-width="5.8" stroke-linejoin="round" paint-order="stroke">
<g transform="translate(0,0) scale(0.3022,0.2747)"><use href="#i" x="0"/><use href="#m" x="205.8"/></g>
</g>
<g transform="translate(806.4,990.6)" stroke="#000" stroke-width="2.1" stroke-linejoin="round" paint-order="stroke">
<g transform="translate(0,0) scale(0.3295,0.2865)"><use href="#g" x="0"/><use href="#n" x="203.4"/></g>
</g>
<g transform="translate(1387.4,963.2)">
<g transform="translate(0,0) scale(0.3,0.3333)"><use href="#o" x="0"/><use href="#p" x="101.3"/><use href="#q" x="202.6"/><use href="#r" x="303.9"/><use href="#s" x="405.2"/></g>
</g>
<g transform="translate(1689.4,29.9)">
<g transform="translate(0,0) scale(0.5757,0.5946)"><use href="#t" x="0"/></g>
</g>
<g transform="translate(1736.4,29.9)">
<g transform="translate(0,0) scale(0.5757,0.5946)"><use href="#t" x="0"/></g>
</g>
<g transform="translate(1783.4,29.9)">
<g transform="translate(0,0) scale(0.5757,0.5946)"><use href="#t" x="0"/></g>
</g>
<g transform="translate(1720.3,105.1)">
<g transform="translate(0,0) scale(0.2032,0.239)"><use href="#u" x="0"/><use href="#v" x="88.5"/><use href="#w" x="176.9"/><use href="#x" x="265.4"/></g>
</g>
<g transform="translate(136,438.8)">
<g transform="translate(0,0) scale(0.1836,0.3166)"><use href="#y" x="0"/><use href="#z" x="99.4"/><use href="#A" x="198.8"/><use href="#B" x="397.6"/><use href="#C" x="496.9"/><use href="#D" x="596.3"/><use href="#E" x="695.7"/><use href="#F" x="795.1"/><use href="#G" x="894.5"/><use href="#H" x="993.9"/></g>
</g>
<g transform="translate(134.2,886)">
<g transform="translate(0,0) scale(0.2132,0.3553)"><use href="#I" x="0"/><use href="#z" x="85.2"/><use href="#J" x="170.5"/><use href="#K" x="341"/><use href="#L" x="426.2"/><use href="#G" x="511.5"/><use href="#E" x="596.7"/><use href="#F" x="682"/><use href="#G" x="767.2"/><use href="#H" x="852.5"/></g>
</g>
<g transform="translate(664.7,311)">
<g transform="translate(0,0) scale(0.1965,0.262)"><use href="#M" x="0"/><use href="#N" x="92.7"/><use href="#O" x="185.4"/><use href="#H" x="278"/><use href="#P" x="463.4"/><use href="#Q" x="556.1"/><use href="#R" x="648.7"/></g>
</g>
<g transform="translate(1056.8,219.6)">
<g transform="translate(0,0) scale(0.1693,0.1693)"><use href="#S" x="0"/><use href="#T" x="102.7"/><use href="#U" x="205.4"/><use href="#V" x="308.1"/><use href="#q" x="513.5"/><use href="#W" x="616.1"/></g>
</g>
<g transform="translate(1058.3,359.2)">
<g transform="translate(0,0) scale(0.1511,0.2099)"><use href="#X" x="0"/><use href="#Y" x="96.7"/><use href="#Z" x="193.4"/><use href="#ab" x="290.2"/><use href="#H" x="386.9"/><use href="#bb" x="580.3"/><use href="#cb" x="677"/></g>
</g>
<g transform="translate(1045.8,561.4)">
<g transform="translate(0,0) scale(0.1348,0.2246)"><use href="#K" x="0"/><use href="#db" x="104.3"/><use href="#ab" x="208.7"/><use href="#C" x="313"/><use href="#S" x="521.7"/><use href="#eb" x="626"/><use href="#fb" x="730.4"/><use href="#gb" x="834.7"/><use href="#hb" x="939.1"/></g>
</g>
<g transform="translate(1034.2,783.1)">
<g transform="translate(0,0) scale(0.1614,0.2484)"><use href="#db" x="0"/><use href="#ab" x="101.8"/><use href="#ib" x="203.5"/><use href="#G" x="305.3"/><use href="#S" x="508.8"/><use href="#eb" x="610.5"/><use href="#U" x="712.3"/><use href="#V" x="814"/></g>
</g>
<g transform="translate(1723.7,463.3)">
<g transform="translate(0,0) scale(0.1949,0.3144)"><use href="#E" x="0"/><use href="#F" x="89.6"/><use href="#G" x="179.2"/><use href="#H" x="268.8"/><use href="#jb" x="358.4"/><use href="#X" x="448"/></g>
</g>
<g transform="translate(1719.1,744.3)">
<g transform="translate(0,0) scale(0.2388,0.2809)"><use href="#E" x="0"/><use href="#kb" x="87.8"/><use href="#lb" x="175.5"/><use href="#jb" x="263.3"/><use href="#X" x="351"/></g>
</g>
<g transform="translate(1191,1053.3)">
<g transform="translate(0,0) scale(0.2488,0.2619)"><use href="#E" x="0"/><use href="#mb" x="105.7"/><use href="#nb" x="211.4"/><use href="#D" x="317"/></g>
</g>
<g transform="translate(1497.4,1029.2)">
<g transform="translate(0,0) scale(0.2588,0.2724)"><use href="#D" x="0"/><use href="#ob" x="95.4"/></g>
</g>
<g transform="translate(1494.2,1213.3)">
<g transform="translate(0,0) scale(0.228,0.228)"><use href="#pb" x="0"/><use href="#qb" x="122.2"/></g>
</g>
<g transform="translate(143.3,1254.4)">
<g transform="translate(0,0) scale(0.1591,0.3181)"><use href="#rb" x="0"/><use href="#sb" x="192"/><use href="#tb" x="384.1"/><use href="#ub" x="576.1"/><use href="#vb" x="768.1"/><use href="#wb" x="960.2"/><use href="#xb" x="1152.2"/><use href="#yb" x="1344.2"/><use href="#zb" x="1536.3"/><use href="#Ab" x="1728.3"/><use href="#Bb" x="1920.3"/><use href="#Cb" x="2112.4"/><use href="#Db" x="2304.4"/><use href="#Cb" x="2496.4"/><use href="#Eb" x="2688.5"/><use href="#Fb" x="2880.5"/></g>
</g>
<g transform="translate(1064.2,984.5)">
<g transform="translate(0,0) scale(0.1703,0.2365)"><use href="#q" x="0"/><use href="#r" x="109.2"/><use href="#s" x="218.3"/><use href="#Gb" x="327.5"/><use href="#q" x="436.6"/><use href="#Hb" x="545.8"/><use href="#p" x="654.9"/><use href="#Ib" x="764.1"/><use href="#Jb" x="873.2"/><use href="#p" x="982.4"/><use href="#Kb" x="1091.5"/><use href="#Lb" x="1200.7"/></g>
</g>
<g transform="translate(1175.6,1089.5)">
<g transform="translate(0,0) scale(0.1162,0.2323)"><use href="#Mb" x="0"/><use href="#Nb" x="99.6"/><use href="#Ob" x="199.2"/><use href="#Pb" x="298.7"/><use href="#Qb" x="398.3"/><use href="#Rb" x="497.9"/><use href="#Sb" x="597.5"/><use href="#Tb" x="657.2"/><use href="#Ub" x="756.8"/><use href="#Vb" x="856.4"/><use href="#p" x="956"/><use href="#Wb" x="1055.6"/><use href="#Xb" x="1155.2"/><use href="#Rb" x="1254.7"/><use href="#Yb" x="1354.3"/><use href="#Zb" x="1414.1"/></g>
</g>
<g transform="translate(1175.5,1118.1)">
<g transform="translate(0,0) scale(0.1258,0.2516)"><use href="#ac" x="0"/><use href="#bc" x="89.8"/><use href="#cc" x="179.7"/><use href="#dc" x="269.5"/><use href="#ec" x="359.3"/></g>
</g>
<g transform="translate(1177.2,1151.4)">
<g transform="translate(0,0) scale(0.1544,0.198)"><use href="#M" x="0"/><use href="#N" x="108.1"/><use href="#O" x="216.2"/><use href="#H" x="324.3"/><use href="#p" x="432.4"/><use href="#fc" x="540.5"/><use href="#gc" x="648.6"/></g>
</g>
<g transform="translate(575.8,1160.8)">
<g transform="translate(0,0) scale(0.2042,0.2553)"><use href="#r" x="0"/><use href="#hc" x="92.1"/><use href="#ic" x="184.1"/><use href="#jc" x="276.2"/><use href="#kc" x="368.2"/><use href="#kc" x="460.3"/><use href="#kc" x="552.3"/><use href="#kc" x="644.4"/><use href="#ic" x="736.4"/><use href="#lc" x="828.5"/></g>
</g>
<g transform="translate(347.5,230.4)">
<g transform="translate(0,0) scale(0.1032,0.1214)"><use href="#y" x="0"/><use href="#z" x="100.9"/><use href="#mc" x="201.7"/></g>
</g>
<g transform="translate(428,500)">
<g transform="scale(0.21,0.21)"><use href="#nc" x="0" y="0"/><use href="#oc" x="0" y="90.5"/><use href="#pc" x="0" y="181"/><use href="#lc" x="0" y="271.4"/></g>
</g>
<g transform="translate(531,460) rotate(-14)">
<g transform="scale(0.12,0.12)"><use href="#oc" x="0" y="0"/><use href="#pc" x="0" y="91.7"/><use href="#lc" x="0" y="183.3"/></g>
</g>
<g transform="translate(514,466) rotate(-14)">
<g transform="scale(0.11,0.11)"><use href="#qc" x="0" y="0"/><use href="#rc" x="0" y="94.5"/><use href="#sc" x="0" y="189.1"/><use href="#tc" x="0" y="283.6"/><use href="#Gb" x="0" y="378.2"/><use href="#uc" x="0" y="472.7"/><use href="#vc" x="0" y="567.3"/><use href="#Ob" x="0" y="661.8"/><use href="#wc" x="0" y="756.4"/><use href="#S" x="0" y="850.9"/><use href="#xc" x="0" y="945.5"/><use href="#yc" x="0" y="1040"/><use href="#zc" x="0" y="1134.5"/></g>
</g>
<g transform="translate(386.2,231.5)">
<g transform="translate(0,0) scale(0.0612,0.085)"><use href="#eb" x="0"/><use href="#Ac" x="99.7"/><use href="#q" x="199.3"/><use href="#Bc" x="299"/><use href="#Cc" x="398.7"/><use href="#cb" x="498.4"/><use href="#Dc" x="598"/><use href="#p" x="697.7"/><use href="#Zb" x="797.4"/></g>
<g transform="translate(0,11.7) scale(0.0612,0.085)"><use href="#Ec" x="0"/><use href="#tc" x="99.7"/><use href="#Dc" x="199.3"/><use href="#Fc" x="299"/><use href="#uc" x="398.7"/><use href="#Gc" x="498.4"/><use href="#r" x="598"/></g>
</g>
<g transform="translate(365.7,222.7)">
<g transform="translate(0,0) scale(0.05,0.05)"><use href="#Hc" x="0"/><use href="#Ic" x="90"/><use href="#cc" x="180"/></g>
</g>
<g transform="translate(411,274)">
<g transform="translate(0,0) scale(0.17,0.17)"><use href="#Jc" x="0"/></g>
</g>
<g transform="translate(511.1,200.1)">
<g transform="translate(0,0) scale(0.15,0.15)"><use href="#J" x="0"/><use href="#p" x="109.3"/><use href="#Kc" x="218.7"/><use href="#Lc" x="328"/><use href="#Mc" x="437.3"/><use href="#Nc" x="546.7"/><use href="#Oc" x="656"/><use href="#M" x="765.3"/><use href="#N" x="874.7"/><use href="#H" x="984"/><use href="#Pc" x="1093.3"/><use href="#Qc" x="1202.7"/><use href="#Rc" x="1312"/><use href="#p" x="1421.3"/></g>
<g transform="translate(0,19.5) scale(0.15,0.15)"><use href="#E" x="0"/><use href="#F" x="109.3"/><use href="#mb" x="218.7"/><use href="#C" x="328"/><use href="#D" x="437.3"/><use href="#K" x="546.7"/><use href="#Zb" x="656"/><use href="#Sc" x="765.3"/><use href="#Tc" x="874.7"/><use href="#U" x="984"/><use href="#Uc" x="1093.3"/><use href="#tc" x="1202.7"/><use href="#rc" x="1312"/><use href="#Vc" x="1421.3"/></g>
</g>
<g transform="translate(461,353)">
<g transform="translate(0,0) scale(0.16,0.16)"><use href="#Wc" x="0"/><use href="#Gb" x="100"/><use href="#Xc" x="200"/><use href="#Yc" x="300"/><use href="#Dc" x="400"/><use href="#Fc" x="500"/><use href="#zc" x="600"/></g>
</g>
<g transform="translate(135.5,424.5)">
<g transform="translate(0,0) scale(0.09,0.09)"><use href="#U" x="0"/><use href="#Zc" x="88.9"/><use href="#tc" x="177.8"/><use href="#Fc" x="266.7"/><use href="#ad" x="444.4"/><use href="#bd" x="533.3"/><use href="#cd" x="622.2"/></g>
</g>
<g transform="translate(135.5,871.5)">
<g transform="translate(0,0) scale(0.08,0.08)"><use href="#ad" x="0"/><use href="#S" x="90"/><use href="#Fc" x="180"/><use href="#dd" x="360"/><use href="#jc" x="450"/><use href="#cd" x="540"/></g>
</g>
<g transform="translate(414.2,829.2)">
<g transform="translate(0,0) scale(0.13,0.13)"><use href="#Wc" x="0"/><use href="#qc" x="92.3"/><use href="#ed" x="184.6"/><use href="#Gb" x="276.9"/><use href="#ic" x="369.2"/><use href="#zc" x="461.5"/></g>
<g transform="translate(0,15) scale(0.13,0.13)"><use href="#Tb" x="-36.9"/><use href="#fd" x="55.4"/><use href="#Ob" x="147.7"/><use href="#Hc" x="240"/><use href="#Q" x="332.3"/><use href="#gd" x="424.6"/><use href="#Fc" x="516.9"/><use href="#cc" x="609.2"/><use href="#Yb" x="701.5"/></g>
</g>
<g transform="translate(574.4,913.2)">
<g transform="translate(0,0) scale(0.104,0.13)"><use href="#hd" x="0"/><use href="#id" x="100"/><use href="#Dc" x="200"/><use href="#q" x="300"/><use href="#Bc" x="400"/><use href="#Cc" x="500"/><use href="#cb" x="600"/><use href="#p" x="700"/><use href="#S" x="800"/><use href="#eb" x="900"/><use href="#fb" x="1000"/><use href="#gb" x="1100"/><use href="#hb" x="1200"/><use href="#Zb" x="1300"/></g>
<g transform="translate(0,17) scale(0.104,0.13)"><use href="#jd" x="0"/><use href="#kd" x="100"/><use href="#lc" x="200"/></g>
</g>
<g transform="translate(606,981)">
<g transform="translate(0,0) scale(0.16,0.16)"><use href="#r" x="0"/><use href="#hc" x="101.9"/><use href="#Zb" x="203.8"/><use href="#ld" x="305.6"/><use href="#xc" x="407.5"/><use href="#q" x="509.4"/><use href="#Hb" x="611.2"/><use href="#Zb" x="713.1"/></g>
<g transform="translate(0,19) scale(0.16,0.16)"><use href="#md" x="0"/><use href="#nd" x="101.9"/><use href="#zc" x="203.8"/></g>
</g>
<g transform="translate(834.2,239.2)">
<g transform="translate(0,0) scale(0.14,0.14)"><use href="#S" x="0"/><use href="#T" x="92.9"/><use href="#U" x="185.7"/><use href="#V" x="278.6"/><use href="#lc" x="371.4"/></g>
</g>
<g transform="translate(914.2,351.2)">
<g transform="translate(0,0) scale(0.13,0.13)"><use href="#od" x="0"/><use href="#rc" x="100"/><use href="#od" x="200"/><use href="#rc" x="300"/><use href="#ic" x="400"/></g>
</g>
<g transform="translate(861.2,414.2)">
<g transform="translate(0,0) scale(0.14,0.14)"><use href="#S" x="0"/><use href="#eb" x="92.9"/><use href="#U" x="185.7"/><use href="#V" x="278.6"/><use href="#lc" x="371.4"/></g>
</g>
<g transform="translate(869.4,508.3)">
<g transform="translate(0,0) scale(0.099,0.11)"><use href="#q" x="0"/><use href="#Qc" x="97"/><use href="#pd" x="193.9"/><use href="#uc" x="290.9"/><use href="#qd" x="387.9"/><use href="#rd" x="484.8"/><use href="#sd" x="581.8"/><use href="#cc" x="678.8"/><use href="#p" x="775.8"/><use href="#pd" x="872.7"/></g>
<g transform="translate(0,13) scale(0.099,0.11)"><use href="#td" x="0"/><use href="#ud" x="97"/><use href="#vd" x="193.9"/></g>
</g>
<g transform="translate(851,596)">
<g transform="translate(0,0) scale(0.17,0.17)"><use href="#S" x="0"/><use href="#eb" x="91.2"/><use href="#fb" x="182.4"/><use href="#gb" x="273.5"/><use href="#hb" x="364.7"/><use href="#lc" x="455.9"/></g>
</g>
<g transform="translate(873.9,685.9)">
<g transform="translate(0,0) scale(0.18,0.18)"><use href="#S" x="0"/><use href="#eb" x="97.2"/><use href="#fb" x="194.4"/><use href="#gb" x="291.7"/><use href="#hb" x="388.9"/><use href="#pd" x="486.1"/></g>
<g transform="translate(0,19) scale(0.18,0.18)"><use href="#Fc" x="0"/><use href="#Fc" x="97.2"/><use href="#wd" x="194.4"/><use href="#xd" x="291.7"/><use href="#ic" x="388.9"/><use href="#yd" x="486.1"/><use href="#yd" x="535.3"/><use href="#yd" x="584.5"/></g>
</g>
<g transform="translate(911.4,789.2)">
<g transform="translate(0,0) scale(0.105,0.14)"><use href="#zd" x="0"/><use href="#R" x="100"/><use href="#Ad" x="200"/><use href="#hb" x="300"/><use href="#Dc" x="400"/><use href="#xd" x="500"/><use href="#Bd" x="600"/></g>
<g transform="translate(0,19) scale(0.105,0.14)"><use href="#Cd" x="0"/><use href="#Dd" x="100"/><use href="#Ed" x="200"/><use href="#Fd" x="300"/></g>
</g>
<g transform="translate(876,856)">
<g transform="translate(0,0) scale(0.16,0.16)"><use href="#ad" x="0"/><use href="#Gb" x="100"/><use href="#Gd" x="200"/></g>
</g>
<g transform="translate(839,931)">
<g transform="translate(0,0) scale(0.16,0.16)"><use href="#Hd" x="0"/><use href="#ic" x="100"/><use href="#Hd" x="200"/><use href="#Id" x="300"/><use href="#Q" x="400"/><use href="#ic" x="500"/><use href="#zc" x="600"/></g>
</g>
<g transform="translate(1224.3,328.3)">
<g transform="translate(0,0) scale(0.11,0.11)"><use href="#Jd" x="0"/><use href="#Uc" x="96.4"/><use href="#Ob" x="192.7"/><use href="#Dc" x="289.1"/><use href="#Q" x="385.5"/><use href="#gd" x="481.8"/><use href="#Zc" x="578.2"/><use href="#rc" x="674.5"/></g>
</g>
<g transform="translate(1209.4,538.4)">
<g transform="translate(0,0) scale(0.1,0.1)"><use href="#ad" x="0"/><use href="#V" x="97"/><use href="#Kd" x="194"/></g>
<g transform="translate(0,11.5) scale(0.1,0.1)"><use href="#Ld" x="0"/><use href="#Md" x="97"/><use href="#Gb" x="194"/><use href="#Nd" x="291"/><use href="#Dc" x="388"/><use href="#Fc" x="485"/><use href="#pd" x="582"/><use href="#Zc" x="679"/><use href="#rc" x="776"/><use href="#ic" x="873"/></g>
</g>
<g transform="translate(1340.4,754.4)">
<g transform="translate(0,0) scale(0.1,0.1)"><use href="#Od" x="0"/><use href="#Q" x="97"/><use href="#Vc" x="194"/><use href="#Hc" x="291"/><use href="#hb" x="388"/><use href="#Pd" x="485"/><use href="#ic" x="582"/></g>
</g>
<g transform="translate(1363,254)">
<g transform="translate(0,0) scale(0.16,0.16)"><use href="#Qd" x="0"/><use href="#Rd" x="103.1"/><use href="#Dc" x="206.2"/><use href="#Sd" x="309.4"/><use href="#tc" x="412.5"/><use href="#Pd" x="515.6"/></g>
</g>
<g transform="translate(1854.3,617.3)">
<g transform="translate(0,0) scale(0.12,0.12)"><use href="#Td" x="0"/><use href="#Ud" x="100"/></g>
</g>
<g transform="translate(346.9,1169.9)">
</g>
<g transform="translate(137,476.1)">
<g transform="translate(0,0) scale(0.1677,0.1766)"><use href="#Vd" x="0"/><use href="#Wd" x="98"/><use href="#q" x="195.9"/><use href="#Bc" x="293.9"/><use href="#Cc" x="391.8"/><use href="#cb" x="489.8"/><use href="#Xd" x="587.8"/><use href="#Oc" x="638.7"/><use href="#Ob" x="736.7"/><use href="#sc" x="834.6"/><use href="#Zc" x="932.6"/><use href="#x" x="1030.5"/><use href="#cc" x="1128.5"/><use href="#Fc" x="1226.5"/><use href="#Yd" x="1324.4"/><use href="#Zd" x="1422.4"/><use href="#Xd" x="1520.3"/></g>
<g transform="translate(0,19.8) scale(0.1677,0.1766)"><use href="#q" x="0"/><use href="#ec" x="98"/><use href="#pd" x="195.9"/><use href="#ae" x="293.9"/><use href="#Zb" x="391.8"/><use href="#be" x="489.8"/><use href="#bc" x="587.8"/><use href="#Dc" x="685.7"/><use href="#Zc" x="783.7"/><use href="#V" x="881.6"/><use href="#Pd" x="979.6"/><use href="#V" x="1077.6"/><use href="#Pd" x="1175.5"/><use href="#ce" x="1273.5"/><use href="#de" x="1371.4"/><use href="#Xd" x="1469.4"/></g>
<g transform="translate(0,39.5) scale(0.1677,0.1766)"><use href="#q" x="0"/><use href="#ec" x="98"/><use href="#Pd" x="195.9"/><use href="#Yc" x="293.9"/><use href="#Gb" x="391.8"/><use href="#J" x="489.8"/><use href="#xd" x="587.8"/><use href="#Kd" x="685.7"/><use href="#ee" x="783.7"/><use href="#Zc" x="881.6"/><use href="#gd" x="979.6"/></g>
<g transform="translate(0,59.2) scale(0.1677,0.1766)"><use href="#fe" x="0"/><use href="#ec" x="98"/><use href="#pd" x="195.9"/><use href="#ge" x="293.9"/><use href="#Nd" x="391.8"/><use href="#he" x="489.8"/><use href="#cc" x="587.8"/><use href="#wc" x="685.7"/><use href="#ie" x="783.7"/><use href="#M" x="881.6"/><use href="#Z" x="979.6"/><use href="#ab" x="1077.6"/><use href="#L" x="1175.5"/><use href="#Xd" x="1273.5"/></g>
<g transform="translate(0,79) scale(0.1677,0.1766)"><use href="#q" x="0"/><use href="#Bc" x="98"/><use href="#Cc" x="195.9"/><use href="#cb" x="293.9"/><use href="#Ob" x="391.8"/><use href="#Dc" x="489.8"/><use href="#cc" x="587.8"/><use href="#je" x="685.7"/><use href="#ke" x="783.7"/><use href="#L" x="881.6"/><use href="#le" x="979.6"/><use href="#G" x="1077.6"/><use href="#p" x="1175.5"/><use href="#me" x="1273.5"/><use href="#ne" x="1371.4"/><use href="#pd" x="1469.4"/></g>
<g transform="translate(0,98.8) scale(0.1677,0.1766)"><use href="#S" x="0"/><use href="#Xb" x="98"/><use href="#Ac" x="195.9"/><use href="#oe" x="293.9"/><use href="#jc" x="391.8"/><use href="#Ob" x="489.8"/><use href="#Wb" x="587.8"/><use href="#Fc" x="685.7"/><use href="#gd" x="783.7"/><use href="#Nd" x="881.6"/><use href="#V" x="979.6"/><use href="#Fc" x="1077.6"/><use href="#pe" x="1175.5"/><use href="#qe" x="1273.5"/><use href="#re" x="1371.4"/><use href="#Ob" x="1469.4"/><use href="#xd" x="1567.4"/><use href="#Zc" x="1665.3"/></g>
<g transform="translate(0,118.5) scale(0.1677,0.1766)"><use href="#S" x="0"/><use href="#Xb" x="98"/><use href="#Zb" x="195.9"/><use href="#se" x="293.9"/><use href="#nc" x="391.8"/><use href="#Ob" x="489.8"/><use href="#te" x="587.8"/><use href="#ue" x="685.7"/><use href="#Ob" x="783.7"/><use href="#ve" x="881.6"/><use href="#sc" x="979.6"/><use href="#Uc" x="1077.6"/><use href="#gd" x="1175.5"/><use href="#we" x="1273.5"/><use href="#xe" x="1371.4"/><use href="#sc" x="1469.4"/><use href="#Nd" x="1567.4"/><use href="#Fc" x="1665.3"/><use href="#ye" x="1763.3"/><use href="#Fc" x="1861.2"/></g>
<g transform="translate(0,138.2) scale(0.1677,0.1766)"><use href="#Zb" x="0"/><use href="#Nd" x="98"/><use href="#gd" x="195.9"/><use href="#Fc" x="293.9"/><use href="#cc" x="391.8"/><use href="#Xd" x="489.8"/><use href="#ze" x="540.7"/><use href="#Ae" x="638.7"/><use href="#rd" x="736.7"/><use href="#sd" x="834.6"/><use href="#cc" x="932.6"/><use href="#p" x="1030.5"/><use href="#pd" x="1128.5"/><use href="#ze" x="1226.5"/><use href="#Ae" x="1324.4"/><use href="#S" x="1422.4"/><use href="#Be" x="1520.3"/><use href="#sc" x="1618.3"/><use href="#tc" x="1716.3"/><use href="#Ce" x="1814.2"/><use href="#oe" x="1912.2"/><use href="#Xd" x="2010.1"/></g>
<g transform="translate(0,158) scale(0.1677,0.1766)"><use href="#De" x="0"/><use href="#Ee" x="98"/><use href="#Gb" x="195.9"/><use href="#ze" x="293.9"/><use href="#Ae" x="391.8"/><use href="#rd" x="489.8"/><use href="#sd" x="587.8"/><use href="#gd" x="685.7"/><use href="#cc" x="783.7"/><use href="#Fe" x="881.6"/><use href="#Zb" x="979.6"/><use href="#Ge" x="1077.6"/><use href="#tc" x="1175.5"/><use href="#rc" x="1273.5"/><use href="#cc" x="1371.4"/><use href="#p" x="1469.4"/><use href="#Gb" x="1567.4"/></g>
<g transform="translate(0,177.8) scale(0.1677,0.1766)"><use href="#He" x="0"/><use href="#Ob" x="98"/><use href="#Nd" x="195.9"/><use href="#Dc" x="293.9"/><use href="#Zc" x="391.8"/><use href="#Dc" x="489.8"/><use href="#Q" x="587.8"/><use href="#Vc" x="685.7"/><use href="#Ac" x="783.7"/><use href="#Ie" x="881.6"/><use href="#Je" x="979.6"/><use href="#Ke" x="1077.6"/><use href="#pd" x="1175.5"/><use href="#J" x="1273.5"/><use href="#Tb" x="1332.3"/><use href="#K" x="1430.2"/><use href="#L" x="1528.2"/><use href="#G" x="1626.1"/><use href="#Yb" x="1724.1"/><use href="#p" x="1782.9"/><use href="#Ie" x="1880.8"/><use href="#pd" x="1978.8"/></g>
<g transform="translate(0,197.5) scale(0.1677,0.1766)"><use href="#xc" x="0"/><use href="#hb" x="98"/><use href="#fb" x="195.9"/><use href="#oe" x="293.9"/><use href="#cc" x="391.8"/><use href="#Fe" x="489.8"/><use href="#Zb" x="587.8"/><use href="#Ge" x="685.7"/><use href="#tc" x="783.7"/><use href="#rc" x="881.6"/><use href="#gd" x="979.6"/><use href="#Nd" x="1077.6"/><use href="#V" x="1175.5"/><use href="#Q" x="1273.5"/><use href="#Vc" x="1371.4"/><use href="#Ac" x="1469.4"/></g>
<g transform="translate(0,217.2) scale(0.1677,0.1766)"><use href="#Le" x="0"/><use href="#Me" x="98"/><use href="#Ob" x="195.9"/><use href="#qc" x="293.9"/><use href="#rc" x="391.8"/><use href="#Ob" x="489.8"/><use href="#Gb" x="587.8"/><use href="#Ne" x="685.7"/><use href="#rc" x="783.7"/><use href="#xe" x="881.6"/><use href="#Kc" x="979.6"/><use href="#Lc" x="1077.6"/><use href="#Oe" x="1175.5"/><use href="#Zb" x="1273.5"/><use href="#Ge" x="1371.4"/><use href="#tc" x="1469.4"/><use href="#rc" x="1567.4"/><use href="#cc" x="1665.3"/><use href="#p" x="1763.3"/><use href="#Gb" x="1861.2"/></g>
<g transform="translate(0,237) scale(0.1677,0.1766)"><use href="#we" x="0"/><use href="#xe" x="98"/><use href="#sc" x="195.9"/><use href="#Nd" x="293.9"/><use href="#Fc" x="391.8"/><use href="#Xd" x="489.8"/></g>
</g>
<g transform="translate(130.9,932.9)">
<g transform="translate(0,0) scale(0.1626,0.1712)"><use href="#A" x="0"/><use href="#xd" x="100.9"/><use href="#Kd" x="201.8"/><use href="#Pe" x="302.7"/><use href="#Qe" x="403.6"/><use href="#Ie" x="504.5"/><use href="#sc" x="605.4"/><use href="#tc" x="706.3"/><use href="#q" x="807.2"/><use href="#Bc" x="908.1"/><use href="#Cc" x="1009"/><use href="#cb" x="1109.9"/><use href="#Zb" x="1210.8"/><use href="#od" x="1311.6"/><use href="#Q" x="1412.5"/><use href="#gd" x="1513.4"/><use href="#Fc" x="1614.3"/><use href="#cc" x="1715.2"/><use href="#Xd" x="1816.1"/></g>
<g transform="translate(0,19.8) scale(0.1626,0.1712)"><use href="#nc" x="0"/><use href="#r" x="100.9"/><use href="#Nd" x="201.8"/><use href="#Fc" x="302.7"/><use href="#Re" x="403.6"/><use href="#Se" x="504.5"/><use href="#Dc" x="605.4"/><use href="#Yd" x="706.3"/><use href="#Zd" x="807.2"/><use href="#Pd" x="908.1"/><use href="#Ac" x="1009"/><use href="#Te" x="1109.9"/><use href="#O" x="1210.8"/><use href="#Ue" x="1311.6"/><use href="#jb" x="1412.5"/><use href="#Xd" x="1513.4"/></g>
<g transform="translate(0,39.5) scale(0.1626,0.1712)"><use href="#Ve" x="0"/><use href="#We" x="100.9"/><use href="#Oc" x="201.8"/><use href="#Ve" x="302.7"/><use href="#We" x="403.6"/><use href="#Ac" x="504.5"/><use href="#Xe" x="605.4"/><use href="#rc" x="706.3"/><use href="#Vc" x="807.2"/><use href="#Hc" x="908.1"/><use href="#p" x="1009"/><use href="#Zb" x="1109.9"/><use href="#Ye" x="1210.8"/><use href="#Ze" x="1275.3"/><use href="#af" x="1339.9"/><use href="#hc" x="1440.8"/><use href="#Ie" x="1541.7"/><use href="#V" x="1642.6"/><use href="#pd" x="1743.5"/><use href="#Ob" x="1844.4"/></g>
<g transform="translate(0,59.2) scale(0.1626,0.1712)"><use href="#bf" x="0"/><use href="#Vc" x="100.9"/><use href="#cf" x="201.8"/><use href="#Fe" x="302.7"/><use href="#Ob" x="403.6"/><use href="#df" x="504.5"/><use href="#db" x="605.4"/><use href="#ef" x="706.3"/><use href="#G" x="807.2"/><use href="#H" x="908.1"/><use href="#pd" x="1009"/><use href="#pc" x="1109.9"/><use href="#cc" x="1210.8"/><use href="#Xd" x="1311.6"/></g>
<g transform="translate(0,79) scale(0.1626,0.1712)"><use href="#db" x="0"/><use href="#ab" x="100.9"/><use href="#ib" x="201.8"/><use href="#G" x="302.7"/><use href="#Ac" x="403.6"/><use href="#A" x="504.5"/><use href="#Ob" x="605.4"/><use href="#ld" x="706.3"/><use href="#Fc" x="807.2"/><use href="#Ob" x="908.1"/><use href="#ff" x="1009"/><use href="#Zc" x="1109.9"/><use href="#qc" x="1210.8"/><use href="#Oc" x="1311.6"/><use href="#Zb" x="1412.5"/><use href="#Ec" x="1513.4"/><use href="#Kd" x="1614.3"/></g>
<g transform="translate(0,98.8) scale(0.1626,0.1712)"><use href="#qc" x="0"/><use href="#Q" x="100.9"/><use href="#ed" x="201.8"/><use href="#Kd" x="302.7"/><use href="#gf" x="403.6"/><use href="#md" x="504.5"/><use href="#Nd" x="605.4"/><use href="#gd" x="706.3"/><use href="#Fc" x="807.2"/><use href="#Vc" x="908.1"/><use href="#Xd" x="1009"/></g>
<g transform="translate(0,118.5) scale(0.1626,0.1712)"><use href="#hf" x="0"/><use href="#Je" x="100.9"/><use href="#A" x="201.8"/><use href="#Oc" x="302.7"/><use href="#Gb" x="403.6"/><use href="#fc" x="504.5"/><use href="#gc" x="605.4"/><use href="#Pd" x="706.3"/><use href="#Q" x="807.2"/><use href="#Vc" x="908.1"/><use href="#Ac" x="1009"/><use href="#M" x="1109.9"/><use href="#N" x="1210.8"/><use href="#O" x="1311.6"/><use href="#H" x="1412.5"/><use href="#Ob" x="1513.4"/><use href="#jd" x="1614.3"/><use href="#kd" x="1715.2"/><use href="#U" x="1816.1"/><use href="#rc" x="1917"/></g>
<g transform="translate(0,138.2) scale(0.1626,0.1712)"><use href="#Wb" x="0"/><use href="#Xb" x="100.9"/><use href="#if" x="201.8"/><use href="#jf" x="302.7"/><use href="#kf" x="355.2"/><use href="#Q" x="456.1"/><use href="#lf" x="556.9"/><use href="#jf" x="657.8"/><use href="#mf" x="710.3"/><use href="#kd" x="811.2"/><use href="#jf" x="912.1"/><use href="#S" x="964.6"/><use href="#Dc" x="1065.5"/><use href="#tc" x="1166.4"/><use href="#jf" x="1267.3"/><use href="#nf" x="1319.7"/><use href="#of" x="1420.6"/><use href="#pf" x="1521.5"/><use href="#qf" x="1622.4"/><use href="#Oc" x="1723.3"/></g>
<g transform="translate(0,158) scale(0.1626,0.1712)"><use href="#q" x="0"/><use href="#Hb" x="100.9"/><use href="#gc" x="201.8"/><use href="#Ob" x="302.7"/><use href="#rf" x="403.6"/><use href="#re" x="504.5"/><use href="#sf" x="605.4"/><use href="#pd" x="706.3"/><use href="#tf" x="807.2"/><use href="#uf" x="908.1"/><use href="#U" x="1009"/><use href="#rc" x="1109.9"/><use href="#vf" x="1210.8"/><use href="#wf" x="1311.6"/><use href="#Ac" x="1412.5"/><use href="#Sc" x="1513.4"/><use href="#rc" x="1614.3"/><use href="#ed" x="1715.2"/><use href="#xc" x="1816.1"/><use href="#Ob" x="1917"/><use href="#Dc" x="2017.9"/><use href="#Q" x="2118.8"/><use href="#Vc" x="2219.7"/><use href="#Ac" x="2320.6"/></g>
<g transform="translate(0,177.8) scale(0.1626,0.1712)"><use href="#A" x="0"/><use href="#Ob" x="100.9"/><use href="#xf" x="201.8"/><use href="#Yc" x="302.7"/><use href="#gd" x="403.6"/><use href="#Hc" x="504.5"/><use href="#tc" x="605.4"/><use href="#Fc" x="706.3"/><use href="#A" x="807.2"/><use href="#p" x="908.1"/><use href="#qc" x="1009"/><use href="#Oc" x="1109.9"/><use href="#Ac" x="1210.8"/><use href="#nc" x="1311.6"/><use href="#nc" x="1412.5"/><use href="#nc" x="1513.4"/><use href="#oc" x="1614.3"/><use href="#pc" x="1715.2"/><use href="#Ob" x="1816.1"/><use href="#Dc" x="1917"/><use href="#Q" x="2017.9"/><use href="#Vc" x="2118.8"/><use href="#Xd" x="2219.7"/></g>
<g transform="translate(0,197.5) scale(0.1626,0.1712)"><use href="#yf" x="0"/><use href="#Gb" x="100.9"/><use href="#A" x="201.8"/><use href="#xd" x="302.7"/><use href="#Kd" x="403.6"/><use href="#Hc" x="504.5"/><use href="#xd" x="605.4"/><use href="#Zc" x="706.3"/><use href="#rd" x="807.2"/><use href="#sd" x="908.1"/><use href="#gd" x="1009"/><use href="#xd" x="1109.9"/><use href="#Zc" x="1210.8"/><use href="#Ce" x="1311.6"/><use href="#oe" x="1412.5"/><use href="#Xd" x="1513.4"/></g>
</g>
<g transform="translate(616,517.9)">
<g transform="translate(0,0) scale(0.1348,0.1498)"><use href="#q" x="0"/><use href="#r" x="99"/><use href="#s" x="198"/><use href="#p" x="297"/><use href="#zf" x="396"/><use href="#Af" x="495"/><use href="#Ob" x="593.9"/><use href="#Dc" x="692.9"/><use href="#Kd" x="791.9"/><use href="#od" x="890.9"/><use href="#oe" x="989.9"/><use href="#Fc" x="1088.9"/><use href="#Bf" x="1187.9"/><use href="#Cf" x="1286.9"/><use href="#Zb" x="1385.9"/></g>
<g transform="translate(0,15.6) scale(0.1348,0.1498)"><use href="#Df" x="0"/><use href="#Oc" x="99"/><use href="#sc" x="198"/><use href="#Ef" x="297"/><use href="#Ff" x="396"/><use href="#oe" x="495"/><use href="#cc" x="593.9"/><use href="#Vc" x="692.9"/><use href="#dd" x="791.9"/><use href="#Ob" x="890.9"/><use href="#rf" x="989.9"/><use href="#V" x="1088.9"/><use href="#rc" x="1187.9"/><use href="#Vc" x="1286.9"/><use href="#Xd" x="1385.9"/></g>
<g transform="translate(0,31.1) scale(0.1348,0.1498)"><use href="#Gf" x="-22.3"/><use href="#q" x="54.4"/><use href="#Hf" x="153.4"/></g>
<g transform="translate(0,46.7) scale(0.1348,0.1498)"><use href="#If" x="0"/><use href="#Jf" x="99"/><use href="#Ge" x="198"/><use href="#cc" x="297"/><use href="#Oc" x="396"/><use href="#me" x="495"/><use href="#Kf" x="593.9"/><use href="#Lf" x="692.9"/><use href="#Mf" x="791.9"/><use href="#od" x="890.9"/><use href="#xc" x="989.9"/><use href="#hb" x="1088.9"/><use href="#fb" x="1187.9"/><use href="#Zb" x="1286.9"/></g>
<g transform="translate(0,62.2) scale(0.1348,0.1498)"><use href="#Ke" x="0"/><use href="#cc" x="99"/><use href="#M" x="198"/><use href="#Nf" x="297"/><use href="#G" x="396"/><use href="#Of" x="495"/><use href="#Ac" x="593.9"/><use href="#Pf" x="692.9"/><use href="#Zc" x="791.9"/><use href="#Dc" x="890.9"/><use href="#cc" x="989.9"/><use href="#Xd" x="1088.9"/></g>
<g transform="translate(0,77.8) scale(0.1348,0.1498)"><use href="#Tb" x="-39.6"/><use href="#zd" x="59.4"/><use href="#Qf" x="158.4"/><use href="#Rf" x="257.4"/><use href="#dc" x="356.4"/><use href="#Yb" x="455.4"/></g>
<g transform="translate(0,93.4) scale(0.1348,0.1498)"><use href="#Gf" x="-22.3"/><use href="#Be" x="54.4"/><use href="#Sf" x="153.4"/></g>
<g transform="translate(0,108.9) scale(0.1348,0.1498)"><use href="#zf" x="0"/><use href="#Af" x="99"/><use href="#Zb" x="198"/><use href="#Ef" x="297"/><use href="#Ff" x="396"/><use href="#oe" x="495"/><use href="#cc" x="593.9"/><use href="#Vc" x="692.9"/><use href="#dd" x="791.9"/><use href="#jf" x="890.9"/><use href="#Tf" x="942.4"/><use href="#U" x="1041.4"/><use href="#rc" x="1140.4"/><use href="#gd" x="1239.4"/><use href="#Uf" x="1338.4"/><use href="#Bf" x="1437.3"/><use href="#Zb" x="1536.3"/></g>
<g transform="translate(0,124.5) scale(0.1348,0.1498)"><use href="#Vf" x="0"/><use href="#Wf" x="99"/><use href="#U" x="198"/><use href="#rc" x="297"/><use href="#cc" x="396"/><use href="#Oc" x="495"/><use href="#xc" x="593.9"/><use href="#hb" x="692.9"/><use href="#fb" x="791.9"/><use href="#Ac" x="890.9"/><use href="#Ce" x="989.9"/><use href="#od" x="1088.9"/><use href="#oe" x="1187.9"/><use href="#Zc" x="1286.9"/><use href="#Dc" x="1385.9"/><use href="#cc" x="1484.9"/></g>
<g transform="translate(0,140) scale(0.1348,0.1498)"><use href="#Cd" x="0"/><use href="#Dd" x="99"/><use href="#p" x="198"/><use href="#xd" x="297"/><use href="#xc" x="396"/><use href="#Dc" x="495"/><use href="#dc" x="593.9"/><use href="#ec" x="692.9"/><use href="#Tb" x="752.3"/><use href="#zd" x="851.3"/><use href="#Qf" x="950.3"/><use href="#Rf" x="1049.3"/><use href="#dc" x="1148.3"/><use href="#Yb" x="1247.3"/></g>
<g transform="translate(0,155.6) scale(0.1348,0.1498)"><use href="#r" x="0"/><use href="#hc" x="99"/><use href="#Qc" x="198"/><use href="#p" x="297"/><use href="#Cd" x="396"/><use href="#Dd" x="495"/><use href="#od" x="593.9"/><use href="#Xf" x="692.9"/><use href="#Yf" x="791.9"/><use href="#pd" x="890.9"/><use href="#Gb" x="989.9"/><use href="#q" x="1088.9"/><use href="#r" x="1187.9"/><use href="#s" x="1286.9"/><use href="#Ob" x="1385.9"/></g>
<g transform="translate(0,171.2) scale(0.1348,0.1498)"><use href="#Zf" x="0"/><use href="#pc" x="99"/><use href="#ag" x="198"/><use href="#Ac" x="297"/><use href="#bg" x="396"/><use href="#Zc" x="495"/><use href="#Dc" x="593.9"/><use href="#Zc" x="692.9"/><use href="#jf" x="791.9"/><use href="#M" x="843.4"/><use href="#N" x="942.4"/><use href="#O" x="1041.4"/><use href="#H" x="1140.4"/><use href="#Gb" x="1239.4"/><use href="#sc" x="1338.4"/><use href="#Dc" x="1437.3"/><use href="#Kd" x="1536.3"/></g>
<g transform="translate(0,186.7) scale(0.1348,0.1498)"><use href="#q" x="0"/><use href="#r" x="99"/><use href="#s" x="198"/><use href="#Ob" x="297"/><use href="#cg" x="396"/><use href="#dg" x="495"/><use href="#Dc" x="593.9"/><use href="#cb" x="692.9"/><use href="#p" x="791.9"/><use href="#R" x="890.9"/><use href="#Xd" x="989.9"/></g>
<g transform="translate(0,202.3) scale(0.1348,0.1498)"><use href="#Ke" x="0"/><use href="#qb" x="99"/><use href="#eg" x="198"/><use href="#Ob" x="297"/><use href="#Hc" x="396"/><use href="#M" x="495"/><use href="#H" x="593.9"/><use href="#G" x="692.9"/><use href="#jb" x="791.9"/><use href="#G" x="890.9"/><use href="#Ob" x="989.9"/></g>
<g transform="translate(0,217.8) scale(0.1348,0.1498)"><use href="#cg" x="0"/><use href="#dg" x="99"/><use href="#Dc" x="198"/><use href="#ef" x="297"/><use href="#ib" x="396"/><use href="#fg" x="495"/><use href="#gg" x="593.9"/><use href="#mb" x="692.9"/><use href="#pd" x="791.9"/><use href="#oe" x="890.9"/><use href="#Tb" x="950.3"/><use href="#hg" x="1049.3"/><use href="#ig" x="1148.3"/></g>
<g transform="translate(0,233.4) scale(0.1348,0.1498)"><use href="#De" x="0"/><use href="#jg" x="99"/><use href="#Gb" x="198"/><use href="#kg" x="297"/><use href="#Q" x="396"/><use href="#lg" x="495"/><use href="#Ob" x="593.9"/><use href="#mg" x="692.9"/><use href="#ag" x="791.9"/><use href="#Zb" x="890.9"/><use href="#ng" x="989.9"/><use href="#Vc" x="1088.9"/><use href="#Nd" x="1187.9"/><use href="#gd" x="1286.9"/><use href="#Fc" x="1385.9"/><use href="#Vc" x="1484.9"/><use href="#Ac" x="1583.9"/></g>
<g transform="translate(0,249) scale(0.1348,0.1498)"><use href="#og" x="0"/><use href="#pg" x="99"/><use href="#qg" x="198"/><use href="#Zc" x="297"/><use href="#gd" x="396"/><use href="#hd" x="495"/><use href="#id" x="593.9"/><use href="#pd" x="692.9"/><use href="#N" x="791.9"/><use href="#O" x="890.9"/><use href="#rg" x="989.9"/><use href="#Fc" x="1088.9"/><use href="#Fc" x="1187.9"/><use href="#S" x="1286.9"/><use href="#eb" x="1385.9"/><use href="#U" x="1484.9"/><use href="#V" x="1583.9"/><use href="#gc" x="1682.8"/></g>
<g transform="translate(0,264.5) scale(0.1348,0.1498)"><use href="#ed" x="0"/><use href="#Nd" x="99"/><use href="#gd" x="198"/><use href="#S" x="297"/><use href="#T" x="396"/><use href="#U" x="495"/><use href="#V" x="593.9"/><use href="#V" x="692.9"/><use href="#pd" x="791.9"/><use href="#Hc" x="890.9"/><use href="#Ac" x="989.9"/></g>
<g transform="translate(0,280.1) scale(0.1348,0.1498)"><use href="#sg" x="0"/><use href="#Zb" x="99"/><use href="#kg" x="198"/><use href="#Q" x="297"/><use href="#tg" x="396"/><use href="#Ob" x="495"/><use href="#Nd" x="593.9"/><use href="#Dc" x="692.9"/><use href="#Ac" x="791.9"/><use href="#tc" x="890.9"/><use href="#xc" x="989.9"/><use href="#hb" x="1088.9"/><use href="#fb" x="1187.9"/><use href="#Zb" x="1286.9"/></g>
<g transform="translate(0,295.6) scale(0.1348,0.1498)"><use href="#ug" x="0"/><use href="#vg" x="99"/><use href="#Nd" x="198"/><use href="#Vc" x="297"/><use href="#Kd" x="396"/><use href="#Kc" x="495"/><use href="#Lc" x="593.9"/><use href="#Nd" x="692.9"/><use href="#Vc" x="791.9"/><use href="#Kd" x="890.9"/><use href="#S" x="989.9"/><use href="#Dc" x="1088.9"/><use href="#tc" x="1187.9"/><use href="#Zb" x="1286.9"/><use href="#oe" x="1385.9"/><use href="#cc" x="1484.9"/><use href="#Oe" x="1583.9"/><use href="#Zb" x="1682.8"/></g>
<g transform="translate(0,311.2) scale(0.1348,0.1498)"><use href="#Ge" x="0"/><use href="#gd" x="99"/><use href="#pc" x="198"/><use href="#Vc" x="297"/><use href="#Vc" x="396"/><use href="#dd" x="495"/><use href="#M" x="593.9"/><use href="#N" x="692.9"/><use href="#H" x="791.9"/><use href="#Pc" x="890.9"/><use href="#Yd" x="989.9"/><use href="#wg" x="1088.9"/><use href="#Ac" x="1187.9"/><use href="#xg" x="1286.9"/><use href="#Fc" x="1385.9"/><use href="#Vc" x="1484.9"/><use href="#Xd" x="1583.9"/></g>
</g>
<g transform="translate(995.5,244.7)">
<g transform="translate(0,0) scale(0.1525,0.1605)"><use href="#Ge" x="0"/><use href="#Vc" x="99.3"/><use href="#ag" x="198.5"/><use href="#Ac" x="297.8"/><use href="#yg" x="397"/><use href="#Zc" x="496.3"/><use href="#zg" x="595.5"/><use href="#Zc" x="694.8"/><use href="#Ag" x="794"/><use href="#Yc" x="893.3"/><use href="#Dc" x="992.5"/><use href="#Fc" x="1091.8"/><use href="#Xd" x="1191"/></g>
<g transform="translate(0,18.2) scale(0.1525,0.1605)"><use href="#hg" x="0"/><use href="#Bg" x="99.3"/><use href="#Pd" x="198.5"/><use href="#Yc" x="297.8"/><use href="#Ic" x="397"/><use href="#Cg" x="496.3"/><use href="#Dg" x="595.5"/><use href="#Xd" x="694.8"/></g>
<g transform="translate(0,36.4) scale(0.1525,0.1605)"><use href="#Eg" x="0"/><use href="#Fg" x="99.3"/><use href="#Ob" x="198.5"/><use href="#ye" x="297.8"/><use href="#wd" x="397"/><use href="#rc" x="496.3"/><use href="#gd" x="595.5"/><use href="#cc" x="694.8"/><use href="#Ac" x="794"/></g>
<g transform="translate(0,54.6) scale(0.1525,0.1605)"><use href="#Gg" x="0"/><use href="#ye" x="99.3"/><use href="#Fc" x="198.5"/></g>
<g transform="translate(0,72.8) scale(0.1525,0.1605)"><use href="#q" x="0"/><use href="#Qc" x="99.3"/><use href="#pd" x="198.5"/><use href="#Gb" x="297.8"/><use href="#bg" x="397"/><use href="#gd" x="496.3"/><use href="#Ob" x="595.5"/><use href="#S" x="694.8"/><use href="#Fc" x="794"/><use href="#gd" x="893.3"/><use href="#De" x="992.5"/><use href="#qg" x="1091.8"/><use href="#Xd" x="1191"/></g>
</g>
<g transform="translate(993.9,387.1)">
<g transform="translate(0,0) scale(0.1525,0.1605)"><use href="#Oc" x="0"/><use href="#ad" x="96.1"/><use href="#cc" x="192.1"/><use href="#Md" x="288.2"/><use href="#Hg" x="384.3"/><use href="#pd" x="480.3"/><use href="#r" x="576.4"/><use href="#hc" x="672.5"/><use href="#Qc" x="768.5"/><use href="#Ob" x="864.6"/><use href="#Ig" x="960.6"/><use href="#Lb" x="1056.7"/></g>
<g transform="translate(0,17.4) scale(0.1525,0.1605)"><use href="#r" x="0"/><use href="#hc" x="96.1"/><use href="#Oc" x="192.1"/><use href="#Ce" x="288.2"/><use href="#Jg" x="384.3"/><use href="#Fc" x="480.3"/></g>
<g transform="translate(0,34.8) scale(0.1525,0.1605)"><use href="#r" x="0"/><use href="#hc" x="96.1"/><use href="#Qc" x="192.1"/><use href="#p" x="288.2"/><use href="#rd" x="384.3"/><use href="#sd" x="480.3"/><use href="#Hb" x="576.4"/><use href="#Ob" x="672.5"/><use href="#Kg" x="768.5"/><use href="#Lg" x="864.6"/><use href="#Kd" x="960.6"/></g>
<g transform="translate(0,52.2) scale(0.1525,0.1605)"><use href="#Ve" x="0"/><use href="#We" x="96.1"/><use href="#pd" x="192.1"/><use href="#Hc" x="288.2"/><use href="#Mg" x="384.3"/><use href="#Md" x="480.3"/><use href="#oe" x="576.4"/><use href="#cc" x="672.5"/><use href="#xd" x="768.5"/><use href="#xc" x="864.6"/><use href="#Ob" x="960.6"/><use href="#Dc" x="1056.7"/><use href="#cc" x="1152.8"/><use href="#Xd" x="1248.8"/></g>
<g transform="translate(0,69.6) scale(0.1525,0.1605)"><use href="#q" x="0"/><use href="#Qc" x="96.1"/><use href="#Gb" x="192.1"/><use href="#r" x="288.2"/><use href="#hc" x="384.3"/><use href="#Qc" x="480.3"/><use href="#p" x="576.4"/><use href="#rd" x="672.5"/><use href="#sd" x="768.5"/><use href="#Hb" x="864.6"/><use href="#Zb" x="960.6"/><use href="#Ng" x="1056.7"/><use href="#Og" x="1152.8"/><use href="#Nd" x="1248.8"/><use href="#gd" x="1344.9"/><use href="#Fc" x="1441"/><use href="#Vc" x="1537"/><use href="#Ac" x="1633.1"/></g>
<g transform="translate(0,87) scale(0.1525,0.1605)"><use href="#X" x="0"/><use href="#Y" x="96.1"/><use href="#Z" x="192.1"/><use href="#ab" x="288.2"/><use href="#H" x="384.3"/><use href="#p" x="480.3"/><use href="#Ke" x="576.4"/><use href="#cc" x="672.5"/><use href="#r" x="768.5"/><use href="#hc" x="864.6"/><use href="#Qc" x="960.6"/><use href="#p" x="1056.7"/><use href="#Mg" x="1152.8"/><use href="#Md" x="1248.8"/><use href="#p" x="1344.9"/><use href="#Pg" x="1441"/><use href="#Qg" x="1537"/><use href="#Nd" x="1633.1"/><use href="#U" x="1729.2"/><use href="#Ob" x="1825.2"/></g>
<g transform="translate(0,104.4) scale(0.1525,0.1605)"><use href="#Rg" x="0"/><use href="#Je" x="96.1"/><use href="#Ob" x="192.1"/><use href="#q" x="288.2"/><use href="#Qc" x="384.3"/><use href="#pd" x="480.3"/><use href="#Hc" x="576.4"/><use href="#Sg" x="672.5"/><use href="#Tg" x="768.5"/><use href="#U" x="864.6"/><use href="#Uc" x="960.6"/><use href="#gd" x="1056.7"/><use href="#Fc" x="1152.8"/><use href="#Q" x="1248.8"/><use href="#gd" x="1344.9"/><use href="#Fc" x="1441"/><use href="#cc" x="1537"/><use href="#Xd" x="1633.1"/></g>
<g transform="translate(0,121.8) scale(0.1525,0.1605)"><use href="#Tb" x="-38.4"/><use href="#S" x="57.6"/><use href="#T" x="153.7"/><use href="#U" x="249.8"/><use href="#V" x="345.8"/><use href="#Hc" x="441.9"/><use href="#qc" x="538"/><use href="#Q" x="634"/><use href="#ed" x="730.1"/><use href="#Kd" x="826.2"/><use href="#Ke" x="922.2"/><use href="#Q" x="1018.3"/><use href="#gd" x="1114.3"/><use href="#Hc" x="1210.4"/><use href="#tc" x="1306.5"/><use href="#Q" x="1402.5"/><use href="#gd" x="1498.6"/><use href="#Fc" x="1594.7"/><use href="#cc" x="1690.7"/><use href="#Yb" x="1786.8"/></g>
<g transform="translate(0,139.2) scale(0.1525,0.1605)"><use href="#Ug" x="0"/><use href="#Vg" x="96.1"/><use href="#p" x="192.1"/><use href="#Wg" x="288.2"/><use href="#Xg" x="384.3"/><use href="#Ob" x="480.3"/><use href="#Gb" x="576.4"/><use href="#Xg" x="672.5"/><use href="#Yg" x="768.5"/><use href="#Ac" x="864.6"/><use href="#ic" x="960.6"/></g>
</g>
<g transform="translate(992.7,592.1)">
<g transform="translate(0,0) scale(0.1525,0.1605)"><use href="#q" x="0"/><use href="#Qc" x="95.6"/><use href="#Zg" x="191.3"/><use href="#p" x="286.9"/><use href="#ah" x="382.6"/><use href="#bb" x="478.2"/><use href="#pd" x="573.9"/></g>
<g transform="translate(0,17.6) scale(0.1525,0.1605)"><use href="#q" x="0"/><use href="#Qc" x="95.6"/><use href="#p" x="191.3"/><use href="#bh" x="286.9"/><use href="#ch" x="354.3"/><use href="#dh" x="424.5"/><use href="#Ye" x="456.8"/></g>
<g transform="translate(0,35.1) scale(0.1525,0.1605)"><use href="#eh" x="0"/><use href="#Cd" x="95.6"/><use href="#Ob" x="191.3"/><use href="#Hc" x="286.9"/><use href="#He" x="382.6"/><use href="#fh" x="478.2"/><use href="#Fc" x="573.9"/><use href="#pd" x="669.5"/><use href="#pc" x="765.2"/><use href="#gd" x="860.8"/></g>
<g transform="translate(0,52.7) scale(0.1525,0.1605)"><use href="#gh" x="0"/><use href="#Nd" x="95.6"/><use href="#Fc" x="191.3"/><use href="#Ue" x="286.9"/><use href="#mb" x="382.6"/><use href="#hh" x="478.2"/><use href="#db" x="573.9"/><use href="#Ue" x="669.5"/><use href="#ab" x="765.2"/><use href="#mb" x="860.8"/><use href="#df" x="956.5"/><use href="#G" x="1052.1"/><use href="#L" x="1147.8"/></g>
<g transform="translate(0,70.2) scale(0.1525,0.1605)"><use href="#S" x="0"/><use href="#eb" x="95.6"/><use href="#fb" x="191.3"/><use href="#gb" x="286.9"/><use href="#hb" x="382.6"/><use href="#zc" x="478.2"/></g>
<g transform="translate(0,87.8) scale(0.1525,0.1605)"><use href="#M" x="0"/><use href="#N" x="95.6"/><use href="#O" x="191.3"/><use href="#H" x="286.9"/><use href="#Ac" x="382.6"/><use href="#rf" x="478.2"/><use href="#V" x="573.9"/><use href="#rc" x="669.5"/><use href="#cc" x="765.2"/><use href="#V" x="860.8"/><use href="#pd" x="956.5"/><use href="#Gb" x="1052.1"/><use href="#P" x="1147.8"/><use href="#Q" x="1243.4"/><use href="#R" x="1339.1"/><use href="#Pd" x="1434.7"/><use href="#Q" x="1530.4"/><use href="#Vc" x="1626"/><use href="#Xd" x="1721.7"/></g>
<g transform="translate(0,105.3) scale(0.1525,0.1605)"><use href="#ih" x="0"/><use href="#jh" x="95.6"/><use href="#pc" x="191.3"/><use href="#pd" x="286.9"/><use href="#Gb" x="382.6"/><use href="#kh" x="478.2"/><use href="#Vb" x="573.9"/><use href="#Ob" x="669.5"/><use href="#Ce" x="765.2"/><use href="#U" x="860.8"/><use href="#Dc" x="956.5"/><use href="#Fc" x="1052.1"/><use href="#Ac" x="1147.8"/><use href="#jg" x="1243.4"/><use href="#dd" x="1339.1"/><use href="#gd" x="1434.7"/><use href="#p" x="1530.4"/><use href="#lh" x="1626"/><use href="#Ob" x="1721.7"/><use href="#hh" x="1817.3"/><use href="#db" x="1913"/><use href="#hh" x="2008.6"/><use href="#db" x="2104.3"/><use href="#lc" x="2199.9"/></g>
<g transform="translate(0,122.9) scale(0.1525,0.1605)"><use href="#De" x="0"/><use href="#jg" x="95.6"/><use href="#Gb" x="191.3"/><use href="#M" x="286.9"/><use href="#N" x="382.6"/><use href="#O" x="478.2"/><use href="#H" x="573.9"/><use href="#Ob" x="669.5"/><use href="#mh" x="723.1"/><use href="#S" x="818.7"/><use href="#eb" x="914.4"/><use href="#U" x="1010"/><use href="#V" x="1105.7"/><use href="#nh" x="1201.3"/><use href="#oh" x="1254.9"/><use href="#ph" x="1350.6"/><use href="#U" x="1446.2"/><use href="#rc" x="1541.8"/><use href="#gd" x="1637.5"/><use href="#Fc" x="1733.1"/><use href="#Vc" x="1828.8"/><use href="#Ac" x="1924.4"/></g>
<g transform="translate(0,140.4) scale(0.1525,0.1605)"><use href="#K" x="0"/><use href="#db" x="95.6"/><use href="#ab" x="191.3"/><use href="#C" x="286.9"/><use href="#Ve" x="382.6"/><use href="#tc" x="478.2"/><use href="#mh" x="531.8"/><use href="#S" x="627.5"/><use href="#eb" x="723.1"/><use href="#fb" x="818.7"/><use href="#gb" x="914.4"/><use href="#hb" x="1010"/><use href="#pd" x="1105.7"/><use href="#Fc" x="1201.3"/><use href="#Fc" x="1297"/><use href="#wd" x="1392.6"/><use href="#xd" x="1488.3"/><use href="#ic" x="1583.9"/><use href="#yd" x="1679.6"/><use href="#yd" x="1728"/><use href="#yd" x="1776.4"/><use href="#nh" x="1824.8"/></g>
<g transform="translate(0,158) scale(0.1525,0.1605)"><use href="#Oc" x="0"/><use href="#oh" x="95.6"/><use href="#ph" x="191.3"/><use href="#qh" x="286.9"/><use href="#Zb" x="382.6"/><use href="#rh" x="478.2"/><use href="#bc" x="573.9"/><use href="#U" x="669.5"/><use href="#Uc" x="765.2"/><use href="#Vc" x="860.8"/><use href="#Xd" x="956.5"/></g>
</g>
<g transform="translate(989.7,812.6)">
<g transform="translate(0,0) scale(0.1378,0.1498)"><use href="#q" x="0"/><use href="#Hb" x="94.6"/><use href="#Oc" x="189.2"/><use href="#sh" x="283.8"/><use href="#wc" x="378.4"/><use href="#re" x="473"/><use href="#p" x="567.5"/><use href="#B" x="662.1"/><use href="#C" x="756.7"/><use href="#D" x="851.3"/><use href="#E" x="945.9"/><use href="#F" x="1040.5"/><use href="#G" x="1135.1"/><use href="#H" x="1229.7"/><use href="#Zb" x="1324.3"/></g>
<g transform="translate(0,18.3) scale(0.1378,0.1498)"><use href="#ld" x="0"/><use href="#Fc" x="94.6"/><use href="#Ob" x="189.2"/><use href="#ff" x="283.8"/><use href="#Zc" x="378.4"/><use href="#xg" x="473"/><use href="#Hc" x="567.5"/><use href="#Kd" x="662.1"/><use href="#Ac" x="756.7"/></g>
<g transform="translate(0,36.6) scale(0.1378,0.1498)"><use href="#K" x="0"/><use href="#L" x="94.6"/><use href="#G" x="189.2"/><use href="#E" x="283.8"/><use href="#F" x="378.4"/><use href="#G" x="473"/><use href="#H" x="567.5"/><use href="#Ob" x="662.1"/><use href="#th" x="756.7"/><use href="#Kd" x="851.3"/><use href="#uh" x="945.9"/><use href="#fb" x="1040.5"/><use href="#Ob" x="1135.1"/></g>
<g transform="translate(0,54.9) scale(0.1378,0.1498)"><use href="#U" x="0"/><use href="#rc" x="94.6"/><use href="#Vc" x="189.2"/><use href="#Xd" x="283.8"/></g>
<g transform="translate(0,73.2) scale(0.1378,0.1498)"><use href="#K" x="0"/><use href="#db" x="94.6"/><use href="#ab" x="189.2"/><use href="#C" x="283.8"/><use href="#xd" x="378.4"/><use href="#Kd" x="473"/><use href="#Hc" x="567.5"/><use href="#Qe" x="662.1"/><use href="#Ib" x="756.7"/><use href="#pd" x="851.3"/><use href="#vh" x="945.9"/><use href="#wh" x="1040.5"/><use href="#wc" x="1135.1"/><use href="#ie" x="1229.7"/><use href="#xh" x="1324.3"/><use href="#Oc" x="1418.9"/><use href="#Nd" x="1513.5"/><use href="#gd" x="1608"/><use href="#rf" x="1702.6"/><use href="#V" x="1797.2"/><use href="#rc" x="1891.8"/><use href="#Vc" x="1986.4"/><use href="#Ac" x="2081"/></g>
<g transform="translate(0,91.5) scale(0.1378,0.1498)"><use href="#xc" x="0"/><use href="#yh" x="94.6"/><use href="#hb" x="189.2"/><use href="#ic" x="283.8"/><use href="#ed" x="378.4"/><use href="#p" x="473"/><use href="#ic" x="567.5"/><use href="#xd" x="662.1"/><use href="#jf" x="756.7"/><use href="#zh" x="805.9"/><use href="#Fc" x="900.5"/><use href="#ic" x="995.1"/><use href="#zc" x="1089.7"/></g>
<g transform="translate(0,109.8) scale(0.1378,0.1498)"><use href="#Ah" x="0"/><use href="#od" x="94.6"/><use href="#sc" x="189.2"/><use href="#U" x="283.8"/><use href="#rc" x="378.4"/><use href="#gd" x="473"/><use href="#Fc" x="567.5"/><use href="#cc" x="662.1"/><use href="#M" x="756.7"/><use href="#N" x="851.3"/><use href="#O" x="945.9"/><use href="#H" x="1040.5"/><use href="#Ac" x="1135.1"/><use href="#He" x="1229.7"/><use href="#Ob" x="1324.3"/><use href="#rd" x="1418.9"/><use href="#wd" x="1513.5"/><use href="#Dc" x="1608"/><use href="#Fc" x="1702.6"/><use href="#Xd" x="1797.2"/></g>
</g>
<g transform="translate(1391.9,405.4)">
<g transform="translate(0,0) scale(0.1605,0.1605)"><use href="#Bh" x="0"/><use href="#Ch" x="105.4"/><use href="#Xd" x="210.9"/></g>
<g transform="translate(0,16.8) scale(0.1605,0.1605)"><use href="#cg" x="0"/><use href="#Dh" x="105.4"/><use href="#Zb" x="210.9"/><use href="#Xc" x="316.3"/><use href="#Fc" x="421.7"/><use href="#q" x="527.1"/><use href="#Qc" x="632.6"/><use href="#Ob" x="738"/><use href="#Eh" x="843.4"/><use href="#rc" x="948.9"/><use href="#xe" x="1054.3"/></g>
<g transform="translate(0,33.6) scale(0.1605,0.1605)"><use href="#Fh" x="0"/><use href="#Gh" x="105.4"/><use href="#oe" x="210.9"/><use href="#cc" x="316.3"/><use href="#V" x="421.7"/><use href="#pd" x="527.1"/><use href="#r" x="632.6"/><use href="#hc" x="738"/><use href="#Qc" x="843.4"/><use href="#Ob" x="948.9"/></g>
<g transform="translate(0,50.4) scale(0.1605,0.1605)"><use href="#Nd" x="0"/><use href="#Hh" x="105.4"/><use href="#tc" x="210.9"/><use href="#Zc" x="316.3"/><use href="#Ig" x="421.7"/><use href="#Lb" x="527.1"/><use href="#oe" x="632.6"/><use href="#cc" x="738"/><use href="#qc" x="843.4"/><use href="#Oc" x="948.9"/><use href="#Ob" x="1054.3"/><use href="#Xd" x="1159.7"/></g>
<g transform="translate(0,67.2) scale(0.1605,0.1605)"><use href="#Nd" x="0"/><use href="#sc" x="105.4"/><use href="#Nd" x="210.9"/><use href="#ed" x="316.3"/><use href="#p" x="421.7"/><use href="#Td" x="527.1"/><use href="#wc" x="632.6"/><use href="#xc" x="738"/><use href="#qc" x="843.4"/><use href="#Oc" x="948.9"/><use href="#Ac" x="1054.3"/></g>
<g transform="translate(0,84) scale(0.1605,0.1605)"><use href="#pd" x="0"/><use href="#pc" x="105.4"/><use href="#Dc" x="210.9"/><use href="#Zc" x="316.3"/><use href="#Dc" x="421.7"/><use href="#Kd" x="527.1"/><use href="#wc" x="632.6"/><use href="#Fc" x="738"/><use href="#Zb" x="843.4"/><use href="#Ih" x="948.9"/><use href="#md" x="1054.3"/><use href="#Xd" x="1159.7"/></g>
</g>
<g transform="translate(1398.5,594.6)">
<g transform="translate(0,0) scale(0.1498,0.1498)"><use href="#wc" x="0"/><use href="#ie" x="100.7"/><use href="#re" x="201.4"/><use href="#Xd" x="302"/></g>
<g transform="translate(0,15.5) scale(0.1498,0.1498)"><use href="#X" x="0"/><use href="#Y" x="100.7"/><use href="#Z" x="201.4"/><use href="#ab" x="302"/><use href="#H" x="402.7"/><use href="#p" x="503.4"/><use href="#We" x="604.1"/><use href="#Jh" x="704.7"/><use href="#Kh" x="805.4"/><use href="#Q" x="906.1"/><use href="#gd" x="1006.8"/><use href="#Fc" x="1107.4"/><use href="#cc" x="1208.1"/><use href="#Xd" x="1308.8"/></g>
<g transform="translate(0,31) scale(0.1498,0.1498)"><use href="#Lh" x="0"/><use href="#p" x="100.7"/><use href="#Fe" x="201.4"/><use href="#Xc" x="302"/><use href="#Yc" x="402.7"/><use href="#Ec" x="503.4"/><use href="#tc" x="604.1"/><use href="#xe" x="704.7"/><use href="#Xd" x="805.4"/></g>
<g transform="translate(0,46.5) scale(0.1498,0.1498)"><use href="#Tb" x="-40.3"/><use href="#X" x="60.4"/><use href="#Y" x="161.1"/><use href="#Z" x="261.8"/><use href="#ab" x="362.4"/><use href="#H" x="463.1"/><use href="#p" x="563.8"/><use href="#Mh" x="664.5"/><use href="#Nh" x="765.1"/><use href="#Oh" x="865.8"/></g>
<g transform="translate(0,62) scale(0.1498,0.1498)"><use href="#S" x="0"/><use href="#T" x="100.7"/><use href="#U" x="201.4"/><use href="#V" x="302"/><use href="#Gb" x="402.7"/><use href="#uc" x="503.4"/><use href="#qd" x="604.1"/><use href="#Ph" x="704.7"/><use href="#Kd" x="805.4"/><use href="#Ob" x="906.1"/><use href="#Nd" x="1006.8"/><use href="#gd" x="1107.4"/><use href="#Fc" x="1208.1"/><use href="#cc" x="1308.8"/></g>
<g transform="translate(0,77.5) scale(0.1498,0.1498)"><use href="#Qh" x="0"/><use href="#Rh" x="100.7"/><use href="#yg" x="201.4"/><use href="#Zc" x="302"/><use href="#Sh" x="402.7"/><use href="#Th" x="503.4"/><use href="#Nd" x="604.1"/><use href="#gd" x="704.7"/><use href="#Fc" x="805.4"/><use href="#cc" x="906.1"/><use href="#Vc" x="1006.8"/><use href="#dd" x="1107.4"/></g>
<g transform="translate(0,93) scale(0.1498,0.1498)"><use href="#Uh" x="0"/><use href="#Vh" x="100.7"/><use href="#Td" x="201.4"/><use href="#Ob" x="302"/><use href="#Wh" x="402.7"/><use href="#ue" x="503.4"/><use href="#pd" x="604.1"/><use href="#S" x="704.7"/><use href="#T" x="805.4"/><use href="#U" x="906.1"/><use href="#V" x="1006.8"/><use href="#Gb" x="1107.4"/></g>
<g transform="translate(0,108.5) scale(0.1498,0.1498)"><use href="#K" x="0"/><use href="#db" x="100.7"/><use href="#ab" x="201.4"/><use href="#C" x="302"/><use href="#fb" x="402.7"/><use href="#gb" x="503.4"/><use href="#hb" x="604.1"/><use href="#Zb" x="704.7"/><use href="#uc" x="805.4"/><use href="#qd" x="906.1"/></g>
<g transform="translate(0,124) scale(0.1498,0.1498)"><use href="#xd" x="0"/><use href="#Nd" x="100.7"/><use href="#xd" x="201.4"/><use href="#Nd" x="302"/><use href="#Oc" x="402.7"/><use href="#Ah" x="503.4"/><use href="#od" x="604.1"/><use href="#sc" x="704.7"/><use href="#Nd" x="805.4"/><use href="#gd" x="906.1"/><use href="#Fc" x="1006.8"/><use href="#cc" x="1107.4"/><use href="#Xd" x="1208.1"/><use href="#Yb" x="1260.5"/></g>
</g>
<g transform="translate(1346.7,843.2)">
<g transform="translate(0,0) scale(0.1605,0.1605)"><use href="#Jh" x="0"/><use href="#Kh" x="102.2"/><use href="#Q" x="204.5"/><use href="#Vc" x="306.7"/><use href="#Yc" x="409"/><use href="#Ic" x="511.2"/><use href="#Bh" x="613.4"/><use href="#Ch" x="715.7"/><use href="#Xd" x="817.9"/></g>
<g transform="translate(0,19.4) scale(0.1605,0.1605)"><use href="#qg" x="0"/><use href="#Zc" x="102.2"/><use href="#Dc" x="204.5"/><use href="#cc" x="306.7"/><use href="#V" x="409"/><use href="#pd" x="511.2"/><use href="#Ie" x="613.4"/><use href="#Xh" x="715.7"/><use href="#Ob" x="817.9"/><use href="#Ce" x="920.2"/><use href="#cc" x="1022.4"/><use href="#qc" x="1124.7"/><use href="#Oc" x="1226.9"/><use href="#Zb" x="1329.1"/></g>
<g transform="translate(0,38.8) scale(0.1605,0.1605)"><use href="#S" x="0"/><use href="#T" x="102.2"/><use href="#U" x="204.5"/><use href="#V" x="306.7"/><use href="#Ob" x="409"/><use href="#Yh" x="511.2"/><use href="#dd" x="613.4"/><use href="#tc" x="715.7"/><use href="#rc" x="817.9"/><use href="#gd" x="920.2"/><use href="#Fc" x="1022.4"/><use href="#cc" x="1124.7"/><use href="#Xd" x="1226.9"/></g>
</g>
<g transform="translate(1725.5,507.3)">
<g transform="translate(0,0) scale(0.1766,0.1766)"><use href="#Ge" x="0"/><use href="#Zh" x="101.6"/><use href="#Fc" x="203.1"/><use href="#ai" x="304.7"/><use href="#be" x="406.3"/><use href="#Xd" x="507.8"/></g>
<g transform="translate(0,18.3) scale(0.1766,0.1766)"><use href="#C" x="0"/><use href="#jb" x="101.6"/><use href="#M" x="203.1"/><use href="#Lg" x="304.7"/><use href="#M" x="406.3"/><use href="#Ob" x="507.8"/><use href="#Gb" x="609.4"/></g>
<g transform="translate(0,36.6) scale(0.1766,0.1766)"><use href="#B" x="0"/><use href="#mb" x="101.6"/><use href="#Z" x="203.1"/><use href="#Ob" x="304.7"/><use href="#Dc" x="406.3"/><use href="#Q" x="507.8"/><use href="#gd" x="609.4"/></g>
<g transform="translate(0,54.9) scale(0.1766,0.1766)"><use href="#Cc" x="0"/><use href="#Qe" x="101.6"/><use href="#Ob" x="203.1"/></g>
<g transform="translate(0,73.2) scale(0.1766,0.1766)"><use href="#bi" x="0"/><use href="#db" x="101.6"/><use href="#ci" x="203.1"/><use href="#mb" x="304.7"/><use href="#H" x="406.3"/></g>
<g transform="translate(0,91.5) scale(0.1766,0.1766)"><use href="#Zb" x="0"/><use href="#di" x="101.6"/><use href="#Yc" x="203.1"/><use href="#Vc" x="304.7"/></g>
</g>
<g transform="translate(1724.1,786.7)">
<g transform="translate(0,0) scale(0.2033,0.2033)"><use href="#Ge" x="0"/><use href="#Zh" x="95.9"/><use href="#Fc" x="191.8"/><use href="#ai" x="287.8"/><use href="#be" x="383.7"/></g>
</g>
<g transform="translate(1724.1,810.6)">
<g transform="translate(0,0) scale(0.2033,0.2033)"><use href="#E" x="0"/><use href="#F" x="77.9"/><use href="#G" x="155.9"/><use href="#H" x="233.8"/><use href="#jb" x="311.7"/><use href="#X" x="389.7"/><use href="#p" x="467.6"/></g>
</g>
<g transform="translate(1726,836.4)">
<g transform="translate(0,0) scale(0.2033,0.2033)"><use href="#ei" x="0"/><use href="#Qe" x="61.4"/><use href="#Td" x="157.3"/><use href="#Ud" x="253.2"/></g>
</g>
<g transform="translate(780.1,1068.9)">
<g transform="translate(0,0) scale(0.2643,0.2782)"><use href="#fi" x="0"/><use href="#Nd" x="92.2"/><use href="#gd" x="184.4"/><use href="#Hc" x="276.6"/><use href="#fi" x="368.9"/><use href="#Nd" x="461.1"/><use href="#gd" x="553.3"/><use href="#Hc" x="645.5"/><use href="#Ld" x="737.7"/><use href="#gi" x="829.9"/><use href="#Ob" x="922.2"/><use href="#hi" x="1014.4"/><use href="#Zc" x="1106.6"/><use href="#Xd" x="1198.8"/></g>
<g transform="translate(0,32.8) scale(0.2643,0.2782)"><use href="#ii" x="0"/><use href="#ji" x="92.2"/><use href="#Gb" x="184.4"/><use href="#q" x="276.6"/><use href="#r" x="368.9"/><use href="#s" x="461.1"/><use href="#p" x="553.3"/><use href="#Zg" x="645.5"/><use href="#p" x="737.7"/><use href="#eh" x="829.9"/><use href="#Cd" x="922.2"/><use href="#Xd" x="1014.4"/></g>
<g transform="translate(0,65.6) scale(0.2643,0.2782)"><use href="#ki" x="0"/><use href="#Kd" x="92.2"/><use href="#Gb" x="184.4"/><use href="#Ed" x="276.6"/><use href="#li" x="368.9"/><use href="#Xd" x="461.1"/></g>
</g>
<g transform="translate(839.6,1250.5)">
<g transform="translate(0,0) scale(0.1502,0.1926)"><use href="#Ke" x="0"/><use href="#re" x="93.2"/><use href="#Ob" x="186.4"/><use href="#Ce" x="279.7"/><use href="#gd" x="372.9"/><use href="#Fc" x="466.1"/><use href="#V" x="559.3"/><use href="#Uc" x="652.6"/><use href="#hb" x="745.8"/><use href="#Ac" x="839"/></g>
<g transform="translate(0,23.5) scale(0.1502,0.1926)"><use href="#q" x="0"/><use href="#r" x="93.2"/><use href="#s" x="186.4"/><use href="#Gb" x="279.7"/><use href="#V" x="372.9"/><use href="#Pd" x="466.1"/><use href="#V" x="559.3"/><use href="#Pd" x="652.6"/><use href="#Fc" x="745.8"/><use href="#V" x="839"/><use href="#oe" x="932.2"/><use href="#zc" x="1025.4"/></g>
<g transform="translate(0,47) scale(0.1502,0.1926)"><use href="#K" x="0"/><use href="#db" x="93.2"/><use href="#ab" x="186.4"/><use href="#C" x="279.7"/><use href="#fb" x="372.9"/><use href="#gb" x="466.1"/><use href="#hb" x="559.3"/><use href="#Pd" x="652.6"/><use href="#Yc" x="745.8"/><use href="#Ob" x="839"/><use href="#Xc" x="932.2"/><use href="#mi" x="1025.4"/><use href="#Zb" x="1118.7"/><use href="#Xc" x="1211.9"/><use href="#wd" x="1305.1"/><use href="#Uc" x="1398.3"/><use href="#Dc" x="1491.6"/><use href="#Fc" x="1584.8"/><use href="#xd" x="1678"/><use href="#xc" x="1771.2"/><use href="#Ob" x="1864.4"/></g>
<g transform="translate(0,70.5) scale(0.1502,0.1926)"><use href="#Ie" x="0"/><use href="#Xh" x="93.2"/><use href="#Ob" x="186.4"/><use href="#Ce" x="279.7"/><use href="#gd" x="372.9"/><use href="#Fc" x="466.1"/><use href="#cc" x="559.3"/><use href="#R" x="652.6"/><use href="#Hc" x="745.8"/><use href="#ze" x="839"/><use href="#Ae" x="932.2"/><use href="#zc" x="1025.4"/></g>
</g>
<g transform="translate(1501.2,1058.6)">
<g transform="translate(0,0) scale(0.1391,0.1391)"><use href="#q" x="0"/><use href="#r" x="97.9"/><use href="#s" x="195.8"/><use href="#Pd" x="293.7"/><use href="#Yc" x="391.6"/><use href="#Ic" x="489.5"/><use href="#S" x="587.4"/><use href="#T" x="685.3"/><use href="#U" x="783.2"/><use href="#V" x="881.1"/><use href="#Tb" x="939.9"/><use href="#q" x="1037.8"/><use href="#W" x="1135.7"/><use href="#Yb" x="1233.6"/><use href="#p" x="1292.3"/></g>
<g transform="translate(0,16.7) scale(0.1391,0.1391)"><use href="#yf" x="0"/><use href="#Gg" x="97.9"/><use href="#pd" x="195.8"/><use href="#Gb" x="293.7"/><use href="#Dc" x="391.6"/><use href="#Fc" x="489.5"/><use href="#Xd" x="587.4"/></g>
<g transform="translate(0,33.4) scale(0.1391,0.1391)"><use href="#M" x="0"/><use href="#N" x="97.9"/><use href="#O" x="195.8"/><use href="#H" x="293.7"/><use href="#xd" x="391.6"/><use href="#Kd" x="489.5"/><use href="#Qe" x="587.4"/><use href="#Ib" x="685.3"/><use href="#Pd" x="783.2"/><use href="#Ac" x="881.1"/></g>
<g transform="translate(0,50.1) scale(0.1391,0.1391)"><use href="#K" x="0"/><use href="#db" x="97.9"/><use href="#ab" x="195.8"/><use href="#C" x="293.7"/><use href="#xd" x="391.6"/><use href="#Kd" x="489.5"/><use href="#Qe" x="587.4"/><use href="#Cd" x="685.3"/><use href="#p" x="783.2"/><use href="#cb" x="881.1"/><use href="#p" x="979"/><use href="#R" x="1076.9"/><use href="#Xd" x="1174.8"/></g>
<g transform="translate(0,66.8) scale(0.1391,0.1391)"><use href="#we" x="0"/><use href="#xe" x="97.9"/><use href="#sc" x="195.8"/><use href="#Nd" x="293.7"/><use href="#Ac" x="391.6"/><use href="#Kd" x="489.5"/><use href="#ni" x="587.4"/><use href="#U" x="685.3"/><use href="#hb" x="783.2"/><use href="#Xd" x="881.1"/></g>
<g transform="translate(0,83.5) scale(0.1391,0.1391)"><use href="#oi" x="0"/><use href="#Ie" x="97.9"/><use href="#p" x="195.8"/><use href="#pi" x="293.7"/><use href="#Kd" x="391.6"/><use href="#qi" x="489.5"/><use href="#Ob" x="587.4"/><use href="#ri" x="685.3"/><use href="#si" x="783.2"/><use href="#oe" x="881.1"/><use href="#cc" x="979"/></g>
<g transform="translate(0,100.2) scale(0.1391,0.1391)"><use href="#dc" x="0"/><use href="#ec" x="97.9"/><use href="#Zb" x="195.8"/><use href="#ti" x="293.7"/><use href="#Q" x="391.6"/><use href="#gd" x="489.5"/><use href="#ed" x="587.4"/><use href="#xc" x="685.3"/><use href="#ic" x="783.2"/><use href="#Bd" x="881.1"/></g>
</g>
<g transform="translate(1496.1,1245.4)">
<g transform="translate(0,0) scale(0.1391,0.1391)"><use href="#yf" x="0"/><use href="#Gb" x="99.1"/><use href="#q" x="198.2"/><use href="#r" x="297.3"/><use href="#s" x="396.3"/><use href="#Xd" x="495.4"/></g>
<g transform="translate(0,16.8) scale(0.1391,0.1391)"><use href="#db" x="0"/><use href="#ab" x="99.1"/><use href="#ib" x="198.2"/><use href="#G" x="297.3"/><use href="#p" x="396.3"/><use href="#mh" x="451.8"/><use href="#Cd" x="550.9"/><use href="#ui" x="650"/><use href="#vi" x="749.1"/><use href="#s" x="848.2"/><use href="#nh" x="947.3"/><use href="#wi" x="1002.8"/><use href="#xi" x="1101.8"/><use href="#Gb" x="1200.9"/><use href="#q" x="1300"/><use href="#W" x="1399.1"/><use href="#p" x="1498.2"/><use href="#yf" x="1597.3"/><use href="#p" x="1696.4"/><use href="#R" x="1795.4"/><use href="#pd" x="1894.5"/><use href="#Gb" x="1993.6"/><use href="#Dc" x="2092.7"/><use href="#Fc" x="2191.8"/></g>
<g transform="translate(0,33.6) scale(0.1391,0.1391)"><use href="#qc" x="0"/><use href="#Oc" x="99.1"/><use href="#sc" x="198.2"/><use href="#tc" x="297.3"/><use href="#p" x="396.3"/><use href="#yi" x="495.4"/><use href="#Qg" x="594.5"/><use href="#Xd" x="693.6"/></g>
<g transform="translate(0,50.4) scale(0.1391,0.1391)"><use href="#zi" x="0"/><use href="#p" x="99.1"/><use href="#Yd" x="198.2"/><use href="#Ai" x="297.3"/><use href="#ic" x="396.3"/><use href="#Bd" x="495.4"/><use href="#Bi" x="594.5"/><use href="#Bi" x="693.6"/><use href="#Bi" x="792.7"/><use href="#jf" x="891.8"/><use href="#Ec" x="943.3"/><use href="#tc" x="1042.4"/><use href="#Dc" x="1141.5"/><use href="#Fc" x="1240.6"/><use href="#qh" x="1339.6"/><use href="#Ac" x="1438.7"/><use href="#Rh" x="1537.8"/><use href="#Ci" x="1636.9"/><use href="#Fc" x="1736"/><use href="#pd" x="1835.1"/><use href="#Nd" x="1934.2"/><use href="#Di" x="2033.3"/><use href="#xc" x="2132.3"/><use href="#Bd" x="2231.4"/></g>
<g transform="translate(0,67.2) scale(0.1391,0.1391)"><use href="#zi" x="0"/><use href="#Gb" x="99.1"/><use href="#Ei" x="198.2"/><use href="#qh" x="297.3"/><use href="#pd" x="396.3"/><use href="#Hc" x="495.4"/><use href="#ad" x="594.5"/><use href="#Kd" x="693.6"/><use href="#Ei" x="792.7"/><use href="#qh" x="891.8"/><use href="#Gb" x="990.9"/><use href="#zi" x="1090"/><use href="#pd" x="1189"/><use href="#Hc" x="1288.1"/><use href="#ad" x="1387.2"/><use href="#cc" x="1486.3"/><use href="#p" x="1585.4"/><use href="#pd" x="1684.5"/><use href="#oe" x="1783.6"/><use href="#Tb" x="1843"/><use href="#yi" x="1942.1"/><use href="#Qg" x="2041.2"/><use href="#Fi" x="2140.3"/><use href="#Yb" x="2239.4"/></g>
</g>
<g transform="translate(1725.7,886.7)" fill="#f2696f" stroke="#fff" stroke-width="31.6" stroke-linejoin="round" paint-order="stroke">
<g transform="translate(0,0) scale(0.19,0.19)"><use href="#Gi" x="0"/></g>
</g>
<g transform="translate(1725.6,937.6)" fill="#f2696f" stroke="#fff" stroke-width="40" stroke-linejoin="round" paint-order="stroke">
<g transform="translate(0,0) scale(0.2,0.2)"><use href="#Hi" x="0"/><use href="#Ii" x="170"/><use href="#Ji" x="340"/><use href="#Ki" x="510"/><use href="#Li" x="680"/><use href="#Mi" x="850"/></g>
</g>
<g transform="translate(1725.6,984.6)" fill="#f2696f" stroke="#fff" stroke-width="40" stroke-linejoin="round" paint-order="stroke">
<g transform="translate(0,0) scale(0.2,0.2)"><use href="#Hi" x="0"/><use href="#Ni" x="170"/><use href="#Oi" x="340"/><use href="#Ki" x="510"/><use href="#Li" x="680"/><use href="#Mi" x="850"/></g>
</g>
<g transform="translate(1725.6,1031.6)" fill="#f2696f" stroke="#fff" stroke-width="40" stroke-linejoin="round" paint-order="stroke">
<g transform="translate(0,0) scale(0.2,0.2)"><use href="#Pi" x="0"/><use href="#Qi" x="195"/></g>
</g>
<g transform="translate(1725.6,1078.6)" fill="#f2696f" stroke="#fff" stroke-width="40" stroke-linejoin="round" paint-order="stroke">
<g transform="translate(0,0) scale(0.2,0.2)"><use href="#Ri" x="0"/><use href="#Si" x="197.5"/><use href="#Ti" x="395"/><use href="#Ui" x="592.5"/><use href="#Vi" x="790"/><use href="#Qi" x="987.5"/></g>
</g>
<g transform="translate(1725.6,1125.6)" fill="#f2696f" stroke="#fff" stroke-width="40" stroke-linejoin="round" paint-order="stroke">
<g transform="translate(0,0) scale(0.2,0.2)"><use href="#Wi" x="0"/><use href="#Xi" x="197.5"/><use href="#Yi" x="395"/><use href="#Zi" x="592.5"/><use href="#aj" x="790"/><use href="#bj" x="987.5"/></g>
</g>
</svg></body></html>
